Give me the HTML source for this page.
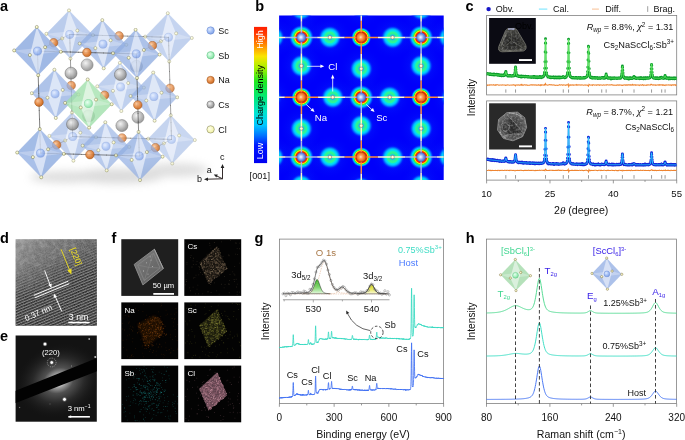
<!DOCTYPE html>
<html><head><meta charset="utf-8"><title>Figure</title>
<style>
html,body{margin:0;padding:0;background:#fff;}
body{width:685px;height:440px;overflow:hidden;}
svg{display:block;font-family:'Liberation Sans', Arial, Helvetica, sans-serif;}
</style></head><body>
<svg width="685" height="440" viewBox="0 0 685 440">
<defs>
<radialGradient id="gSc" cx="0.38" cy="0.35" r="0.7"><stop offset="0" stop-color="#dde9ff"/><stop offset="0.6" stop-color="#9dbaf3"/><stop offset="1" stop-color="#7c9de2"/></radialGradient>
<radialGradient id="gSb" cx="0.38" cy="0.35" r="0.7"><stop offset="0" stop-color="#e6fff0"/><stop offset="0.6" stop-color="#a4f0bc"/><stop offset="1" stop-color="#78d898"/></radialGradient>
<radialGradient id="gNa" cx="0.38" cy="0.35" r="0.7"><stop offset="0" stop-color="#fbc79a"/><stop offset="0.55" stop-color="#e58a45"/><stop offset="1" stop-color="#c4651f"/></radialGradient>
<radialGradient id="gCs" cx="0.38" cy="0.35" r="0.7"><stop offset="0" stop-color="#f2f2f2"/><stop offset="0.55" stop-color="#b4b4b4"/><stop offset="1" stop-color="#808080"/></radialGradient>
<radialGradient id="gCl" cx="0.4" cy="0.38" r="0.7"><stop offset="0" stop-color="#ffffe8"/><stop offset="0.7" stop-color="#f6f6b4"/><stop offset="1" stop-color="#dcdc90"/></radialGradient>
<filter id="blurA" x="-30%" y="-100%" width="160%" height="300%"><feGaussianBlur stdDeviation="4"/></filter>
<clipPath id="clipB"><rect x="279.1" y="15.5" width="164.6" height="164.5"/></clipPath>
<linearGradient id="cbar" x1="0" y1="0" x2="0" y2="1">
<stop offset="0" stop-color="#ff1e00"/><stop offset="0.06" stop-color="#ff4000"/><stop offset="0.14" stop-color="#ff9000"/><stop offset="0.215" stop-color="#fbe400"/>
<stop offset="0.30" stop-color="#a8f000"/><stop offset="0.40" stop-color="#20e820"/><stop offset="0.52" stop-color="#00e878"/><stop offset="0.63" stop-color="#00e4d0"/><stop offset="0.72" stop-color="#00c8ff"/>
<stop offset="0.80" stop-color="#0070ff"/><stop offset="0.87" stop-color="#0018ff"/><stop offset="1" stop-color="#0000f0"/></linearGradient>
<radialGradient id="haloCl"><stop offset="0" stop-color="#2a8cf0"/>
<stop offset="0.18" stop-color="#18b8f0"/><stop offset="0.27" stop-color="#28e8a8"/><stop offset="0.33" stop-color="#2cf490"/><stop offset="0.44" stop-color="#2cf49c"/>
<stop offset="0.52" stop-color="#04e8e0"/><stop offset="0.62" stop-color="#00ccff"/><stop offset="0.70" stop-color="#00a0ff"/><stop offset="0.80" stop-color="#0058ff" stop-opacity="0.9"/><stop offset="0.9" stop-color="#0020ff" stop-opacity="0.5"/><stop offset="1" stop-color="#0010ff" stop-opacity="0"/></radialGradient>
<radialGradient id="haloSc"><stop offset="0" stop-color="#ff2000"/><stop offset="0.44" stop-color="#ff2000"/><stop offset="0.48" stop-color="#ff7800"/><stop offset="0.525" stop-color="#f8f000"/>
<stop offset="0.59" stop-color="#48f020"/><stop offset="0.66" stop-color="#00ecb0"/><stop offset="0.74" stop-color="#00c8ff"/><stop offset="0.85" stop-color="#0070ff" stop-opacity="0.85"/><stop offset="1" stop-color="#0010ff" stop-opacity="0"/></radialGradient>
<radialGradient id="haloNa"><stop offset="0" stop-color="#ff2000"/><stop offset="0.55" stop-color="#ff2000"/><stop offset="0.6" stop-color="#ff7800"/><stop offset="0.645" stop-color="#f8f000"/>
<stop offset="0.70" stop-color="#48f020"/><stop offset="0.76" stop-color="#00ecb0"/><stop offset="0.82" stop-color="#00c0ff"/><stop offset="0.9" stop-color="#0060ff" stop-opacity="0.8"/><stop offset="1" stop-color="#0010ff" stop-opacity="0"/></radialGradient>
<radialGradient id="broadB"><stop offset="0" stop-color="#1060ff" stop-opacity="0.34"/><stop offset="0.5" stop-color="#0840ff" stop-opacity="0.18"/><stop offset="1" stop-color="#0018ff" stop-opacity="0"/></radialGradient>
<radialGradient id="sphSc" cx="0.45" cy="0.48" r="0.6"><stop offset="0" stop-color="#ffffff"/><stop offset="0.2" stop-color="#c8dcff"/><stop offset="0.6" stop-color="#6f8fe0"/><stop offset="1" stop-color="#4560b8"/></radialGradient>
<radialGradient id="sphNa" cx="0.45" cy="0.48" r="0.6"><stop offset="0" stop-color="#ffe8c8"/><stop offset="0.25" stop-color="#ffa860"/><stop offset="0.7" stop-color="#e86818"/><stop offset="1" stop-color="#b04008"/></radialGradient>
<radialGradient id="sphCl" cx="0.45" cy="0.45" r="0.6"><stop offset="0" stop-color="#ffffff"/><stop offset="0.6" stop-color="#fff8c8"/><stop offset="1" stop-color="#d8c070"/></radialGradient>
<clipPath id="clipC1"><rect x="486.6" y="15.4" width="190.1" height="79.5"/></clipPath><clipPath id="clipC2"><rect x="486.6" y="100.9" width="190.1" height="79.2"/></clipPath>
<radialGradient id="cryT" cx="0.5" cy="0.6" r="0.6"><stop offset="0" stop-color="#1f1f1e"/><stop offset="0.55" stop-color="#2e2e2b"/><stop offset="1" stop-color="#4c4c46"/></radialGradient>
<radialGradient id="cryB" cx="0.5" cy="0.52" r="0.55"><stop offset="0" stop-color="#3c3c3c"/><stop offset="0.6" stop-color="#4e4e4e"/><stop offset="0.9" stop-color="#6c6c6c"/><stop offset="1" stop-color="#7a7a7a"/></radialGradient>
<filter id="blur06"><feGaussianBlur stdDeviation="0.6"/></filter><filter id="blur1"><feGaussianBlur stdDeviation="1"/></filter>
<clipPath id="clipCB"><path d="M507 112.6L517.5 112.2L524.6 117.6L526.6 127.4L522.6 136.6L513 140.8L503.4 138.4L497.6 130L498.6 119.4Z"/></clipPath><clipPath id="clipCT"><path d="M508 28.6L514.4 28.4Q516.4 28.8 517.6 31L525.6 44.6Q527.4 49.6 523.4 51L502 51.8Q497.4 51.2 498.8 46.6L505.4 31Q506.4 29 508 28.6Z"/></clipPath><filter id="noiseC" x="0" y="0" width="100%" height="100%"><feTurbulence type="fractalNoise" baseFrequency="0.45" numOctaves="2" seed="5" result="n"/><feColorMatrix in="n" type="matrix" values="0 0 0 0 0.75  0 0 0 0 0.75  0 0 0 0 0.75  2.2 0 0 0 -0.85"/></filter><filter id="noiseCd" x="0" y="0" width="100%" height="100%"><feTurbulence type="fractalNoise" baseFrequency="0.4" numOctaves="2" seed="9" result="n"/><feColorMatrix in="n" type="matrix" values="0 0 0 0 0.05  0 0 0 0 0.05  0 0 0 0 0.05  0 2.2 0 0 -0.85"/></filter>
<clipPath id="clipD"><rect x="15.6" y="239.2" width="81.2" height="86.5"/></clipPath>
<linearGradient id="dBase" x1="0" y1="0" x2="1" y2="1"><stop offset="0" stop-color="#a2a2a2"/><stop offset="0.2" stop-color="#7c7c7c"/><stop offset="0.45" stop-color="#666666"/><stop offset="1" stop-color="#4c4c4c"/></linearGradient>
<pattern id="fringe" width="2.6" height="2.6" patternUnits="userSpaceOnUse" patternTransform="rotate(-22.4)"><rect width="2.6" height="2.6" fill="#868686"/><rect y="0" width="2.6" height="1.45" fill="#1a1a1a"/></pattern>
<linearGradient id="fadeD" gradientUnits="userSpaceOnUse" x1="38" y1="256" x2="52" y2="290"><stop offset="0" stop-color="#000"/><stop offset="0.25" stop-color="#2a2a2a"/><stop offset="0.55" stop-color="#777"/><stop offset="1" stop-color="#fff"/></linearGradient>
<mask id="maskD"><rect x="0" y="200" width="140" height="160" fill="url(#fadeD)"/></mask>
<filter id="noiseD" x="0" y="0" width="100%" height="100%"><feTurbulence type="fractalNoise" baseFrequency="0.9" numOctaves="2" seed="3" result="n"/><feColorMatrix in="n" type="matrix" values="0 0 0 0 0.42  0 0 0 0 0.42  0 0 0 0 0.42  1.6 0 0 0 -0.45"/></filter>
<filter id="noiseD3" x="0" y="0" width="100%" height="100%"><feTurbulence type="fractalNoise" baseFrequency="0.12" numOctaves="2" seed="21" result="n"/><feColorMatrix in="n" type="matrix" values="0 0 0 0 0.1  0 0 0 0 0.1  0 0 0 0 0.1  0 1.8 0 0 -0.65"/></filter>
<filter id="noiseD2" x="0" y="0" width="100%" height="100%"><feTurbulence type="fractalNoise" baseFrequency="0.25" numOctaves="2" seed="8" result="n"/><feColorMatrix in="n" type="matrix" values="0 0 0 0 1  0 0 0 0 1  0 0 0 0 1  1.5 0 0 0 -0.6"/></filter>
<clipPath id="clipE"><rect x="15.6" y="335.5" width="81.2" height="86.2"/></clipPath>
<radialGradient id="eGlow"><stop offset="0" stop-color="#fff"/><stop offset="0.1" stop-color="#f4f4f4"/><stop offset="0.2" stop-color="#9a9a9a"/><stop offset="0.35" stop-color="#505050"/><stop offset="0.6" stop-color="#2a2a2a"/><stop offset="1" stop-color="#161616" stop-opacity="0"/></radialGradient>
<radialGradient id="eSpot"><stop offset="0" stop-color="#fff"/><stop offset="0.35" stop-color="#fff"/><stop offset="0.6" stop-color="#aaa" stop-opacity="0.7"/><stop offset="1" stop-color="#444" stop-opacity="0"/></radialGradient>
<linearGradient id="semG" x1="0" y1="0" x2="1" y2="1"><stop offset="0" stop-color="#7c7c7c"/><stop offset="1" stop-color="#5e5e5e"/></linearGradient>
<linearGradient id="gGreen" x1="0" y1="0" x2="0" y2="1"><stop offset="0" stop-color="#35b82a"/><stop offset="0.55" stop-color="#7fd870"/><stop offset="1" stop-color="#e8f8e0"/></linearGradient><linearGradient id="gYel" x1="0" y1="0" x2="0" y2="1"><stop offset="0" stop-color="#d6d618"/><stop offset="0.55" stop-color="#e8e868"/><stop offset="1" stop-color="#fafae0"/></linearGradient>
</defs>
<rect width="685" height="440" fill="#fff"/>
<text x="0" y="10.8" font-size="14.5" fill="#000" text-anchor="start" font-weight="bold" >a</text>
<text x="255.2" y="10.8" font-size="14.5" fill="#000" text-anchor="start" font-weight="bold" >b</text>
<text x="465.6" y="10.8" font-size="14.5" fill="#000" text-anchor="start" font-weight="bold" >c</text>
<text x="0" y="243" font-size="14.5" fill="#000" text-anchor="start" font-weight="bold" >d</text>
<text x="0" y="341.2" font-size="14.5" fill="#000" text-anchor="start" font-weight="bold" >e</text>
<text x="111.6" y="243" font-size="14.5" fill="#000" text-anchor="start" font-weight="bold" >f</text>
<text x="254.6" y="242.6" font-size="14.5" fill="#000" text-anchor="start" font-weight="bold" >g</text>
<text x="465.8" y="242.6" font-size="14.5" fill="#000" text-anchor="start" font-weight="bold" >h</text>
<g id="panelA">
<g filter="url(#blurA)" opacity="0.36"><ellipse cx="64" cy="177" rx="34" ry="6" fill="#a4a4a4"/><ellipse cx="118" cy="176" rx="46" ry="7.5" fill="#9c9c9c"/><ellipse cx="176" cy="170" rx="32" ry="7" fill="#a8a8a8"/></g>
<path d="M171.5 139.4L171.25 130.89" stroke="#3c3c3c" stroke-width="0.65" stroke-linecap="round" opacity="0.65"/>
<path d="M163.27 139.17L171.5 139.4" stroke="#3c3c3c" stroke-width="0.65" stroke-linecap="round" opacity="0.65"/>
<path d="M171.25 130.89L171 122.38" stroke="#3c3c3c" stroke-width="0.65" stroke-linecap="round" opacity="0.65"/>
<path d="M171 122.38L170.75 113.88" stroke="#3c3c3c" stroke-width="0.65" stroke-linecap="round" opacity="0.66"/>
<path d="M155.03 138.93L163.27 139.17" stroke="#3c3c3c" stroke-width="0.65" stroke-linecap="round" opacity="0.66"/>
<path d="M168.82 140.78L171.5 139.4" stroke="#3c3c3c" stroke-width="0.65" stroke-linecap="round" opacity="0.2"/>
<path d="M170.75 113.88L170.5 105.37" stroke="#3c3c3c" stroke-width="0.65" stroke-linecap="round" opacity="0.66"/>
<path d="M170.5 105.37L170.25 96.86" stroke="#3c3c3c" stroke-width="0.65" stroke-linecap="round" opacity="0.66"/>
<path d="M146.8 138.7L155.03 138.93" stroke="#3c3c3c" stroke-width="0.65" stroke-linecap="round" opacity="0.66"/>
<path d="M170.25 96.86L170 88.35" stroke="#3c3c3c" stroke-width="0.65" stroke-linecap="round" opacity="0.66"/>
<path d="M170 88.35L169.75 79.84" stroke="#3c3c3c" stroke-width="0.65" stroke-linecap="round" opacity="0.67"/>
<path d="M138.57 138.47L146.8 138.7" stroke="#3c3c3c" stroke-width="0.65" stroke-linecap="round" opacity="0.67"/>
<path d="M169.75 79.84L169.5 71.33" stroke="#3c3c3c" stroke-width="0.65" stroke-linecap="round" opacity="0.67"/>
<path d="M169.5 71.33L169.25 62.83" stroke="#3c3c3c" stroke-width="0.65" stroke-linecap="round" opacity="0.67"/>
<path d="M130.33 138.23L138.57 138.47" stroke="#3c3c3c" stroke-width="0.65" stroke-linecap="round" opacity="0.67"/>
<path d="M169.25 62.83L169 54.32" stroke="#3c3c3c" stroke-width="0.65" stroke-linecap="round" opacity="0.68"/>
<path d="M166.13 142.17L168.82 140.78" stroke="#3c3c3c" stroke-width="0.65" stroke-linecap="round" opacity="0.2"/>
<g opacity="0.61">
<polygon points="170.79,115.3 194.82,140.06 172.21,163.5 148.18,138.74" fill="#95b0e4" fill-opacity="0.84" stroke="#7f9cd8" stroke-width="0.3" stroke-opacity="0.6"/>
<polygon points="170.79,115.3 163.9,143.32 172.21,163.5 179.1,135.48" fill="#fff" fill-opacity="0.54"/>
<polygon points="148.18,138.74 163.9,143.32 194.82,140.06 179.1,135.48" fill="#fff" fill-opacity="0.3"/>
<polygon points="170.79,115.3 148.18,138.74 163.9,143.32" fill="#7f9cd8" fill-opacity="0.12"/>
<polygon points="172.21,163.5 194.82,140.06 179.1,135.48" fill="#7f9cd8" fill-opacity="0.12"/>
<circle cx="171.5" cy="139.4" r="4.1" fill="url(#gSc)" stroke="#6d8fd6" stroke-width="0.5" opacity="0.9"/>
<circle cx="179.1" cy="135.48" r="1.55" fill="url(#gCl)" stroke="#6e6e50" stroke-width="0.45"/>
<circle cx="170.79" cy="115.3" r="1.55" fill="url(#gCl)" stroke="#6e6e50" stroke-width="0.45"/>
<circle cx="172.21" cy="163.5" r="1.55" fill="url(#gCl)" stroke="#6e6e50" stroke-width="0.45"/>
<circle cx="148.18" cy="138.74" r="1.55" fill="url(#gCl)" stroke="#6e6e50" stroke-width="0.45"/>
<circle cx="194.82" cy="140.06" r="1.55" fill="url(#gCl)" stroke="#6e6e50" stroke-width="0.45"/>
<circle cx="163.9" cy="143.32" r="1.55" fill="url(#gCl)" stroke="#6e6e50" stroke-width="0.45"/>
</g>
<path d="M169 54.32L168.75 45.81" stroke="#3c3c3c" stroke-width="0.65" stroke-linecap="round" opacity="0.68"/>
<path d="M122.1 138L130.33 138.23" stroke="#3c3c3c" stroke-width="0.65" stroke-linecap="round" opacity="0.68"/>
<path d="M168.75 45.81L168.5 37.3" stroke="#3c3c3c" stroke-width="0.65" stroke-linecap="round" opacity="0.68"/>
<path d="M113.87 137.77L122.1 138" stroke="#3c3c3c" stroke-width="0.65" stroke-linecap="round" opacity="0.68"/>
<path d="M160.27 37.07L168.5 37.3" stroke="#3c3c3c" stroke-width="0.65" stroke-linecap="round" opacity="0.68"/>
<path d="M105.63 137.53L113.87 137.77" stroke="#3c3c3c" stroke-width="0.65" stroke-linecap="round" opacity="0.69"/>
<path d="M152.03 36.83L160.27 37.07" stroke="#3c3c3c" stroke-width="0.65" stroke-linecap="round" opacity="0.69"/>
<path d="M165.82 38.68L168.5 37.3" stroke="#3c3c3c" stroke-width="0.65" stroke-linecap="round" opacity="0.21"/>
<circle cx="170" cy="88.35" r="4.3" fill="url(#gNa)" stroke="#9a5018" stroke-width="0.5" opacity="0.78"/>
<path d="M163.45 143.55L166.13 142.17" stroke="#3c3c3c" stroke-width="0.65" stroke-linecap="round" opacity="0.21"/>
<path d="M143.8 36.6L152.03 36.83" stroke="#3c3c3c" stroke-width="0.65" stroke-linecap="round" opacity="0.7"/>
<path d="M97.4 137.3L105.63 137.53" stroke="#3c3c3c" stroke-width="0.65" stroke-linecap="round" opacity="0.7"/>
<path d="M89.17 137.07L97.4 137.3" stroke="#3c3c3c" stroke-width="0.65" stroke-linecap="round" opacity="0.7"/>
<path d="M135.57 36.37L143.8 36.6" stroke="#3c3c3c" stroke-width="0.65" stroke-linecap="round" opacity="0.7"/>
<path d="M80.93 136.83L89.17 137.07" stroke="#3c3c3c" stroke-width="0.65" stroke-linecap="round" opacity="0.71"/>
<path d="M127.33 36.13L135.57 36.37" stroke="#3c3c3c" stroke-width="0.65" stroke-linecap="round" opacity="0.71"/>
<path d="M163.13 40.07L165.82 38.68" stroke="#3c3c3c" stroke-width="0.65" stroke-linecap="round" opacity="0.21"/>
<g opacity="0.65">
<polygon points="167.79,13.2 191.82,37.96 169.21,61.4 145.18,36.64" fill="#95b0e4" fill-opacity="0.84" stroke="#7f9cd8" stroke-width="0.3" stroke-opacity="0.6"/>
<polygon points="167.79,13.2 160.9,41.22 169.21,61.4 176.1,33.38" fill="#fff" fill-opacity="0.54"/>
<polygon points="145.18,36.64 160.9,41.22 191.82,37.96 176.1,33.38" fill="#fff" fill-opacity="0.3"/>
<polygon points="167.79,13.2 145.18,36.64 160.9,41.22" fill="#7f9cd8" fill-opacity="0.12"/>
<polygon points="169.21,61.4 191.82,37.96 176.1,33.38" fill="#7f9cd8" fill-opacity="0.12"/>
<circle cx="168.5" cy="37.3" r="4.1" fill="url(#gSc)" stroke="#6d8fd6" stroke-width="0.5" opacity="0.9"/>
<circle cx="176.1" cy="33.38" r="1.55" fill="url(#gCl)" stroke="#6e6e50" stroke-width="0.45"/>
<circle cx="167.79" cy="13.2" r="1.55" fill="url(#gCl)" stroke="#6e6e50" stroke-width="0.45"/>
<circle cx="169.21" cy="61.4" r="1.55" fill="url(#gCl)" stroke="#6e6e50" stroke-width="0.45"/>
<circle cx="145.18" cy="36.64" r="1.55" fill="url(#gCl)" stroke="#6e6e50" stroke-width="0.45"/>
<circle cx="191.82" cy="37.96" r="1.55" fill="url(#gCl)" stroke="#6e6e50" stroke-width="0.45"/>
<circle cx="160.9" cy="41.22" r="1.55" fill="url(#gCl)" stroke="#6e6e50" stroke-width="0.45"/>
</g>
<circle cx="122.1" cy="138" r="4.3" fill="url(#gNa)" stroke="#9a5018" stroke-width="0.5" opacity="0.79"/>
<path d="M72.7 136.6L80.93 136.83" stroke="#3c3c3c" stroke-width="0.65" stroke-linecap="round" opacity="0.71"/>
<path d="M119.1 35.9L127.33 36.13" stroke="#3c3c3c" stroke-width="0.65" stroke-linecap="round" opacity="0.71"/>
<path d="M160.77 144.93L163.45 143.55" stroke="#3c3c3c" stroke-width="0.65" stroke-linecap="round" opacity="0.21"/>
<path d="M72.7 136.6L72.45 128.09" stroke="#3c3c3c" stroke-width="0.65" stroke-linecap="round" opacity="0.72"/>
<path d="M110.87 35.67L119.1 35.9" stroke="#3c3c3c" stroke-width="0.65" stroke-linecap="round" opacity="0.72"/>
<path d="M72.45 128.09L72.2 119.58" stroke="#3c3c3c" stroke-width="0.65" stroke-linecap="round" opacity="0.72"/>
<path d="M72.2 119.58L71.95 111.07" stroke="#3c3c3c" stroke-width="0.65" stroke-linecap="round" opacity="0.72"/>
<path d="M102.63 35.43L110.87 35.67" stroke="#3c3c3c" stroke-width="0.65" stroke-linecap="round" opacity="0.72"/>
<path d="M70.02 137.98L72.7 136.6" stroke="#3c3c3c" stroke-width="0.65" stroke-linecap="round" opacity="0.22"/>
<path d="M71.95 111.07L71.7 102.57" stroke="#3c3c3c" stroke-width="0.65" stroke-linecap="round" opacity="0.73"/>
<g opacity="0.67">
<polygon points="119.89,62.85 143.92,87.61 121.31,111.05 97.28,86.29" fill="#95b0e4" fill-opacity="0.84" stroke="#7f9cd8" stroke-width="0.3" stroke-opacity="0.6"/>
<polygon points="119.89,62.85 113,90.87 121.31,111.05 128.2,83.03" fill="#fff" fill-opacity="0.54"/>
<polygon points="97.28,86.29 113,90.87 143.92,87.61 128.2,83.03" fill="#fff" fill-opacity="0.3"/>
<polygon points="119.89,62.85 97.28,86.29 113,90.87" fill="#7f9cd8" fill-opacity="0.12"/>
<polygon points="121.31,111.05 143.92,87.61 128.2,83.03" fill="#7f9cd8" fill-opacity="0.12"/>
<circle cx="120.6" cy="86.95" r="4.1" fill="url(#gSc)" stroke="#6d8fd6" stroke-width="0.5" opacity="0.9"/>
<circle cx="128.2" cy="83.03" r="1.55" fill="url(#gCl)" stroke="#6e6e50" stroke-width="0.45"/>
<circle cx="119.89" cy="62.85" r="1.55" fill="url(#gCl)" stroke="#6e6e50" stroke-width="0.45"/>
<circle cx="121.31" cy="111.05" r="1.55" fill="url(#gCl)" stroke="#6e6e50" stroke-width="0.45"/>
<circle cx="97.28" cy="86.29" r="1.55" fill="url(#gCl)" stroke="#6e6e50" stroke-width="0.45"/>
<circle cx="143.92" cy="87.61" r="1.55" fill="url(#gCl)" stroke="#6e6e50" stroke-width="0.45"/>
<circle cx="113" cy="90.87" r="1.55" fill="url(#gCl)" stroke="#6e6e50" stroke-width="0.45"/>
</g>
<path d="M71.7 102.57L71.45 94.06" stroke="#3c3c3c" stroke-width="0.65" stroke-linecap="round" opacity="0.73"/>
<path d="M160.45 41.45L163.13 40.07" stroke="#3c3c3c" stroke-width="0.65" stroke-linecap="round" opacity="0.22"/>
<path d="M94.4 35.2L102.63 35.43" stroke="#3c3c3c" stroke-width="0.65" stroke-linecap="round" opacity="0.73"/>
<path d="M71.45 94.06L71.2 85.55" stroke="#3c3c3c" stroke-width="0.65" stroke-linecap="round" opacity="0.73"/>
<path d="M158.08 146.32L160.77 144.93" stroke="#3c3c3c" stroke-width="0.65" stroke-linecap="round" opacity="0.22"/>
<path d="M71.2 85.55L70.95 77.04" stroke="#3c3c3c" stroke-width="0.65" stroke-linecap="round" opacity="0.73"/>
<path d="M86.17 34.97L94.4 35.2" stroke="#3c3c3c" stroke-width="0.65" stroke-linecap="round" opacity="0.73"/>
<path d="M70.95 77.04L70.7 68.53" stroke="#3c3c3c" stroke-width="0.65" stroke-linecap="round" opacity="0.74"/>
<path d="M70.7 68.53L70.45 60.03" stroke="#3c3c3c" stroke-width="0.65" stroke-linecap="round" opacity="0.74"/>
<path d="M77.93 34.73L86.17 34.97" stroke="#3c3c3c" stroke-width="0.65" stroke-linecap="round" opacity="0.74"/>
<path d="M70.45 60.03L70.2 51.52" stroke="#3c3c3c" stroke-width="0.65" stroke-linecap="round" opacity="0.74"/>
<path d="M67.33 139.37L70.02 137.98" stroke="#3c3c3c" stroke-width="0.65" stroke-linecap="round" opacity="0.22"/>
<g opacity="0.69">
<polygon points="71.99,112.5 96.02,137.26 73.41,160.7 49.38,135.94" fill="#95b0e4" fill-opacity="0.84" stroke="#7f9cd8" stroke-width="0.3" stroke-opacity="0.6"/>
<polygon points="71.99,112.5 65.1,140.52 73.41,160.7 80.3,132.68" fill="#fff" fill-opacity="0.54"/>
<polygon points="49.38,135.94 65.1,140.52 96.02,137.26 80.3,132.68" fill="#fff" fill-opacity="0.3"/>
<polygon points="71.99,112.5 49.38,135.94 65.1,140.52" fill="#7f9cd8" fill-opacity="0.12"/>
<polygon points="73.41,160.7 96.02,137.26 80.3,132.68" fill="#7f9cd8" fill-opacity="0.12"/>
<circle cx="72.7" cy="136.6" r="4.1" fill="url(#gSc)" stroke="#6d8fd6" stroke-width="0.5" opacity="0.9"/>
<circle cx="80.3" cy="132.68" r="1.55" fill="url(#gCl)" stroke="#6e6e50" stroke-width="0.45"/>
<circle cx="71.99" cy="112.5" r="1.55" fill="url(#gCl)" stroke="#6e6e50" stroke-width="0.45"/>
<circle cx="73.41" cy="160.7" r="1.55" fill="url(#gCl)" stroke="#6e6e50" stroke-width="0.45"/>
<circle cx="49.38" cy="135.94" r="1.55" fill="url(#gCl)" stroke="#6e6e50" stroke-width="0.45"/>
<circle cx="96.02" cy="137.26" r="1.55" fill="url(#gCl)" stroke="#6e6e50" stroke-width="0.45"/>
<circle cx="65.1" cy="140.52" r="1.55" fill="url(#gCl)" stroke="#6e6e50" stroke-width="0.45"/>
</g>
<circle cx="119.1" cy="35.9" r="4.3" fill="url(#gNa)" stroke="#9a5018" stroke-width="0.5" opacity="0.82"/>
<path d="M70.2 51.52L69.95 43.01" stroke="#3c3c3c" stroke-width="0.65" stroke-linecap="round" opacity="0.74"/>
<path d="M69.7 34.5L77.93 34.73" stroke="#3c3c3c" stroke-width="0.65" stroke-linecap="round" opacity="0.75"/>
<path d="M157.77 42.83L160.45 41.45" stroke="#3c3c3c" stroke-width="0.65" stroke-linecap="round" opacity="0.22"/>
<path d="M69.95 43.01L69.7 34.5" stroke="#3c3c3c" stroke-width="0.65" stroke-linecap="round" opacity="0.75"/>
<path d="M155.4 147.7L158.08 146.32" stroke="#3c3c3c" stroke-width="0.65" stroke-linecap="round" opacity="0.23"/>
<path d="M67.02 35.88L69.7 34.5" stroke="#3c3c3c" stroke-width="0.65" stroke-linecap="round" opacity="0.23"/>
<circle cx="138" cy="117.32" r="6" fill="url(#gCs)" stroke="#5e5e5e" stroke-width="0.5" opacity="0.83"/>
<circle cx="71.2" cy="85.55" r="4.3" fill="url(#gNa)" stroke="#9a5018" stroke-width="0.5" opacity="0.83"/>
<path d="M64.65 140.75L67.33 139.37" stroke="#3c3c3c" stroke-width="0.65" stroke-linecap="round" opacity="0.23"/>
<path d="M155.08 44.22L157.77 42.83" stroke="#3c3c3c" stroke-width="0.65" stroke-linecap="round" opacity="0.23"/>
<path d="M152.72 149.08L155.4 147.7" stroke="#3c3c3c" stroke-width="0.65" stroke-linecap="round" opacity="0.23"/>
<circle cx="136.5" cy="66.28" r="6" fill="url(#gCs)" stroke="#5e5e5e" stroke-width="0.5" opacity="0.84"/>
<path d="M64.33 37.27L67.02 35.88" stroke="#3c3c3c" stroke-width="0.65" stroke-linecap="round" opacity="0.23"/>
<g opacity="0.73">
<polygon points="68.99,10.4 93.02,35.16 70.41,58.6 46.38,33.84" fill="#95b0e4" fill-opacity="0.84" stroke="#7f9cd8" stroke-width="0.3" stroke-opacity="0.6"/>
<polygon points="68.99,10.4 62.1,38.42 70.41,58.6 77.3,30.58" fill="#fff" fill-opacity="0.54"/>
<polygon points="46.38,33.84 62.1,38.42 93.02,35.16 77.3,30.58" fill="#fff" fill-opacity="0.3"/>
<polygon points="68.99,10.4 46.38,33.84 62.1,38.42" fill="#7f9cd8" fill-opacity="0.12"/>
<polygon points="70.41,58.6 93.02,35.16 77.3,30.58" fill="#7f9cd8" fill-opacity="0.12"/>
<circle cx="69.7" cy="34.5" r="4.1" fill="url(#gSc)" stroke="#6d8fd6" stroke-width="0.5" opacity="0.9"/>
<circle cx="77.3" cy="30.58" r="1.55" fill="url(#gCl)" stroke="#6e6e50" stroke-width="0.45"/>
<circle cx="68.99" cy="10.4" r="1.55" fill="url(#gCl)" stroke="#6e6e50" stroke-width="0.45"/>
<circle cx="70.41" cy="58.6" r="1.55" fill="url(#gCl)" stroke="#6e6e50" stroke-width="0.45"/>
<circle cx="46.38" cy="33.84" r="1.55" fill="url(#gCl)" stroke="#6e6e50" stroke-width="0.45"/>
<circle cx="93.02" cy="35.16" r="1.55" fill="url(#gCl)" stroke="#6e6e50" stroke-width="0.45"/>
<circle cx="62.1" cy="38.42" r="1.55" fill="url(#gCl)" stroke="#6e6e50" stroke-width="0.45"/>
</g>
<path d="M61.97 142.13L64.65 140.75" stroke="#3c3c3c" stroke-width="0.65" stroke-linecap="round" opacity="0.23"/>
<path d="M152.4 45.6L155.08 44.22" stroke="#3c3c3c" stroke-width="0.65" stroke-linecap="round" opacity="0.24"/>
<path d="M150.03 150.47L152.72 149.08" stroke="#3c3c3c" stroke-width="0.65" stroke-linecap="round" opacity="0.24"/>
<circle cx="155.4" cy="147.7" r="4.3" fill="url(#gNa)" stroke="#9a5018" stroke-width="0.5" opacity="0.85"/>
<circle cx="88.6" cy="115.92" r="6" fill="url(#gCs)" stroke="#5e5e5e" stroke-width="0.5" opacity="0.85"/>
<path d="M61.65 38.65L64.33 37.27" stroke="#3c3c3c" stroke-width="0.65" stroke-linecap="round" opacity="0.24"/>
<path d="M59.28 143.52L61.97 142.13" stroke="#3c3c3c" stroke-width="0.65" stroke-linecap="round" opacity="0.24"/>
<path d="M149.72 46.98L152.4 45.6" stroke="#3c3c3c" stroke-width="0.65" stroke-linecap="round" opacity="0.24"/>
<g opacity="0.77">
<polygon points="153.19,72.55 177.22,97.31 154.61,120.75 130.58,95.99" fill="#95b0e4" fill-opacity="0.84" stroke="#7f9cd8" stroke-width="0.3" stroke-opacity="0.6"/>
<polygon points="153.19,72.55 146.3,100.57 154.61,120.75 161.5,92.73" fill="#fff" fill-opacity="0.54"/>
<polygon points="130.58,95.99 146.3,100.57 177.22,97.31 161.5,92.73" fill="#fff" fill-opacity="0.3"/>
<polygon points="153.19,72.55 130.58,95.99 146.3,100.57" fill="#7f9cd8" fill-opacity="0.12"/>
<polygon points="154.61,120.75 177.22,97.31 161.5,92.73" fill="#7f9cd8" fill-opacity="0.12"/>
<circle cx="153.9" cy="96.65" r="4.1" fill="url(#gSc)" stroke="#6d8fd6" stroke-width="0.5" opacity="0.9"/>
<circle cx="161.5" cy="92.73" r="1.55" fill="url(#gCl)" stroke="#6e6e50" stroke-width="0.45"/>
<circle cx="153.19" cy="72.55" r="1.55" fill="url(#gCl)" stroke="#6e6e50" stroke-width="0.45"/>
<circle cx="154.61" cy="120.75" r="1.55" fill="url(#gCl)" stroke="#6e6e50" stroke-width="0.45"/>
<circle cx="130.58" cy="95.99" r="1.55" fill="url(#gCl)" stroke="#6e6e50" stroke-width="0.45"/>
<circle cx="177.22" cy="97.31" r="1.55" fill="url(#gCl)" stroke="#6e6e50" stroke-width="0.45"/>
<circle cx="146.3" cy="100.57" r="1.55" fill="url(#gCl)" stroke="#6e6e50" stroke-width="0.45"/>
</g>
<path d="M147.35 151.85L150.03 150.47" stroke="#3c3c3c" stroke-width="0.65" stroke-linecap="round" opacity="0.24"/>
<circle cx="87.1" cy="64.88" r="6" fill="url(#gCs)" stroke="#5e5e5e" stroke-width="0.5" opacity="0.86"/>
<path d="M58.97 40.03L61.65 38.65" stroke="#3c3c3c" stroke-width="0.65" stroke-linecap="round" opacity="0.24"/>
<path d="M56.6 144.9L59.28 143.52" stroke="#3c3c3c" stroke-width="0.65" stroke-linecap="round" opacity="0.25"/>
<path d="M147.03 48.37L149.72 46.98" stroke="#3c3c3c" stroke-width="0.65" stroke-linecap="round" opacity="0.25"/>
<g opacity="0.79">
<polygon points="105.29,122.2 129.32,146.96 106.71,170.4 82.68,145.64" fill="#95b0e4" fill-opacity="0.84" stroke="#7f9cd8" stroke-width="0.3" stroke-opacity="0.6"/>
<polygon points="105.29,122.2 98.4,150.22 106.71,170.4 113.6,142.38" fill="#fff" fill-opacity="0.54"/>
<polygon points="82.68,145.64 98.4,150.22 129.32,146.96 113.6,142.38" fill="#fff" fill-opacity="0.3"/>
<polygon points="105.29,122.2 82.68,145.64 98.4,150.22" fill="#7f9cd8" fill-opacity="0.12"/>
<polygon points="106.71,170.4 129.32,146.96 113.6,142.38" fill="#7f9cd8" fill-opacity="0.12"/>
<circle cx="106" cy="146.3" r="4.1" fill="url(#gSc)" stroke="#6d8fd6" stroke-width="0.5" opacity="0.9"/>
<circle cx="113.6" cy="142.38" r="1.55" fill="url(#gCl)" stroke="#6e6e50" stroke-width="0.45"/>
<circle cx="105.29" cy="122.2" r="1.55" fill="url(#gCl)" stroke="#6e6e50" stroke-width="0.45"/>
<circle cx="106.71" cy="170.4" r="1.55" fill="url(#gCl)" stroke="#6e6e50" stroke-width="0.45"/>
<circle cx="82.68" cy="145.64" r="1.55" fill="url(#gCl)" stroke="#6e6e50" stroke-width="0.45"/>
<circle cx="129.32" cy="146.96" r="1.55" fill="url(#gCl)" stroke="#6e6e50" stroke-width="0.45"/>
<circle cx="98.4" cy="150.22" r="1.55" fill="url(#gCl)" stroke="#6e6e50" stroke-width="0.45"/>
</g>
<circle cx="152.4" cy="45.6" r="4.3" fill="url(#gNa)" stroke="#9a5018" stroke-width="0.5" opacity="0.87"/>
<path d="M144.67 153.23L147.35 151.85" stroke="#3c3c3c" stroke-width="0.65" stroke-linecap="round" opacity="0.25"/>
<path d="M56.28 41.42L58.97 40.03" stroke="#3c3c3c" stroke-width="0.65" stroke-linecap="round" opacity="0.25"/>
<path d="M53.92 146.28L56.6 144.9" stroke="#3c3c3c" stroke-width="0.65" stroke-linecap="round" opacity="0.25"/>
<circle cx="104.5" cy="95.25" r="4.3" fill="url(#gNa)" stroke="#9a5018" stroke-width="0.5" opacity="0.88"/>
<path d="M144.35 49.75L147.03 48.37" stroke="#3c3c3c" stroke-width="0.65" stroke-linecap="round" opacity="0.25"/>
<path d="M141.98 154.62L144.67 153.23" stroke="#3c3c3c" stroke-width="0.65" stroke-linecap="round" opacity="0.25"/>
<path d="M53.6 42.8L56.28 41.42" stroke="#3c3c3c" stroke-width="0.65" stroke-linecap="round" opacity="0.26"/>
<path d="M51.23 147.67L53.92 146.28" stroke="#3c3c3c" stroke-width="0.65" stroke-linecap="round" opacity="0.26"/>
<g opacity="0.83">
<polygon points="102.29,20.1 126.32,44.86 103.71,68.3 79.68,43.54" fill="#95b0e4" fill-opacity="0.84" stroke="#7f9cd8" stroke-width="0.3" stroke-opacity="0.6"/>
<polygon points="102.29,20.1 95.4,48.12 103.71,68.3 110.6,40.28" fill="#fff" fill-opacity="0.54"/>
<polygon points="79.68,43.54 95.4,48.12 126.32,44.86 110.6,40.28" fill="#fff" fill-opacity="0.3"/>
<polygon points="102.29,20.1 79.68,43.54 95.4,48.12" fill="#7f9cd8" fill-opacity="0.12"/>
<polygon points="103.71,68.3 126.32,44.86 110.6,40.28" fill="#7f9cd8" fill-opacity="0.12"/>
<circle cx="103" cy="44.2" r="4.1" fill="url(#gSc)" stroke="#6d8fd6" stroke-width="0.5" opacity="0.9"/>
<circle cx="110.6" cy="40.28" r="1.55" fill="url(#gCl)" stroke="#6e6e50" stroke-width="0.45"/>
<circle cx="102.29" cy="20.1" r="1.55" fill="url(#gCl)" stroke="#6e6e50" stroke-width="0.45"/>
<circle cx="103.71" cy="68.3" r="1.55" fill="url(#gCl)" stroke="#6e6e50" stroke-width="0.45"/>
<circle cx="79.68" cy="43.54" r="1.55" fill="url(#gCl)" stroke="#6e6e50" stroke-width="0.45"/>
<circle cx="126.32" cy="44.86" r="1.55" fill="url(#gCl)" stroke="#6e6e50" stroke-width="0.45"/>
<circle cx="95.4" cy="48.12" r="1.55" fill="url(#gCl)" stroke="#6e6e50" stroke-width="0.45"/>
</g>
<circle cx="56.6" cy="144.9" r="4.3" fill="url(#gNa)" stroke="#9a5018" stroke-width="0.5" opacity="0.9"/>
<path d="M141.67 51.13L144.35 49.75" stroke="#3c3c3c" stroke-width="0.65" stroke-linecap="round" opacity="0.26"/>
<path d="M139.3 156L141.98 154.62" stroke="#3c3c3c" stroke-width="0.65" stroke-linecap="round" opacity="0.26"/>
<path d="M50.92 44.18L53.6 42.8" stroke="#3c3c3c" stroke-width="0.65" stroke-linecap="round" opacity="0.26"/>
<circle cx="121.9" cy="125.62" r="6" fill="url(#gCs)" stroke="#5e5e5e" stroke-width="0.5" opacity="0.91"/>
<g opacity="0.85">
<polygon points="54.39,69.75 78.42,94.51 55.81,117.95 31.78,93.19" fill="#95b0e4" fill-opacity="0.84" stroke="#7f9cd8" stroke-width="0.3" stroke-opacity="0.6"/>
<polygon points="54.39,69.75 47.5,97.77 55.81,117.95 62.7,89.93" fill="#fff" fill-opacity="0.54"/>
<polygon points="31.78,93.19 47.5,97.77 78.42,94.51 62.7,89.93" fill="#fff" fill-opacity="0.3"/>
<polygon points="54.39,69.75 31.78,93.19 47.5,97.77" fill="#7f9cd8" fill-opacity="0.12"/>
<polygon points="55.81,117.95 78.42,94.51 62.7,89.93" fill="#7f9cd8" fill-opacity="0.12"/>
<circle cx="55.1" cy="93.85" r="4.1" fill="url(#gSc)" stroke="#6d8fd6" stroke-width="0.5" opacity="0.9"/>
<circle cx="62.7" cy="89.93" r="1.55" fill="url(#gCl)" stroke="#6e6e50" stroke-width="0.45"/>
<circle cx="54.39" cy="69.75" r="1.55" fill="url(#gCl)" stroke="#6e6e50" stroke-width="0.45"/>
<circle cx="55.81" cy="117.95" r="1.55" fill="url(#gCl)" stroke="#6e6e50" stroke-width="0.45"/>
<circle cx="31.78" cy="93.19" r="1.55" fill="url(#gCl)" stroke="#6e6e50" stroke-width="0.45"/>
<circle cx="78.42" cy="94.51" r="1.55" fill="url(#gCl)" stroke="#6e6e50" stroke-width="0.45"/>
<circle cx="47.5" cy="97.77" r="1.55" fill="url(#gCl)" stroke="#6e6e50" stroke-width="0.45"/>
</g>
<path d="M139.3 156L139.05 147.49" stroke="#3c3c3c" stroke-width="0.65" stroke-linecap="round" opacity="0.87"/>
<path d="M48.55 149.05L51.23 147.67" stroke="#3c3c3c" stroke-width="0.65" stroke-linecap="round" opacity="0.26"/>
<path d="M131.07 155.77L139.3 156" stroke="#3c3c3c" stroke-width="0.65" stroke-linecap="round" opacity="0.87"/>
<path d="M139.05 147.49L138.8 138.98" stroke="#3c3c3c" stroke-width="0.65" stroke-linecap="round" opacity="0.88"/>
<path d="M138.98 52.52L141.67 51.13" stroke="#3c3c3c" stroke-width="0.65" stroke-linecap="round" opacity="0.26"/>
<path d="M138.8 138.98L138.55 130.47" stroke="#3c3c3c" stroke-width="0.65" stroke-linecap="round" opacity="0.88"/>
<path d="M122.83 155.53L131.07 155.77" stroke="#3c3c3c" stroke-width="0.65" stroke-linecap="round" opacity="0.88"/>
<path d="M138.55 130.47L138.3 121.97" stroke="#3c3c3c" stroke-width="0.65" stroke-linecap="round" opacity="0.88"/>
<path d="M138.3 121.97L138.05 113.46" stroke="#3c3c3c" stroke-width="0.65" stroke-linecap="round" opacity="0.88"/>
<path d="M114.6 155.3L122.83 155.53" stroke="#3c3c3c" stroke-width="0.65" stroke-linecap="round" opacity="0.88"/>
<circle cx="120.4" cy="74.57" r="6" fill="url(#gCs)" stroke="#5e5e5e" stroke-width="0.5" opacity="0.92"/>
<path d="M138.05 113.46L137.8 104.95" stroke="#3c3c3c" stroke-width="0.65" stroke-linecap="round" opacity="0.89"/>
<path d="M48.23 45.57L50.92 44.18" stroke="#3c3c3c" stroke-width="0.65" stroke-linecap="round" opacity="0.27"/>
<circle cx="53.6" cy="42.8" r="4.3" fill="url(#gNa)" stroke="#9a5018" stroke-width="0.5" opacity="0.92"/>
<path d="M137.8 104.95L137.55 96.44" stroke="#3c3c3c" stroke-width="0.65" stroke-linecap="round" opacity="0.89"/>
<path d="M106.37 155.07L114.6 155.3" stroke="#3c3c3c" stroke-width="0.65" stroke-linecap="round" opacity="0.89"/>
<path d="M45.87 150.43L48.55 149.05" stroke="#3c3c3c" stroke-width="0.65" stroke-linecap="round" opacity="0.27"/>
<path d="M137.55 96.44L137.3 87.93" stroke="#3c3c3c" stroke-width="0.65" stroke-linecap="round" opacity="0.89"/>
<path d="M137.3 87.93L137.05 79.43" stroke="#3c3c3c" stroke-width="0.65" stroke-linecap="round" opacity="0.89"/>
<path d="M136.3 53.9L138.98 52.52" stroke="#3c3c3c" stroke-width="0.65" stroke-linecap="round" opacity="0.27"/>
<path d="M98.13 154.83L106.37 155.07" stroke="#3c3c3c" stroke-width="0.65" stroke-linecap="round" opacity="0.9"/>
<path d="M137.05 79.43L136.8 70.92" stroke="#3c3c3c" stroke-width="0.65" stroke-linecap="round" opacity="0.9"/>
<g opacity="0.88">
<polygon points="138.59,131.9 162.62,156.66 140.01,180.1 115.98,155.34" fill="#95b0e4" fill-opacity="0.84" stroke="#7f9cd8" stroke-width="0.3" stroke-opacity="0.6"/>
<polygon points="138.59,131.9 131.7,159.92 140.01,180.1 146.9,152.08" fill="#fff" fill-opacity="0.54"/>
<polygon points="115.98,155.34 131.7,159.92 162.62,156.66 146.9,152.08" fill="#fff" fill-opacity="0.3"/>
<polygon points="138.59,131.9 115.98,155.34 131.7,159.92" fill="#7f9cd8" fill-opacity="0.12"/>
<polygon points="140.01,180.1 162.62,156.66 146.9,152.08" fill="#7f9cd8" fill-opacity="0.12"/>
<circle cx="139.3" cy="156" r="4.1" fill="url(#gSc)" stroke="#6d8fd6" stroke-width="0.5" opacity="0.9"/>
<circle cx="146.9" cy="152.08" r="1.55" fill="url(#gCl)" stroke="#6e6e50" stroke-width="0.45"/>
<circle cx="138.59" cy="131.9" r="1.55" fill="url(#gCl)" stroke="#6e6e50" stroke-width="0.45"/>
<circle cx="140.01" cy="180.1" r="1.55" fill="url(#gCl)" stroke="#6e6e50" stroke-width="0.45"/>
<circle cx="115.98" cy="155.34" r="1.55" fill="url(#gCl)" stroke="#6e6e50" stroke-width="0.45"/>
<circle cx="162.62" cy="156.66" r="1.55" fill="url(#gCl)" stroke="#6e6e50" stroke-width="0.45"/>
<circle cx="131.7" cy="159.92" r="1.55" fill="url(#gCl)" stroke="#6e6e50" stroke-width="0.45"/>
</g>
<path d="M136.8 70.92L136.55 62.41" stroke="#3c3c3c" stroke-width="0.65" stroke-linecap="round" opacity="0.9"/>
<path d="M89.9 154.6L98.13 154.83" stroke="#3c3c3c" stroke-width="0.65" stroke-linecap="round" opacity="0.9"/>
<circle cx="72.5" cy="124.22" r="6" fill="url(#gCs)" stroke="#5e5e5e" stroke-width="0.5" opacity="0.93"/>
<path d="M136.55 62.41L136.3 53.9" stroke="#3c3c3c" stroke-width="0.65" stroke-linecap="round" opacity="0.9"/>
<path d="M45.55 46.95L48.23 45.57" stroke="#3c3c3c" stroke-width="0.65" stroke-linecap="round" opacity="0.27"/>
<path d="M81.67 154.37L89.9 154.6" stroke="#3c3c3c" stroke-width="0.65" stroke-linecap="round" opacity="0.91"/>
<path d="M128.07 53.67L136.3 53.9" stroke="#3c3c3c" stroke-width="0.65" stroke-linecap="round" opacity="0.91"/>
<path d="M43.18 151.82L45.87 150.43" stroke="#3c3c3c" stroke-width="0.65" stroke-linecap="round" opacity="0.27"/>
<path d="M119.83 53.43L128.07 53.67" stroke="#3c3c3c" stroke-width="0.65" stroke-linecap="round" opacity="0.91"/>
<path d="M73.43 154.13L81.67 154.37" stroke="#3c3c3c" stroke-width="0.65" stroke-linecap="round" opacity="0.91"/>
<circle cx="137.8" cy="104.95" r="4.3" fill="url(#gNa)" stroke="#9a5018" stroke-width="0.5" opacity="0.94"/>
<path d="M111.6 53.2L119.83 53.43" stroke="#3c3c3c" stroke-width="0.65" stroke-linecap="round" opacity="0.92"/>
<path d="M65.2 153.9L73.43 154.13" stroke="#3c3c3c" stroke-width="0.65" stroke-linecap="round" opacity="0.92"/>
<circle cx="71" cy="73.17" r="6" fill="url(#gCs)" stroke="#5e5e5e" stroke-width="0.5" opacity="0.94"/>
<path d="M56.97 153.67L65.2 153.9" stroke="#3c3c3c" stroke-width="0.65" stroke-linecap="round" opacity="0.92"/>
<path d="M103.37 52.97L111.6 53.2" stroke="#3c3c3c" stroke-width="0.65" stroke-linecap="round" opacity="0.92"/>
<path d="M42.87 48.33L45.55 46.95" stroke="#3c3c3c" stroke-width="0.65" stroke-linecap="round" opacity="0.28"/>
<path d="M40.5 153.2L43.18 151.82" stroke="#3c3c3c" stroke-width="0.65" stroke-linecap="round" opacity="0.28"/>
<path d="M48.73 153.43L56.97 153.67" stroke="#3c3c3c" stroke-width="0.65" stroke-linecap="round" opacity="0.93"/>
<path d="M95.13 52.73L103.37 52.97" stroke="#3c3c3c" stroke-width="0.65" stroke-linecap="round" opacity="0.93"/>
<g opacity="0.92">
<polygon points="135.59,29.8 159.62,54.56 137.01,78 112.98,53.24" fill="#95b0e4" fill-opacity="0.84" stroke="#7f9cd8" stroke-width="0.3" stroke-opacity="0.6"/>
<polygon points="135.59,29.8 128.7,57.82 137.01,78 143.9,49.98" fill="#fff" fill-opacity="0.54"/>
<polygon points="112.98,53.24 128.7,57.82 159.62,54.56 143.9,49.98" fill="#fff" fill-opacity="0.3"/>
<polygon points="135.59,29.8 112.98,53.24 128.7,57.82" fill="#7f9cd8" fill-opacity="0.12"/>
<polygon points="137.01,78 159.62,54.56 143.9,49.98" fill="#7f9cd8" fill-opacity="0.12"/>
<circle cx="136.3" cy="53.9" r="4.1" fill="url(#gSc)" stroke="#6d8fd6" stroke-width="0.5" opacity="0.9"/>
<circle cx="143.9" cy="49.98" r="1.55" fill="url(#gCl)" stroke="#6e6e50" stroke-width="0.45"/>
<circle cx="135.59" cy="29.8" r="1.55" fill="url(#gCl)" stroke="#6e6e50" stroke-width="0.45"/>
<circle cx="137.01" cy="78" r="1.55" fill="url(#gCl)" stroke="#6e6e50" stroke-width="0.45"/>
<circle cx="112.98" cy="53.24" r="1.55" fill="url(#gCl)" stroke="#6e6e50" stroke-width="0.45"/>
<circle cx="159.62" cy="54.56" r="1.55" fill="url(#gCl)" stroke="#6e6e50" stroke-width="0.45"/>
<circle cx="128.7" cy="57.82" r="1.55" fill="url(#gCl)" stroke="#6e6e50" stroke-width="0.45"/>
</g>
<circle cx="89.9" cy="154.6" r="4.3" fill="url(#gNa)" stroke="#9a5018" stroke-width="0.5" opacity="0.95"/>
<path d="M40.5 153.2L48.73 153.43" stroke="#3c3c3c" stroke-width="0.65" stroke-linecap="round" opacity="0.93"/>
<path d="M86.9 52.5L95.13 52.73" stroke="#3c3c3c" stroke-width="0.65" stroke-linecap="round" opacity="0.93"/>
<path d="M40.5 153.2L40.25 144.69" stroke="#3c3c3c" stroke-width="0.65" stroke-linecap="round" opacity="0.94"/>
<path d="M78.67 52.27L86.9 52.5" stroke="#3c3c3c" stroke-width="0.65" stroke-linecap="round" opacity="0.94"/>
<path d="M40.25 144.69L40 136.18" stroke="#3c3c3c" stroke-width="0.65" stroke-linecap="round" opacity="0.94"/>
<path d="M40.18 49.72L42.87 48.33" stroke="#3c3c3c" stroke-width="0.65" stroke-linecap="round" opacity="0.28"/>
<path d="M40 136.18L39.75 127.67" stroke="#3c3c3c" stroke-width="0.65" stroke-linecap="round" opacity="0.94"/>
<path d="M70.43 52.03L78.67 52.27" stroke="#3c3c3c" stroke-width="0.65" stroke-linecap="round" opacity="0.95"/>
<path d="M39.75 127.67L39.5 119.17" stroke="#3c3c3c" stroke-width="0.65" stroke-linecap="round" opacity="0.95"/>
<g opacity="0.94">
<polygon points="87.69,79.45 111.72,104.21 89.11,127.65 65.08,102.89" fill="#a5e2ae" fill-opacity="0.84" stroke="#8fd49a" stroke-width="0.3" stroke-opacity="0.6"/>
<polygon points="87.69,79.45 80.8,107.47 89.11,127.65 96,99.63" fill="#fff" fill-opacity="0.54"/>
<polygon points="65.08,102.89 80.8,107.47 111.72,104.21 96,99.63" fill="#fff" fill-opacity="0.3"/>
<polygon points="87.69,79.45 65.08,102.89 80.8,107.47" fill="#8fd49a" fill-opacity="0.12"/>
<polygon points="89.11,127.65 111.72,104.21 96,99.63" fill="#8fd49a" fill-opacity="0.12"/>
<circle cx="88.4" cy="103.55" r="4.1" fill="url(#gSb)" stroke="#62c684" stroke-width="0.5" opacity="0.9"/>
<circle cx="96" cy="99.63" r="1.55" fill="url(#gCl)" stroke="#6e6e50" stroke-width="0.45"/>
<circle cx="87.69" cy="79.45" r="1.55" fill="url(#gCl)" stroke="#6e6e50" stroke-width="0.45"/>
<circle cx="89.11" cy="127.65" r="1.55" fill="url(#gCl)" stroke="#6e6e50" stroke-width="0.45"/>
<circle cx="65.08" cy="102.89" r="1.55" fill="url(#gCl)" stroke="#6e6e50" stroke-width="0.45"/>
<circle cx="111.72" cy="104.21" r="1.55" fill="url(#gCl)" stroke="#6e6e50" stroke-width="0.45"/>
<circle cx="80.8" cy="107.47" r="1.55" fill="url(#gCl)" stroke="#6e6e50" stroke-width="0.45"/>
</g>
<path d="M39.5 119.17L39.25 110.66" stroke="#3c3c3c" stroke-width="0.65" stroke-linecap="round" opacity="0.95"/>
<path d="M62.2 51.8L70.43 52.03" stroke="#3c3c3c" stroke-width="0.65" stroke-linecap="round" opacity="0.95"/>
<path d="M39.25 110.66L39 102.15" stroke="#3c3c3c" stroke-width="0.65" stroke-linecap="round" opacity="0.95"/>
<path d="M39 102.15L38.75 93.64" stroke="#3c3c3c" stroke-width="0.65" stroke-linecap="round" opacity="0.96"/>
<path d="M53.97 51.57L62.2 51.8" stroke="#3c3c3c" stroke-width="0.65" stroke-linecap="round" opacity="0.96"/>
<path d="M38.75 93.64L38.5 85.13" stroke="#3c3c3c" stroke-width="0.65" stroke-linecap="round" opacity="0.96"/>
<path d="M38.5 85.13L38.25 76.62" stroke="#3c3c3c" stroke-width="0.65" stroke-linecap="round" opacity="0.96"/>
<path d="M37.5 51.1L40.18 49.72" stroke="#3c3c3c" stroke-width="0.65" stroke-linecap="round" opacity="0.29"/>
<path d="M45.73 51.33L53.97 51.57" stroke="#3c3c3c" stroke-width="0.65" stroke-linecap="round" opacity="0.96"/>
<path d="M38.25 76.62L38 68.12" stroke="#3c3c3c" stroke-width="0.65" stroke-linecap="round" opacity="0.96"/>
<g opacity="0.96">
<polygon points="39.79,129.1 63.82,153.86 41.21,177.3 17.18,152.54" fill="#95b0e4" fill-opacity="0.84" stroke="#7f9cd8" stroke-width="0.3" stroke-opacity="0.6"/>
<polygon points="39.79,129.1 32.9,157.12 41.21,177.3 48.1,149.28" fill="#fff" fill-opacity="0.54"/>
<polygon points="17.18,152.54 32.9,157.12 63.82,153.86 48.1,149.28" fill="#fff" fill-opacity="0.3"/>
<polygon points="39.79,129.1 17.18,152.54 32.9,157.12" fill="#7f9cd8" fill-opacity="0.12"/>
<polygon points="41.21,177.3 63.82,153.86 48.1,149.28" fill="#7f9cd8" fill-opacity="0.12"/>
<circle cx="40.5" cy="153.2" r="4.1" fill="url(#gSc)" stroke="#6d8fd6" stroke-width="0.5" opacity="0.9"/>
<circle cx="48.1" cy="149.28" r="1.55" fill="url(#gCl)" stroke="#6e6e50" stroke-width="0.45"/>
<circle cx="39.79" cy="129.1" r="1.55" fill="url(#gCl)" stroke="#6e6e50" stroke-width="0.45"/>
<circle cx="41.21" cy="177.3" r="1.55" fill="url(#gCl)" stroke="#6e6e50" stroke-width="0.45"/>
<circle cx="17.18" cy="152.54" r="1.55" fill="url(#gCl)" stroke="#6e6e50" stroke-width="0.45"/>
<circle cx="63.82" cy="153.86" r="1.55" fill="url(#gCl)" stroke="#6e6e50" stroke-width="0.45"/>
<circle cx="32.9" cy="157.12" r="1.55" fill="url(#gCl)" stroke="#6e6e50" stroke-width="0.45"/>
</g>
<circle cx="86.9" cy="52.5" r="4.3" fill="url(#gNa)" stroke="#9a5018" stroke-width="0.5" opacity="0.98"/>
<path d="M38 68.12L37.75 59.61" stroke="#3c3c3c" stroke-width="0.65" stroke-linecap="round" opacity="0.97"/>
<path d="M37.5 51.1L45.73 51.33" stroke="#3c3c3c" stroke-width="0.65" stroke-linecap="round" opacity="0.97"/>
<path d="M37.75 59.61L37.5 51.1" stroke="#3c3c3c" stroke-width="0.65" stroke-linecap="round" opacity="0.97"/>
<circle cx="39" cy="102.15" r="4.3" fill="url(#gNa)" stroke="#9a5018" stroke-width="0.5" opacity="0.99"/>
<g opacity="1">
<polygon points="36.79,27 60.82,51.76 38.21,75.2 14.18,50.44" fill="#95b0e4" fill-opacity="0.84" stroke="#7f9cd8" stroke-width="0.3" stroke-opacity="0.6"/>
<polygon points="36.79,27 29.9,55.02 38.21,75.2 45.1,47.18" fill="#fff" fill-opacity="0.54"/>
<polygon points="14.18,50.44 29.9,55.02 60.82,51.76 45.1,47.18" fill="#fff" fill-opacity="0.3"/>
<polygon points="36.79,27 14.18,50.44 29.9,55.02" fill="#7f9cd8" fill-opacity="0.12"/>
<polygon points="38.21,75.2 60.82,51.76 45.1,47.18" fill="#7f9cd8" fill-opacity="0.12"/>
<circle cx="37.5" cy="51.1" r="4.1" fill="url(#gSc)" stroke="#6d8fd6" stroke-width="0.5" opacity="0.9"/>
<circle cx="45.1" cy="47.18" r="1.55" fill="url(#gCl)" stroke="#6e6e50" stroke-width="0.45"/>
<circle cx="36.79" cy="27" r="1.55" fill="url(#gCl)" stroke="#6e6e50" stroke-width="0.45"/>
<circle cx="38.21" cy="75.2" r="1.55" fill="url(#gCl)" stroke="#6e6e50" stroke-width="0.45"/>
<circle cx="14.18" cy="50.44" r="1.55" fill="url(#gCl)" stroke="#6e6e50" stroke-width="0.45"/>
<circle cx="60.82" cy="51.76" r="1.55" fill="url(#gCl)" stroke="#6e6e50" stroke-width="0.45"/>
<circle cx="29.9" cy="55.02" r="1.55" fill="url(#gCl)" stroke="#6e6e50" stroke-width="0.45"/>
</g>
<path d="M40.5 153.2L139.3 156M40.5 153.2L72.7 136.6M40.5 153.2L37.5 51.1M37.5 51.1L136.3 53.9M37.5 51.1L69.7 34.5M72.7 136.6L69.7 34.5M72.7 136.6L171.5 139.4M139.3 156L171.5 139.4M139.3 156L136.3 53.9M69.7 34.5L168.5 37.3M136.3 53.9L168.5 37.3M171.5 139.4L168.5 37.3" stroke="#4a4a4a" stroke-width="0.5" fill="none" opacity="0.1"/>
<circle cx="210.6" cy="30.5" r="3.7" fill="url(#gSc)" stroke="#5f82cf" stroke-width="0.5"/>
<text x="218.3" y="33.7" font-size="9" fill="#111" text-anchor="start" font-weight="normal" >Sc</text>
<circle cx="210.6" cy="55.3" r="3.7" fill="url(#gSb)" stroke="#55b878" stroke-width="0.5"/>
<text x="218.3" y="58.5" font-size="9" fill="#111" text-anchor="start" font-weight="normal" >Sb</text>
<circle cx="210.6" cy="80" r="3.7" fill="url(#gNa)" stroke="#9a5018" stroke-width="0.5"/>
<text x="218.3" y="83.2" font-size="9" fill="#111" text-anchor="start" font-weight="normal" >Na</text>
<circle cx="210.6" cy="104.6" r="3.7" fill="url(#gCs)" stroke="#5e5e5e" stroke-width="0.5"/>
<text x="218.3" y="107.8" font-size="9" fill="#111" text-anchor="start" font-weight="normal" >Cs</text>
<circle cx="210.6" cy="129.4" r="3.7" fill="url(#gCl)" stroke="#77774f" stroke-width="0.5"/>
<text x="218.3" y="132.6" font-size="9" fill="#111" text-anchor="start" font-weight="normal" >Cl</text>
<g stroke="#2a2222" stroke-width="0.95" fill="none"><path d="M222.5 178.8V166.5"/><path d="M222.5 178.8L206.5 179.2"/><path d="M222.5 178.8L216 175.6"/></g>
<g fill="#222"><path d="M222.5 163.9l-1.8 4h3.6z"/><path d="M204 179.25l4 -1.8v3.6z"/><path d="M213.8 174.4l4 0.2l-1.5 3z"/></g>
<text x="222.3" y="160.2" font-size="9" fill="#111" text-anchor="middle" font-weight="normal" >c</text>
<text x="209.2" y="173" font-size="9" fill="#111" text-anchor="middle" font-weight="normal" >a</text>
<text x="199.6" y="182" font-size="9" fill="#111" text-anchor="middle" font-weight="normal" >b</text>
</g>
<g id="panelB">
<rect x="279.1" y="15.5" width="164.6" height="164.5" fill="#0000fa"/>
<g clip-path="url(#clipB)">
<circle cx="270.05" cy="-22.45" r="21" fill="url(#broadB)"/>
<circle cx="213.05" cy="-22.45" r="21" fill="url(#broadB)"/>
<circle cx="241.55" cy="6.05" r="21" fill="url(#broadB)"/>
<circle cx="241.55" cy="-50.95" r="21" fill="url(#broadB)"/>
<circle cx="270.05" cy="97.25" r="21" fill="url(#broadB)"/>
<circle cx="213.05" cy="97.25" r="21" fill="url(#broadB)"/>
<circle cx="241.55" cy="125.75" r="21" fill="url(#broadB)"/>
<circle cx="241.55" cy="68.75" r="21" fill="url(#broadB)"/>
<circle cx="270.05" cy="216.95" r="21" fill="url(#broadB)"/>
<circle cx="213.05" cy="216.95" r="21" fill="url(#broadB)"/>
<circle cx="241.55" cy="245.45" r="21" fill="url(#broadB)"/>
<circle cx="241.55" cy="188.45" r="21" fill="url(#broadB)"/>
<circle cx="329.9" cy="37.4" r="21" fill="url(#broadB)"/>
<circle cx="272.9" cy="37.4" r="21" fill="url(#broadB)"/>
<circle cx="301.4" cy="65.9" r="21" fill="url(#broadB)"/>
<circle cx="301.4" cy="8.9" r="21" fill="url(#broadB)"/>
<circle cx="329.9" cy="157.1" r="21" fill="url(#broadB)"/>
<circle cx="272.9" cy="157.1" r="21" fill="url(#broadB)"/>
<circle cx="301.4" cy="185.6" r="21" fill="url(#broadB)"/>
<circle cx="301.4" cy="128.6" r="21" fill="url(#broadB)"/>
<circle cx="389.75" cy="-22.45" r="21" fill="url(#broadB)"/>
<circle cx="332.75" cy="-22.45" r="21" fill="url(#broadB)"/>
<circle cx="361.25" cy="6.05" r="21" fill="url(#broadB)"/>
<circle cx="361.25" cy="-50.95" r="21" fill="url(#broadB)"/>
<circle cx="389.75" cy="97.25" r="21" fill="url(#broadB)"/>
<circle cx="332.75" cy="97.25" r="21" fill="url(#broadB)"/>
<circle cx="361.25" cy="125.75" r="21" fill="url(#broadB)"/>
<circle cx="361.25" cy="68.75" r="21" fill="url(#broadB)"/>
<circle cx="389.75" cy="216.95" r="21" fill="url(#broadB)"/>
<circle cx="332.75" cy="216.95" r="21" fill="url(#broadB)"/>
<circle cx="361.25" cy="245.45" r="21" fill="url(#broadB)"/>
<circle cx="361.25" cy="188.45" r="21" fill="url(#broadB)"/>
<circle cx="449.6" cy="37.4" r="21" fill="url(#broadB)"/>
<circle cx="392.6" cy="37.4" r="21" fill="url(#broadB)"/>
<circle cx="421.1" cy="65.9" r="21" fill="url(#broadB)"/>
<circle cx="421.1" cy="8.9" r="21" fill="url(#broadB)"/>
<circle cx="449.6" cy="157.1" r="21" fill="url(#broadB)"/>
<circle cx="392.6" cy="157.1" r="21" fill="url(#broadB)"/>
<circle cx="421.1" cy="185.6" r="21" fill="url(#broadB)"/>
<circle cx="421.1" cy="128.6" r="21" fill="url(#broadB)"/>
<circle cx="509.45" cy="-22.45" r="21" fill="url(#broadB)"/>
<circle cx="452.45" cy="-22.45" r="21" fill="url(#broadB)"/>
<circle cx="480.95" cy="6.05" r="21" fill="url(#broadB)"/>
<circle cx="480.95" cy="-50.95" r="21" fill="url(#broadB)"/>
<circle cx="509.45" cy="97.25" r="21" fill="url(#broadB)"/>
<circle cx="452.45" cy="97.25" r="21" fill="url(#broadB)"/>
<circle cx="480.95" cy="125.75" r="21" fill="url(#broadB)"/>
<circle cx="480.95" cy="68.75" r="21" fill="url(#broadB)"/>
<circle cx="509.45" cy="216.95" r="21" fill="url(#broadB)"/>
<circle cx="452.45" cy="216.95" r="21" fill="url(#broadB)"/>
<circle cx="480.95" cy="245.45" r="21" fill="url(#broadB)"/>
<circle cx="480.95" cy="188.45" r="21" fill="url(#broadB)"/>
<circle cx="241.55" cy="-22.45" r="24" fill="url(#broadB)" opacity="0.6"/>
<circle cx="241.55" cy="97.25" r="24" fill="url(#broadB)" opacity="0.6"/>
<circle cx="241.55" cy="216.95" r="24" fill="url(#broadB)" opacity="0.6"/>
<circle cx="301.4" cy="37.4" r="24" fill="url(#broadB)" opacity="0.6"/>
<circle cx="301.4" cy="157.1" r="24" fill="url(#broadB)" opacity="0.6"/>
<circle cx="361.25" cy="-22.45" r="24" fill="url(#broadB)" opacity="0.6"/>
<circle cx="361.25" cy="97.25" r="24" fill="url(#broadB)" opacity="0.6"/>
<circle cx="361.25" cy="216.95" r="24" fill="url(#broadB)" opacity="0.6"/>
<circle cx="421.1" cy="37.4" r="24" fill="url(#broadB)" opacity="0.6"/>
<circle cx="421.1" cy="157.1" r="24" fill="url(#broadB)" opacity="0.6"/>
<circle cx="480.95" cy="-22.45" r="24" fill="url(#broadB)" opacity="0.6"/>
<circle cx="480.95" cy="97.25" r="24" fill="url(#broadB)" opacity="0.6"/>
<circle cx="480.95" cy="216.95" r="24" fill="url(#broadB)" opacity="0.6"/>
<circle cx="270.05" cy="-22.45" r="12.2" fill="url(#haloCl)"/>
<circle cx="213.05" cy="-22.45" r="12.2" fill="url(#haloCl)"/>
<circle cx="241.55" cy="6.05" r="12.2" fill="url(#haloCl)"/>
<circle cx="241.55" cy="-50.95" r="12.2" fill="url(#haloCl)"/>
<circle cx="270.05" cy="97.25" r="12.2" fill="url(#haloCl)"/>
<circle cx="213.05" cy="97.25" r="12.2" fill="url(#haloCl)"/>
<circle cx="241.55" cy="125.75" r="12.2" fill="url(#haloCl)"/>
<circle cx="241.55" cy="68.75" r="12.2" fill="url(#haloCl)"/>
<circle cx="270.05" cy="216.95" r="12.2" fill="url(#haloCl)"/>
<circle cx="213.05" cy="216.95" r="12.2" fill="url(#haloCl)"/>
<circle cx="241.55" cy="245.45" r="12.2" fill="url(#haloCl)"/>
<circle cx="241.55" cy="188.45" r="12.2" fill="url(#haloCl)"/>
<circle cx="329.9" cy="37.4" r="12.2" fill="url(#haloCl)"/>
<circle cx="272.9" cy="37.4" r="12.2" fill="url(#haloCl)"/>
<circle cx="301.4" cy="65.9" r="12.2" fill="url(#haloCl)"/>
<circle cx="301.4" cy="8.9" r="12.2" fill="url(#haloCl)"/>
<circle cx="329.9" cy="157.1" r="12.2" fill="url(#haloCl)"/>
<circle cx="272.9" cy="157.1" r="12.2" fill="url(#haloCl)"/>
<circle cx="301.4" cy="185.6" r="12.2" fill="url(#haloCl)"/>
<circle cx="301.4" cy="128.6" r="12.2" fill="url(#haloCl)"/>
<circle cx="389.75" cy="-22.45" r="12.2" fill="url(#haloCl)"/>
<circle cx="332.75" cy="-22.45" r="12.2" fill="url(#haloCl)"/>
<circle cx="361.25" cy="6.05" r="12.2" fill="url(#haloCl)"/>
<circle cx="361.25" cy="-50.95" r="12.2" fill="url(#haloCl)"/>
<circle cx="389.75" cy="97.25" r="12.2" fill="url(#haloCl)"/>
<circle cx="332.75" cy="97.25" r="12.2" fill="url(#haloCl)"/>
<circle cx="361.25" cy="125.75" r="12.2" fill="url(#haloCl)"/>
<circle cx="361.25" cy="68.75" r="12.2" fill="url(#haloCl)"/>
<circle cx="389.75" cy="216.95" r="12.2" fill="url(#haloCl)"/>
<circle cx="332.75" cy="216.95" r="12.2" fill="url(#haloCl)"/>
<circle cx="361.25" cy="245.45" r="12.2" fill="url(#haloCl)"/>
<circle cx="361.25" cy="188.45" r="12.2" fill="url(#haloCl)"/>
<circle cx="449.6" cy="37.4" r="12.2" fill="url(#haloCl)"/>
<circle cx="392.6" cy="37.4" r="12.2" fill="url(#haloCl)"/>
<circle cx="421.1" cy="65.9" r="12.2" fill="url(#haloCl)"/>
<circle cx="421.1" cy="8.9" r="12.2" fill="url(#haloCl)"/>
<circle cx="449.6" cy="157.1" r="12.2" fill="url(#haloCl)"/>
<circle cx="392.6" cy="157.1" r="12.2" fill="url(#haloCl)"/>
<circle cx="421.1" cy="185.6" r="12.2" fill="url(#haloCl)"/>
<circle cx="421.1" cy="128.6" r="12.2" fill="url(#haloCl)"/>
<circle cx="509.45" cy="-22.45" r="12.2" fill="url(#haloCl)"/>
<circle cx="452.45" cy="-22.45" r="12.2" fill="url(#haloCl)"/>
<circle cx="480.95" cy="6.05" r="12.2" fill="url(#haloCl)"/>
<circle cx="480.95" cy="-50.95" r="12.2" fill="url(#haloCl)"/>
<circle cx="509.45" cy="97.25" r="12.2" fill="url(#haloCl)"/>
<circle cx="452.45" cy="97.25" r="12.2" fill="url(#haloCl)"/>
<circle cx="480.95" cy="125.75" r="12.2" fill="url(#haloCl)"/>
<circle cx="480.95" cy="68.75" r="12.2" fill="url(#haloCl)"/>
<circle cx="509.45" cy="216.95" r="12.2" fill="url(#haloCl)"/>
<circle cx="452.45" cy="216.95" r="12.2" fill="url(#haloCl)"/>
<circle cx="480.95" cy="245.45" r="12.2" fill="url(#haloCl)"/>
<circle cx="480.95" cy="188.45" r="12.2" fill="url(#haloCl)"/>
<circle cx="241.55" cy="-22.45" r="12.6" fill="url(#haloSc)"/>
<circle cx="241.55" cy="37.4" r="10.2" fill="url(#haloNa)"/>
<circle cx="241.55" cy="97.25" r="12.6" fill="url(#haloSc)"/>
<circle cx="241.55" cy="157.1" r="10.2" fill="url(#haloNa)"/>
<circle cx="241.55" cy="216.95" r="12.6" fill="url(#haloSc)"/>
<circle cx="301.4" cy="-22.45" r="10.2" fill="url(#haloNa)"/>
<circle cx="301.4" cy="37.4" r="12.6" fill="url(#haloSc)"/>
<circle cx="301.4" cy="97.25" r="10.2" fill="url(#haloNa)"/>
<circle cx="301.4" cy="157.1" r="12.6" fill="url(#haloSc)"/>
<circle cx="301.4" cy="216.95" r="10.2" fill="url(#haloNa)"/>
<circle cx="361.25" cy="-22.45" r="12.6" fill="url(#haloSc)"/>
<circle cx="361.25" cy="37.4" r="10.2" fill="url(#haloNa)"/>
<circle cx="361.25" cy="97.25" r="12.6" fill="url(#haloSc)"/>
<circle cx="361.25" cy="157.1" r="10.2" fill="url(#haloNa)"/>
<circle cx="361.25" cy="216.95" r="12.6" fill="url(#haloSc)"/>
<circle cx="421.1" cy="-22.45" r="10.2" fill="url(#haloNa)"/>
<circle cx="421.1" cy="37.4" r="12.6" fill="url(#haloSc)"/>
<circle cx="421.1" cy="97.25" r="10.2" fill="url(#haloNa)"/>
<circle cx="421.1" cy="157.1" r="12.6" fill="url(#haloSc)"/>
<circle cx="421.1" cy="216.95" r="10.2" fill="url(#haloNa)"/>
<circle cx="480.95" cy="-22.45" r="12.6" fill="url(#haloSc)"/>
<circle cx="480.95" cy="37.4" r="10.2" fill="url(#haloNa)"/>
<circle cx="480.95" cy="97.25" r="12.6" fill="url(#haloSc)"/>
<circle cx="480.95" cy="157.1" r="10.2" fill="url(#haloNa)"/>
<circle cx="480.95" cy="216.95" r="12.6" fill="url(#haloSc)"/>
<path d="M241.55 -22.45L257.3 -22.45" stroke="#a9b6e6" stroke-width="1.5"/>
<path d="M257.3 -22.45L270.05 -22.45" stroke="#fff6cc" stroke-width="1.5"/>
<path d="M241.55 -22.45L225.8 -22.45" stroke="#a9b6e6" stroke-width="1.5"/>
<path d="M225.8 -22.45L213.05 -22.45" stroke="#fff6cc" stroke-width="1.5"/>
<path d="M241.55 -22.45L241.55 -6.7" stroke="#a9b6e6" stroke-width="1.5"/>
<path d="M241.55 -6.7L241.55 6.05" stroke="#fff6cc" stroke-width="1.5"/>
<path d="M241.55 -22.45L241.55 -38.2" stroke="#a9b6e6" stroke-width="1.5"/>
<path d="M241.55 -38.2L241.55 -50.95" stroke="#fff6cc" stroke-width="1.5"/>
<path d="M241.55 37.4L258.22 37.4" stroke="#ff8a3c" stroke-width="1.5"/>
<path d="M258.22 37.4L272.9 37.4" stroke="#fff6cc" stroke-width="1.5"/>
<path d="M241.55 37.4L224.87 37.4" stroke="#ff8a3c" stroke-width="1.5"/>
<path d="M224.87 37.4L210.2 37.4" stroke="#fff6cc" stroke-width="1.5"/>
<path d="M241.55 37.4L241.55 54.08" stroke="#ff8a3c" stroke-width="1.5"/>
<path d="M241.55 54.08L241.55 68.75" stroke="#fff6cc" stroke-width="1.5"/>
<path d="M241.55 37.4L241.55 20.72" stroke="#ff8a3c" stroke-width="1.5"/>
<path d="M241.55 20.72L241.55 6.05" stroke="#fff6cc" stroke-width="1.5"/>
<path d="M241.55 97.25L257.3 97.25" stroke="#a9b6e6" stroke-width="1.5"/>
<path d="M257.3 97.25L270.05 97.25" stroke="#fff6cc" stroke-width="1.5"/>
<path d="M241.55 97.25L225.8 97.25" stroke="#a9b6e6" stroke-width="1.5"/>
<path d="M225.8 97.25L213.05 97.25" stroke="#fff6cc" stroke-width="1.5"/>
<path d="M241.55 97.25L241.55 113" stroke="#a9b6e6" stroke-width="1.5"/>
<path d="M241.55 113L241.55 125.75" stroke="#fff6cc" stroke-width="1.5"/>
<path d="M241.55 97.25L241.55 81.5" stroke="#a9b6e6" stroke-width="1.5"/>
<path d="M241.55 81.5L241.55 68.75" stroke="#fff6cc" stroke-width="1.5"/>
<path d="M241.55 157.1L258.22 157.1" stroke="#ff8a3c" stroke-width="1.5"/>
<path d="M258.22 157.1L272.9 157.1" stroke="#fff6cc" stroke-width="1.5"/>
<path d="M241.55 157.1L224.87 157.1" stroke="#ff8a3c" stroke-width="1.5"/>
<path d="M224.87 157.1L210.2 157.1" stroke="#fff6cc" stroke-width="1.5"/>
<path d="M241.55 157.1L241.55 173.78" stroke="#ff8a3c" stroke-width="1.5"/>
<path d="M241.55 173.78L241.55 188.45" stroke="#fff6cc" stroke-width="1.5"/>
<path d="M241.55 157.1L241.55 140.42" stroke="#ff8a3c" stroke-width="1.5"/>
<path d="M241.55 140.42L241.55 125.75" stroke="#fff6cc" stroke-width="1.5"/>
<path d="M241.55 216.95L257.3 216.95" stroke="#a9b6e6" stroke-width="1.5"/>
<path d="M257.3 216.95L270.05 216.95" stroke="#fff6cc" stroke-width="1.5"/>
<path d="M241.55 216.95L225.8 216.95" stroke="#a9b6e6" stroke-width="1.5"/>
<path d="M225.8 216.95L213.05 216.95" stroke="#fff6cc" stroke-width="1.5"/>
<path d="M241.55 216.95L241.55 232.7" stroke="#a9b6e6" stroke-width="1.5"/>
<path d="M241.55 232.7L241.55 245.45" stroke="#fff6cc" stroke-width="1.5"/>
<path d="M241.55 216.95L241.55 201.2" stroke="#a9b6e6" stroke-width="1.5"/>
<path d="M241.55 201.2L241.55 188.45" stroke="#fff6cc" stroke-width="1.5"/>
<path d="M301.4 -22.45L318.07 -22.45" stroke="#ff8a3c" stroke-width="1.5"/>
<path d="M318.07 -22.45L332.75 -22.45" stroke="#fff6cc" stroke-width="1.5"/>
<path d="M301.4 -22.45L284.72 -22.45" stroke="#ff8a3c" stroke-width="1.5"/>
<path d="M284.72 -22.45L270.05 -22.45" stroke="#fff6cc" stroke-width="1.5"/>
<path d="M301.4 -22.45L301.4 -5.78" stroke="#ff8a3c" stroke-width="1.5"/>
<path d="M301.4 -5.78L301.4 8.9" stroke="#fff6cc" stroke-width="1.5"/>
<path d="M301.4 -22.45L301.4 -39.12" stroke="#ff8a3c" stroke-width="1.5"/>
<path d="M301.4 -39.12L301.4 -53.8" stroke="#fff6cc" stroke-width="1.5"/>
<path d="M301.4 37.4L317.15 37.4" stroke="#a9b6e6" stroke-width="1.5"/>
<path d="M317.15 37.4L329.9 37.4" stroke="#fff6cc" stroke-width="1.5"/>
<path d="M301.4 37.4L285.65 37.4" stroke="#a9b6e6" stroke-width="1.5"/>
<path d="M285.65 37.4L272.9 37.4" stroke="#fff6cc" stroke-width="1.5"/>
<path d="M301.4 37.4L301.4 53.15" stroke="#a9b6e6" stroke-width="1.5"/>
<path d="M301.4 53.15L301.4 65.9" stroke="#fff6cc" stroke-width="1.5"/>
<path d="M301.4 37.4L301.4 21.65" stroke="#a9b6e6" stroke-width="1.5"/>
<path d="M301.4 21.65L301.4 8.9" stroke="#fff6cc" stroke-width="1.5"/>
<path d="M301.4 97.25L318.07 97.25" stroke="#ff8a3c" stroke-width="1.5"/>
<path d="M318.07 97.25L332.75 97.25" stroke="#fff6cc" stroke-width="1.5"/>
<path d="M301.4 97.25L284.72 97.25" stroke="#ff8a3c" stroke-width="1.5"/>
<path d="M284.72 97.25L270.05 97.25" stroke="#fff6cc" stroke-width="1.5"/>
<path d="M301.4 97.25L301.4 113.92" stroke="#ff8a3c" stroke-width="1.5"/>
<path d="M301.4 113.92L301.4 128.6" stroke="#fff6cc" stroke-width="1.5"/>
<path d="M301.4 97.25L301.4 80.58" stroke="#ff8a3c" stroke-width="1.5"/>
<path d="M301.4 80.58L301.4 65.9" stroke="#fff6cc" stroke-width="1.5"/>
<path d="M301.4 157.1L317.15 157.1" stroke="#a9b6e6" stroke-width="1.5"/>
<path d="M317.15 157.1L329.9 157.1" stroke="#fff6cc" stroke-width="1.5"/>
<path d="M301.4 157.1L285.65 157.1" stroke="#a9b6e6" stroke-width="1.5"/>
<path d="M285.65 157.1L272.9 157.1" stroke="#fff6cc" stroke-width="1.5"/>
<path d="M301.4 157.1L301.4 172.85" stroke="#a9b6e6" stroke-width="1.5"/>
<path d="M301.4 172.85L301.4 185.6" stroke="#fff6cc" stroke-width="1.5"/>
<path d="M301.4 157.1L301.4 141.35" stroke="#a9b6e6" stroke-width="1.5"/>
<path d="M301.4 141.35L301.4 128.6" stroke="#fff6cc" stroke-width="1.5"/>
<path d="M301.4 216.95L318.07 216.95" stroke="#ff8a3c" stroke-width="1.5"/>
<path d="M318.07 216.95L332.75 216.95" stroke="#fff6cc" stroke-width="1.5"/>
<path d="M301.4 216.95L284.72 216.95" stroke="#ff8a3c" stroke-width="1.5"/>
<path d="M284.72 216.95L270.05 216.95" stroke="#fff6cc" stroke-width="1.5"/>
<path d="M301.4 216.95L301.4 233.63" stroke="#ff8a3c" stroke-width="1.5"/>
<path d="M301.4 233.63L301.4 248.3" stroke="#fff6cc" stroke-width="1.5"/>
<path d="M301.4 216.95L301.4 200.28" stroke="#ff8a3c" stroke-width="1.5"/>
<path d="M301.4 200.28L301.4 185.6" stroke="#fff6cc" stroke-width="1.5"/>
<path d="M361.25 -22.45L377 -22.45" stroke="#a9b6e6" stroke-width="1.5"/>
<path d="M377 -22.45L389.75 -22.45" stroke="#fff6cc" stroke-width="1.5"/>
<path d="M361.25 -22.45L345.5 -22.45" stroke="#a9b6e6" stroke-width="1.5"/>
<path d="M345.5 -22.45L332.75 -22.45" stroke="#fff6cc" stroke-width="1.5"/>
<path d="M361.25 -22.45L361.25 -6.7" stroke="#a9b6e6" stroke-width="1.5"/>
<path d="M361.25 -6.7L361.25 6.05" stroke="#fff6cc" stroke-width="1.5"/>
<path d="M361.25 -22.45L361.25 -38.2" stroke="#a9b6e6" stroke-width="1.5"/>
<path d="M361.25 -38.2L361.25 -50.95" stroke="#fff6cc" stroke-width="1.5"/>
<path d="M361.25 37.4L377.93 37.4" stroke="#ff8a3c" stroke-width="1.5"/>
<path d="M377.93 37.4L392.6 37.4" stroke="#fff6cc" stroke-width="1.5"/>
<path d="M361.25 37.4L344.57 37.4" stroke="#ff8a3c" stroke-width="1.5"/>
<path d="M344.57 37.4L329.9 37.4" stroke="#fff6cc" stroke-width="1.5"/>
<path d="M361.25 37.4L361.25 54.08" stroke="#ff8a3c" stroke-width="1.5"/>
<path d="M361.25 54.08L361.25 68.75" stroke="#fff6cc" stroke-width="1.5"/>
<path d="M361.25 37.4L361.25 20.72" stroke="#ff8a3c" stroke-width="1.5"/>
<path d="M361.25 20.72L361.25 6.05" stroke="#fff6cc" stroke-width="1.5"/>
<path d="M361.25 97.25L377 97.25" stroke="#a9b6e6" stroke-width="1.5"/>
<path d="M377 97.25L389.75 97.25" stroke="#fff6cc" stroke-width="1.5"/>
<path d="M361.25 97.25L345.5 97.25" stroke="#a9b6e6" stroke-width="1.5"/>
<path d="M345.5 97.25L332.75 97.25" stroke="#fff6cc" stroke-width="1.5"/>
<path d="M361.25 97.25L361.25 113" stroke="#a9b6e6" stroke-width="1.5"/>
<path d="M361.25 113L361.25 125.75" stroke="#fff6cc" stroke-width="1.5"/>
<path d="M361.25 97.25L361.25 81.5" stroke="#a9b6e6" stroke-width="1.5"/>
<path d="M361.25 81.5L361.25 68.75" stroke="#fff6cc" stroke-width="1.5"/>
<path d="M361.25 157.1L377.93 157.1" stroke="#ff8a3c" stroke-width="1.5"/>
<path d="M377.93 157.1L392.6 157.1" stroke="#fff6cc" stroke-width="1.5"/>
<path d="M361.25 157.1L344.57 157.1" stroke="#ff8a3c" stroke-width="1.5"/>
<path d="M344.57 157.1L329.9 157.1" stroke="#fff6cc" stroke-width="1.5"/>
<path d="M361.25 157.1L361.25 173.78" stroke="#ff8a3c" stroke-width="1.5"/>
<path d="M361.25 173.78L361.25 188.45" stroke="#fff6cc" stroke-width="1.5"/>
<path d="M361.25 157.1L361.25 140.42" stroke="#ff8a3c" stroke-width="1.5"/>
<path d="M361.25 140.42L361.25 125.75" stroke="#fff6cc" stroke-width="1.5"/>
<path d="M361.25 216.95L377 216.95" stroke="#a9b6e6" stroke-width="1.5"/>
<path d="M377 216.95L389.75 216.95" stroke="#fff6cc" stroke-width="1.5"/>
<path d="M361.25 216.95L345.5 216.95" stroke="#a9b6e6" stroke-width="1.5"/>
<path d="M345.5 216.95L332.75 216.95" stroke="#fff6cc" stroke-width="1.5"/>
<path d="M361.25 216.95L361.25 232.7" stroke="#a9b6e6" stroke-width="1.5"/>
<path d="M361.25 232.7L361.25 245.45" stroke="#fff6cc" stroke-width="1.5"/>
<path d="M361.25 216.95L361.25 201.2" stroke="#a9b6e6" stroke-width="1.5"/>
<path d="M361.25 201.2L361.25 188.45" stroke="#fff6cc" stroke-width="1.5"/>
<path d="M421.1 -22.45L437.77 -22.45" stroke="#ff8a3c" stroke-width="1.5"/>
<path d="M437.77 -22.45L452.45 -22.45" stroke="#fff6cc" stroke-width="1.5"/>
<path d="M421.1 -22.45L404.42 -22.45" stroke="#ff8a3c" stroke-width="1.5"/>
<path d="M404.42 -22.45L389.75 -22.45" stroke="#fff6cc" stroke-width="1.5"/>
<path d="M421.1 -22.45L421.1 -5.78" stroke="#ff8a3c" stroke-width="1.5"/>
<path d="M421.1 -5.78L421.1 8.9" stroke="#fff6cc" stroke-width="1.5"/>
<path d="M421.1 -22.45L421.1 -39.12" stroke="#ff8a3c" stroke-width="1.5"/>
<path d="M421.1 -39.12L421.1 -53.8" stroke="#fff6cc" stroke-width="1.5"/>
<path d="M421.1 37.4L436.85 37.4" stroke="#a9b6e6" stroke-width="1.5"/>
<path d="M436.85 37.4L449.6 37.4" stroke="#fff6cc" stroke-width="1.5"/>
<path d="M421.1 37.4L405.35 37.4" stroke="#a9b6e6" stroke-width="1.5"/>
<path d="M405.35 37.4L392.6 37.4" stroke="#fff6cc" stroke-width="1.5"/>
<path d="M421.1 37.4L421.1 53.15" stroke="#a9b6e6" stroke-width="1.5"/>
<path d="M421.1 53.15L421.1 65.9" stroke="#fff6cc" stroke-width="1.5"/>
<path d="M421.1 37.4L421.1 21.65" stroke="#a9b6e6" stroke-width="1.5"/>
<path d="M421.1 21.65L421.1 8.9" stroke="#fff6cc" stroke-width="1.5"/>
<path d="M421.1 97.25L437.77 97.25" stroke="#ff8a3c" stroke-width="1.5"/>
<path d="M437.77 97.25L452.45 97.25" stroke="#fff6cc" stroke-width="1.5"/>
<path d="M421.1 97.25L404.42 97.25" stroke="#ff8a3c" stroke-width="1.5"/>
<path d="M404.42 97.25L389.75 97.25" stroke="#fff6cc" stroke-width="1.5"/>
<path d="M421.1 97.25L421.1 113.92" stroke="#ff8a3c" stroke-width="1.5"/>
<path d="M421.1 113.92L421.1 128.6" stroke="#fff6cc" stroke-width="1.5"/>
<path d="M421.1 97.25L421.1 80.58" stroke="#ff8a3c" stroke-width="1.5"/>
<path d="M421.1 80.58L421.1 65.9" stroke="#fff6cc" stroke-width="1.5"/>
<path d="M421.1 157.1L436.85 157.1" stroke="#a9b6e6" stroke-width="1.5"/>
<path d="M436.85 157.1L449.6 157.1" stroke="#fff6cc" stroke-width="1.5"/>
<path d="M421.1 157.1L405.35 157.1" stroke="#a9b6e6" stroke-width="1.5"/>
<path d="M405.35 157.1L392.6 157.1" stroke="#fff6cc" stroke-width="1.5"/>
<path d="M421.1 157.1L421.1 172.85" stroke="#a9b6e6" stroke-width="1.5"/>
<path d="M421.1 172.85L421.1 185.6" stroke="#fff6cc" stroke-width="1.5"/>
<path d="M421.1 157.1L421.1 141.35" stroke="#a9b6e6" stroke-width="1.5"/>
<path d="M421.1 141.35L421.1 128.6" stroke="#fff6cc" stroke-width="1.5"/>
<path d="M421.1 216.95L437.77 216.95" stroke="#ff8a3c" stroke-width="1.5"/>
<path d="M437.77 216.95L452.45 216.95" stroke="#fff6cc" stroke-width="1.5"/>
<path d="M421.1 216.95L404.42 216.95" stroke="#ff8a3c" stroke-width="1.5"/>
<path d="M404.42 216.95L389.75 216.95" stroke="#fff6cc" stroke-width="1.5"/>
<path d="M421.1 216.95L421.1 233.63" stroke="#ff8a3c" stroke-width="1.5"/>
<path d="M421.1 233.63L421.1 248.3" stroke="#fff6cc" stroke-width="1.5"/>
<path d="M421.1 216.95L421.1 200.28" stroke="#ff8a3c" stroke-width="1.5"/>
<path d="M421.1 200.28L421.1 185.6" stroke="#fff6cc" stroke-width="1.5"/>
<path d="M480.95 -22.45L496.7 -22.45" stroke="#a9b6e6" stroke-width="1.5"/>
<path d="M496.7 -22.45L509.45 -22.45" stroke="#fff6cc" stroke-width="1.5"/>
<path d="M480.95 -22.45L465.2 -22.45" stroke="#a9b6e6" stroke-width="1.5"/>
<path d="M465.2 -22.45L452.45 -22.45" stroke="#fff6cc" stroke-width="1.5"/>
<path d="M480.95 -22.45L480.95 -6.7" stroke="#a9b6e6" stroke-width="1.5"/>
<path d="M480.95 -6.7L480.95 6.05" stroke="#fff6cc" stroke-width="1.5"/>
<path d="M480.95 -22.45L480.95 -38.2" stroke="#a9b6e6" stroke-width="1.5"/>
<path d="M480.95 -38.2L480.95 -50.95" stroke="#fff6cc" stroke-width="1.5"/>
<path d="M480.95 37.4L497.62 37.4" stroke="#ff8a3c" stroke-width="1.5"/>
<path d="M497.62 37.4L512.3 37.4" stroke="#fff6cc" stroke-width="1.5"/>
<path d="M480.95 37.4L464.27 37.4" stroke="#ff8a3c" stroke-width="1.5"/>
<path d="M464.27 37.4L449.6 37.4" stroke="#fff6cc" stroke-width="1.5"/>
<path d="M480.95 37.4L480.95 54.08" stroke="#ff8a3c" stroke-width="1.5"/>
<path d="M480.95 54.08L480.95 68.75" stroke="#fff6cc" stroke-width="1.5"/>
<path d="M480.95 37.4L480.95 20.72" stroke="#ff8a3c" stroke-width="1.5"/>
<path d="M480.95 20.72L480.95 6.05" stroke="#fff6cc" stroke-width="1.5"/>
<path d="M480.95 97.25L496.7 97.25" stroke="#a9b6e6" stroke-width="1.5"/>
<path d="M496.7 97.25L509.45 97.25" stroke="#fff6cc" stroke-width="1.5"/>
<path d="M480.95 97.25L465.2 97.25" stroke="#a9b6e6" stroke-width="1.5"/>
<path d="M465.2 97.25L452.45 97.25" stroke="#fff6cc" stroke-width="1.5"/>
<path d="M480.95 97.25L480.95 113" stroke="#a9b6e6" stroke-width="1.5"/>
<path d="M480.95 113L480.95 125.75" stroke="#fff6cc" stroke-width="1.5"/>
<path d="M480.95 97.25L480.95 81.5" stroke="#a9b6e6" stroke-width="1.5"/>
<path d="M480.95 81.5L480.95 68.75" stroke="#fff6cc" stroke-width="1.5"/>
<path d="M480.95 157.1L497.62 157.1" stroke="#ff8a3c" stroke-width="1.5"/>
<path d="M497.62 157.1L512.3 157.1" stroke="#fff6cc" stroke-width="1.5"/>
<path d="M480.95 157.1L464.27 157.1" stroke="#ff8a3c" stroke-width="1.5"/>
<path d="M464.27 157.1L449.6 157.1" stroke="#fff6cc" stroke-width="1.5"/>
<path d="M480.95 157.1L480.95 173.78" stroke="#ff8a3c" stroke-width="1.5"/>
<path d="M480.95 173.78L480.95 188.45" stroke="#fff6cc" stroke-width="1.5"/>
<path d="M480.95 157.1L480.95 140.42" stroke="#ff8a3c" stroke-width="1.5"/>
<path d="M480.95 140.42L480.95 125.75" stroke="#fff6cc" stroke-width="1.5"/>
<path d="M480.95 216.95L496.7 216.95" stroke="#a9b6e6" stroke-width="1.5"/>
<path d="M496.7 216.95L509.45 216.95" stroke="#fff6cc" stroke-width="1.5"/>
<path d="M480.95 216.95L465.2 216.95" stroke="#a9b6e6" stroke-width="1.5"/>
<path d="M465.2 216.95L452.45 216.95" stroke="#fff6cc" stroke-width="1.5"/>
<path d="M480.95 216.95L480.95 232.7" stroke="#a9b6e6" stroke-width="1.5"/>
<path d="M480.95 232.7L480.95 245.45" stroke="#fff6cc" stroke-width="1.5"/>
<path d="M480.95 216.95L480.95 201.2" stroke="#a9b6e6" stroke-width="1.5"/>
<path d="M480.95 201.2L480.95 188.45" stroke="#fff6cc" stroke-width="1.5"/>
<circle cx="270.05" cy="-22.45" r="1.7" fill="url(#sphCl)" stroke="#a08850" stroke-width="0.5"/>
<circle cx="213.05" cy="-22.45" r="1.7" fill="url(#sphCl)" stroke="#a08850" stroke-width="0.5"/>
<circle cx="241.55" cy="6.05" r="1.7" fill="url(#sphCl)" stroke="#a08850" stroke-width="0.5"/>
<circle cx="241.55" cy="-50.95" r="1.7" fill="url(#sphCl)" stroke="#a08850" stroke-width="0.5"/>
<circle cx="270.05" cy="97.25" r="1.7" fill="url(#sphCl)" stroke="#a08850" stroke-width="0.5"/>
<circle cx="213.05" cy="97.25" r="1.7" fill="url(#sphCl)" stroke="#a08850" stroke-width="0.5"/>
<circle cx="241.55" cy="125.75" r="1.7" fill="url(#sphCl)" stroke="#a08850" stroke-width="0.5"/>
<circle cx="241.55" cy="68.75" r="1.7" fill="url(#sphCl)" stroke="#a08850" stroke-width="0.5"/>
<circle cx="270.05" cy="216.95" r="1.7" fill="url(#sphCl)" stroke="#a08850" stroke-width="0.5"/>
<circle cx="213.05" cy="216.95" r="1.7" fill="url(#sphCl)" stroke="#a08850" stroke-width="0.5"/>
<circle cx="241.55" cy="245.45" r="1.7" fill="url(#sphCl)" stroke="#a08850" stroke-width="0.5"/>
<circle cx="241.55" cy="188.45" r="1.7" fill="url(#sphCl)" stroke="#a08850" stroke-width="0.5"/>
<circle cx="329.9" cy="37.4" r="1.7" fill="url(#sphCl)" stroke="#a08850" stroke-width="0.5"/>
<circle cx="272.9" cy="37.4" r="1.7" fill="url(#sphCl)" stroke="#a08850" stroke-width="0.5"/>
<circle cx="301.4" cy="65.9" r="1.7" fill="url(#sphCl)" stroke="#a08850" stroke-width="0.5"/>
<circle cx="301.4" cy="8.9" r="1.7" fill="url(#sphCl)" stroke="#a08850" stroke-width="0.5"/>
<circle cx="329.9" cy="157.1" r="1.7" fill="url(#sphCl)" stroke="#a08850" stroke-width="0.5"/>
<circle cx="272.9" cy="157.1" r="1.7" fill="url(#sphCl)" stroke="#a08850" stroke-width="0.5"/>
<circle cx="301.4" cy="185.6" r="1.7" fill="url(#sphCl)" stroke="#a08850" stroke-width="0.5"/>
<circle cx="301.4" cy="128.6" r="1.7" fill="url(#sphCl)" stroke="#a08850" stroke-width="0.5"/>
<circle cx="389.75" cy="-22.45" r="1.7" fill="url(#sphCl)" stroke="#a08850" stroke-width="0.5"/>
<circle cx="332.75" cy="-22.45" r="1.7" fill="url(#sphCl)" stroke="#a08850" stroke-width="0.5"/>
<circle cx="361.25" cy="6.05" r="1.7" fill="url(#sphCl)" stroke="#a08850" stroke-width="0.5"/>
<circle cx="361.25" cy="-50.95" r="1.7" fill="url(#sphCl)" stroke="#a08850" stroke-width="0.5"/>
<circle cx="389.75" cy="97.25" r="1.7" fill="url(#sphCl)" stroke="#a08850" stroke-width="0.5"/>
<circle cx="332.75" cy="97.25" r="1.7" fill="url(#sphCl)" stroke="#a08850" stroke-width="0.5"/>
<circle cx="361.25" cy="125.75" r="1.7" fill="url(#sphCl)" stroke="#a08850" stroke-width="0.5"/>
<circle cx="361.25" cy="68.75" r="1.7" fill="url(#sphCl)" stroke="#a08850" stroke-width="0.5"/>
<circle cx="389.75" cy="216.95" r="1.7" fill="url(#sphCl)" stroke="#a08850" stroke-width="0.5"/>
<circle cx="332.75" cy="216.95" r="1.7" fill="url(#sphCl)" stroke="#a08850" stroke-width="0.5"/>
<circle cx="361.25" cy="245.45" r="1.7" fill="url(#sphCl)" stroke="#a08850" stroke-width="0.5"/>
<circle cx="361.25" cy="188.45" r="1.7" fill="url(#sphCl)" stroke="#a08850" stroke-width="0.5"/>
<circle cx="449.6" cy="37.4" r="1.7" fill="url(#sphCl)" stroke="#a08850" stroke-width="0.5"/>
<circle cx="392.6" cy="37.4" r="1.7" fill="url(#sphCl)" stroke="#a08850" stroke-width="0.5"/>
<circle cx="421.1" cy="65.9" r="1.7" fill="url(#sphCl)" stroke="#a08850" stroke-width="0.5"/>
<circle cx="421.1" cy="8.9" r="1.7" fill="url(#sphCl)" stroke="#a08850" stroke-width="0.5"/>
<circle cx="449.6" cy="157.1" r="1.7" fill="url(#sphCl)" stroke="#a08850" stroke-width="0.5"/>
<circle cx="392.6" cy="157.1" r="1.7" fill="url(#sphCl)" stroke="#a08850" stroke-width="0.5"/>
<circle cx="421.1" cy="185.6" r="1.7" fill="url(#sphCl)" stroke="#a08850" stroke-width="0.5"/>
<circle cx="421.1" cy="128.6" r="1.7" fill="url(#sphCl)" stroke="#a08850" stroke-width="0.5"/>
<circle cx="509.45" cy="-22.45" r="1.7" fill="url(#sphCl)" stroke="#a08850" stroke-width="0.5"/>
<circle cx="452.45" cy="-22.45" r="1.7" fill="url(#sphCl)" stroke="#a08850" stroke-width="0.5"/>
<circle cx="480.95" cy="6.05" r="1.7" fill="url(#sphCl)" stroke="#a08850" stroke-width="0.5"/>
<circle cx="480.95" cy="-50.95" r="1.7" fill="url(#sphCl)" stroke="#a08850" stroke-width="0.5"/>
<circle cx="509.45" cy="97.25" r="1.7" fill="url(#sphCl)" stroke="#a08850" stroke-width="0.5"/>
<circle cx="452.45" cy="97.25" r="1.7" fill="url(#sphCl)" stroke="#a08850" stroke-width="0.5"/>
<circle cx="480.95" cy="125.75" r="1.7" fill="url(#sphCl)" stroke="#a08850" stroke-width="0.5"/>
<circle cx="480.95" cy="68.75" r="1.7" fill="url(#sphCl)" stroke="#a08850" stroke-width="0.5"/>
<circle cx="509.45" cy="216.95" r="1.7" fill="url(#sphCl)" stroke="#a08850" stroke-width="0.5"/>
<circle cx="452.45" cy="216.95" r="1.7" fill="url(#sphCl)" stroke="#a08850" stroke-width="0.5"/>
<circle cx="480.95" cy="245.45" r="1.7" fill="url(#sphCl)" stroke="#a08850" stroke-width="0.5"/>
<circle cx="480.95" cy="188.45" r="1.7" fill="url(#sphCl)" stroke="#a08850" stroke-width="0.5"/>
<circle cx="241.55" cy="-22.45" r="4.6" fill="url(#sphSc)" stroke="#3c50a0" stroke-width="0.4"/>
<circle cx="241.55" cy="37.4" r="5.0" fill="url(#sphNa)" stroke="#8a2a08" stroke-width="0.4"/>
<circle cx="241.55" cy="97.25" r="4.6" fill="url(#sphSc)" stroke="#3c50a0" stroke-width="0.4"/>
<circle cx="241.55" cy="157.1" r="5.0" fill="url(#sphNa)" stroke="#8a2a08" stroke-width="0.4"/>
<circle cx="241.55" cy="216.95" r="4.6" fill="url(#sphSc)" stroke="#3c50a0" stroke-width="0.4"/>
<circle cx="301.4" cy="-22.45" r="5.0" fill="url(#sphNa)" stroke="#8a2a08" stroke-width="0.4"/>
<circle cx="301.4" cy="37.4" r="4.6" fill="url(#sphSc)" stroke="#3c50a0" stroke-width="0.4"/>
<circle cx="301.4" cy="97.25" r="5.0" fill="url(#sphNa)" stroke="#8a2a08" stroke-width="0.4"/>
<circle cx="301.4" cy="157.1" r="4.6" fill="url(#sphSc)" stroke="#3c50a0" stroke-width="0.4"/>
<circle cx="301.4" cy="216.95" r="5.0" fill="url(#sphNa)" stroke="#8a2a08" stroke-width="0.4"/>
<circle cx="361.25" cy="-22.45" r="4.6" fill="url(#sphSc)" stroke="#3c50a0" stroke-width="0.4"/>
<circle cx="361.25" cy="37.4" r="5.0" fill="url(#sphNa)" stroke="#8a2a08" stroke-width="0.4"/>
<circle cx="361.25" cy="97.25" r="4.6" fill="url(#sphSc)" stroke="#3c50a0" stroke-width="0.4"/>
<circle cx="361.25" cy="157.1" r="5.0" fill="url(#sphNa)" stroke="#8a2a08" stroke-width="0.4"/>
<circle cx="361.25" cy="216.95" r="4.6" fill="url(#sphSc)" stroke="#3c50a0" stroke-width="0.4"/>
<circle cx="421.1" cy="-22.45" r="5.0" fill="url(#sphNa)" stroke="#8a2a08" stroke-width="0.4"/>
<circle cx="421.1" cy="37.4" r="4.6" fill="url(#sphSc)" stroke="#3c50a0" stroke-width="0.4"/>
<circle cx="421.1" cy="97.25" r="5.0" fill="url(#sphNa)" stroke="#8a2a08" stroke-width="0.4"/>
<circle cx="421.1" cy="157.1" r="4.6" fill="url(#sphSc)" stroke="#3c50a0" stroke-width="0.4"/>
<circle cx="421.1" cy="216.95" r="5.0" fill="url(#sphNa)" stroke="#8a2a08" stroke-width="0.4"/>
<circle cx="480.95" cy="-22.45" r="4.6" fill="url(#sphSc)" stroke="#3c50a0" stroke-width="0.4"/>
<circle cx="480.95" cy="37.4" r="5.0" fill="url(#sphNa)" stroke="#8a2a08" stroke-width="0.4"/>
<circle cx="480.95" cy="97.25" r="4.6" fill="url(#sphSc)" stroke="#3c50a0" stroke-width="0.4"/>
<circle cx="480.95" cy="157.1" r="5.0" fill="url(#sphNa)" stroke="#8a2a08" stroke-width="0.4"/>
<circle cx="480.95" cy="216.95" r="4.6" fill="url(#sphSc)" stroke="#3c50a0" stroke-width="0.4"/>
</g>
<g stroke="#fff" stroke-width="0.8" fill="none"><path d="M306.9 66.3H321.5"/><path d="M332.7 91.5V77.5"/><path d="M306.2 104.4L312.6 110.3"/><path d="M366.2 104.4L372.6 110.3"/></g>
<g fill="#fff"><path d="M324.2 66.3l-3.8 -1.7v3.4z"/><path d="M332.7 74.6l-1.7 3.8h3.4z"/><path d="M314.5 112.1l-4 -1.5l2.5 -2.6z"/><path d="M374.5 112.1l-4 -1.5l2.5 -2.6z"/></g>
<text x="332.9" y="69.6" font-size="9.6" fill="#fff" text-anchor="middle" font-weight="normal" >Cl</text>
<text x="321" y="120.5" font-size="9.6" fill="#fff" text-anchor="middle" font-weight="normal" >Na</text>
<text x="381.8" y="120.5" font-size="9.6" fill="#fff" text-anchor="middle" font-weight="normal" >Sc</text>
<rect x="254" y="26.9" width="13.1" height="136.2" fill="url(#cbar)"/>
<text x="0" y="0" font-size="9" fill="#fff" text-anchor="middle" font-weight="normal" transform="translate(263.3 39.6) rotate(-90)">High</text>
<text x="0" y="0" font-size="9" fill="#000" text-anchor="middle" font-weight="normal" transform="translate(263.3 95.3) rotate(-90)">Charge density</text>
<text x="0" y="0" font-size="9" fill="#fff" text-anchor="middle" font-weight="normal" transform="translate(263.3 151.1) rotate(-90)">Low</text>
<text x="259.8" y="178.9" font-size="9.2" fill="#111" text-anchor="middle" font-weight="normal" >[001]</text>
</g>
<g id="panelC">
<rect x="486.6" y="15.4" width="190.1" height="79.5" fill="#fff" stroke="#808080" stroke-width="0.8"/>
<rect x="486.6" y="100.9" width="190.1" height="79.2" fill="#fff" stroke="#808080" stroke-width="0.8"/>
<path d="M486.6 180.1v3.3M549.97 180.1v3.3M613.33 180.1v3.3M676.7 180.1v3.3M518.28 180.1v1.8M581.65 180.1v1.8M645.02 180.1v1.8" stroke="#808080" stroke-width="0.8" fill="none"/>
<text x="486.6" y="196.7" font-size="9.6" fill="#111" text-anchor="middle" font-weight="normal" >10</text>
<text x="549.97" y="196.7" font-size="9.6" fill="#111" text-anchor="middle" font-weight="normal" >25</text>
<text x="613.33" y="196.7" font-size="9.6" fill="#111" text-anchor="middle" font-weight="normal" >40</text>
<text x="676.7" y="196.7" font-size="9.6" fill="#111" text-anchor="middle" font-weight="normal" >55</text>
<text x="581.2" y="214" font-size="10.6" fill="#111" text-anchor="middle" font-weight="normal" >2<tspan font-style="italic" font-family="Liberation Serif, serif" font-size="11.2">θ</tspan> (degree)</text>
<text x="0" y="0" font-size="10" fill="#111" text-anchor="middle" font-weight="normal" transform="translate(474.9 97.5) rotate(-90)">Intensity</text>
<g clip-path="url(#clipC1)">
<path d="M486.6 74.24h0M486.81 73.93h0M487.02 73.87h0M487.23 73.4h0M487.44 73.83h0M487.66 73.83h0M487.87 73.92h0M488.08 73.81h0M488.29 73.98h0M488.5 73.9h0M488.71 73.71h0M488.92 74.29h0M489.13 74.31h0M489.35 74.54h0M489.56 74.15h0M489.77 74.06h0M489.98 74.05h0M490.19 73.82h0M490.4 74.48h0M490.61 73.98h0M490.82 73.98h0M491.04 74.25h0M491.25 74.69h0M491.46 74.4h0M491.67 74.11h0M491.88 74.21h0M492.09 74.57h0M492.3 74.39h0M492.51 74.26h0M492.73 74.42h0M492.94 74.68h0M493.15 75.01h0M493.36 74.23h0M493.57 74.41h0M493.78 74.38h0M493.99 74h0M494.2 74.39h0M494.42 74.39h0M494.63 74.95h0M494.84 74.65h0M495.05 74.3h0M495.26 74.89h0M495.47 74.66h0M495.68 74.33h0M495.89 74.64h0M496.11 74.66h0M496.32 74.61h0M496.53 74.85h0M496.74 74.3h0M496.95 74.82h0M497.16 75.16h0M497.37 75.13h0M497.58 75.22h0M497.79 75.24h0M498.01 75.35h0M498.22 74.72h0M498.43 75.22h0M498.64 74.57h0M498.85 74.9h0M499.06 74.59h0M499.27 75.35h0M499.48 75.44h0M499.7 75.07h0M499.91 75.58h0M500.12 74.98h0M500.33 75.21h0M500.54 75.22h0M500.75 74.94h0M500.96 75.33h0M501.17 75.72h0M501.39 74.99h0M501.6 75.49h0M501.81 75.24h0M502.02 75.73h0M502.23 75.42h0M502.44 75.48h0M502.65 75.49h0M502.86 75.4h0M503.08 75h0M503.29 75.7h0M503.5 75.01h0M503.71 75.41h0M503.92 75.5h0M504.13 75.12h0M504.34 75.33h0M504.55 75.5h0M504.77 75h0M504.98 74.39h0M505.19 73.19h0M505.4 72.74h0M505.61 71.89h0M505.82 71.48h0M506.03 71.82h0M506.24 73.13h0M506.45 73.87h0M506.67 74.7h0M506.88 75.33h0M507.09 75.17h0M507.3 75.42h0M507.51 76.11h0M507.72 75.83h0M507.93 75.33h0M508.14 75.66h0M508.36 75.85h0M508.57 76.04h0M508.78 75.79h0M508.99 75.64h0M509.2 75.6h0M509.41 75.96h0M509.62 75.9h0M509.83 75.7h0M510.05 75.8h0M510.26 75.76h0M510.47 76.05h0M510.68 75.71h0M510.89 76.02h0M511.1 76.12h0M511.31 76.03h0M511.52 75.71h0M511.74 76.26h0M511.95 75.76h0M512.16 76.04h0M512.37 75.75h0M512.58 75.5h0M512.79 75.98h0M513 75.99h0M513.21 75.88h0M513.43 75.94h0M513.64 75.67h0M513.85 75.58h0M514.06 75.61h0M514.27 75.9h0M514.48 75.13h0M514.69 73.83h0M514.9 72.45h0M515.12 69.92h0M515.33 67.66h0M515.54 66.95h0M515.75 67.66h0M515.96 69.67h0M516.17 72.15h0M516.38 74.07h0M516.59 75.08h0M516.8 75.88h0M517.02 75.64h0M517.23 76.14h0M517.44 76.16h0M517.65 76.08h0M517.86 76.37h0M518.07 76.33h0M518.28 76.03h0M518.49 76.54h0M518.71 75.99h0M518.92 76.34h0M519.13 76.35h0M519.34 76.47h0M519.55 76.2h0M519.76 76.39h0M519.97 76.38h0M520.18 76.68h0M520.4 76.25h0M520.61 76.48h0M520.82 76.41h0M521.03 76.16h0M521.24 77.17h0M521.45 76.5h0M521.66 76.16h0M521.87 76.89h0M522.09 76.28h0M522.3 76.66h0M522.51 76.79h0M522.72 76.42h0M522.93 76.49h0M523.14 76.47h0M523.35 76.58h0M523.56 76.22h0M523.78 76.33h0M523.99 76.61h0M524.2 76.92h0M524.41 76.83h0M524.62 77.11h0M524.83 76.86h0M525.04 76.57h0M525.25 76.68h0M525.46 76.21h0M525.68 76.49h0M525.89 76.48h0M526.1 76.81h0M526.31 76.92h0M526.52 76.62h0M526.73 76.62h0M526.94 76.39h0M527.15 76.76h0M527.37 76.86h0M527.58 76.92h0M527.79 76.62h0M528 77.32h0M528.21 77.13h0M528.42 76.82h0M528.63 76.72h0M528.84 76.78h0M529.06 76.9h0M529.27 76.87h0M529.48 77h0M529.69 77.08h0M529.9 77.24h0M530.11 77.19h0M530.32 76.88h0M530.53 77.02h0M530.75 76.83h0M530.96 76.79h0M531.17 77.42h0M531.38 76.83h0M531.59 77.45h0M531.8 76.88h0M532.01 77.03h0M532.22 77.25h0M532.44 76.99h0M532.65 77.09h0M532.86 76.94h0M533.07 76.89h0M533.28 76.97h0M533.49 76.86h0M533.7 77.43h0M533.91 76.99h0M534.13 77.47h0M534.34 76.37h0M534.55 77.05h0M534.76 77.19h0M534.97 76.99h0M535.18 77.34h0M535.39 77.23h0M535.6 77.01h0M535.81 77.19h0M536.03 77.79h0M536.24 77.15h0M536.45 77.17h0M536.66 76.99h0M536.87 77.14h0M537.08 76.78h0M537.29 77.06h0M537.5 77.73h0M537.72 77.38h0M537.93 77.28h0M538.14 77.4h0M538.35 77.59h0M538.56 77.27h0M538.77 77.64h0M538.98 77.39h0M539.19 77.16h0M539.41 77.55h0M539.62 76.53h0M539.83 76.97h0M540.04 77.18h0M540.25 76.87h0M540.46 77.06h0M540.67 76.93h0M540.88 76.91h0M541.1 77.74h0M541.31 77.2h0M541.52 77.01h0M541.73 77.32h0M541.94 76.9h0M542.15 77.15h0M542.36 76.97h0M542.57 77.23h0M542.79 76.39h0M543 76.85h0M543.21 76.57h0M543.42 76.09h0M543.63 76.44h0M543.84 75.65h0M544.05 75.76h0M544.26 74.5h0M544.47 72.5h0M544.69 68.36h0M544.9 61.84h0M545.11 51.93h0M545.32 43.16h0M545.53 38.75h0M545.74 43.22h0M545.95 52.41h0M546.16 61.79h0M546.38 68.17h0M546.59 72.84h0M546.8 75.01h0M547.01 75.38h0M547.22 75.94h0M547.43 76.34h0M547.64 76.8h0M547.85 77.13h0M548.07 76.48h0M548.28 76.73h0M548.49 76.7h0M548.7 76.76h0M548.91 76.68h0M549.12 77.23h0M549.33 76.89h0M549.54 77.6h0M549.76 77.48h0M549.97 77.02h0M550.18 77.05h0M550.39 77.17h0M550.6 77.7h0M550.81 77.15h0M551.02 77.01h0M551.23 77.38h0M551.45 77.5h0M551.66 77.26h0M551.87 77.84h0M552.08 77.51h0M552.29 77.57h0M552.5 77.25h0M552.71 77.47h0M552.92 77.45h0M553.14 76.93h0M553.35 77.58h0M553.56 77.06h0M553.77 77.51h0M553.98 77.16h0M554.19 78.04h0M554.4 77.62h0M554.61 77.76h0M554.82 77.78h0M555.04 77.23h0M555.25 76.99h0M555.46 77.48h0M555.67 77.8h0M555.88 77.6h0M556.09 77.78h0M556.3 77.82h0M556.51 77.22h0M556.73 77.67h0M556.94 78.09h0M557.15 77.46h0M557.36 77.1h0M557.57 77.55h0M557.78 77.5h0M557.99 77.72h0M558.2 77.4h0M558.42 77.64h0M558.63 77.07h0M558.84 77.84h0M559.05 78.02h0M559.26 77.95h0M559.47 77.25h0M559.68 77.71h0M559.89 76.88h0M560.11 77.7h0M560.32 77.61h0M560.53 77.38h0M560.74 77.71h0M560.95 77.66h0M561.16 77.85h0M561.37 77.65h0M561.58 77.66h0M561.8 77.1h0M562.01 77.27h0M562.22 77.39h0M562.43 77.49h0M562.64 77.25h0M562.85 77.41h0M563.06 76.59h0M563.27 76.64h0M563.48 76.85h0M563.7 76.94h0M563.91 77.32h0M564.12 77.19h0M564.33 77.76h0M564.54 77.35h0M564.75 77.71h0M564.96 77.4h0M565.17 77.75h0M565.39 76.98h0M565.6 77.4h0M565.81 77.09h0M566.02 77.16h0M566.23 77.28h0M566.44 76.55h0M566.65 76.29h0M566.86 76.06h0M567.08 75.86h0M567.29 74.34h0M567.5 72.79h0M567.71 68.46h0M567.92 61.76h0M568.13 52.74h0M568.34 43.67h0M568.55 39.19h0M568.77 43.46h0M568.98 52.84h0M569.19 62h0M569.4 68.13h0M569.61 72.69h0M569.82 74.87h0M570.03 76.12h0M570.24 76.87h0M570.46 76.84h0M570.67 76.92h0M570.88 76.82h0M571.09 77.21h0M571.3 77.48h0M571.51 77.69h0M571.72 77.22h0M571.93 77.55h0M572.15 77.74h0M572.36 78.04h0M572.57 77.68h0M572.78 77.51h0M572.99 77.5h0M573.2 77.6h0M573.41 77.55h0M573.62 77.94h0M573.83 78.01h0M574.05 77.94h0M574.26 78.07h0M574.47 77.67h0M574.68 77.89h0M574.89 77.71h0M575.1 77.82h0M575.31 78.13h0M575.52 77.82h0M575.74 77.37h0M575.95 77.78h0M576.16 77.67h0M576.37 77.48h0M576.58 77.66h0M576.79 78.11h0M577 78.29h0M577.21 77.75h0M577.43 78.13h0M577.64 78.18h0M577.85 77.6h0M578.06 77.88h0M578.27 77.88h0M578.48 77.94h0M578.69 77.5h0M578.9 77.81h0M579.12 78.17h0M579.33 78.22h0M579.54 78.36h0M579.75 77.82h0M579.96 78.38h0M580.17 78.08h0M580.38 77.57h0M580.59 78.1h0M580.81 77.82h0M581.02 78.04h0M581.23 77.88h0M581.44 78.21h0M581.65 77.97h0M581.86 77.83h0M582.07 78.14h0M582.28 77.96h0M582.49 77.79h0M582.71 78.21h0M582.92 77.78h0M583.13 77.71h0M583.34 77.73h0M583.55 77.49h0M583.76 77.71h0M583.97 78.3h0M584.18 77.59h0M584.4 77.8h0M584.61 77.49h0M584.82 77.59h0M585.03 78.09h0M585.24 77.9h0M585.45 77.47h0M585.66 77.57h0M585.87 77.29h0M586.09 77.2h0M586.3 77.05h0M586.51 76.9h0M586.72 76.98h0M586.93 76.7h0M587.14 76.04h0M587.35 74.59h0M587.56 71.67h0M587.78 67.29h0M587.99 60.01h0M588.2 52.26h0M588.41 46.32h0M588.62 47.12h0M588.83 53.56h0M589.04 61.37h0M589.25 68.69h0M589.47 73.01h0M589.68 74.62h0M589.89 76.14h0M590.1 76.96h0M590.31 76.71h0M590.52 77.64h0M590.73 77.26h0M590.94 77.2h0M591.16 77.9h0M591.37 77.71h0M591.58 77.53h0M591.79 77.96h0M592 77.3h0M592.21 78.27h0M592.42 77.65h0M592.63 77.95h0M592.84 77.8h0M593.06 78.03h0M593.27 78.16h0M593.48 77.75h0M593.69 78.16h0M593.9 77.9h0M594.11 77.82h0M594.32 77.94h0M594.53 77.76h0M594.75 77.82h0M594.96 78.26h0M595.17 77.99h0M595.38 78.32h0M595.59 78.15h0M595.8 77.79h0M596.01 77.58h0M596.22 77.89h0M596.44 78.13h0M596.65 78.07h0M596.86 77.87h0M597.07 78.33h0M597.28 77.64h0M597.49 77.77h0M597.7 78.12h0M597.91 78.64h0M598.13 78.19h0M598.34 77.84h0M598.55 78.24h0M598.76 78.27h0M598.97 78.33h0M599.18 78h0M599.39 77.9h0M599.6 78.13h0M599.82 78.2h0M600.03 78.5h0M600.24 78.62h0M600.45 77.9h0M600.66 77.94h0M600.87 78.01h0M601.08 77.89h0M601.29 77.98h0M601.5 77.89h0M601.72 77.78h0M601.93 78.1h0M602.14 77.82h0M602.35 77.69h0M602.56 77.63h0M602.77 77.8h0M602.98 77.82h0M603.19 77.61h0M603.41 78.25h0M603.62 78.12h0M603.83 77.96h0M604.04 77.83h0M604.25 77.64h0M604.46 77.77h0M604.67 78.41h0M604.88 77.3h0M605.1 77.68h0M605.31 77.41h0M605.52 76.56h0M605.73 75.5h0M605.94 74.81h0M606.15 73.9h0M606.36 74.76h0M606.57 75.94h0M606.79 76.28h0M607 77.04h0M607.21 77.69h0M607.42 78.12h0M607.63 78.31h0M607.84 78.2h0M608.05 77.9h0M608.26 77.81h0M608.48 78.17h0M608.69 78.22h0M608.9 77.86h0M609.11 78.15h0M609.32 78.23h0M609.53 78.41h0M609.74 77.91h0M609.95 78.3h0M610.17 77.88h0M610.38 78.07h0M610.59 78.16h0M610.8 78.56h0M611.01 79.01h0M611.22 78.25h0M611.43 78.31h0M611.64 78.44h0M611.85 77.85h0M612.07 78.38h0M612.28 77.88h0M612.49 78.6h0M612.7 78.56h0M612.91 78.32h0M613.12 77.99h0M613.33 78.61h0M613.54 78.26h0M613.76 78.23h0M613.97 78.34h0M614.18 77.77h0M614.39 78.31h0M614.6 78.45h0M614.81 78.28h0M615.02 78.24h0M615.23 77.96h0M615.45 78.36h0M615.66 78.25h0M615.87 78.2h0M616.08 78.06h0M616.29 78.41h0M616.5 78.5h0M616.71 78.29h0M616.92 78.41h0M617.14 78.52h0M617.35 78.58h0M617.56 78.24h0M617.77 78.12h0M617.98 78.06h0M618.19 78.17h0M618.4 78.29h0M618.61 78.38h0M618.83 78.03h0M619.04 78.16h0M619.25 77.86h0M619.46 78.4h0M619.67 77.97h0M619.88 78.12h0M620.09 77.82h0M620.3 77.87h0M620.51 77.71h0M620.73 78.21h0M620.94 77.71h0M621.15 77.27h0M621.36 76.44h0M621.57 75.28h0M621.78 73.48h0M621.99 70.88h0M622.2 67.22h0M622.42 66.03h0M622.63 67.54h0M622.84 70.31h0M623.05 72.93h0M623.26 75.45h0M623.47 76.87h0M623.68 76.93h0M623.89 77.69h0M624.11 78.04h0M624.32 78.14h0M624.53 77.86h0M624.74 78.59h0M624.95 78.19h0M625.16 77.88h0M625.37 78.35h0M625.58 77.85h0M625.8 78.37h0M626.01 77.84h0M626.22 78.37h0M626.43 78.04h0M626.64 78.47h0M626.85 78.38h0M627.06 78.32h0M627.27 78.23h0M627.49 78.49h0M627.7 77.77h0M627.91 78.33h0M628.12 78.33h0M628.33 78.37h0M628.54 78.44h0M628.75 79.16h0M628.96 78.27h0M629.18 78.44h0M629.39 78.28h0M629.6 78.64h0M629.81 77.74h0M630.02 78.67h0M630.23 78.08h0M630.44 77.68h0M630.65 77.98h0M630.86 78.2h0M631.08 78.3h0M631.29 78.23h0M631.5 78.45h0M631.71 78.23h0M631.92 78.22h0M632.13 77.69h0M632.34 78.34h0M632.55 78.45h0M632.77 78.05h0M632.98 77.6h0M633.19 77.57h0M633.4 78.04h0M633.61 77.09h0M633.82 76.69h0M634.03 76.48h0M634.24 77.03h0M634.46 77.1h0M634.67 77.41h0M634.88 77.53h0M635.09 78.05h0M635.3 78.41h0M635.51 78.17h0M635.72 78.45h0M635.93 78.28h0M636.15 78.29h0M636.36 78.3h0M636.57 78.27h0M636.78 78.52h0M636.99 78.39h0M637.2 78.13h0M637.41 78.31h0M637.62 78.26h0M637.84 78.4h0M638.05 78.33h0M638.26 78.39h0M638.47 77.92h0M638.68 78.38h0M638.89 78.62h0M639.1 77.95h0M639.31 78.69h0M639.52 78.36h0M639.74 78.24h0M639.95 77.84h0M640.16 78.56h0M640.37 78.05h0M640.58 78.16h0M640.79 78.43h0M641 78.04h0M641.21 78.05h0M641.43 78.01h0M641.64 78.27h0M641.85 78.44h0M642.06 78.39h0M642.27 78.39h0M642.48 78.21h0M642.69 78.33h0M642.9 78.12h0M643.12 78.79h0M643.33 78.34h0M643.54 77.8h0M643.75 78.02h0M643.96 78.69h0M644.17 77.94h0M644.38 78.18h0M644.59 78.38h0M644.81 78.01h0M645.02 78.55h0M645.23 78.7h0M645.44 78.07h0M645.65 78.55h0M645.86 78.05h0M646.07 78.02h0M646.28 78.32h0M646.5 78.32h0M646.71 78.1h0M646.92 78.46h0M647.13 77.87h0M647.34 78.02h0M647.55 77.95h0M647.76 78.4h0M647.97 78.4h0M648.19 78.34h0M648.4 77.83h0M648.61 78.17h0M648.82 78.22h0M649.03 77.66h0M649.24 77.82h0M649.45 78.12h0M649.66 78.06h0M649.87 77.83h0M650.09 77.71h0M650.3 77.28h0M650.51 76.46h0M650.72 74.89h0M650.93 72.17h0M651.14 68.85h0M651.35 65.33h0M651.56 64.41h0M651.78 65.49h0M651.99 68.91h0M652.2 72.33h0M652.41 74.9h0M652.62 76.36h0M652.83 77.34h0M653.04 77.57h0M653.25 77.97h0M653.47 77.71h0M653.68 78.06h0M653.89 78.25h0M654.1 77.79h0M654.31 78.15h0M654.52 78.2h0M654.73 78.08h0M654.94 78.07h0M655.16 77.74h0M655.37 78.51h0M655.58 78h0M655.79 77.93h0M656 78.41h0M656.21 77.8h0M656.42 78.5h0M656.63 78.38h0M656.85 78.42h0M657.06 78.24h0M657.27 77.98h0M657.48 77.81h0M657.69 78.65h0M657.9 78.17h0M658.11 78.16h0M658.32 78.69h0M658.53 78.14h0M658.75 78.24h0M658.96 78.24h0M659.17 78.26h0M659.38 78.04h0M659.59 78.15h0M659.8 78.61h0M660.01 78.48h0M660.22 77.53h0M660.44 77.77h0M660.65 78.3h0M660.86 78.12h0M661.07 77.93h0M661.28 78.12h0M661.49 77.24h0M661.7 77.91h0M661.91 77.71h0M662.13 77.98h0M662.34 78.07h0M662.55 78.34h0M662.76 78.13h0M662.97 78.08h0M663.18 78.42h0M663.39 78.26h0M663.6 77.87h0M663.82 78.46h0M664.03 78.29h0M664.24 78.08h0M664.45 77.29h0M664.66 76.73h0M664.87 75.93h0M665.08 75.5h0M665.29 76.04h0M665.51 76.7h0M665.72 77.11h0M665.93 78.19h0M666.14 77.6h0M666.35 77.94h0M666.56 78.04h0M666.77 78.57h0M666.98 78.2h0M667.2 78.2h0M667.41 78.07h0M667.62 78.11h0M667.83 77.98h0M668.04 78.57h0M668.25 78.47h0M668.46 78.57h0M668.67 78.16h0M668.88 78.96h0M669.1 78.09h0M669.31 77.82h0M669.52 78.26h0M669.73 78.37h0M669.94 78.53h0M670.15 78.09h0M670.36 78.49h0M670.57 78.77h0M670.79 78.13h0M671 78.16h0M671.21 77.92h0M671.42 78.41h0M671.63 78.56h0M671.84 78.54h0M672.05 78.56h0M672.26 78.71h0M672.48 78.38h0M672.69 78.59h0M672.9 78.12h0M673.11 78.16h0M673.32 78.42h0M673.53 78.15h0M673.74 78.5h0M673.95 78.7h0M674.17 78.46h0M674.38 78.17h0M674.59 78.17h0M674.8 78.7h0M675.01 78.16h0M675.22 78.38h0M675.43 78.29h0M675.64 78.37h0M675.86 78.63h0M676.07 78.23h0M676.28 78.01h0M676.49 78.72h0M676.7 78.42h0" stroke="#0c9c2c" stroke-width="2.9" fill="none" stroke-linecap="round"/>
<path d="M486.6 73.79L486.81 73.82L487.02 73.85L487.23 73.87L487.44 73.9L487.66 73.92L487.87 73.95L488.08 73.97L488.29 73.99L488.5 74.02L488.71 74.04L488.92 74.07L489.13 74.09L489.35 74.11L489.56 74.14L489.77 74.16L489.98 74.18L490.19 74.21L490.4 74.23L490.61 74.25L490.82 74.28L491.04 74.3L491.25 74.32L491.46 74.34L491.67 74.37L491.88 74.39L492.09 74.41L492.3 74.43L492.51 74.45L492.73 74.48L492.94 74.5L493.15 74.52L493.36 74.54L493.57 74.56L493.78 74.58L493.99 74.6L494.2 74.62L494.42 74.65L494.63 74.67L494.84 74.69L495.05 74.71L495.26 74.73L495.47 74.75L495.68 74.77L495.89 74.79L496.11 74.81L496.32 74.83L496.53 74.84L496.74 74.86L496.95 74.88L497.16 74.9L497.37 74.92L497.58 74.94L497.79 74.96L498.01 74.98L498.22 75L498.43 75.01L498.64 75.03L498.85 75.05L499.06 75.07L499.27 75.08L499.48 75.1L499.7 75.12L499.91 75.14L500.12 75.15L500.33 75.17L500.54 75.19L500.75 75.2L500.96 75.22L501.17 75.23L501.39 75.25L501.6 75.26L501.81 75.28L502.02 75.29L502.23 75.3L502.44 75.32L502.65 75.33L502.86 75.34L503.08 75.34L503.29 75.35L503.5 75.35L503.71 75.35L503.92 75.35L504.13 75.33L504.34 75.29L504.55 75.2L504.77 75.01L504.98 74.61L505.19 73.92L505.4 72.98L505.61 72.03L505.82 71.61L506.03 72.06L506.24 73.04L506.45 74.01L506.67 74.73L506.88 75.16L507.09 75.38L507.3 75.5L507.51 75.57L507.72 75.61L507.93 75.65L508.14 75.68L508.36 75.7L508.57 75.73L508.78 75.75L508.99 75.77L509.2 75.79L509.41 75.8L509.62 75.82L509.83 75.83L510.05 75.85L510.26 75.86L510.47 75.87L510.68 75.88L510.89 75.89L511.1 75.9L511.31 75.91L511.52 75.92L511.74 75.93L511.95 75.93L512.16 75.94L512.37 75.94L512.58 75.93L512.79 75.93L513 75.92L513.21 75.9L513.43 75.87L513.64 75.83L513.85 75.77L514.06 75.65L514.27 75.42L514.48 74.93L514.69 73.96L514.9 72.31L515.12 70.04L515.33 67.77L515.54 66.74L515.75 67.8L515.96 70.09L516.17 72.38L516.38 74.05L516.59 75.05L516.8 75.57L517.02 75.82L517.23 75.96L517.44 76.05L517.65 76.11L517.86 76.17L518.07 76.21L518.28 76.24L518.49 76.27L518.71 76.3L518.92 76.32L519.13 76.35L519.34 76.37L519.55 76.38L519.76 76.4L519.97 76.42L520.18 76.43L520.4 76.45L520.61 76.46L520.82 76.48L521.03 76.49L521.24 76.5L521.45 76.51L521.66 76.53L521.87 76.54L522.09 76.55L522.3 76.56L522.51 76.57L522.72 76.58L522.93 76.6L523.14 76.61L523.35 76.62L523.56 76.63L523.78 76.64L523.99 76.65L524.2 76.66L524.41 76.67L524.62 76.68L524.83 76.69L525.04 76.7L525.25 76.71L525.46 76.72L525.68 76.73L525.89 76.74L526.1 76.74L526.31 76.75L526.52 76.76L526.73 76.77L526.94 76.78L527.15 76.79L527.37 76.8L527.58 76.81L527.79 76.82L528 76.82L528.21 76.83L528.42 76.84L528.63 76.85L528.84 76.86L529.06 76.87L529.27 76.87L529.48 76.88L529.69 76.89L529.9 76.9L530.11 76.9L530.32 76.91L530.53 76.92L530.75 76.93L530.96 76.94L531.17 76.94L531.38 76.95L531.59 76.96L531.8 76.96L532.01 76.97L532.22 76.98L532.44 76.99L532.65 76.99L532.86 77L533.07 77.01L533.28 77.01L533.49 77.02L533.7 77.02L533.91 77.03L534.13 77.04L534.34 77.04L534.55 77.05L534.76 77.05L534.97 77.06L535.18 77.07L535.39 77.07L535.6 77.08L535.81 77.08L536.03 77.09L536.24 77.09L536.45 77.09L536.66 77.1L536.87 77.1L537.08 77.11L537.29 77.11L537.5 77.11L537.72 77.12L537.93 77.12L538.14 77.12L538.35 77.12L538.56 77.12L538.77 77.12L538.98 77.12L539.19 77.12L539.41 77.12L539.62 77.12L539.83 77.11L540.04 77.11L540.25 77.1L540.46 77.1L540.67 77.09L540.88 77.07L541.1 77.06L541.31 77.04L541.52 77.02L541.73 77L541.94 76.96L542.15 76.93L542.36 76.88L542.57 76.82L542.79 76.75L543 76.65L543.21 76.54L543.42 76.38L543.63 76.17L543.84 75.86L544.05 75.35L544.26 74.37L544.47 72.33L544.69 68.34L544.9 61.61L545.11 52.4L545.32 43.14L545.53 38.91L545.74 43.15L545.95 52.42L546.16 61.64L546.38 68.38L546.59 72.38L546.8 74.43L547.01 75.43L547.22 75.95L547.43 76.26L547.64 76.49L547.85 76.65L548.07 76.78L548.28 76.88L548.49 76.97L548.7 77.04L548.91 77.09L549.12 77.14L549.33 77.18L549.54 77.22L549.76 77.25L549.97 77.28L550.18 77.3L550.39 77.33L550.6 77.35L550.81 77.37L551.02 77.38L551.23 77.4L551.45 77.41L551.66 77.42L551.87 77.44L552.08 77.45L552.29 77.46L552.5 77.47L552.71 77.48L552.92 77.49L553.14 77.5L553.35 77.5L553.56 77.51L553.77 77.52L553.98 77.53L554.19 77.53L554.4 77.54L554.61 77.54L554.82 77.55L555.04 77.56L555.25 77.56L555.46 77.57L555.67 77.57L555.88 77.58L556.09 77.58L556.3 77.59L556.51 77.59L556.73 77.59L556.94 77.6L557.15 77.6L557.36 77.61L557.57 77.61L557.78 77.61L557.99 77.62L558.2 77.62L558.42 77.62L558.63 77.62L558.84 77.63L559.05 77.63L559.26 77.63L559.47 77.63L559.68 77.63L559.89 77.63L560.11 77.63L560.32 77.63L560.53 77.63L560.74 77.63L560.95 77.62L561.16 77.62L561.37 77.61L561.58 77.6L561.8 77.59L562.01 77.56L562.22 77.51L562.43 77.42L562.64 77.25L562.85 77.03L563.06 76.81L563.27 76.7L563.48 76.79L563.7 76.99L563.91 77.19L564.12 77.34L564.33 77.41L564.54 77.43L564.75 77.43L564.96 77.41L565.17 77.37L565.39 77.33L565.6 77.27L565.81 77.2L566.02 77.11L566.23 76.99L566.44 76.83L566.65 76.62L566.86 76.31L567.08 75.8L567.29 74.81L567.5 72.77L567.71 68.78L567.92 62.05L568.13 52.83L568.34 43.58L568.55 39.34L568.77 43.58L568.98 52.85L569.19 62.07L569.4 68.8L569.61 72.8L569.82 74.85L570.03 75.85L570.24 76.36L570.46 76.68L570.67 76.9L570.88 77.06L571.09 77.19L571.3 77.29L571.51 77.37L571.72 77.44L571.93 77.49L572.15 77.54L572.36 77.58L572.57 77.61L572.78 77.64L572.99 77.67L573.2 77.69L573.41 77.71L573.62 77.73L573.83 77.74L574.05 77.76L574.26 77.77L574.47 77.78L574.68 77.79L574.89 77.8L575.1 77.81L575.31 77.82L575.52 77.83L575.74 77.84L575.95 77.84L576.16 77.85L576.37 77.86L576.58 77.86L576.79 77.87L577 77.87L577.21 77.88L577.43 77.88L577.64 77.88L577.85 77.89L578.06 77.89L578.27 77.89L578.48 77.9L578.69 77.9L578.9 77.9L579.12 77.9L579.33 77.91L579.54 77.91L579.75 77.91L579.96 77.91L580.17 77.91L580.38 77.91L580.59 77.91L580.81 77.91L581.02 77.91L581.23 77.91L581.44 77.91L581.65 77.91L581.86 77.9L582.07 77.9L582.28 77.9L582.49 77.89L582.71 77.89L582.92 77.88L583.13 77.87L583.34 77.87L583.55 77.86L583.76 77.84L583.97 77.83L584.18 77.81L584.4 77.79L584.61 77.77L584.82 77.74L585.03 77.71L585.24 77.67L585.45 77.63L585.66 77.57L585.87 77.49L586.09 77.4L586.3 77.28L586.51 77.12L586.72 76.9L586.93 76.55L587.14 75.92L587.35 74.63L587.56 72.01L587.78 67.3L587.99 60.24L588.2 52.04L588.41 46.18L588.62 46.93L588.83 53.64L589.04 61.82L589.25 68.45L589.47 72.7L589.68 74.99L589.89 76.11L590.1 76.67L590.31 76.98L590.52 77.19L590.73 77.35L590.94 77.47L591.16 77.56L591.37 77.63L591.58 77.69L591.79 77.74L592 77.78L592.21 77.82L592.42 77.85L592.63 77.88L592.84 77.9L593.06 77.92L593.27 77.94L593.48 77.95L593.69 77.97L593.9 77.98L594.11 77.99L594.32 78L594.53 78.01L594.75 78.02L594.96 78.02L595.17 78.03L595.38 78.04L595.59 78.04L595.8 78.05L596.01 78.05L596.22 78.06L596.44 78.06L596.65 78.07L596.86 78.07L597.07 78.08L597.28 78.08L597.49 78.08L597.7 78.09L597.91 78.09L598.13 78.09L598.34 78.09L598.55 78.1L598.76 78.1L598.97 78.1L599.18 78.1L599.39 78.1L599.6 78.1L599.82 78.1L600.03 78.1L600.24 78.1L600.45 78.09L600.66 78.07L600.87 78.03L601.08 77.96L601.29 77.86L601.5 77.76L601.72 77.72L601.93 77.76L602.14 77.86L602.35 77.95L602.56 78.02L602.77 78.06L602.98 78.08L603.19 78.08L603.41 78.08L603.62 78.08L603.83 78.07L604.04 78.05L604.25 78.03L604.46 78L604.67 77.95L604.88 77.85L605.1 77.64L605.31 77.23L605.52 76.53L605.73 75.57L605.94 74.61L606.15 74.18L606.36 74.62L606.57 75.58L606.79 76.54L607 77.24L607.21 77.66L607.42 77.87L607.63 77.98L607.84 78.03L608.05 78.06L608.26 78.09L608.48 78.1L608.69 78.12L608.9 78.13L609.11 78.14L609.32 78.15L609.53 78.15L609.74 78.16L609.95 78.16L610.17 78.17L610.38 78.17L610.59 78.18L610.8 78.18L611.01 78.18L611.22 78.18L611.43 78.19L611.64 78.19L611.85 78.19L612.07 78.19L612.28 78.19L612.49 78.19L612.7 78.19L612.91 78.2L613.12 78.2L613.33 78.2L613.54 78.2L613.76 78.2L613.97 78.2L614.18 78.2L614.39 78.2L614.6 78.2L614.81 78.2L615.02 78.2L615.23 78.2L615.45 78.2L615.66 78.2L615.87 78.2L616.08 78.2L616.29 78.19L616.5 78.19L616.71 78.19L616.92 78.19L617.14 78.19L617.35 78.18L617.56 78.18L617.77 78.17L617.98 78.17L618.19 78.16L618.4 78.15L618.61 78.15L618.83 78.14L619.04 78.12L619.25 78.11L619.46 78.09L619.67 78.06L619.88 78.03L620.09 78L620.3 77.95L620.51 77.88L620.73 77.78L620.94 77.62L621.15 77.32L621.36 76.68L621.57 75.43L621.78 73.34L621.99 70.46L622.2 67.58L622.42 66.26L622.63 67.58L622.84 70.47L623.05 73.34L623.26 75.44L623.47 76.69L623.68 77.33L623.89 77.63L624.11 77.8L624.32 77.89L624.53 77.96L624.74 78.01L624.95 78.05L625.16 78.08L625.37 78.11L625.58 78.13L625.8 78.15L626.01 78.16L626.22 78.17L626.43 78.18L626.64 78.19L626.85 78.2L627.06 78.21L627.27 78.21L627.49 78.22L627.7 78.22L627.91 78.23L628.12 78.23L628.33 78.23L628.54 78.24L628.75 78.24L628.96 78.24L629.18 78.24L629.39 78.24L629.6 78.25L629.81 78.25L630.02 78.25L630.23 78.25L630.44 78.25L630.65 78.25L630.86 78.25L631.08 78.25L631.29 78.25L631.5 78.24L631.71 78.24L631.92 78.23L632.13 78.23L632.34 78.21L632.55 78.19L632.77 78.15L632.98 78.07L633.19 77.9L633.4 77.63L633.61 77.24L633.82 76.86L634.03 76.68L634.24 76.86L634.46 77.25L634.67 77.63L634.88 77.91L635.09 78.08L635.3 78.16L635.51 78.2L635.72 78.23L635.93 78.24L636.15 78.25L636.36 78.26L636.57 78.26L636.78 78.27L636.99 78.27L637.2 78.27L637.41 78.28L637.62 78.28L637.84 78.28L638.05 78.28L638.26 78.28L638.47 78.29L638.68 78.29L638.89 78.29L639.1 78.29L639.31 78.29L639.52 78.29L639.74 78.29L639.95 78.29L640.16 78.29L640.37 78.29L640.58 78.29L640.79 78.29L641 78.29L641.21 78.29L641.43 78.29L641.64 78.29L641.85 78.29L642.06 78.29L642.27 78.29L642.48 78.29L642.69 78.29L642.9 78.29L643.12 78.29L643.33 78.29L643.54 78.29L643.75 78.29L643.96 78.29L644.17 78.29L644.38 78.28L644.59 78.28L644.81 78.28L645.02 78.28L645.23 78.28L645.44 78.27L645.65 78.27L645.86 78.27L646.07 78.27L646.28 78.26L646.5 78.26L646.71 78.25L646.92 78.24L647.13 78.24L647.34 78.23L647.55 78.22L647.76 78.21L647.97 78.19L648.19 78.18L648.4 78.16L648.61 78.13L648.82 78.11L649.03 78.07L649.24 78.02L649.45 77.96L649.66 77.88L649.87 77.76L650.09 77.57L650.3 77.2L650.51 76.43L650.72 74.92L650.93 72.39L651.14 68.92L651.35 65.43L651.56 63.83L651.78 65.43L651.99 68.92L652.2 72.39L652.41 74.92L652.62 76.43L652.83 77.2L653.04 77.57L653.25 77.77L653.47 77.89L653.68 77.97L653.89 78.03L654.1 78.08L654.31 78.11L654.52 78.14L654.73 78.17L654.94 78.19L655.16 78.2L655.37 78.22L655.58 78.23L655.79 78.24L656 78.25L656.21 78.26L656.42 78.26L656.63 78.27L656.85 78.27L657.06 78.28L657.27 78.28L657.48 78.29L657.69 78.29L657.9 78.29L658.11 78.29L658.32 78.29L658.53 78.3L658.75 78.3L658.96 78.3L659.17 78.3L659.38 78.29L659.59 78.29L659.8 78.29L660.01 78.28L660.22 78.28L660.44 78.26L660.65 78.22L660.86 78.15L661.07 78.02L661.28 77.86L661.49 77.69L661.7 77.61L661.91 77.68L662.13 77.85L662.34 78.01L662.55 78.13L662.76 78.19L662.97 78.22L663.18 78.22L663.39 78.21L663.6 78.18L663.82 78.12L664.03 77.99L664.24 77.72L664.45 77.27L664.66 76.65L664.87 76.02L665.08 75.74L665.29 76.03L665.51 76.65L665.72 77.28L665.93 77.73L666.14 78L666.35 78.14L666.56 78.21L666.77 78.24L666.98 78.27L667.2 78.28L667.41 78.29L667.62 78.3L667.83 78.31L668.04 78.32L668.25 78.32L668.46 78.32L668.67 78.33L668.88 78.33L669.1 78.33L669.31 78.34L669.52 78.34L669.73 78.34L669.94 78.34L670.15 78.34L670.36 78.34L670.57 78.35L670.79 78.35L671 78.35L671.21 78.35L671.42 78.35L671.63 78.35L671.84 78.35L672.05 78.35L672.26 78.35L672.48 78.35L672.69 78.35L672.9 78.35L673.11 78.35L673.32 78.36L673.53 78.36L673.74 78.36L673.95 78.36L674.17 78.36L674.38 78.36L674.59 78.36L674.8 78.36L675.01 78.36L675.22 78.36L675.43 78.36L675.64 78.36L675.86 78.36L676.07 78.36L676.28 78.36L676.49 78.36L676.7 78.36" stroke="#0c9c2c" stroke-width="1.2" fill="none" stroke-linejoin="round" opacity="0.55"/>
<path d="M486.6 73.79L486.81 73.82L487.02 73.85L487.23 73.87L487.44 73.9L487.66 73.92L487.87 73.95L488.08 73.97L488.29 73.99L488.5 74.02L488.71 74.04L488.92 74.07L489.13 74.09L489.35 74.11L489.56 74.14L489.77 74.16L489.98 74.18L490.19 74.21L490.4 74.23L490.61 74.25L490.82 74.28L491.04 74.3L491.25 74.32L491.46 74.34L491.67 74.37L491.88 74.39L492.09 74.41L492.3 74.43L492.51 74.45L492.73 74.48L492.94 74.5L493.15 74.52L493.36 74.54L493.57 74.56L493.78 74.58L493.99 74.6L494.2 74.62L494.42 74.65L494.63 74.67L494.84 74.69L495.05 74.71L495.26 74.73L495.47 74.75L495.68 74.77L495.89 74.79L496.11 74.81L496.32 74.83L496.53 74.84L496.74 74.86L496.95 74.88L497.16 74.9L497.37 74.92L497.58 74.94L497.79 74.96L498.01 74.98L498.22 75L498.43 75.01L498.64 75.03L498.85 75.05L499.06 75.07L499.27 75.08L499.48 75.1L499.7 75.12L499.91 75.14L500.12 75.15L500.33 75.17L500.54 75.19L500.75 75.2L500.96 75.22L501.17 75.23L501.39 75.25L501.6 75.26L501.81 75.28L502.02 75.29L502.23 75.3L502.44 75.32L502.65 75.33L502.86 75.34L503.08 75.34L503.29 75.35L503.5 75.35L503.71 75.35L503.92 75.35L504.13 75.33L504.34 75.29L504.55 75.2L504.77 75.01L504.98 74.61L505.19 73.92L505.4 72.98L505.61 72.03L505.82 71.61L506.03 72.06L506.24 73.04L506.45 74.01L506.67 74.73L506.88 75.16L507.09 75.38L507.3 75.5L507.51 75.57L507.72 75.61L507.93 75.65L508.14 75.68L508.36 75.7L508.57 75.73L508.78 75.75L508.99 75.77L509.2 75.79L509.41 75.8L509.62 75.82L509.83 75.83L510.05 75.85L510.26 75.86L510.47 75.87L510.68 75.88L510.89 75.89L511.1 75.9L511.31 75.91L511.52 75.92L511.74 75.93L511.95 75.93L512.16 75.94L512.37 75.94L512.58 75.93L512.79 75.93L513 75.92L513.21 75.9L513.43 75.87L513.64 75.83L513.85 75.77L514.06 75.65L514.27 75.42L514.48 74.93L514.69 73.96L514.9 72.31L515.12 70.04L515.33 67.77L515.54 66.74L515.75 67.8L515.96 70.09L516.17 72.38L516.38 74.05L516.59 75.05L516.8 75.57L517.02 75.82L517.23 75.96L517.44 76.05L517.65 76.11L517.86 76.17L518.07 76.21L518.28 76.24L518.49 76.27L518.71 76.3L518.92 76.32L519.13 76.35L519.34 76.37L519.55 76.38L519.76 76.4L519.97 76.42L520.18 76.43L520.4 76.45L520.61 76.46L520.82 76.48L521.03 76.49L521.24 76.5L521.45 76.51L521.66 76.53L521.87 76.54L522.09 76.55L522.3 76.56L522.51 76.57L522.72 76.58L522.93 76.6L523.14 76.61L523.35 76.62L523.56 76.63L523.78 76.64L523.99 76.65L524.2 76.66L524.41 76.67L524.62 76.68L524.83 76.69L525.04 76.7L525.25 76.71L525.46 76.72L525.68 76.73L525.89 76.74L526.1 76.74L526.31 76.75L526.52 76.76L526.73 76.77L526.94 76.78L527.15 76.79L527.37 76.8L527.58 76.81L527.79 76.82L528 76.82L528.21 76.83L528.42 76.84L528.63 76.85L528.84 76.86L529.06 76.87L529.27 76.87L529.48 76.88L529.69 76.89L529.9 76.9L530.11 76.9L530.32 76.91L530.53 76.92L530.75 76.93L530.96 76.94L531.17 76.94L531.38 76.95L531.59 76.96L531.8 76.96L532.01 76.97L532.22 76.98L532.44 76.99L532.65 76.99L532.86 77L533.07 77.01L533.28 77.01L533.49 77.02L533.7 77.02L533.91 77.03L534.13 77.04L534.34 77.04L534.55 77.05L534.76 77.05L534.97 77.06L535.18 77.07L535.39 77.07L535.6 77.08L535.81 77.08L536.03 77.09L536.24 77.09L536.45 77.09L536.66 77.1L536.87 77.1L537.08 77.11L537.29 77.11L537.5 77.11L537.72 77.12L537.93 77.12L538.14 77.12L538.35 77.12L538.56 77.12L538.77 77.12L538.98 77.12L539.19 77.12L539.41 77.12L539.62 77.12L539.83 77.11L540.04 77.11L540.25 77.1L540.46 77.1L540.67 77.09L540.88 77.07L541.1 77.06L541.31 77.04L541.52 77.02L541.73 77L541.94 76.96L542.15 76.93L542.36 76.88L542.57 76.82L542.79 76.75L543 76.65L543.21 76.54L543.42 76.38L543.63 76.17L543.84 75.86L544.05 75.35L544.26 74.37L544.47 72.33L544.69 68.34L544.9 61.61L545.11 52.4L545.32 43.14L545.53 38.91L545.74 43.15L545.95 52.42L546.16 61.64L546.38 68.38L546.59 72.38L546.8 74.43L547.01 75.43L547.22 75.95L547.43 76.26L547.64 76.49L547.85 76.65L548.07 76.78L548.28 76.88L548.49 76.97L548.7 77.04L548.91 77.09L549.12 77.14L549.33 77.18L549.54 77.22L549.76 77.25L549.97 77.28L550.18 77.3L550.39 77.33L550.6 77.35L550.81 77.37L551.02 77.38L551.23 77.4L551.45 77.41L551.66 77.42L551.87 77.44L552.08 77.45L552.29 77.46L552.5 77.47L552.71 77.48L552.92 77.49L553.14 77.5L553.35 77.5L553.56 77.51L553.77 77.52L553.98 77.53L554.19 77.53L554.4 77.54L554.61 77.54L554.82 77.55L555.04 77.56L555.25 77.56L555.46 77.57L555.67 77.57L555.88 77.58L556.09 77.58L556.3 77.59L556.51 77.59L556.73 77.59L556.94 77.6L557.15 77.6L557.36 77.61L557.57 77.61L557.78 77.61L557.99 77.62L558.2 77.62L558.42 77.62L558.63 77.62L558.84 77.63L559.05 77.63L559.26 77.63L559.47 77.63L559.68 77.63L559.89 77.63L560.11 77.63L560.32 77.63L560.53 77.63L560.74 77.63L560.95 77.62L561.16 77.62L561.37 77.61L561.58 77.6L561.8 77.59L562.01 77.56L562.22 77.51L562.43 77.42L562.64 77.25L562.85 77.03L563.06 76.81L563.27 76.7L563.48 76.79L563.7 76.99L563.91 77.19L564.12 77.34L564.33 77.41L564.54 77.43L564.75 77.43L564.96 77.41L565.17 77.37L565.39 77.33L565.6 77.27L565.81 77.2L566.02 77.11L566.23 76.99L566.44 76.83L566.65 76.62L566.86 76.31L567.08 75.8L567.29 74.81L567.5 72.77L567.71 68.78L567.92 62.05L568.13 52.83L568.34 43.58L568.55 39.34L568.77 43.58L568.98 52.85L569.19 62.07L569.4 68.8L569.61 72.8L569.82 74.85L570.03 75.85L570.24 76.36L570.46 76.68L570.67 76.9L570.88 77.06L571.09 77.19L571.3 77.29L571.51 77.37L571.72 77.44L571.93 77.49L572.15 77.54L572.36 77.58L572.57 77.61L572.78 77.64L572.99 77.67L573.2 77.69L573.41 77.71L573.62 77.73L573.83 77.74L574.05 77.76L574.26 77.77L574.47 77.78L574.68 77.79L574.89 77.8L575.1 77.81L575.31 77.82L575.52 77.83L575.74 77.84L575.95 77.84L576.16 77.85L576.37 77.86L576.58 77.86L576.79 77.87L577 77.87L577.21 77.88L577.43 77.88L577.64 77.88L577.85 77.89L578.06 77.89L578.27 77.89L578.48 77.9L578.69 77.9L578.9 77.9L579.12 77.9L579.33 77.91L579.54 77.91L579.75 77.91L579.96 77.91L580.17 77.91L580.38 77.91L580.59 77.91L580.81 77.91L581.02 77.91L581.23 77.91L581.44 77.91L581.65 77.91L581.86 77.9L582.07 77.9L582.28 77.9L582.49 77.89L582.71 77.89L582.92 77.88L583.13 77.87L583.34 77.87L583.55 77.86L583.76 77.84L583.97 77.83L584.18 77.81L584.4 77.79L584.61 77.77L584.82 77.74L585.03 77.71L585.24 77.67L585.45 77.63L585.66 77.57L585.87 77.49L586.09 77.4L586.3 77.28L586.51 77.12L586.72 76.9L586.93 76.55L587.14 75.92L587.35 74.63L587.56 72.01L587.78 67.3L587.99 60.24L588.2 52.04L588.41 46.18L588.62 46.93L588.83 53.64L589.04 61.82L589.25 68.45L589.47 72.7L589.68 74.99L589.89 76.11L590.1 76.67L590.31 76.98L590.52 77.19L590.73 77.35L590.94 77.47L591.16 77.56L591.37 77.63L591.58 77.69L591.79 77.74L592 77.78L592.21 77.82L592.42 77.85L592.63 77.88L592.84 77.9L593.06 77.92L593.27 77.94L593.48 77.95L593.69 77.97L593.9 77.98L594.11 77.99L594.32 78L594.53 78.01L594.75 78.02L594.96 78.02L595.17 78.03L595.38 78.04L595.59 78.04L595.8 78.05L596.01 78.05L596.22 78.06L596.44 78.06L596.65 78.07L596.86 78.07L597.07 78.08L597.28 78.08L597.49 78.08L597.7 78.09L597.91 78.09L598.13 78.09L598.34 78.09L598.55 78.1L598.76 78.1L598.97 78.1L599.18 78.1L599.39 78.1L599.6 78.1L599.82 78.1L600.03 78.1L600.24 78.1L600.45 78.09L600.66 78.07L600.87 78.03L601.08 77.96L601.29 77.86L601.5 77.76L601.72 77.72L601.93 77.76L602.14 77.86L602.35 77.95L602.56 78.02L602.77 78.06L602.98 78.08L603.19 78.08L603.41 78.08L603.62 78.08L603.83 78.07L604.04 78.05L604.25 78.03L604.46 78L604.67 77.95L604.88 77.85L605.1 77.64L605.31 77.23L605.52 76.53L605.73 75.57L605.94 74.61L606.15 74.18L606.36 74.62L606.57 75.58L606.79 76.54L607 77.24L607.21 77.66L607.42 77.87L607.63 77.98L607.84 78.03L608.05 78.06L608.26 78.09L608.48 78.1L608.69 78.12L608.9 78.13L609.11 78.14L609.32 78.15L609.53 78.15L609.74 78.16L609.95 78.16L610.17 78.17L610.38 78.17L610.59 78.18L610.8 78.18L611.01 78.18L611.22 78.18L611.43 78.19L611.64 78.19L611.85 78.19L612.07 78.19L612.28 78.19L612.49 78.19L612.7 78.19L612.91 78.2L613.12 78.2L613.33 78.2L613.54 78.2L613.76 78.2L613.97 78.2L614.18 78.2L614.39 78.2L614.6 78.2L614.81 78.2L615.02 78.2L615.23 78.2L615.45 78.2L615.66 78.2L615.87 78.2L616.08 78.2L616.29 78.19L616.5 78.19L616.71 78.19L616.92 78.19L617.14 78.19L617.35 78.18L617.56 78.18L617.77 78.17L617.98 78.17L618.19 78.16L618.4 78.15L618.61 78.15L618.83 78.14L619.04 78.12L619.25 78.11L619.46 78.09L619.67 78.06L619.88 78.03L620.09 78L620.3 77.95L620.51 77.88L620.73 77.78L620.94 77.62L621.15 77.32L621.36 76.68L621.57 75.43L621.78 73.34L621.99 70.46L622.2 67.58L622.42 66.26L622.63 67.58L622.84 70.47L623.05 73.34L623.26 75.44L623.47 76.69L623.68 77.33L623.89 77.63L624.11 77.8L624.32 77.89L624.53 77.96L624.74 78.01L624.95 78.05L625.16 78.08L625.37 78.11L625.58 78.13L625.8 78.15L626.01 78.16L626.22 78.17L626.43 78.18L626.64 78.19L626.85 78.2L627.06 78.21L627.27 78.21L627.49 78.22L627.7 78.22L627.91 78.23L628.12 78.23L628.33 78.23L628.54 78.24L628.75 78.24L628.96 78.24L629.18 78.24L629.39 78.24L629.6 78.25L629.81 78.25L630.02 78.25L630.23 78.25L630.44 78.25L630.65 78.25L630.86 78.25L631.08 78.25L631.29 78.25L631.5 78.24L631.71 78.24L631.92 78.23L632.13 78.23L632.34 78.21L632.55 78.19L632.77 78.15L632.98 78.07L633.19 77.9L633.4 77.63L633.61 77.24L633.82 76.86L634.03 76.68L634.24 76.86L634.46 77.25L634.67 77.63L634.88 77.91L635.09 78.08L635.3 78.16L635.51 78.2L635.72 78.23L635.93 78.24L636.15 78.25L636.36 78.26L636.57 78.26L636.78 78.27L636.99 78.27L637.2 78.27L637.41 78.28L637.62 78.28L637.84 78.28L638.05 78.28L638.26 78.28L638.47 78.29L638.68 78.29L638.89 78.29L639.1 78.29L639.31 78.29L639.52 78.29L639.74 78.29L639.95 78.29L640.16 78.29L640.37 78.29L640.58 78.29L640.79 78.29L641 78.29L641.21 78.29L641.43 78.29L641.64 78.29L641.85 78.29L642.06 78.29L642.27 78.29L642.48 78.29L642.69 78.29L642.9 78.29L643.12 78.29L643.33 78.29L643.54 78.29L643.75 78.29L643.96 78.29L644.17 78.29L644.38 78.28L644.59 78.28L644.81 78.28L645.02 78.28L645.23 78.28L645.44 78.27L645.65 78.27L645.86 78.27L646.07 78.27L646.28 78.26L646.5 78.26L646.71 78.25L646.92 78.24L647.13 78.24L647.34 78.23L647.55 78.22L647.76 78.21L647.97 78.19L648.19 78.18L648.4 78.16L648.61 78.13L648.82 78.11L649.03 78.07L649.24 78.02L649.45 77.96L649.66 77.88L649.87 77.76L650.09 77.57L650.3 77.2L650.51 76.43L650.72 74.92L650.93 72.39L651.14 68.92L651.35 65.43L651.56 63.83L651.78 65.43L651.99 68.92L652.2 72.39L652.41 74.92L652.62 76.43L652.83 77.2L653.04 77.57L653.25 77.77L653.47 77.89L653.68 77.97L653.89 78.03L654.1 78.08L654.31 78.11L654.52 78.14L654.73 78.17L654.94 78.19L655.16 78.2L655.37 78.22L655.58 78.23L655.79 78.24L656 78.25L656.21 78.26L656.42 78.26L656.63 78.27L656.85 78.27L657.06 78.28L657.27 78.28L657.48 78.29L657.69 78.29L657.9 78.29L658.11 78.29L658.32 78.29L658.53 78.3L658.75 78.3L658.96 78.3L659.17 78.3L659.38 78.29L659.59 78.29L659.8 78.29L660.01 78.28L660.22 78.28L660.44 78.26L660.65 78.22L660.86 78.15L661.07 78.02L661.28 77.86L661.49 77.69L661.7 77.61L661.91 77.68L662.13 77.85L662.34 78.01L662.55 78.13L662.76 78.19L662.97 78.22L663.18 78.22L663.39 78.21L663.6 78.18L663.82 78.12L664.03 77.99L664.24 77.72L664.45 77.27L664.66 76.65L664.87 76.02L665.08 75.74L665.29 76.03L665.51 76.65L665.72 77.28L665.93 77.73L666.14 78L666.35 78.14L666.56 78.21L666.77 78.24L666.98 78.27L667.2 78.28L667.41 78.29L667.62 78.3L667.83 78.31L668.04 78.32L668.25 78.32L668.46 78.32L668.67 78.33L668.88 78.33L669.1 78.33L669.31 78.34L669.52 78.34L669.73 78.34L669.94 78.34L670.15 78.34L670.36 78.34L670.57 78.35L670.79 78.35L671 78.35L671.21 78.35L671.42 78.35L671.63 78.35L671.84 78.35L672.05 78.35L672.26 78.35L672.48 78.35L672.69 78.35L672.9 78.35L673.11 78.35L673.32 78.36L673.53 78.36L673.74 78.36L673.95 78.36L674.17 78.36L674.38 78.36L674.59 78.36L674.8 78.36L675.01 78.36L675.22 78.36L675.43 78.36L675.64 78.36L675.86 78.36L676.07 78.36L676.28 78.36L676.49 78.36L676.7 78.36" stroke="#5ee860" stroke-width="1.0" fill="none" stroke-linejoin="round"/>
<path d="M486.6 85.09L487.11 84.93L487.61 85.49L488.12 84.95L488.63 85.02L489.13 85.32L489.64 84.82L490.15 84.88L490.66 85.04L491.16 84.93L491.67 84.76L492.18 84.96L492.68 84.93L493.19 85.12L493.7 84.67L494.2 84.86L494.71 85.23L495.22 85.37L495.72 84.7L496.23 85.13L496.74 84.8L497.25 84.83L497.75 84.83L498.26 84.92L498.77 85.2L499.27 85.14L499.78 85.01L500.29 84.93L500.79 85L501.3 84.98L501.81 85.16L502.31 84.87L502.82 85L503.33 84.98L503.84 84.99L504.34 85.05L504.85 85.04L505.36 85.34L505.86 85.15L506.37 85.26L506.88 84.94L507.38 84.9L507.89 85.02L508.4 85.07L508.91 85.05L509.41 85.26L509.92 85.23L510.43 85.1L510.93 84.93L511.44 84.98L511.95 85.28L512.45 85.04L512.96 84.74L513.47 84.86L513.97 84.88L514.48 85.24L514.99 85.1L515.5 85.85L516 84.96L516.51 85.01L517.02 84.91L517.52 85.19L518.03 84.95L518.54 84.84L519.04 85.11L519.55 85L520.06 85.24L520.56 84.99L521.07 84.43L521.58 85.16L522.09 84.62L522.59 85.31L523.1 85.36L523.61 84.91L524.11 84.77L524.62 84.72L525.13 85.17L525.63 84.96L526.14 84.88L526.65 84.95L527.15 85.42L527.66 85.07L528.17 85.15L528.68 85.16L529.18 85.2L529.69 85.21L530.2 84.86L530.7 84.96L531.21 84.85L531.72 84.86L532.22 85.23L532.73 84.9L533.24 84.98L533.74 84.86L534.25 84.88L534.76 85.16L535.27 84.91L535.77 84.9L536.28 85.1L536.79 85.1L537.29 85.16L537.8 85.03L538.31 84.65L538.81 85.13L539.32 85.1L539.83 85.2L540.33 84.83L540.84 85.5L541.35 84.75L541.86 85.15L542.36 85.01L542.87 84.9L543.38 85.16L543.88 84.94L544.39 84.54L544.9 85.11L545.4 83.57L545.91 84.52L546.42 84.78L546.93 85L547.43 85.29L547.94 85.12L548.45 84.92L548.95 84.72L549.46 84.64L549.97 84.85L550.47 84.93L550.98 84.55L551.49 84.66L551.99 85.06L552.5 84.92L553.01 84.85L553.52 84.92L554.02 84.84L554.53 85.19L555.04 85.33L555.54 85.41L556.05 85.14L556.56 85.15L557.06 85.29L557.57 85.35L558.08 85.29L558.58 85.24L559.09 84.87L559.6 84.68L560.11 85.18L560.61 84.98L561.12 84.99L561.63 84.82L562.13 84.74L562.64 85.29L563.15 85.06L563.65 84.77L564.16 85.08L564.67 85.06L565.17 85.1L565.68 85.45L566.19 84.99L566.7 84.74L567.2 85.01L567.71 84.77L568.22 84.07L568.72 86.49L569.23 85.34L569.74 84.88L570.24 85.08L570.75 84.9L571.26 85.1L571.76 84.94L572.27 84.78L572.78 85.1L573.29 84.86L573.79 85.29L574.3 85.09L574.81 85.09L575.31 85.02L575.82 84.99L576.33 84.52L576.83 85.24L577.34 84.84L577.85 85.19L578.35 84.87L578.86 84.97L579.37 84.96L579.88 84.79L580.38 84.97L580.89 85.1L581.4 84.92L581.9 84.75L582.41 84.89L582.92 85.05L583.42 85.23L583.93 85.17L584.44 85.06L584.95 84.8L585.45 85.18L585.96 85L586.47 84.95L586.97 85.18L587.48 85.1L587.99 85.6L588.49 86.14L589 84.37L589.51 84.63L590.01 85.04L590.52 85.01L591.03 85.19L591.54 85.04L592.04 84.93L592.55 85.42L593.06 84.79L593.56 84.73L594.07 84.88L594.58 85.1L595.08 84.93L595.59 84.91L596.1 84.78L596.6 85.29L597.11 84.88L597.62 84.78L598.13 84.98L598.63 84.84L599.14 84.95L599.65 85.27L600.15 84.91L600.66 84.99L601.17 84.93L601.67 84.98L602.18 85.16L602.69 85.11L603.19 84.93L603.7 84.81L604.21 84.97L604.72 85.17L605.22 84.99L605.73 85.06L606.24 84.8L606.74 85.16L607.25 84.7L607.76 84.74L608.26 84.92L608.77 85.01L609.28 85.01L609.78 84.85L610.29 84.94L610.8 84.88L611.31 84.64L611.81 84.95L612.32 84.86L612.83 85.08L613.33 84.97L613.84 85.19L614.35 85.14L614.85 85.18L615.36 85.24L615.87 85.14L616.37 84.97L616.88 85.27L617.39 84.81L617.9 84.99L618.4 85.17L618.91 84.94L619.42 85.14L619.92 84.84L620.43 84.89L620.94 85.11L621.44 85.13L621.95 85.46L622.46 85.49L622.97 84.9L623.47 85.12L623.98 85.09L624.49 84.74L624.99 84.89L625.5 85.29L626.01 84.75L626.51 85.13L627.02 84.91L627.53 85.2L628.03 84.84L628.54 85.01L629.05 84.59L629.56 84.99L630.06 85.21L630.57 84.7L631.08 85.24L631.58 84.86L632.09 84.99L632.6 84.45L633.1 85.21L633.61 84.86L634.12 84.96L634.62 84.73L635.13 84.8L635.64 85.23L636.15 84.9L636.65 85.18L637.16 84.96L637.67 85.07L638.17 84.9L638.68 85.09L639.19 85.52L639.69 85.13L640.2 85.1L640.71 84.9L641.21 85.2L641.72 85.27L642.23 84.66L642.74 84.72L643.24 85.42L643.75 85.09L644.26 85.03L644.76 85.11L645.27 85.22L645.78 85.16L646.28 84.96L646.79 85.41L647.3 85L647.8 84.83L648.31 84.89L648.82 84.97L649.33 84.92L649.83 84.96L650.34 85.06L650.85 84.26L651.35 84.33L651.86 84.76L652.37 85.16L652.87 84.86L653.38 84.88L653.89 85.23L654.39 84.95L654.9 84.89L655.41 85.37L655.92 84.93L656.42 85.14L656.93 84.99L657.44 85.01L657.94 84.81L658.45 84.83L658.96 85.25L659.46 84.77L659.97 85.06L660.48 84.76L660.99 84.95L661.49 84.97L662 84.65L662.51 85.23L663.01 84.96L663.52 85.24L664.03 84.81L664.53 85.22L665.04 85.58L665.55 85L666.05 84.87L666.56 85.1L667.07 85.03L667.58 84.96L668.08 84.98L668.59 84.88L669.1 85.08L669.6 84.92L670.11 84.83L670.62 85.16L671.12 84.97L671.63 85.53L672.14 84.95L672.64 84.86L673.15 84.89L673.66 85.07L674.17 84.86L674.67 84.75L675.18 85.33L675.69 84.75L676.19 85.3L676.7 85.03" stroke="#ee8532" stroke-width="1.05" fill="none"/>
</g>
<path d="M505.82 89.4v3.3M515.54 89.4v3.3M545.53 89.4v3.3M563.27 89.4v3.3M568.55 89.4v3.3M588.49 89.4v3.3M601.72 89.4v3.3M606.15 89.4v3.3M622.42 89.4v3.3M634.03 89.4v3.3M651.56 89.4v3.3M661.7 89.4v3.3M665.08 89.4v3.3" stroke="#555" stroke-width="0.6" fill="none"/>
<g clip-path="url(#clipC2)">
<path d="M486.6 159.31h0M486.81 159.45h0M487.02 159.11h0M487.23 159.56h0M487.44 159.31h0M487.66 159.05h0M487.87 159.32h0M488.08 159.66h0M488.29 159.62h0M488.5 159.28h0M488.71 159.75h0M488.92 159.6h0M489.13 159.76h0M489.35 159.77h0M489.56 159.42h0M489.77 159.83h0M489.98 159.62h0M490.19 160.19h0M490.4 160.01h0M490.61 159.87h0M490.82 159.64h0M491.04 159.92h0M491.25 159.98h0M491.46 159.66h0M491.67 160.55h0M491.88 160.12h0M492.09 160.47h0M492.3 159.79h0M492.51 160.51h0M492.73 159.79h0M492.94 159.99h0M493.15 160.31h0M493.36 160.22h0M493.57 159.64h0M493.78 159.98h0M493.99 160.49h0M494.2 160.83h0M494.42 160.56h0M494.63 160.29h0M494.84 160.58h0M495.05 160.12h0M495.26 160.56h0M495.47 160.12h0M495.68 160.48h0M495.89 160.47h0M496.11 160.73h0M496.32 160.48h0M496.53 160.88h0M496.74 160.55h0M496.95 160.83h0M497.16 160.84h0M497.37 160.21h0M497.58 160.7h0M497.79 160.72h0M498.01 160.54h0M498.22 160.81h0M498.43 160.42h0M498.64 160.94h0M498.85 160.95h0M499.06 160.92h0M499.27 161.49h0M499.48 160.98h0M499.7 160.93h0M499.91 160.75h0M500.12 161.03h0M500.33 160.73h0M500.54 161.31h0M500.75 160.85h0M500.96 161.07h0M501.17 161.55h0M501.39 161.36h0M501.6 161.15h0M501.81 161.46h0M502.02 161.11h0M502.23 161.34h0M502.44 161.17h0M502.65 160.95h0M502.86 161.3h0M503.08 161.44h0M503.29 161.13h0M503.5 160.95h0M503.71 161.09h0M503.92 160.63h0M504.13 161.06h0M504.34 160.92h0M504.55 161.62h0M504.77 160.8h0M504.98 160.2h0M505.19 160.19h0M505.4 159.09h0M505.61 158.3h0M505.82 157.95h0M506.03 158.37h0M506.24 159.11h0M506.45 160.32h0M506.67 160.86h0M506.88 161h0M507.09 161.29h0M507.3 161.21h0M507.51 161.58h0M507.72 161.74h0M507.93 161.75h0M508.14 161.78h0M508.36 161.62h0M508.57 162.07h0M508.78 161.65h0M508.99 161.73h0M509.2 161.66h0M509.41 161.78h0M509.62 161.72h0M509.83 162.31h0M510.05 161.92h0M510.26 161.41h0M510.47 161.74h0M510.68 161.51h0M510.89 162.1h0M511.1 162.24h0M511.31 161.79h0M511.52 162.07h0M511.74 161.87h0M511.95 162.04h0M512.16 162.38h0M512.37 161.86h0M512.58 161.64h0M512.79 162.13h0M513 162.08h0M513.21 162.11h0M513.43 162.18h0M513.64 161.72h0M513.85 161.36h0M514.06 162.02h0M514.27 161.47h0M514.48 160.87h0M514.69 160.09h0M514.9 159.31h0M515.12 157.22h0M515.33 155.39h0M515.54 154.68h0M515.75 155.18h0M515.96 156.95h0M516.17 158.9h0M516.38 160.22h0M516.59 161.25h0M516.8 161.53h0M517.02 161.97h0M517.23 161.96h0M517.44 162.14h0M517.65 162.38h0M517.86 162.61h0M518.07 162.69h0M518.28 162.36h0M518.49 162.42h0M518.71 162.26h0M518.92 162.67h0M519.13 162.82h0M519.34 162.31h0M519.55 162.67h0M519.76 162.41h0M519.97 162.47h0M520.18 162.58h0M520.4 162.45h0M520.61 162.79h0M520.82 162.2h0M521.03 162.42h0M521.24 162.58h0M521.45 162.36h0M521.66 162.73h0M521.87 162.27h0M522.09 162.68h0M522.3 162.32h0M522.51 162.65h0M522.72 162.83h0M522.93 163.27h0M523.14 163h0M523.35 163.15h0M523.56 162.77h0M523.78 163.29h0M523.99 162.72h0M524.2 162.73h0M524.41 162.48h0M524.62 162.87h0M524.83 163.09h0M525.04 162.68h0M525.25 162.76h0M525.46 162.74h0M525.68 162.79h0M525.89 162.73h0M526.1 162.56h0M526.31 163.25h0M526.52 162.42h0M526.73 162.69h0M526.94 163.02h0M527.15 163.2h0M527.37 162.91h0M527.58 162.9h0M527.79 162.99h0M528 162.92h0M528.21 163.22h0M528.42 162.89h0M528.63 162.77h0M528.84 162.91h0M529.06 163.06h0M529.27 163.36h0M529.48 163.46h0M529.69 162.97h0M529.9 162.71h0M530.11 162.74h0M530.32 163.63h0M530.53 163.01h0M530.75 163.23h0M530.96 163.61h0M531.17 162.97h0M531.38 163.1h0M531.59 163.01h0M531.8 162.89h0M532.01 163.37h0M532.22 163.45h0M532.44 162.72h0M532.65 163.44h0M532.86 163.15h0M533.07 163.26h0M533.28 163.27h0M533.49 162.9h0M533.7 163.16h0M533.91 163h0M534.13 163.73h0M534.34 163.81h0M534.55 163.29h0M534.76 162.98h0M534.97 163.57h0M535.18 163.24h0M535.39 163.73h0M535.6 163.8h0M535.81 163.73h0M536.03 163.22h0M536.24 163.07h0M536.45 163.16h0M536.66 163.31h0M536.87 163.11h0M537.08 163.64h0M537.29 163.52h0M537.5 163.35h0M537.72 163.26h0M537.93 163.53h0M538.14 163.71h0M538.35 162.89h0M538.56 163.43h0M538.77 163.3h0M538.98 163.19h0M539.19 163.29h0M539.41 163.41h0M539.62 163.85h0M539.83 163.39h0M540.04 163.27h0M540.25 163.07h0M540.46 163.56h0M540.67 163.17h0M540.88 163.32h0M541.1 163.52h0M541.31 163.34h0M541.52 163.21h0M541.73 163.24h0M541.94 163.48h0M542.15 163.22h0M542.36 163.24h0M542.57 163.24h0M542.79 162.98h0M543 163.06h0M543.21 162.8h0M543.42 163.02h0M543.63 162.66h0M543.84 161.83h0M544.05 161.74h0M544.26 161.16h0M544.47 158.95h0M544.69 155.22h0M544.9 149.37h0M545.11 140.36h0M545.32 132.11h0M545.53 128.35h0M545.74 132.32h0M545.95 140.4h0M546.16 148.85h0M546.38 155.75h0M546.59 158.87h0M546.8 160.94h0M547.01 162.49h0M547.22 162.24h0M547.43 162.1h0M547.64 163.56h0M547.85 163.27h0M548.07 163.22h0M548.28 163.93h0M548.49 163.29h0M548.7 163.74h0M548.91 163.43h0M549.12 163.41h0M549.33 163.67h0M549.54 163.77h0M549.76 163.9h0M549.97 163.91h0M550.18 163.51h0M550.39 163.63h0M550.6 164.16h0M550.81 163.85h0M551.02 163.73h0M551.23 164.06h0M551.45 164.09h0M551.66 164.08h0M551.87 163.63h0M552.08 163.68h0M552.29 163.98h0M552.5 164.1h0M552.71 163.51h0M552.92 163.7h0M553.14 163.77h0M553.35 164.09h0M553.56 163.57h0M553.77 164.53h0M553.98 163.88h0M554.19 164.02h0M554.4 164.43h0M554.61 164.04h0M554.82 164.08h0M555.04 163.85h0M555.25 164.02h0M555.46 163.64h0M555.67 163.89h0M555.88 163.93h0M556.09 163.68h0M556.3 164.18h0M556.51 164.05h0M556.73 163.47h0M556.94 164.14h0M557.15 163.72h0M557.36 164.1h0M557.57 163.76h0M557.78 163.87h0M557.99 164.07h0M558.2 164.45h0M558.42 163.59h0M558.63 163.89h0M558.84 163.89h0M559.05 164.25h0M559.26 163.92h0M559.47 164.09h0M559.68 164.32h0M559.89 164.18h0M560.11 163.88h0M560.32 163.88h0M560.53 163.92h0M560.74 164.02h0M560.95 163.77h0M561.16 163.96h0M561.37 164.12h0M561.58 163.85h0M561.8 163.83h0M562.01 163.99h0M562.22 164.07h0M562.43 163.44h0M562.64 163.37h0M562.85 163.71h0M563.06 163.16h0M563.27 162.78h0M563.48 163.18h0M563.7 163.75h0M563.91 163.4h0M564.12 163.45h0M564.33 163.7h0M564.54 164.18h0M564.75 163.61h0M564.96 163.89h0M565.17 163.97h0M565.39 163.82h0M565.6 163.52h0M565.81 163.69h0M566.02 163.47h0M566.23 163.5h0M566.44 163.23h0M566.65 162.94h0M566.86 162.14h0M567.08 162.19h0M567.29 160.93h0M567.5 158.24h0M567.71 154.44h0M567.92 147.28h0M568.13 137.24h0M568.34 126.68h0M568.55 122.55h0M568.77 127.06h0M568.98 137.21h0M569.19 146.65h0M569.4 154.56h0M569.61 158.93h0M569.82 161.15h0M570.03 162.07h0M570.24 162.61h0M570.46 163.23h0M570.67 163.33h0M570.88 163.29h0M571.09 163.6h0M571.3 163.81h0M571.51 164.03h0M571.72 163.92h0M571.93 163.66h0M572.15 163.79h0M572.36 164.01h0M572.57 164.07h0M572.78 164.28h0M572.99 163.58h0M573.2 163.9h0M573.41 163.81h0M573.62 164.39h0M573.83 164.33h0M574.05 164.24h0M574.26 164.37h0M574.47 164.04h0M574.68 164.32h0M574.89 164.22h0M575.1 164.24h0M575.31 164.19h0M575.52 164.47h0M575.74 164.51h0M575.95 163.89h0M576.16 164.13h0M576.37 164.28h0M576.58 164.41h0M576.79 163.88h0M577 164.05h0M577.21 164.21h0M577.43 164.73h0M577.64 164.08h0M577.85 164.2h0M578.06 164.3h0M578.27 164.28h0M578.48 164.35h0M578.69 164.31h0M578.9 164.27h0M579.12 164.39h0M579.33 164.39h0M579.54 164.42h0M579.75 164.43h0M579.96 164.04h0M580.17 164.38h0M580.38 164.37h0M580.59 164.53h0M580.81 164.51h0M581.02 164.72h0M581.23 164.14h0M581.44 164.3h0M581.65 164.39h0M581.86 164.18h0M582.07 164.27h0M582.28 164.24h0M582.49 164.21h0M582.71 164.89h0M582.92 164.3h0M583.13 164.68h0M583.34 164.1h0M583.55 164.37h0M583.76 164.14h0M583.97 164.37h0M584.18 164.68h0M584.4 164.74h0M584.61 164.44h0M584.82 164.33h0M585.03 164.19h0M585.24 164.25h0M585.45 164.45h0M585.66 163.66h0M585.87 163.93h0M586.09 163.68h0M586.3 164.07h0M586.51 163.38h0M586.72 163.7h0M586.93 162.91h0M587.14 162.38h0M587.35 161.91h0M587.56 159.54h0M587.78 155.01h0M587.99 148.72h0M588.2 141.85h0M588.41 137.18h0M588.62 137.67h0M588.83 143.23h0M589.04 150.64h0M589.25 156.56h0M589.47 159.61h0M589.68 161.84h0M589.89 162.62h0M590.1 163.57h0M590.31 163.61h0M590.52 163.6h0M590.73 163.48h0M590.94 164.17h0M591.16 164h0M591.37 164.17h0M591.58 164.15h0M591.79 164.34h0M592 163.84h0M592.21 164.1h0M592.42 164.41h0M592.63 164.8h0M592.84 164.45h0M593.06 164.37h0M593.27 164.25h0M593.48 164.25h0M593.69 164.38h0M593.9 164.25h0M594.11 164.48h0M594.32 164.46h0M594.53 164.96h0M594.75 164.46h0M594.96 164.76h0M595.17 164.39h0M595.38 164.74h0M595.59 165.11h0M595.8 164.37h0M596.01 164.23h0M596.22 164.79h0M596.44 164.54h0M596.65 164.47h0M596.86 164.65h0M597.07 164.61h0M597.28 164.85h0M597.49 164.65h0M597.7 164.41h0M597.91 164.28h0M598.13 164.13h0M598.34 164.29h0M598.55 164.83h0M598.76 164.21h0M598.97 164.58h0M599.18 164.87h0M599.39 164.71h0M599.6 164.94h0M599.82 164.75h0M600.03 164.95h0M600.24 164.42h0M600.45 164.35h0M600.66 165.02h0M600.87 164.58h0M601.08 164.44h0M601.29 164.19h0M601.5 164.63h0M601.72 164.31h0M601.93 164.36h0M602.14 164.17h0M602.35 164.44h0M602.56 164.38h0M602.77 164.5h0M602.98 164.63h0M603.19 164.43h0M603.41 164.35h0M603.62 164.74h0M603.83 164.29h0M604.04 164.88h0M604.25 164.89h0M604.46 164.14h0M604.67 164.84h0M604.88 164.15h0M605.1 164.49h0M605.31 163.65h0M605.52 163.35h0M605.73 162.04h0M605.94 161.6h0M606.15 161.06h0M606.36 161.83h0M606.57 162.5h0M606.79 162.95h0M607 163.88h0M607.21 164.01h0M607.42 164.42h0M607.63 164.85h0M607.84 164.91h0M608.05 164.59h0M608.26 164.37h0M608.48 164.6h0M608.69 165.11h0M608.9 164.58h0M609.11 164.26h0M609.32 164.28h0M609.53 164.34h0M609.74 164.9h0M609.95 164.56h0M610.17 164.46h0M610.38 164.74h0M610.59 164.89h0M610.8 164.62h0M611.01 164.46h0M611.22 164.71h0M611.43 164.86h0M611.64 164.25h0M611.85 164.32h0M612.07 165.16h0M612.28 164.78h0M612.49 164.76h0M612.7 164.32h0M612.91 164.43h0M613.12 164.61h0M613.33 164.98h0M613.54 164.7h0M613.76 164.27h0M613.97 165.06h0M614.18 165.07h0M614.39 164.89h0M614.6 164.4h0M614.81 164.52h0M615.02 164.61h0M615.23 164.71h0M615.45 165.12h0M615.66 164.34h0M615.87 164.5h0M616.08 164.67h0M616.29 164.53h0M616.5 164.54h0M616.71 164.3h0M616.92 164.68h0M617.14 164.58h0M617.35 164.7h0M617.56 164.88h0M617.77 164.59h0M617.98 164.62h0M618.19 164.71h0M618.4 164.52h0M618.61 164.68h0M618.83 164.18h0M619.04 164.39h0M619.25 164.72h0M619.46 164.62h0M619.67 164.76h0M619.88 164.19h0M620.09 164.36h0M620.3 164.42h0M620.51 164.36h0M620.73 164.24h0M620.94 164.5h0M621.15 163.75h0M621.36 163.2h0M621.57 162.27h0M621.78 160.34h0M621.99 157.62h0M622.2 155.35h0M622.42 153.87h0M622.63 154.89h0M622.84 157.35h0M623.05 160.53h0M623.26 161.99h0M623.47 163.39h0M623.68 163.75h0M623.89 164.68h0M624.11 164.49h0M624.32 163.96h0M624.53 164.53h0M624.74 164.17h0M624.95 164.4h0M625.16 164.77h0M625.37 164.28h0M625.58 164.7h0M625.8 164.61h0M626.01 164.83h0M626.22 164.41h0M626.43 164.82h0M626.64 164.58h0M626.85 164.93h0M627.06 164.7h0M627.27 164.85h0M627.49 165.03h0M627.7 164.97h0M627.91 164.7h0M628.12 164.88h0M628.33 164.71h0M628.54 164.82h0M628.75 165.12h0M628.96 164.5h0M629.18 164.43h0M629.39 164.84h0M629.6 164.58h0M629.81 165.03h0M630.02 164.93h0M630.23 164.88h0M630.44 164.72h0M630.65 164.61h0M630.86 164.51h0M631.08 164.59h0M631.29 164.71h0M631.5 164.48h0M631.71 164.97h0M631.92 164.87h0M632.13 164.38h0M632.34 164.02h0M632.55 164.94h0M632.77 164.33h0M632.98 163.84h0M633.19 163.99h0M633.4 164.19h0M633.61 164.12h0M633.82 163.65h0M634.03 163.63h0M634.24 163.87h0M634.46 164.25h0M634.67 163.91h0M634.88 164.37h0M635.09 164.42h0M635.3 164.67h0M635.51 164.61h0M635.72 164.78h0M635.93 165.18h0M636.15 164.56h0M636.36 164.93h0M636.57 164.51h0M636.78 164.43h0M636.99 165.01h0M637.2 164.72h0M637.41 164.78h0M637.62 165.12h0M637.84 164.44h0M638.05 164.79h0M638.26 165.13h0M638.47 164.51h0M638.68 164.84h0M638.89 165h0M639.1 165h0M639.31 164.94h0M639.52 165.02h0M639.74 164.9h0M639.95 164.97h0M640.16 164.87h0M640.37 164.56h0M640.58 164.81h0M640.79 164.75h0M641 165.06h0M641.21 164.91h0M641.43 164.91h0M641.64 164.83h0M641.85 164.95h0M642.06 164.65h0M642.27 164.85h0M642.48 164.61h0M642.69 164.7h0M642.9 164.51h0M643.12 165.33h0M643.33 164.93h0M643.54 164.55h0M643.75 164.69h0M643.96 164.87h0M644.17 164.67h0M644.38 164.96h0M644.59 164.89h0M644.81 165.06h0M645.02 164.07h0M645.23 164.96h0M645.44 164.83h0M645.65 165.02h0M645.86 164.63h0M646.07 164.58h0M646.28 164.48h0M646.5 164.87h0M646.71 164.79h0M646.92 164.33h0M647.13 164.6h0M647.34 164.73h0M647.55 164.43h0M647.76 164.63h0M647.97 164.68h0M648.19 164.55h0M648.4 164.27h0M648.61 164.94h0M648.82 164.69h0M649.03 164.69h0M649.24 164.42h0M649.45 164.56h0M649.66 164.28h0M649.87 164.32h0M650.09 164.22h0M650.3 164.03h0M650.51 163.1h0M650.72 161.81h0M650.93 160.21h0M651.14 156.69h0M651.35 154.19h0M651.56 152.8h0M651.78 154.31h0M651.99 156.92h0M652.2 159.65h0M652.41 162.03h0M652.62 162.91h0M652.83 163.62h0M653.04 164.19h0M653.25 164.38h0M653.47 164.09h0M653.68 164.83h0M653.89 164.56h0M654.1 164.92h0M654.31 164.91h0M654.52 164.68h0M654.73 164.59h0M654.94 164.35h0M655.16 164.96h0M655.37 165.11h0M655.58 164.78h0M655.79 164.76h0M656 164.53h0M656.21 164.51h0M656.42 164.74h0M656.63 165.07h0M656.85 164.71h0M657.06 165h0M657.27 164.88h0M657.48 164.76h0M657.69 164.58h0M657.9 164.7h0M658.11 164.5h0M658.32 165h0M658.53 164.92h0M658.75 164.56h0M658.96 164.63h0M659.17 164.47h0M659.38 164.83h0M659.59 164.94h0M659.8 164.57h0M660.01 164.68h0M660.22 164.87h0M660.44 164.35h0M660.65 164.78h0M660.86 165.03h0M661.07 164.93h0M661.28 164.32h0M661.49 164.17h0M661.7 164.29h0M661.91 164.35h0M662.13 164.71h0M662.34 164.58h0M662.55 164.71h0M662.76 164.78h0M662.97 165.14h0M663.18 164.5h0M663.39 165.04h0M663.6 164.76h0M663.82 164.71h0M664.03 164.3h0M664.24 164.23h0M664.45 163.57h0M664.66 162.53h0M664.87 162.6h0M665.08 161.93h0M665.29 162.56h0M665.51 162.85h0M665.72 163.71h0M665.93 164.16h0M666.14 164.1h0M666.35 164.67h0M666.56 164.58h0M666.77 164.18h0M666.98 165.23h0M667.2 164.92h0M667.41 164.9h0M667.62 164.83h0M667.83 165.04h0M668.04 164.72h0M668.25 165.02h0M668.46 165.08h0M668.67 164.73h0M668.88 164.87h0M669.1 164.89h0M669.31 164.5h0M669.52 164.95h0M669.73 164.85h0M669.94 165.16h0M670.15 164.91h0M670.36 164.65h0M670.57 164.9h0M670.79 164.74h0M671 164.29h0M671.21 164.81h0M671.42 164.55h0M671.63 165.17h0M671.84 164.94h0M672.05 165.08h0M672.26 164.95h0M672.48 164.81h0M672.69 165.03h0M672.9 164.49h0M673.11 165.06h0M673.32 164.83h0M673.53 164.38h0M673.74 164.83h0M673.95 165.01h0M674.17 164.75h0M674.38 165.2h0M674.59 165.18h0M674.8 164.72h0M675.01 164.68h0M675.22 164.81h0M675.43 164.75h0M675.64 165.05h0M675.86 165.14h0M676.07 165.03h0M676.28 165.04h0M676.49 164.86h0M676.7 164.84h0" stroke="#1428d8" stroke-width="2.9" fill="none" stroke-linecap="round"/>
<path d="M486.6 159.3L486.81 159.33L487.02 159.36L487.23 159.39L487.44 159.42L487.66 159.45L487.87 159.48L488.08 159.51L488.29 159.54L488.5 159.57L488.71 159.6L488.92 159.63L489.13 159.66L489.35 159.68L489.56 159.71L489.77 159.74L489.98 159.77L490.19 159.8L490.4 159.83L490.61 159.85L490.82 159.88L491.04 159.91L491.25 159.94L491.46 159.97L491.67 159.99L491.88 160.02L492.09 160.05L492.3 160.07L492.51 160.1L492.73 160.13L492.94 160.15L493.15 160.18L493.36 160.2L493.57 160.23L493.78 160.26L493.99 160.28L494.2 160.31L494.42 160.33L494.63 160.36L494.84 160.38L495.05 160.41L495.26 160.43L495.47 160.46L495.68 160.48L495.89 160.5L496.11 160.53L496.32 160.55L496.53 160.58L496.74 160.6L496.95 160.62L497.16 160.65L497.37 160.67L497.58 160.69L497.79 160.72L498.01 160.74L498.22 160.76L498.43 160.78L498.64 160.8L498.85 160.83L499.06 160.85L499.27 160.87L499.48 160.89L499.7 160.91L499.91 160.93L500.12 160.95L500.33 160.98L500.54 161L500.75 161.02L500.96 161.04L501.17 161.05L501.39 161.07L501.6 161.09L501.81 161.11L502.02 161.13L502.23 161.15L502.44 161.16L502.65 161.18L502.86 161.19L503.08 161.2L503.29 161.21L503.5 161.22L503.71 161.23L503.92 161.23L504.13 161.22L504.34 161.19L504.55 161.11L504.77 160.94L504.98 160.59L505.19 159.98L505.4 159.13L505.61 158.29L505.82 157.91L506.03 158.32L506.24 159.21L506.45 160.09L506.67 160.73L506.88 161.12L507.09 161.33L507.3 161.44L507.51 161.51L507.72 161.56L507.93 161.59L508.14 161.62L508.36 161.65L508.57 161.68L508.78 161.7L508.99 161.72L509.2 161.74L509.41 161.76L509.62 161.78L509.83 161.8L510.05 161.82L510.26 161.83L510.47 161.85L510.68 161.86L510.89 161.88L511.1 161.89L511.31 161.9L511.52 161.92L511.74 161.93L511.95 161.94L512.16 161.94L512.37 161.95L512.58 161.95L512.79 161.95L513 161.95L513.21 161.94L513.43 161.92L513.64 161.89L513.85 161.85L514.06 161.76L514.27 161.57L514.48 161.17L514.69 160.38L514.9 159.03L515.12 157.18L515.33 155.32L515.54 154.47L515.75 155.34L515.96 157.24L516.17 159.12L516.38 160.5L516.59 161.32L516.8 161.75L517.02 161.96L517.23 162.08L517.44 162.16L517.65 162.22L517.86 162.26L518.07 162.3L518.28 162.33L518.49 162.36L518.71 162.39L518.92 162.41L519.13 162.44L519.34 162.46L519.55 162.48L519.76 162.5L519.97 162.51L520.18 162.53L520.4 162.55L520.61 162.56L520.82 162.58L521.03 162.59L521.24 162.61L521.45 162.62L521.66 162.64L521.87 162.65L522.09 162.66L522.3 162.68L522.51 162.69L522.72 162.7L522.93 162.72L523.14 162.73L523.35 162.74L523.56 162.75L523.78 162.77L523.99 162.78L524.2 162.79L524.41 162.8L524.62 162.81L524.83 162.83L525.04 162.84L525.25 162.85L525.46 162.86L525.68 162.87L525.89 162.88L526.1 162.89L526.31 162.9L526.52 162.92L526.73 162.93L526.94 162.94L527.15 162.95L527.37 162.96L527.58 162.97L527.79 162.98L528 162.99L528.21 163L528.42 163.01L528.63 163.02L528.84 163.03L529.06 163.04L529.27 163.05L529.48 163.06L529.69 163.07L529.9 163.08L530.11 163.09L530.32 163.1L530.53 163.11L530.75 163.12L530.96 163.13L531.17 163.14L531.38 163.14L531.59 163.15L531.8 163.16L532.01 163.17L532.22 163.18L532.44 163.19L532.65 163.2L532.86 163.21L533.07 163.21L533.28 163.22L533.49 163.23L533.7 163.24L533.91 163.25L534.13 163.25L534.34 163.26L534.55 163.27L534.76 163.28L534.97 163.28L535.18 163.29L535.39 163.3L535.6 163.3L535.81 163.31L536.03 163.32L536.24 163.32L536.45 163.33L536.66 163.34L536.87 163.34L537.08 163.35L537.29 163.35L537.5 163.36L537.72 163.36L537.93 163.37L538.14 163.37L538.35 163.37L538.56 163.37L538.77 163.38L538.98 163.38L539.19 163.38L539.41 163.38L539.62 163.38L539.83 163.38L540.04 163.38L540.25 163.37L540.46 163.37L540.67 163.36L540.88 163.35L541.1 163.34L541.31 163.33L541.52 163.31L541.73 163.29L541.94 163.26L542.15 163.22L542.36 163.18L542.57 163.13L542.79 163.06L543 162.98L543.21 162.87L543.42 162.73L543.63 162.54L543.84 162.26L544.05 161.79L544.26 160.88L544.47 159L544.69 155.32L544.9 149.12L545.11 140.63L545.32 132.1L545.53 128.2L545.74 132.11L545.95 140.66L546.16 149.16L546.38 155.38L546.59 159.07L546.8 160.96L547.01 161.88L547.22 162.36L547.43 162.65L547.64 162.86L547.85 163.01L548.07 163.14L548.28 163.23L548.49 163.31L548.7 163.38L548.91 163.43L549.12 163.48L549.33 163.52L549.54 163.55L549.76 163.58L549.97 163.61L550.18 163.63L550.39 163.66L550.6 163.67L550.81 163.69L551.02 163.71L551.23 163.73L551.45 163.74L551.66 163.75L551.87 163.77L552.08 163.78L552.29 163.79L552.5 163.8L552.71 163.81L552.92 163.82L553.14 163.83L553.35 163.84L553.56 163.84L553.77 163.85L553.98 163.86L554.19 163.87L554.4 163.87L554.61 163.88L554.82 163.89L555.04 163.89L555.25 163.9L555.46 163.91L555.67 163.91L555.88 163.92L556.09 163.92L556.3 163.93L556.51 163.93L556.73 163.94L556.94 163.94L557.15 163.95L557.36 163.95L557.57 163.95L557.78 163.96L557.99 163.96L558.2 163.97L558.42 163.97L558.63 163.97L558.84 163.97L559.05 163.98L559.26 163.98L559.47 163.98L559.68 163.98L559.89 163.98L560.11 163.98L560.32 163.98L560.53 163.98L560.74 163.98L560.95 163.98L561.16 163.97L561.37 163.97L561.58 163.96L561.8 163.95L562.01 163.92L562.22 163.87L562.43 163.77L562.64 163.61L562.85 163.39L563.06 163.16L563.27 163.06L563.48 163.15L563.7 163.35L563.91 163.55L564.12 163.69L564.33 163.76L564.54 163.78L564.75 163.78L564.96 163.75L565.17 163.72L565.39 163.67L565.6 163.61L565.81 163.53L566.02 163.43L566.23 163.3L566.44 163.13L566.65 162.91L566.86 162.57L567.08 162.02L567.29 160.96L567.5 158.76L567.71 154.46L567.92 147.2L568.13 137.27L568.34 127.29L568.55 122.73L568.77 127.3L568.98 137.29L569.19 147.23L569.4 154.49L569.61 158.8L569.82 161.01L570.03 162.08L570.24 162.64L570.46 162.98L570.67 163.21L570.88 163.39L571.09 163.53L571.3 163.64L571.51 163.73L571.72 163.8L571.93 163.86L572.15 163.91L572.36 163.95L572.57 163.99L572.78 164.02L572.99 164.05L573.2 164.07L573.41 164.1L573.62 164.12L573.83 164.13L574.05 164.15L574.26 164.16L574.47 164.18L574.68 164.19L574.89 164.2L575.1 164.21L575.31 164.22L575.52 164.23L575.74 164.24L575.95 164.25L576.16 164.25L576.37 164.26L576.58 164.27L576.79 164.27L577 164.28L577.21 164.28L577.43 164.29L577.64 164.29L577.85 164.3L578.06 164.3L578.27 164.31L578.48 164.31L578.69 164.31L578.9 164.32L579.12 164.32L579.33 164.32L579.54 164.32L579.75 164.33L579.96 164.33L580.17 164.33L580.38 164.33L580.59 164.33L580.81 164.33L581.02 164.33L581.23 164.33L581.44 164.33L581.65 164.33L581.86 164.33L582.07 164.33L582.28 164.33L582.49 164.33L582.71 164.32L582.92 164.32L583.13 164.31L583.34 164.31L583.55 164.3L583.76 164.29L583.97 164.28L584.18 164.26L584.4 164.25L584.61 164.23L584.82 164.21L585.03 164.18L585.24 164.15L585.45 164.11L585.66 164.06L585.87 163.99L586.09 163.92L586.3 163.81L586.51 163.68L586.72 163.49L586.93 163.19L587.14 162.64L587.35 161.53L587.56 159.28L587.78 155.22L587.99 149.14L588.2 142.07L588.41 137.03L588.62 137.67L588.83 143.46L589.04 150.5L589.25 156.22L589.47 159.88L589.68 161.85L589.89 162.81L590.1 163.3L590.31 163.57L590.52 163.75L590.73 163.89L590.94 163.99L591.16 164.07L591.37 164.13L591.58 164.19L591.79 164.23L592 164.27L592.21 164.3L592.42 164.32L592.63 164.35L592.84 164.37L593.06 164.38L593.27 164.4L593.48 164.41L593.69 164.43L593.9 164.44L594.11 164.45L594.32 164.46L594.53 164.46L594.75 164.47L594.96 164.48L595.17 164.49L595.38 164.49L595.59 164.5L595.8 164.5L596.01 164.51L596.22 164.51L596.44 164.52L596.65 164.52L596.86 164.53L597.07 164.53L597.28 164.53L597.49 164.54L597.7 164.54L597.91 164.54L598.13 164.54L598.34 164.55L598.55 164.55L598.76 164.55L598.97 164.55L599.18 164.55L599.39 164.56L599.6 164.56L599.82 164.56L600.03 164.55L600.24 164.55L600.45 164.54L600.66 164.52L600.87 164.48L601.08 164.41L601.29 164.32L601.5 164.22L601.72 164.18L601.93 164.22L602.14 164.32L602.35 164.41L602.56 164.48L602.77 164.52L602.98 164.54L603.19 164.54L603.41 164.54L603.62 164.54L603.83 164.53L604.04 164.52L604.25 164.5L604.46 164.48L604.67 164.43L604.88 164.34L605.1 164.15L605.31 163.78L605.52 163.15L605.73 162.29L605.94 161.43L606.15 161.03L606.36 161.43L606.57 162.3L606.79 163.16L607 163.79L607.21 164.17L607.42 164.36L607.63 164.46L607.84 164.51L608.05 164.54L608.26 164.56L608.48 164.57L608.69 164.59L608.9 164.6L609.11 164.61L609.32 164.61L609.53 164.62L609.74 164.63L609.95 164.63L610.17 164.63L610.38 164.64L610.59 164.64L610.8 164.64L611.01 164.65L611.22 164.65L611.43 164.65L611.64 164.65L611.85 164.66L612.07 164.66L612.28 164.66L612.49 164.66L612.7 164.66L612.91 164.66L613.12 164.66L613.33 164.66L613.54 164.67L613.76 164.67L613.97 164.67L614.18 164.67L614.39 164.67L614.6 164.67L614.81 164.67L615.02 164.67L615.23 164.67L615.45 164.67L615.66 164.67L615.87 164.67L616.08 164.67L616.29 164.67L616.5 164.66L616.71 164.66L616.92 164.66L617.14 164.66L617.35 164.66L617.56 164.65L617.77 164.65L617.98 164.64L618.19 164.64L618.4 164.63L618.61 164.62L618.83 164.61L619.04 164.6L619.25 164.59L619.46 164.57L619.67 164.55L619.88 164.52L620.09 164.49L620.3 164.44L620.51 164.38L620.73 164.29L620.94 164.15L621.15 163.87L621.36 163.28L621.57 162.14L621.78 160.22L621.99 157.59L622.2 154.94L622.42 153.73L622.63 154.94L622.84 157.59L623.05 160.22L623.26 162.15L623.47 163.29L623.68 163.88L623.89 164.16L624.11 164.31L624.32 164.4L624.53 164.46L624.74 164.51L624.95 164.54L625.16 164.57L625.37 164.6L625.58 164.62L625.8 164.63L626.01 164.65L626.22 164.66L626.43 164.67L626.64 164.67L626.85 164.68L627.06 164.69L627.27 164.69L627.49 164.7L627.7 164.7L627.91 164.71L628.12 164.71L628.33 164.71L628.54 164.72L628.75 164.72L628.96 164.72L629.18 164.72L629.39 164.73L629.6 164.73L629.81 164.73L630.02 164.73L630.23 164.73L630.44 164.73L630.65 164.73L630.86 164.73L631.08 164.73L631.29 164.73L631.5 164.72L631.71 164.72L631.92 164.72L632.13 164.71L632.34 164.7L632.55 164.68L632.77 164.64L632.98 164.56L633.19 164.41L633.4 164.15L633.61 163.79L633.82 163.43L634.03 163.27L634.24 163.43L634.46 163.79L634.67 164.15L634.88 164.42L635.09 164.57L635.3 164.65L635.51 164.69L635.72 164.71L635.93 164.73L636.15 164.73L636.36 164.74L636.57 164.75L636.78 164.75L636.99 164.76L637.2 164.76L637.41 164.76L637.62 164.76L637.84 164.77L638.05 164.77L638.26 164.77L638.47 164.77L638.68 164.77L638.89 164.77L639.1 164.77L639.31 164.77L639.52 164.78L639.74 164.78L639.95 164.78L640.16 164.78L640.37 164.78L640.58 164.78L640.79 164.78L641 164.78L641.21 164.78L641.43 164.78L641.64 164.78L641.85 164.78L642.06 164.78L642.27 164.78L642.48 164.78L642.69 164.78L642.9 164.78L643.12 164.78L643.33 164.78L643.54 164.78L643.75 164.78L643.96 164.78L644.17 164.78L644.38 164.78L644.59 164.77L644.81 164.77L645.02 164.77L645.23 164.77L645.44 164.77L645.65 164.77L645.86 164.76L646.07 164.76L646.28 164.76L646.5 164.75L646.71 164.75L646.92 164.74L647.13 164.74L647.34 164.73L647.55 164.72L647.76 164.71L647.97 164.7L648.19 164.69L648.4 164.67L648.61 164.65L648.82 164.63L649.03 164.6L649.24 164.56L649.45 164.51L649.66 164.44L649.87 164.35L650.09 164.19L650.3 163.88L650.51 163.24L650.72 162L650.93 159.9L651.14 157.03L651.35 154.14L651.56 152.82L651.78 154.14L651.99 157.03L652.2 159.9L652.41 162L652.62 163.25L652.83 163.88L653.04 164.19L653.25 164.35L653.47 164.45L653.68 164.52L653.89 164.57L654.1 164.61L654.31 164.64L654.52 164.66L654.73 164.68L654.94 164.7L655.16 164.71L655.37 164.73L655.58 164.74L655.79 164.75L656 164.75L656.21 164.76L656.42 164.76L656.63 164.77L656.85 164.77L657.06 164.78L657.27 164.78L657.48 164.78L657.69 164.79L657.9 164.79L658.11 164.79L658.32 164.79L658.53 164.79L658.75 164.79L658.96 164.79L659.17 164.79L659.38 164.79L659.59 164.79L659.8 164.78L660.01 164.78L660.22 164.77L660.44 164.75L660.65 164.71L660.86 164.64L661.07 164.52L661.28 164.35L661.49 164.18L661.7 164.1L661.91 164.17L662.13 164.34L662.34 164.5L662.55 164.62L662.76 164.68L662.97 164.71L663.18 164.72L663.39 164.7L663.6 164.68L663.82 164.61L664.03 164.48L664.24 164.21L664.45 163.76L664.66 163.14L664.87 162.52L665.08 162.23L665.29 162.52L665.51 163.15L665.72 163.77L665.93 164.22L666.14 164.5L666.35 164.63L666.56 164.7L666.77 164.74L666.98 164.76L667.2 164.77L667.41 164.79L667.62 164.8L667.83 164.8L668.04 164.81L668.25 164.81L668.46 164.82L668.67 164.82L668.88 164.82L669.1 164.83L669.31 164.83L669.52 164.83L669.73 164.83L669.94 164.83L670.15 164.84L670.36 164.84L670.57 164.84L670.79 164.84L671 164.84L671.21 164.84L671.42 164.84L671.63 164.84L671.84 164.84L672.05 164.84L672.26 164.85L672.48 164.85L672.69 164.85L672.9 164.85L673.11 164.85L673.32 164.85L673.53 164.85L673.74 164.85L673.95 164.85L674.17 164.85L674.38 164.85L674.59 164.85L674.8 164.85L675.01 164.85L675.22 164.85L675.43 164.85L675.64 164.85L675.86 164.85L676.07 164.85L676.28 164.85L676.49 164.86L676.7 164.86" stroke="#1428d8" stroke-width="1.2" fill="none" stroke-linejoin="round" opacity="0.55"/>
<path d="M486.6 159.3L486.81 159.33L487.02 159.36L487.23 159.39L487.44 159.42L487.66 159.45L487.87 159.48L488.08 159.51L488.29 159.54L488.5 159.57L488.71 159.6L488.92 159.63L489.13 159.66L489.35 159.68L489.56 159.71L489.77 159.74L489.98 159.77L490.19 159.8L490.4 159.83L490.61 159.85L490.82 159.88L491.04 159.91L491.25 159.94L491.46 159.97L491.67 159.99L491.88 160.02L492.09 160.05L492.3 160.07L492.51 160.1L492.73 160.13L492.94 160.15L493.15 160.18L493.36 160.2L493.57 160.23L493.78 160.26L493.99 160.28L494.2 160.31L494.42 160.33L494.63 160.36L494.84 160.38L495.05 160.41L495.26 160.43L495.47 160.46L495.68 160.48L495.89 160.5L496.11 160.53L496.32 160.55L496.53 160.58L496.74 160.6L496.95 160.62L497.16 160.65L497.37 160.67L497.58 160.69L497.79 160.72L498.01 160.74L498.22 160.76L498.43 160.78L498.64 160.8L498.85 160.83L499.06 160.85L499.27 160.87L499.48 160.89L499.7 160.91L499.91 160.93L500.12 160.95L500.33 160.98L500.54 161L500.75 161.02L500.96 161.04L501.17 161.05L501.39 161.07L501.6 161.09L501.81 161.11L502.02 161.13L502.23 161.15L502.44 161.16L502.65 161.18L502.86 161.19L503.08 161.2L503.29 161.21L503.5 161.22L503.71 161.23L503.92 161.23L504.13 161.22L504.34 161.19L504.55 161.11L504.77 160.94L504.98 160.59L505.19 159.98L505.4 159.13L505.61 158.29L505.82 157.91L506.03 158.32L506.24 159.21L506.45 160.09L506.67 160.73L506.88 161.12L507.09 161.33L507.3 161.44L507.51 161.51L507.72 161.56L507.93 161.59L508.14 161.62L508.36 161.65L508.57 161.68L508.78 161.7L508.99 161.72L509.2 161.74L509.41 161.76L509.62 161.78L509.83 161.8L510.05 161.82L510.26 161.83L510.47 161.85L510.68 161.86L510.89 161.88L511.1 161.89L511.31 161.9L511.52 161.92L511.74 161.93L511.95 161.94L512.16 161.94L512.37 161.95L512.58 161.95L512.79 161.95L513 161.95L513.21 161.94L513.43 161.92L513.64 161.89L513.85 161.85L514.06 161.76L514.27 161.57L514.48 161.17L514.69 160.38L514.9 159.03L515.12 157.18L515.33 155.32L515.54 154.47L515.75 155.34L515.96 157.24L516.17 159.12L516.38 160.5L516.59 161.32L516.8 161.75L517.02 161.96L517.23 162.08L517.44 162.16L517.65 162.22L517.86 162.26L518.07 162.3L518.28 162.33L518.49 162.36L518.71 162.39L518.92 162.41L519.13 162.44L519.34 162.46L519.55 162.48L519.76 162.5L519.97 162.51L520.18 162.53L520.4 162.55L520.61 162.56L520.82 162.58L521.03 162.59L521.24 162.61L521.45 162.62L521.66 162.64L521.87 162.65L522.09 162.66L522.3 162.68L522.51 162.69L522.72 162.7L522.93 162.72L523.14 162.73L523.35 162.74L523.56 162.75L523.78 162.77L523.99 162.78L524.2 162.79L524.41 162.8L524.62 162.81L524.83 162.83L525.04 162.84L525.25 162.85L525.46 162.86L525.68 162.87L525.89 162.88L526.1 162.89L526.31 162.9L526.52 162.92L526.73 162.93L526.94 162.94L527.15 162.95L527.37 162.96L527.58 162.97L527.79 162.98L528 162.99L528.21 163L528.42 163.01L528.63 163.02L528.84 163.03L529.06 163.04L529.27 163.05L529.48 163.06L529.69 163.07L529.9 163.08L530.11 163.09L530.32 163.1L530.53 163.11L530.75 163.12L530.96 163.13L531.17 163.14L531.38 163.14L531.59 163.15L531.8 163.16L532.01 163.17L532.22 163.18L532.44 163.19L532.65 163.2L532.86 163.21L533.07 163.21L533.28 163.22L533.49 163.23L533.7 163.24L533.91 163.25L534.13 163.25L534.34 163.26L534.55 163.27L534.76 163.28L534.97 163.28L535.18 163.29L535.39 163.3L535.6 163.3L535.81 163.31L536.03 163.32L536.24 163.32L536.45 163.33L536.66 163.34L536.87 163.34L537.08 163.35L537.29 163.35L537.5 163.36L537.72 163.36L537.93 163.37L538.14 163.37L538.35 163.37L538.56 163.37L538.77 163.38L538.98 163.38L539.19 163.38L539.41 163.38L539.62 163.38L539.83 163.38L540.04 163.38L540.25 163.37L540.46 163.37L540.67 163.36L540.88 163.35L541.1 163.34L541.31 163.33L541.52 163.31L541.73 163.29L541.94 163.26L542.15 163.22L542.36 163.18L542.57 163.13L542.79 163.06L543 162.98L543.21 162.87L543.42 162.73L543.63 162.54L543.84 162.26L544.05 161.79L544.26 160.88L544.47 159L544.69 155.32L544.9 149.12L545.11 140.63L545.32 132.1L545.53 128.2L545.74 132.11L545.95 140.66L546.16 149.16L546.38 155.38L546.59 159.07L546.8 160.96L547.01 161.88L547.22 162.36L547.43 162.65L547.64 162.86L547.85 163.01L548.07 163.14L548.28 163.23L548.49 163.31L548.7 163.38L548.91 163.43L549.12 163.48L549.33 163.52L549.54 163.55L549.76 163.58L549.97 163.61L550.18 163.63L550.39 163.66L550.6 163.67L550.81 163.69L551.02 163.71L551.23 163.73L551.45 163.74L551.66 163.75L551.87 163.77L552.08 163.78L552.29 163.79L552.5 163.8L552.71 163.81L552.92 163.82L553.14 163.83L553.35 163.84L553.56 163.84L553.77 163.85L553.98 163.86L554.19 163.87L554.4 163.87L554.61 163.88L554.82 163.89L555.04 163.89L555.25 163.9L555.46 163.91L555.67 163.91L555.88 163.92L556.09 163.92L556.3 163.93L556.51 163.93L556.73 163.94L556.94 163.94L557.15 163.95L557.36 163.95L557.57 163.95L557.78 163.96L557.99 163.96L558.2 163.97L558.42 163.97L558.63 163.97L558.84 163.97L559.05 163.98L559.26 163.98L559.47 163.98L559.68 163.98L559.89 163.98L560.11 163.98L560.32 163.98L560.53 163.98L560.74 163.98L560.95 163.98L561.16 163.97L561.37 163.97L561.58 163.96L561.8 163.95L562.01 163.92L562.22 163.87L562.43 163.77L562.64 163.61L562.85 163.39L563.06 163.16L563.27 163.06L563.48 163.15L563.7 163.35L563.91 163.55L564.12 163.69L564.33 163.76L564.54 163.78L564.75 163.78L564.96 163.75L565.17 163.72L565.39 163.67L565.6 163.61L565.81 163.53L566.02 163.43L566.23 163.3L566.44 163.13L566.65 162.91L566.86 162.57L567.08 162.02L567.29 160.96L567.5 158.76L567.71 154.46L567.92 147.2L568.13 137.27L568.34 127.29L568.55 122.73L568.77 127.3L568.98 137.29L569.19 147.23L569.4 154.49L569.61 158.8L569.82 161.01L570.03 162.08L570.24 162.64L570.46 162.98L570.67 163.21L570.88 163.39L571.09 163.53L571.3 163.64L571.51 163.73L571.72 163.8L571.93 163.86L572.15 163.91L572.36 163.95L572.57 163.99L572.78 164.02L572.99 164.05L573.2 164.07L573.41 164.1L573.62 164.12L573.83 164.13L574.05 164.15L574.26 164.16L574.47 164.18L574.68 164.19L574.89 164.2L575.1 164.21L575.31 164.22L575.52 164.23L575.74 164.24L575.95 164.25L576.16 164.25L576.37 164.26L576.58 164.27L576.79 164.27L577 164.28L577.21 164.28L577.43 164.29L577.64 164.29L577.85 164.3L578.06 164.3L578.27 164.31L578.48 164.31L578.69 164.31L578.9 164.32L579.12 164.32L579.33 164.32L579.54 164.32L579.75 164.33L579.96 164.33L580.17 164.33L580.38 164.33L580.59 164.33L580.81 164.33L581.02 164.33L581.23 164.33L581.44 164.33L581.65 164.33L581.86 164.33L582.07 164.33L582.28 164.33L582.49 164.33L582.71 164.32L582.92 164.32L583.13 164.31L583.34 164.31L583.55 164.3L583.76 164.29L583.97 164.28L584.18 164.26L584.4 164.25L584.61 164.23L584.82 164.21L585.03 164.18L585.24 164.15L585.45 164.11L585.66 164.06L585.87 163.99L586.09 163.92L586.3 163.81L586.51 163.68L586.72 163.49L586.93 163.19L587.14 162.64L587.35 161.53L587.56 159.28L587.78 155.22L587.99 149.14L588.2 142.07L588.41 137.03L588.62 137.67L588.83 143.46L589.04 150.5L589.25 156.22L589.47 159.88L589.68 161.85L589.89 162.81L590.1 163.3L590.31 163.57L590.52 163.75L590.73 163.89L590.94 163.99L591.16 164.07L591.37 164.13L591.58 164.19L591.79 164.23L592 164.27L592.21 164.3L592.42 164.32L592.63 164.35L592.84 164.37L593.06 164.38L593.27 164.4L593.48 164.41L593.69 164.43L593.9 164.44L594.11 164.45L594.32 164.46L594.53 164.46L594.75 164.47L594.96 164.48L595.17 164.49L595.38 164.49L595.59 164.5L595.8 164.5L596.01 164.51L596.22 164.51L596.44 164.52L596.65 164.52L596.86 164.53L597.07 164.53L597.28 164.53L597.49 164.54L597.7 164.54L597.91 164.54L598.13 164.54L598.34 164.55L598.55 164.55L598.76 164.55L598.97 164.55L599.18 164.55L599.39 164.56L599.6 164.56L599.82 164.56L600.03 164.55L600.24 164.55L600.45 164.54L600.66 164.52L600.87 164.48L601.08 164.41L601.29 164.32L601.5 164.22L601.72 164.18L601.93 164.22L602.14 164.32L602.35 164.41L602.56 164.48L602.77 164.52L602.98 164.54L603.19 164.54L603.41 164.54L603.62 164.54L603.83 164.53L604.04 164.52L604.25 164.5L604.46 164.48L604.67 164.43L604.88 164.34L605.1 164.15L605.31 163.78L605.52 163.15L605.73 162.29L605.94 161.43L606.15 161.03L606.36 161.43L606.57 162.3L606.79 163.16L607 163.79L607.21 164.17L607.42 164.36L607.63 164.46L607.84 164.51L608.05 164.54L608.26 164.56L608.48 164.57L608.69 164.59L608.9 164.6L609.11 164.61L609.32 164.61L609.53 164.62L609.74 164.63L609.95 164.63L610.17 164.63L610.38 164.64L610.59 164.64L610.8 164.64L611.01 164.65L611.22 164.65L611.43 164.65L611.64 164.65L611.85 164.66L612.07 164.66L612.28 164.66L612.49 164.66L612.7 164.66L612.91 164.66L613.12 164.66L613.33 164.66L613.54 164.67L613.76 164.67L613.97 164.67L614.18 164.67L614.39 164.67L614.6 164.67L614.81 164.67L615.02 164.67L615.23 164.67L615.45 164.67L615.66 164.67L615.87 164.67L616.08 164.67L616.29 164.67L616.5 164.66L616.71 164.66L616.92 164.66L617.14 164.66L617.35 164.66L617.56 164.65L617.77 164.65L617.98 164.64L618.19 164.64L618.4 164.63L618.61 164.62L618.83 164.61L619.04 164.6L619.25 164.59L619.46 164.57L619.67 164.55L619.88 164.52L620.09 164.49L620.3 164.44L620.51 164.38L620.73 164.29L620.94 164.15L621.15 163.87L621.36 163.28L621.57 162.14L621.78 160.22L621.99 157.59L622.2 154.94L622.42 153.73L622.63 154.94L622.84 157.59L623.05 160.22L623.26 162.15L623.47 163.29L623.68 163.88L623.89 164.16L624.11 164.31L624.32 164.4L624.53 164.46L624.74 164.51L624.95 164.54L625.16 164.57L625.37 164.6L625.58 164.62L625.8 164.63L626.01 164.65L626.22 164.66L626.43 164.67L626.64 164.67L626.85 164.68L627.06 164.69L627.27 164.69L627.49 164.7L627.7 164.7L627.91 164.71L628.12 164.71L628.33 164.71L628.54 164.72L628.75 164.72L628.96 164.72L629.18 164.72L629.39 164.73L629.6 164.73L629.81 164.73L630.02 164.73L630.23 164.73L630.44 164.73L630.65 164.73L630.86 164.73L631.08 164.73L631.29 164.73L631.5 164.72L631.71 164.72L631.92 164.72L632.13 164.71L632.34 164.7L632.55 164.68L632.77 164.64L632.98 164.56L633.19 164.41L633.4 164.15L633.61 163.79L633.82 163.43L634.03 163.27L634.24 163.43L634.46 163.79L634.67 164.15L634.88 164.42L635.09 164.57L635.3 164.65L635.51 164.69L635.72 164.71L635.93 164.73L636.15 164.73L636.36 164.74L636.57 164.75L636.78 164.75L636.99 164.76L637.2 164.76L637.41 164.76L637.62 164.76L637.84 164.77L638.05 164.77L638.26 164.77L638.47 164.77L638.68 164.77L638.89 164.77L639.1 164.77L639.31 164.77L639.52 164.78L639.74 164.78L639.95 164.78L640.16 164.78L640.37 164.78L640.58 164.78L640.79 164.78L641 164.78L641.21 164.78L641.43 164.78L641.64 164.78L641.85 164.78L642.06 164.78L642.27 164.78L642.48 164.78L642.69 164.78L642.9 164.78L643.12 164.78L643.33 164.78L643.54 164.78L643.75 164.78L643.96 164.78L644.17 164.78L644.38 164.78L644.59 164.77L644.81 164.77L645.02 164.77L645.23 164.77L645.44 164.77L645.65 164.77L645.86 164.76L646.07 164.76L646.28 164.76L646.5 164.75L646.71 164.75L646.92 164.74L647.13 164.74L647.34 164.73L647.55 164.72L647.76 164.71L647.97 164.7L648.19 164.69L648.4 164.67L648.61 164.65L648.82 164.63L649.03 164.6L649.24 164.56L649.45 164.51L649.66 164.44L649.87 164.35L650.09 164.19L650.3 163.88L650.51 163.24L650.72 162L650.93 159.9L651.14 157.03L651.35 154.14L651.56 152.82L651.78 154.14L651.99 157.03L652.2 159.9L652.41 162L652.62 163.25L652.83 163.88L653.04 164.19L653.25 164.35L653.47 164.45L653.68 164.52L653.89 164.57L654.1 164.61L654.31 164.64L654.52 164.66L654.73 164.68L654.94 164.7L655.16 164.71L655.37 164.73L655.58 164.74L655.79 164.75L656 164.75L656.21 164.76L656.42 164.76L656.63 164.77L656.85 164.77L657.06 164.78L657.27 164.78L657.48 164.78L657.69 164.79L657.9 164.79L658.11 164.79L658.32 164.79L658.53 164.79L658.75 164.79L658.96 164.79L659.17 164.79L659.38 164.79L659.59 164.79L659.8 164.78L660.01 164.78L660.22 164.77L660.44 164.75L660.65 164.71L660.86 164.64L661.07 164.52L661.28 164.35L661.49 164.18L661.7 164.1L661.91 164.17L662.13 164.34L662.34 164.5L662.55 164.62L662.76 164.68L662.97 164.71L663.18 164.72L663.39 164.7L663.6 164.68L663.82 164.61L664.03 164.48L664.24 164.21L664.45 163.76L664.66 163.14L664.87 162.52L665.08 162.23L665.29 162.52L665.51 163.15L665.72 163.77L665.93 164.22L666.14 164.5L666.35 164.63L666.56 164.7L666.77 164.74L666.98 164.76L667.2 164.77L667.41 164.79L667.62 164.8L667.83 164.8L668.04 164.81L668.25 164.81L668.46 164.82L668.67 164.82L668.88 164.82L669.1 164.83L669.31 164.83L669.52 164.83L669.73 164.83L669.94 164.83L670.15 164.84L670.36 164.84L670.57 164.84L670.79 164.84L671 164.84L671.21 164.84L671.42 164.84L671.63 164.84L671.84 164.84L672.05 164.84L672.26 164.85L672.48 164.85L672.69 164.85L672.9 164.85L673.11 164.85L673.32 164.85L673.53 164.85L673.74 164.85L673.95 164.85L674.17 164.85L674.38 164.85L674.59 164.85L674.8 164.85L675.01 164.85L675.22 164.85L675.43 164.85L675.64 164.85L675.86 164.85L676.07 164.85L676.28 164.85L676.49 164.86L676.7 164.86" stroke="#28c8ff" stroke-width="1.0" fill="none" stroke-linejoin="round"/>
<path d="M486.6 170.36L487.11 170.49L487.61 170.43L488.12 170.29L488.63 170.1L489.13 170.51L489.64 170.54L490.15 170.22L490.66 170.6L491.16 170.35L491.67 170.72L492.18 170.47L492.68 170.36L493.19 170.55L493.7 170.41L494.2 170.42L494.71 170.41L495.22 170.38L495.72 170.48L496.23 170.5L496.74 170.44L497.25 170.62L497.75 170.24L498.26 170.34L498.77 170.5L499.27 170.26L499.78 170.59L500.29 170.49L500.79 170.38L501.3 170.46L501.81 170.33L502.31 170.22L502.82 170.5L503.33 170.51L503.84 170.41L504.34 170.4L504.85 170.14L505.36 170.37L505.86 170.51L506.37 170.38L506.88 170.56L507.38 170.34L507.89 170.31L508.4 170.51L508.91 170.38L509.41 170.24L509.92 170.55L510.43 170.3L510.93 170.33L511.44 170.28L511.95 170.44L512.45 170.53L512.96 170.35L513.47 170.45L513.97 170.34L514.48 170.69L514.99 170.7L515.5 170.73L516 170.29L516.51 170.5L517.02 170.45L517.52 170.31L518.03 170.38L518.54 170.49L519.04 170.45L519.55 170.3L520.06 170.45L520.56 170.28L521.07 170.14L521.58 170.42L522.09 170.51L522.59 170.45L523.1 170.58L523.61 170.61L524.11 170.44L524.62 170.32L525.13 170.39L525.63 170.23L526.14 170.4L526.65 170.39L527.15 170.42L527.66 170.53L528.17 170.14L528.68 170.49L529.18 170.34L529.69 170.5L530.2 170.42L530.7 170.28L531.21 170.5L531.72 170.31L532.22 170.46L532.73 170.33L533.24 170.34L533.74 170.41L534.25 170.63L534.76 170.48L535.27 170.4L535.77 170.6L536.28 170.4L536.79 170.36L537.29 170.28L537.8 170.42L538.31 170.41L538.81 170.32L539.32 170.17L539.83 170.38L540.33 170.41L540.84 170.35L541.35 170.29L541.86 170.27L542.36 170.34L542.87 170.56L543.38 170.42L543.88 170.2L544.39 170.49L544.9 170.69L545.4 169.16L545.91 169.44L546.42 170.47L546.93 170.42L547.43 170.43L547.94 170.41L548.45 170.41L548.95 170.37L549.46 170.33L549.97 170.36L550.47 170.26L550.98 170.34L551.49 170.32L551.99 170.35L552.5 170.35L553.01 170.38L553.52 170.45L554.02 170.36L554.53 170.41L555.04 170.43L555.54 170.36L556.05 170.38L556.56 170.44L557.06 170.2L557.57 170.48L558.08 170.34L558.58 169.96L559.09 170.46L559.6 170.26L560.11 170.51L560.61 170.28L561.12 170.37L561.63 170.48L562.13 170.3L562.64 170.29L563.15 170.35L563.65 170.54L564.16 170.53L564.67 170.57L565.17 170.45L565.68 170.46L566.19 170.53L566.7 170.47L567.2 170.3L567.71 170.39L568.22 169.3L568.72 171.75L569.23 170.69L569.74 170.38L570.24 170.5L570.75 170.43L571.26 170.35L571.76 170.39L572.27 170.33L572.78 170.36L573.29 170.55L573.79 170.45L574.3 170.36L574.81 170.36L575.31 170.33L575.82 170.38L576.33 170.22L576.83 170.47L577.34 170.37L577.85 170.48L578.35 170.52L578.86 170.44L579.37 170.28L579.88 170.25L580.38 170.5L580.89 170.5L581.4 170.23L581.9 170.29L582.41 170.53L582.92 170.41L583.42 170.64L583.93 170.46L584.44 170.51L584.95 170.39L585.45 170.35L585.96 170.23L586.47 170.08L586.97 170.53L587.48 170.47L587.99 170.84L588.49 171.89L589 169.72L589.51 170.56L590.01 170.46L590.52 170.6L591.03 170.2L591.54 170.57L592.04 170.51L592.55 170.44L593.06 170.3L593.56 170.44L594.07 170.43L594.58 170.33L595.08 170.24L595.59 170.27L596.1 170.34L596.6 170.54L597.11 170.54L597.62 170.6L598.13 170.46L598.63 170.23L599.14 170.31L599.65 170.26L600.15 170.37L600.66 170.57L601.17 170.38L601.67 170.37L602.18 170.46L602.69 170.49L603.19 170.52L603.7 170.29L604.21 170.29L604.72 170.35L605.22 170.48L605.73 170.51L606.24 170.45L606.74 170.58L607.25 170.33L607.76 170.39L608.26 170.39L608.77 170.3L609.28 170.4L609.78 170.41L610.29 170.43L610.8 170.44L611.31 170.34L611.81 170.29L612.32 170.53L612.83 170.37L613.33 170.53L613.84 170.45L614.35 170.72L614.85 170.39L615.36 170.2L615.87 170.36L616.37 170.55L616.88 170.63L617.39 170.61L617.9 170.48L618.4 170.59L618.91 170.28L619.42 170.33L619.92 170.29L620.43 170.47L620.94 170.56L621.44 170.4L621.95 170.67L622.46 170.85L622.97 170.2L623.47 170.41L623.98 170.59L624.49 170.46L624.99 170.47L625.5 170.53L626.01 170.48L626.51 170.32L627.02 170.61L627.53 170.39L628.03 170.41L628.54 170.4L629.05 170.48L629.56 170.38L630.06 170.45L630.57 170.61L631.08 170.31L631.58 170.18L632.09 170.56L632.6 170.44L633.1 170.48L633.61 170.52L634.12 170.43L634.62 170.41L635.13 170.2L635.64 170.39L636.15 170.41L636.65 170.26L637.16 170.32L637.67 170.39L638.17 170.44L638.68 170.38L639.19 170.57L639.69 170.49L640.2 170.5L640.71 170.19L641.21 170.35L641.72 170.42L642.23 170.35L642.74 170.43L643.24 170.33L643.75 170.3L644.26 170.39L644.76 170.41L645.27 170.36L645.78 170.4L646.28 170.52L646.79 170.46L647.3 170.5L647.8 170.47L648.31 170.41L648.82 170.36L649.33 170.62L649.83 170.42L650.34 170.5L650.85 170.25L651.35 169.72L651.86 169.82L652.37 170.42L652.87 170.26L653.38 170.5L653.89 170.36L654.39 170.35L654.9 170.6L655.41 170.36L655.92 170.35L656.42 170.73L656.93 170.46L657.44 170.42L657.94 170.35L658.45 170.56L658.96 170.55L659.46 170.12L659.97 170.4L660.48 170.44L660.99 170.47L661.49 170.23L662 170.38L662.51 170.62L663.01 170.54L663.52 170.29L664.03 170.45L664.53 170.35L665.04 170.62L665.55 170.01L666.05 170.52L666.56 170.44L667.07 170.54L667.58 170.27L668.08 170.38L668.59 170.28L669.1 170.47L669.6 170.44L670.11 170.65L670.62 170.51L671.12 170.15L671.63 170.45L672.14 170.43L672.64 170.54L673.15 170.5L673.66 170.32L674.17 170.38L674.67 170.55L675.18 170.32L675.69 170.43L676.19 170.29L676.7 170.55" stroke="#ee8532" stroke-width="1.05" fill="none"/>
</g>
<path d="M505.82 175.1v3.6M515.54 175.1v3.6M545.53 175.1v3.6M563.27 175.1v3.6M568.55 175.1v3.6M588.49 175.1v3.6M601.72 175.1v3.6M606.15 175.1v3.6M622.42 175.1v3.6M634.03 175.1v3.6M651.56 175.1v3.6M661.7 175.1v3.6M665.08 175.1v3.6" stroke="#555" stroke-width="0.6" fill="none"/>
<circle cx="488.6" cy="9.1" r="2.2" fill="#1616c8"/>
<text x="495.7" y="11.9" font-size="9" fill="#111" text-anchor="start" font-weight="normal" >Obv.</text>
<path d="M538.9 9.1H547.3" stroke="#5ce0ff" stroke-width="0.9"/>
<text x="553" y="11.9" font-size="9" fill="#111" text-anchor="start" font-weight="normal" >Cal.</text>
<path d="M592 9.1H598.9" stroke="#f7b887" stroke-width="0.9"/>
<text x="605.2" y="11.9" font-size="9" fill="#111" text-anchor="start" font-weight="normal" >Diff.</text>
<path d="M647.7 6.2V11.9" stroke="#777" stroke-width="0.7"/>
<text x="653.4" y="11.9" font-size="9" fill="#111" text-anchor="start" font-weight="normal" >Brag.</text>
<text x="673.3" y="30.2" font-size="9.05" fill="#111" text-anchor="end" font-weight="normal" ><tspan font-style="italic">R</tspan><tspan font-style="italic" font-size="6.3" dy="2">wp</tspan><tspan dy="-2"> = 8.8%, </tspan><tspan font-style="italic" font-family="Liberation Serif, serif" font-size="10.5">χ</tspan><tspan font-size="6.3" dy="-3.6">2</tspan><tspan dy="3.6"> = 1.31</tspan></text>
<text x="673" y="114.6" font-size="9.05" fill="#111" text-anchor="end" font-weight="normal" ><tspan font-style="italic">R</tspan><tspan font-style="italic" font-size="6.3" dy="2">wp</tspan><tspan dy="-2"> = 8.7%, </tspan><tspan font-style="italic" font-family="Liberation Serif, serif" font-size="10.5">χ</tspan><tspan font-size="6.3" dy="-3.6">2</tspan><tspan dy="3.6"> = 1.21</tspan></text>
<text x="674" y="47.7" font-size="9.2" fill="#111" text-anchor="end" font-weight="normal" >Cs<tspan font-size="6.3" dy="2">2</tspan><tspan dy="-2">NaScCl</tspan><tspan font-size="6.3" dy="2">6</tspan><tspan dy="-2">:Sb</tspan><tspan font-size="6.3" dy="-3.6">3+</tspan></text>
<text x="674" y="130.3" font-size="9.05" fill="#111" text-anchor="end" font-weight="normal" >Cs<tspan font-size="6.3" dy="2">2</tspan><tspan dy="-2">NaScCl</tspan><tspan font-size="6.3" dy="2">6</tspan></text>
<rect x="489.1" y="18" width="46.7" height="45.8" fill="#0b0b13"/>
<g filter="url(#blur06)"><path d="M508 28.6L514.4 28.4Q516.4 28.8 517.6 31L525.6 44.6Q527.4 49.6 523.4 51L502 51.8Q497.4 51.2 498.8 46.6L505.4 31Q506.4 29 508 28.6Z" fill="url(#cryT)" stroke="#6e6e66" stroke-width="0.9"/><path d="M511 30L511.6 41M511.6 41L501 49.6M511.6 41L524 48.6" stroke="#5c5c56" stroke-width="0.9" fill="none" opacity="0.8"/><path d="M501 46L506.5 33" stroke="#7c7c74" stroke-width="1.4" fill="none" opacity="0.8"/><path d="M502 50.8L522 50.2" stroke="#77776e" stroke-width="1.3" fill="none" opacity="0.8"/><path d="M508 29.2L514.6 29" stroke="#b8c0e8" stroke-width="1.3" fill="none" opacity="0.95"/></g>
<rect x="519" y="59.1" width="13" height="1.9" fill="#fff"/>
<text x="514.9" y="28.5" font-size="9" fill="#000" text-anchor="start" font-weight="normal" >Obv.</text>
<rect x="489.1" y="103.3" width="46.7" height="46.2" fill="#292929"/>
<g filter="url(#blur06)"><path d="M507 112.6L517.5 112.2L524.6 117.6L526.6 127.4L522.6 136.6L513 140.8L503.4 138.4L497.6 130L498.6 119.4Z" fill="url(#cryB)" stroke="#8c8c8c" stroke-width="1"/><path d="M509.5 118L522.6 133L506.5 134Z" fill="#262626" opacity="0.8"/><ellipse cx="503.6" cy="127.4" rx="3" ry="3.6" fill="#2c2c2c" opacity="0.7"/><path d="M508 116Q514 121 524 134M503.5 135.5Q513 133.5 523.5 134M501.5 124Q506 120.5 509.5 126.5Q508 133 503 130.5Z" stroke="#9a9a9a" stroke-width="0.9" fill="none" opacity="0.7"/><path d="M509 113.2Q516 112.6 521.6 116.6" stroke="#b8b8b8" stroke-width="1" fill="none" opacity="0.8"/><path d="M499.4 131Q501.5 136 506 138.4" stroke="#b0b0b0" stroke-width="1.2" fill="none" opacity="0.8"/></g>
<g clip-path="url(#clipCB)"><rect x="496" y="110" width="33" height="33" filter="url(#noiseC)" opacity="0.38"/><rect x="496" y="110" width="33" height="33" filter="url(#noiseCd)" opacity="0.6"/></g>
<g clip-path="url(#clipCT)"><rect x="496" y="26" width="33" height="28" filter="url(#noiseC)" opacity="0.3"/><rect x="496" y="26" width="33" height="28" filter="url(#noiseCd)" opacity="0.6"/></g>
<rect x="519" y="145.4" width="13" height="1.9" fill="#fff"/>
</g>
<g id="panelD">
<rect x="15.6" y="239.2" width="81.2" height="86.5" fill="url(#dBase)"/>
<g clip-path="url(#clipD)">
<rect x="15.6" y="239.2" width="81.2" height="86.5" filter="url(#noiseD2)" opacity="0.35"/>
<rect x="15.6" y="239.2" width="81.2" height="86.5" filter="url(#noiseD3)" opacity="0.5"/>
<g mask="url(#maskD)"><rect x="15.6" y="239.2" width="81.2" height="86.5" fill="url(#fringe)" opacity="0.9"/></g>
<rect x="15.6" y="239.2" width="81.2" height="86.5" filter="url(#noiseD)" opacity="0.4"/>
</g>
<path d="M61.1 249.3L70.2 271.6" stroke="#f0e020" stroke-width="0.9" fill="none"/>
<path d="M71.4 274.4l-4.1 -4l4.3 -1.8z" fill="#f0e020"/>
<text x="0" y="0" font-size="8.3" fill="#f0e020" text-anchor="middle" font-weight="normal" transform="translate(73.4 257.6) rotate(68)">[220]</text>
<g stroke="#fff" stroke-width="0.95" fill="none"><path d="M33.8 295.4L68.3 281.2"/><path d="M34.8 297.9L69.3 283.7"/><path d="M44.6 270.5L50.4 285.6"/><path d="M61.7 311.3L55 295.9"/></g>
<g fill="#fff"><path d="M51.4 288l-3.1 -3.2l3.4 -1.3z"/><path d="M53.9 293.5l3.1 3.2l-3.4 1.4z"/></g>
<text x="0" y="0" font-size="8.1" fill="#fff" text-anchor="middle" font-weight="normal" transform="translate(39.6 315.2) rotate(-24)">0.37 nm</text>
<text x="78.6" y="320.2" font-size="8.8" fill="#fff" text-anchor="middle" font-weight="normal" >3 nm</text>
<rect x="68.3" y="321.8" width="21.3" height="1.5" fill="#fff"/>
</g>
<g id="panelE">
<rect x="15.6" y="335.5" width="81.2" height="86.2" fill="#131313"/>
<g clip-path="url(#clipE)">
<ellipse cx="58.5" cy="380.6" rx="44" ry="36" fill="url(#eGlow)" transform="rotate(-22 58.5 380.6)"/>
<path d="M10 393.05L100 356.8L100 370.15L10 405.2Z" fill="#020202"/>
<circle cx="45" cy="344.1" r="2.7" fill="url(#eSpot)" opacity="1"/>
<circle cx="51.7" cy="362.5" r="2.6" fill="url(#eSpot)" opacity="1"/>
<circle cx="64.5" cy="399.4" r="2.8" fill="url(#eSpot)" opacity="1"/>
<circle cx="89.2" cy="339" r="1.5" fill="url(#eSpot)" opacity="0.6"/>
<circle cx="95.2" cy="357" r="1.6" fill="url(#eSpot)" opacity="0.7"/>
<circle cx="19.6" cy="407.5" r="1.2" fill="url(#eSpot)" opacity="0.4"/>
<circle cx="71.5" cy="366" r="1.0" fill="url(#eSpot)" opacity="0.35"/>
<circle cx="50" cy="404" r="1.0" fill="url(#eSpot)" opacity="0.35"/>
<circle cx="70.5" cy="416.6" r="1.8" fill="url(#eSpot)" opacity="0.9"/>
<circle cx="51.7" cy="362.5" r="4.4" fill="none" stroke="#ddd" stroke-width="0.6" stroke-dasharray="0.8 1.1"/>
</g>
<text x="50.9" y="355.1" font-size="7.6" fill="#fff" text-anchor="middle" font-weight="normal" >(220)</text>
<text x="79.1" y="411.4" font-size="7.7" fill="#fff" text-anchor="middle" font-weight="normal" >3 nm<tspan font-size="5" dy="-3.1">−1</tspan></text>
<rect x="68.3" y="416" width="21.6" height="1.6" fill="#fff"/>
</g>
<g id="panelF">
<rect x="121.3" y="239.2" width="56.9" height="56.7" fill="#1f1f1f"/>
<rect x="184.3" y="239.2" width="56.9" height="56.7" fill="#030303"/>
<polygon points="217.2,245.8 226.9,268.2 208.5,284.2 199.1,262.4" fill="#2e261e" opacity="0.5" filter="url(#blur06)"/>
<path d="M211.69 276.5h0.8v0.8h-0.8zM205.7 267.29h0.8v0.8h-0.8zM205.68 273h0.8v0.8h-0.8zM224.34 262.97h0.8v0.8h-0.8zM209.41 256.07h0.8v0.8h-0.8zM201.26 263.06h0.8v0.8h-0.8zM221.95 270.75h0.8v0.8h-0.8zM209.4 262.82h0.8v0.8h-0.8zM204.13 272.05h0.8v0.8h-0.8zM208.8 277.68h0.8v0.8h-0.8zM218.78 263.96h0.8v0.8h-0.8zM215.83 262.15h0.8v0.8h-0.8zM226.21 266.64h0.8v0.8h-0.8zM203.19 265.73h0.8v0.8h-0.8zM208.54 271.38h0.8v0.8h-0.8zM206.99 255.67h0.8v0.8h-0.8zM212.68 250.79h0.8v0.8h-0.8zM215.08 262.25h0.8v0.8h-0.8zM218.76 261.04h0.8v0.8h-0.8zM214.29 277h0.8v0.8h-0.8zM208.44 259.2h0.8v0.8h-0.8zM206.91 271.49h0.8v0.8h-0.8zM205.48 273.77h0.8v0.8h-0.8zM225 263.81h0.8v0.8h-0.8zM207.49 262.27h0.8v0.8h-0.8zM217.02 267.82h0.8v0.8h-0.8zM223.43 268.63h0.8v0.8h-0.8zM214.95 254.53h0.8v0.8h-0.8zM216.07 261.59h0.8v0.8h-0.8zM226.73 268.23h0.8v0.8h-0.8zM209.39 278.08h0.8v0.8h-0.8zM215.43 269.95h0.8v0.8h-0.8zM211.01 271.11h0.8v0.8h-0.8zM226.2 268.52h0.8v0.8h-0.8zM209.12 255.95h0.8v0.8h-0.8zM203.23 260.28h0.8v0.8h-0.8zM217.24 249.46h0.8v0.8h-0.8zM210.64 266.98h0.8v0.8h-0.8zM217.38 251.91h0.8v0.8h-0.8zM224.62 265.15h0.8v0.8h-0.8zM222.69 265.39h0.8v0.8h-0.8zM209.68 277.91h0.8v0.8h-0.8zM207.31 256.9h0.8v0.8h-0.8zM210.66 252.71h0.8v0.8h-0.8zM207.63 262.5h0.8v0.8h-0.8zM209.37 270.41h0.8v0.8h-0.8zM211.84 255.87h0.8v0.8h-0.8zM220.01 268.56h0.8v0.8h-0.8zM213.17 272.43h0.8v0.8h-0.8zM217.1 262.35h0.8v0.8h-0.8zM220.06 252.41h0.8v0.8h-0.8zM205 270.53h0.8v0.8h-0.8zM217.4 269.17h0.8v0.8h-0.8zM216.79 262.64h0.8v0.8h-0.8zM216.53 262.95h0.8v0.8h-0.8zM212.33 267.57h0.8v0.8h-0.8zM215.19 271.87h0.8v0.8h-0.8zM209.92 263.73h0.8v0.8h-0.8zM215.74 259.19h0.8v0.8h-0.8zM215.33 249.41h0.8v0.8h-0.8zM201.12 264.86h0.8v0.8h-0.8zM210.26 252.78h0.8v0.8h-0.8zM218 259.63h0.8v0.8h-0.8zM210.19 276.81h0.8v0.8h-0.8zM216.87 266.75h0.8v0.8h-0.8zM201.48 265.98h0.8v0.8h-0.8zM217.18 272.66h0.8v0.8h-0.8zM216.93 273.38h0.8v0.8h-0.8zM209.75 273.24h0.8v0.8h-0.8zM214.45 261.34h0.8v0.8h-0.8zM200.65 264.03h0.8v0.8h-0.8zM221.08 267.62h0.8v0.8h-0.8zM222.32 263.25h0.8v0.8h-0.8zM213.5 259.71h0.8v0.8h-0.8zM212.08 250.61h0.8v0.8h-0.8zM200.92 262.28h0.8v0.8h-0.8zM217.46 252.48h0.8v0.8h-0.8zM216.39 255.03h0.8v0.8h-0.8zM205.79 270.77h0.8v0.8h-0.8zM210.18 270.89h0.8v0.8h-0.8zM221.29 266.22h0.8v0.8h-0.8zM210.11 271.77h0.8v0.8h-0.8zM212.73 258.09h0.8v0.8h-0.8zM218.24 255.41h0.8v0.8h-0.8zM200.85 264.33h0.8v0.8h-0.8zM218.74 267.86h0.8v0.8h-0.8zM200 264.13h0.8v0.8h-0.8zM215.56 261.09h0.8v0.8h-0.8zM215.85 272.84h0.8v0.8h-0.8zM210.12 255.84h0.8v0.8h-0.8z" fill="#6a5a46"/>
<path d="M211.61 278.9h0.8v0.8h-0.8zM223.13 268.13h0.8v0.8h-0.8zM218.42 261.44h0.8v0.8h-0.8zM202.16 268h0.8v0.8h-0.8zM214.38 257.07h0.8v0.8h-0.8zM209.35 279.85h0.8v0.8h-0.8zM219.29 271.33h0.8v0.8h-0.8zM206.3 273.74h0.8v0.8h-0.8zM211.86 263.77h0.8v0.8h-0.8zM211.37 279.69h0.8v0.8h-0.8zM207.48 276.77h0.8v0.8h-0.8zM214.34 248.58h0.8v0.8h-0.8zM220.62 270.74h0.8v0.8h-0.8zM217.39 267.73h0.8v0.8h-0.8zM215.2 260.66h0.8v0.8h-0.8zM217.53 250.34h0.8v0.8h-0.8zM212.01 264.26h0.8v0.8h-0.8zM219.8 262.44h0.8v0.8h-0.8zM206.77 262.55h0.8v0.8h-0.8zM211.4 252.3h0.8v0.8h-0.8zM210.75 280.16h0.8v0.8h-0.8zM203.66 263.91h0.8v0.8h-0.8zM206.12 276.58h0.8v0.8h-0.8zM214.52 262.57h0.8v0.8h-0.8zM222.03 272.31h0.8v0.8h-0.8zM224.22 264.29h0.8v0.8h-0.8zM223.48 270.4h0.8v0.8h-0.8zM208.5 258.68h0.8v0.8h-0.8zM218.24 254.61h0.8v0.8h-0.8zM217.1 272.43h0.8v0.8h-0.8zM218.24 263.26h0.8v0.8h-0.8zM209.45 278.59h0.8v0.8h-0.8zM214.78 261.58h0.8v0.8h-0.8zM215.9 273.47h0.8v0.8h-0.8zM223.82 263.15h0.8v0.8h-0.8zM203.75 266.43h0.8v0.8h-0.8zM218.89 269.73h0.8v0.8h-0.8zM214.19 256.66h0.8v0.8h-0.8zM220.69 258.21h0.8v0.8h-0.8zM207.23 275.63h0.8v0.8h-0.8zM210.46 273.47h0.8v0.8h-0.8zM207.89 269.77h0.8v0.8h-0.8zM214.46 248.62h0.8v0.8h-0.8zM222.3 265.55h0.8v0.8h-0.8zM214.99 271h0.8v0.8h-0.8zM222.92 261.05h0.8v0.8h-0.8zM213.03 265.93h0.8v0.8h-0.8zM206.32 274.55h0.8v0.8h-0.8zM214.29 268.44h0.8v0.8h-0.8zM220.64 270.45h0.8v0.8h-0.8zM211.79 261.73h0.8v0.8h-0.8zM212.65 273.82h0.8v0.8h-0.8zM210.6 261.23h0.8v0.8h-0.8zM203.97 261.78h0.8v0.8h-0.8zM216.79 255.83h0.8v0.8h-0.8zM208.33 256.24h0.8v0.8h-0.8zM210.03 266.71h0.8v0.8h-0.8zM216.94 251.78h0.8v0.8h-0.8zM216.17 262.91h0.8v0.8h-0.8zM213 253.66h0.8v0.8h-0.8zM216.41 266.06h0.8v0.8h-0.8zM209.85 275.15h0.8v0.8h-0.8zM209.07 271.9h0.8v0.8h-0.8zM211.93 275.33h0.8v0.8h-0.8zM209.88 256.31h0.8v0.8h-0.8zM218.66 269.99h0.8v0.8h-0.8zM222.36 264.95h0.8v0.8h-0.8zM217.59 273.12h0.8v0.8h-0.8zM205.39 269.73h0.8v0.8h-0.8zM208.82 275.29h0.8v0.8h-0.8zM212.68 261.49h0.8v0.8h-0.8zM216.45 247.38h0.8v0.8h-0.8zM209.57 265.04h0.8v0.8h-0.8zM206.92 261h0.8v0.8h-0.8zM208.05 274.13h0.8v0.8h-0.8zM208.55 267.87h0.8v0.8h-0.8zM215.55 264.86h0.8v0.8h-0.8zM208.75 283.11h0.8v0.8h-0.8zM216.38 270.42h0.8v0.8h-0.8zM206.4 263.89h0.8v0.8h-0.8zM221.31 267.26h0.8v0.8h-0.8zM214.9 270.29h0.8v0.8h-0.8zM210.88 255.22h0.8v0.8h-0.8zM205.63 276.69h0.8v0.8h-0.8zM220.88 263.72h0.8v0.8h-0.8zM219.72 265.04h0.8v0.8h-0.8zM211.89 261.18h0.8v0.8h-0.8zM219.45 252.53h0.8v0.8h-0.8zM208.49 280.52h0.8v0.8h-0.8zM209.12 265.05h0.8v0.8h-0.8zM219.76 261.33h0.8v0.8h-0.8zM217.33 276.48h0.8v0.8h-0.8zM225.89 268.44h0.8v0.8h-0.8zM218.97 274.76h0.8v0.8h-0.8zM211.67 261.08h0.8v0.8h-0.8zM212.31 269.96h0.8v0.8h-0.8zM202.39 267.04h0.8v0.8h-0.8zM203.98 273h0.8v0.8h-0.8zM206.64 278.68h0.8v0.8h-0.8zM216.82 256.89h0.8v0.8h-0.8zM210.28 261.37h0.8v0.8h-0.8zM222.96 271.41h0.8v0.8h-0.8zM217.09 266.4h0.8v0.8h-0.8zM217.88 263.63h0.8v0.8h-0.8zM218.56 256.36h0.8v0.8h-0.8zM220.31 262.84h0.8v0.8h-0.8zM211.29 280.39h0.8v0.8h-0.8zM206.76 277.81h0.8v0.8h-0.8zM223.75 265.04h0.8v0.8h-0.8zM221.15 273.16h0.8v0.8h-0.8zM205.15 272.72h0.8v0.8h-0.8zM208.14 279.88h0.8v0.8h-0.8zM220.24 257.84h0.8v0.8h-0.8z" fill="#524434"/>
<path d="M212.88 274.91h0.8v0.8h-0.8zM215.09 253.06h0.8v0.8h-0.8zM221.84 263.23h0.8v0.8h-0.8zM212.49 266.86h0.8v0.8h-0.8zM216.62 267h0.8v0.8h-0.8zM220.12 266.89h0.8v0.8h-0.8zM217.84 273.35h0.8v0.8h-0.8zM218.54 253.88h0.8v0.8h-0.8zM222.96 267.49h0.8v0.8h-0.8zM203.9 272.21h0.8v0.8h-0.8zM215.85 276.65h0.8v0.8h-0.8zM225.32 268.92h0.8v0.8h-0.8zM210.7 269.11h0.8v0.8h-0.8zM218.35 248.51h0.8v0.8h-0.8zM210.71 278.44h0.8v0.8h-0.8zM206.79 257.63h0.8v0.8h-0.8zM211.13 259.09h0.8v0.8h-0.8zM208.59 280.84h0.8v0.8h-0.8zM215.19 260.92h0.8v0.8h-0.8zM218.48 269.34h0.8v0.8h-0.8zM223.46 264.02h0.8v0.8h-0.8zM208.65 255.46h0.8v0.8h-0.8zM217.95 271.97h0.8v0.8h-0.8zM215.3 263.01h0.8v0.8h-0.8zM205.92 258.39h0.8v0.8h-0.8zM218.94 270.47h0.8v0.8h-0.8zM203.82 266.43h0.8v0.8h-0.8zM212.24 259.14h0.8v0.8h-0.8zM201.03 262.93h0.8v0.8h-0.8zM218.55 266.83h0.8v0.8h-0.8zM210.69 256.27h0.8v0.8h-0.8zM218.36 265.51h0.8v0.8h-0.8zM214.45 275.51h0.8v0.8h-0.8zM214.29 259.73h0.8v0.8h-0.8zM203.91 261.26h0.8v0.8h-0.8zM205.94 260.7h0.8v0.8h-0.8zM206.6 271.51h0.8v0.8h-0.8zM212.36 270.94h0.8v0.8h-0.8zM212.67 250.12h0.8v0.8h-0.8zM223.6 269.38h0.8v0.8h-0.8zM210.72 281.58h0.8v0.8h-0.8zM214.93 272.52h0.8v0.8h-0.8zM218.19 266.63h0.8v0.8h-0.8zM217.7 254.75h0.8v0.8h-0.8zM221.08 272.13h0.8v0.8h-0.8zM200.59 264.23h0.8v0.8h-0.8zM214.18 249.04h0.8v0.8h-0.8zM215.71 253.54h0.8v0.8h-0.8zM210.98 265.81h0.8v0.8h-0.8zM221.63 272.26h0.8v0.8h-0.8zM213.01 269.1h0.8v0.8h-0.8zM202.02 267.52h0.8v0.8h-0.8zM226.22 268.3h0.8v0.8h-0.8zM222.3 268.4h0.8v0.8h-0.8zM208.85 254.18h0.8v0.8h-0.8zM205.32 271.7h0.8v0.8h-0.8zM208.27 280.05h0.8v0.8h-0.8zM212.77 257.92h0.8v0.8h-0.8zM210.31 271.67h0.8v0.8h-0.8zM216.94 259.35h0.8v0.8h-0.8zM211.87 271.56h0.8v0.8h-0.8zM213.29 265.45h0.8v0.8h-0.8zM207.91 260.83h0.8v0.8h-0.8zM205.92 257.69h0.8v0.8h-0.8zM211.76 263.78h0.8v0.8h-0.8zM211.09 252.58h0.8v0.8h-0.8zM219.58 270.42h0.8v0.8h-0.8zM203.97 263.23h0.8v0.8h-0.8zM216.41 271.96h0.8v0.8h-0.8zM207.18 269.77h0.8v0.8h-0.8zM204.81 259.19h0.8v0.8h-0.8zM215.62 256.3h0.8v0.8h-0.8zM221.05 265.93h0.8v0.8h-0.8zM202.85 268.63h0.8v0.8h-0.8zM216.46 258.07h0.8v0.8h-0.8zM221.75 263.97h0.8v0.8h-0.8zM215.14 255.74h0.8v0.8h-0.8zM216.2 247.59h0.8v0.8h-0.8zM207.09 276.03h0.8v0.8h-0.8zM219.47 271.33h0.8v0.8h-0.8zM213.4 251.37h0.8v0.8h-0.8zM223.38 264.57h0.8v0.8h-0.8zM203.42 267.13h0.8v0.8h-0.8zM215.75 267.16h0.8v0.8h-0.8zM223.64 266.92h0.8v0.8h-0.8zM213.84 270.49h0.8v0.8h-0.8zM214.07 277.66h0.8v0.8h-0.8zM210.38 273.37h0.8v0.8h-0.8zM206.66 266.26h0.8v0.8h-0.8zM218.3 252.7h0.8v0.8h-0.8zM219.75 256.87h0.8v0.8h-0.8zM205.81 259.61h0.8v0.8h-0.8z" fill="#84725c"/>
<path d="M212.37 262.09h0.8v0.8h-0.8zM218.64 260h0.8v0.8h-0.8zM210.45 257.78h0.8v0.8h-0.8zM211.19 266.07h0.8v0.8h-0.8zM212.8 254.15h0.8v0.8h-0.8zM214.42 271.72h0.8v0.8h-0.8zM213.76 272.95h0.8v0.8h-0.8zM213.05 257.36h0.8v0.8h-0.8zM207.61 270.45h0.8v0.8h-0.8zM217.19 262.05h0.8v0.8h-0.8zM220.43 273.52h0.8v0.8h-0.8zM208.8 259.42h0.8v0.8h-0.8zM224.95 264.63h0.8v0.8h-0.8zM217.08 275.97h0.8v0.8h-0.8zM207.64 261.15h0.8v0.8h-0.8zM207.05 274.25h0.8v0.8h-0.8zM203.08 260.13h0.8v0.8h-0.8zM216.53 266h0.8v0.8h-0.8zM217.95 253.59h0.8v0.8h-0.8zM207.8 278.38h0.8v0.8h-0.8zM210.72 278.17h0.8v0.8h-0.8zM211.99 252.47h0.8v0.8h-0.8zM210.22 270.92h0.8v0.8h-0.8zM211.24 255.45h0.8v0.8h-0.8zM215.02 254.63h0.8v0.8h-0.8zM213.76 276.43h0.8v0.8h-0.8zM222.46 263.03h0.8v0.8h-0.8zM206.88 258.59h0.8v0.8h-0.8zM207.65 279.06h0.8v0.8h-0.8zM209.09 255.42h0.8v0.8h-0.8zM209.57 269.4h0.8v0.8h-0.8zM208.31 266.39h0.8v0.8h-0.8zM208.22 277.13h0.8v0.8h-0.8zM208.53 275.93h0.8v0.8h-0.8zM206.37 263.33h0.8v0.8h-0.8zM208.98 263.85h0.8v0.8h-0.8zM219.2 251.52h0.8v0.8h-0.8zM208.17 263.15h0.8v0.8h-0.8zM211.45 256.25h0.8v0.8h-0.8zM214.77 272.3h0.8v0.8h-0.8zM206.01 263.42h0.8v0.8h-0.8zM207.4 256.74h0.8v0.8h-0.8zM208.84 266.06h0.8v0.8h-0.8zM212.75 258.74h0.8v0.8h-0.8zM223.37 267.19h0.8v0.8h-0.8zM205.41 263.57h0.8v0.8h-0.8zM220.82 270.86h0.8v0.8h-0.8zM215.35 261.33h0.8v0.8h-0.8zM219.03 250.27h0.8v0.8h-0.8zM214.89 248.15h0.8v0.8h-0.8zM223.69 262.96h0.8v0.8h-0.8zM212.66 261.63h0.8v0.8h-0.8zM216.11 272.2h0.8v0.8h-0.8zM215.45 275.23h0.8v0.8h-0.8zM208.23 262.79h0.8v0.8h-0.8zM203.57 258.5h0.8v0.8h-0.8zM224.46 268.73h0.8v0.8h-0.8zM212.22 250.39h0.8v0.8h-0.8zM206.32 266.07h0.8v0.8h-0.8zM212.52 277.24h0.8v0.8h-0.8zM215.63 248.32h0.8v0.8h-0.8zM215.31 251.68h0.8v0.8h-0.8zM210.24 264.3h0.8v0.8h-0.8zM215.14 265.88h0.8v0.8h-0.8zM212.25 280.09h0.8v0.8h-0.8zM220.24 266.62h0.8v0.8h-0.8zM210.66 277.01h0.8v0.8h-0.8zM213.64 261.98h0.8v0.8h-0.8zM203.82 258.93h0.8v0.8h-0.8zM214.94 261.09h0.8v0.8h-0.8zM207.54 261.9h0.8v0.8h-0.8zM202.78 270.05h0.8v0.8h-0.8zM216.17 271.62h0.8v0.8h-0.8zM202.99 267.09h0.8v0.8h-0.8zM212.81 266.63h0.8v0.8h-0.8zM210.02 282.03h0.8v0.8h-0.8zM222.59 266.86h0.8v0.8h-0.8zM200.69 263.5h0.8v0.8h-0.8zM213.69 274.41h0.8v0.8h-0.8zM215.47 267.96h0.8v0.8h-0.8zM203.54 262.09h0.8v0.8h-0.8zM209.75 278.61h0.8v0.8h-0.8zM216.19 251.07h0.8v0.8h-0.8zM204.86 257.88h0.8v0.8h-0.8zM220.59 260.51h0.8v0.8h-0.8zM207.05 262.46h0.8v0.8h-0.8zM202.03 265.6h0.8v0.8h-0.8zM209.02 270.9h0.8v0.8h-0.8zM218.38 273.97h0.8v0.8h-0.8zM218.1 254.77h0.8v0.8h-0.8zM222.55 266.65h0.8v0.8h-0.8zM215.63 251.62h0.8v0.8h-0.8zM216.7 263.21h0.8v0.8h-0.8zM222.5 263.49h0.8v0.8h-0.8zM220.33 255.2h0.8v0.8h-0.8zM213.62 275.07h0.8v0.8h-0.8zM207.26 281.21h0.8v0.8h-0.8zM205.59 258.05h0.8v0.8h-0.8zM217.97 253.71h0.8v0.8h-0.8zM206.35 261.96h0.8v0.8h-0.8zM221.24 258.28h0.8v0.8h-0.8zM213.03 272.12h0.8v0.8h-0.8zM222.37 260.87h0.8v0.8h-0.8zM219.41 269.1h0.8v0.8h-0.8zM213.55 274.45h0.8v0.8h-0.8z" fill="#3c322a"/>
<path d="M192.06 246.8h0.8v0.8h-0.8zM186.05 281.11h0.8v0.8h-0.8zM189.98 290.36h0.8v0.8h-0.8zM239.33 242.77h0.8v0.8h-0.8zM209.55 244.98h0.8v0.8h-0.8zM198.4 274.45h0.8v0.8h-0.8zM234.96 253.66h0.8v0.8h-0.8zM197.67 247.39h0.8v0.8h-0.8zM228.99 280.18h0.8v0.8h-0.8zM206.63 257.33h0.8v0.8h-0.8zM212.19 262.66h0.8v0.8h-0.8zM198.22 293.38h0.8v0.8h-0.8zM194.49 277h0.8v0.8h-0.8zM216.82 250.27h0.8v0.8h-0.8zM221.6 264.26h0.8v0.8h-0.8zM206.98 270.98h0.8v0.8h-0.8zM228.68 284.04h0.8v0.8h-0.8zM207.1 291.57h0.8v0.8h-0.8zM212.44 252.23h0.8v0.8h-0.8zM223.94 262.82h0.8v0.8h-0.8zM229.61 274.25h0.8v0.8h-0.8zM236.76 248.29h0.8v0.8h-0.8zM210.58 247.63h0.8v0.8h-0.8zM195.17 293.55h0.8v0.8h-0.8zM191.22 247.02h0.8v0.8h-0.8zM236.08 242.73h0.8v0.8h-0.8zM192.69 260.54h0.8v0.8h-0.8zM200.62 263.09h0.8v0.8h-0.8zM191.56 266.67h0.8v0.8h-0.8zM239.32 262.77h0.8v0.8h-0.8zM193.05 257.85h0.8v0.8h-0.8zM228.2 283.58h0.8v0.8h-0.8zM228.41 254.4h0.8v0.8h-0.8zM228.78 292.34h0.8v0.8h-0.8zM185.71 279.15h0.8v0.8h-0.8zM212.35 263.41h0.8v0.8h-0.8zM196.6 288.68h0.8v0.8h-0.8zM211.24 255.55h0.8v0.8h-0.8zM216.31 290.44h0.8v0.8h-0.8zM211.44 251.26h0.8v0.8h-0.8zM218.53 275.8h0.8v0.8h-0.8zM192.08 245.75h0.8v0.8h-0.8zM192.68 286.67h0.8v0.8h-0.8zM210.29 284.12h0.8v0.8h-0.8zM208.14 291.44h0.8v0.8h-0.8zM192.91 264.31h0.8v0.8h-0.8zM234.31 266h0.8v0.8h-0.8zM201.25 267.58h0.8v0.8h-0.8zM195.61 274.7h0.8v0.8h-0.8zM193.29 277.58h0.8v0.8h-0.8zM234.91 242.6h0.8v0.8h-0.8zM209.83 282.32h0.8v0.8h-0.8zM236.77 291.58h0.8v0.8h-0.8zM236.82 283.79h0.8v0.8h-0.8zM201.98 274.22h0.8v0.8h-0.8zM221.09 241.54h0.8v0.8h-0.8zM206.59 253.74h0.8v0.8h-0.8zM213.93 242.09h0.8v0.8h-0.8zM199.19 267.23h0.8v0.8h-0.8zM220.92 283.83h0.8v0.8h-0.8zM202.38 293.42h0.8v0.8h-0.8zM187.65 243.32h0.8v0.8h-0.8zM228.64 255.37h0.8v0.8h-0.8zM184.82 241.67h0.8v0.8h-0.8zM190.22 257.07h0.8v0.8h-0.8zM209.91 265.91h0.8v0.8h-0.8zM232.37 271.52h0.8v0.8h-0.8zM229 283.75h0.8v0.8h-0.8zM236.92 253.93h0.8v0.8h-0.8zM208.45 272.1h0.8v0.8h-0.8zM235.96 286.59h0.8v0.8h-0.8zM221.24 270.2h0.8v0.8h-0.8zM223.28 266.33h0.8v0.8h-0.8zM190.63 255.23h0.8v0.8h-0.8zM215.46 257.47h0.8v0.8h-0.8zM224.65 284.07h0.8v0.8h-0.8zM234.44 274.6h0.8v0.8h-0.8zM198.63 266.11h0.8v0.8h-0.8zM233.68 279.09h0.8v0.8h-0.8zM211.88 270.94h0.8v0.8h-0.8zM199.26 268.67h0.8v0.8h-0.8zM239.09 291.81h0.8v0.8h-0.8zM207.23 259.18h0.8v0.8h-0.8zM214.16 282.54h0.8v0.8h-0.8zM187.06 272.73h0.8v0.8h-0.8zM239.15 248.33h0.8v0.8h-0.8zM233.55 273.49h0.8v0.8h-0.8zM236.71 294.23h0.8v0.8h-0.8zM210.67 292.08h0.8v0.8h-0.8zM235.74 278.87h0.8v0.8h-0.8zM185.09 284.47h0.8v0.8h-0.8zM223.71 287.38h0.8v0.8h-0.8zM195.68 264.16h0.8v0.8h-0.8zM218.71 293.81h0.8v0.8h-0.8zM186.58 261.88h0.8v0.8h-0.8zM222.62 256.15h0.8v0.8h-0.8zM209.33 242.87h0.8v0.8h-0.8zM196.64 261.24h0.8v0.8h-0.8zM200.19 272.18h0.8v0.8h-0.8zM186.54 263.79h0.8v0.8h-0.8zM191.61 266.48h0.8v0.8h-0.8zM230.12 240.01h0.8v0.8h-0.8zM224.2 276.31h0.8v0.8h-0.8zM197.48 284.75h0.8v0.8h-0.8zM217.63 263.53h0.8v0.8h-0.8zM189.34 287.39h0.8v0.8h-0.8zM208.86 261.59h0.8v0.8h-0.8zM234.02 280.95h0.8v0.8h-0.8zM218.17 250.11h0.8v0.8h-0.8zM218.41 254.03h0.8v0.8h-0.8z" fill="#6a5a46" opacity="0.4"/>
<text x="187.5" y="249.3" font-size="8" fill="#fff" text-anchor="start" font-weight="normal" >Cs</text>
<rect x="121.3" y="302.4" width="56.9" height="56.7" fill="#030303"/>
<polygon points="137.3,324.2 154.3,314.9 160.8,319.8 163.7,332.9 146,347.4" fill="#3c1c05" opacity="0.45" filter="url(#blur1)"/>
<path d="M155.17 332.85h0.8v0.8h-0.8zM159.08 333.38h0.8v0.8h-0.8zM144.4 338.45h0.8v0.8h-0.8zM151.4 339.29h0.8v0.8h-0.8zM155.97 335.2h0.8v0.8h-0.8zM144.24 327.21h0.8v0.8h-0.8zM148.47 320.82h0.8v0.8h-0.8zM163.09 328.25h0.8v0.8h-0.8zM144.72 344.86h0.8v0.8h-0.8zM144.26 336.66h0.8v0.8h-0.8zM148.51 332.81h0.8v0.8h-0.8zM150.28 331.83h0.8v0.8h-0.8zM155.87 318.01h0.8v0.8h-0.8zM157.53 327.84h0.8v0.8h-0.8zM158.44 320.14h0.8v0.8h-0.8zM152.88 320.3h0.8v0.8h-0.8zM158.11 329.01h0.8v0.8h-0.8zM162.08 331.35h0.8v0.8h-0.8zM157.63 317.17h0.8v0.8h-0.8zM147.73 321.6h0.8v0.8h-0.8zM150.81 323.19h0.8v0.8h-0.8zM159.07 322.62h0.8v0.8h-0.8zM155.1 316.89h0.8v0.8h-0.8zM148.97 341.52h0.8v0.8h-0.8zM142.39 330.57h0.8v0.8h-0.8zM140.09 327.74h0.8v0.8h-0.8zM155.07 317.64h0.8v0.8h-0.8zM160.25 329.3h0.8v0.8h-0.8zM137.01 332.46h0.8v0.8h-0.8zM144.13 342.33h0.8v0.8h-0.8zM152.86 339.39h0.8v0.8h-0.8zM161.62 332.8h0.8v0.8h-0.8zM154.23 338.31h0.8v0.8h-0.8zM150.67 341.17h0.8v0.8h-0.8zM151.61 343.93h0.8v0.8h-0.8zM151.92 338.42h0.8v0.8h-0.8zM152.69 316.58h0.8v0.8h-0.8zM155 325.86h0.8v0.8h-0.8zM159.58 334.8h0.8v0.8h-0.8zM151.75 335.17h0.8v0.8h-0.8zM146.45 342.82h0.8v0.8h-0.8zM149.49 333.17h0.8v0.8h-0.8zM161.49 330.67h0.8v0.8h-0.8zM150.01 332.16h0.8v0.8h-0.8zM150.23 328.43h0.8v0.8h-0.8zM161.19 321.57h0.8v0.8h-0.8zM163.86 333.17h0.8v0.8h-0.8zM151.58 325.25h0.8v0.8h-0.8zM144.96 323.89h0.8v0.8h-0.8zM163.39 327.78h0.8v0.8h-0.8zM147.5 322.67h0.8v0.8h-0.8zM140.18 325.33h0.8v0.8h-0.8zM139.63 327.06h0.8v0.8h-0.8zM156.45 335.73h0.8v0.8h-0.8zM154.55 334.89h0.8v0.8h-0.8zM150.31 319.79h0.8v0.8h-0.8zM151.83 333.44h0.8v0.8h-0.8zM150.32 334.98h0.8v0.8h-0.8zM152.5 321.22h0.8v0.8h-0.8zM145.23 318.97h0.8v0.8h-0.8zM143.25 323.22h0.8v0.8h-0.8zM146.67 333.29h0.8v0.8h-0.8zM138.51 326.36h0.8v0.8h-0.8zM160.55 327.85h0.8v0.8h-0.8zM147.46 321.7h0.8v0.8h-0.8zM152.13 325.87h0.8v0.8h-0.8zM139.22 326.91h0.8v0.8h-0.8zM155.8 331.19h0.8v0.8h-0.8zM154.19 317.86h0.8v0.8h-0.8zM161.62 331.4h0.8v0.8h-0.8zM142.91 327.88h0.8v0.8h-0.8zM166.01 333.83h0.8v0.8h-0.8zM139.16 322.56h0.8v0.8h-0.8zM148.35 329.97h0.8v0.8h-0.8zM151.81 319.68h0.8v0.8h-0.8zM160.89 321.91h0.8v0.8h-0.8z" fill="#5e300a"/>
<path d="M152.01 336.19h0.8v0.8h-0.8zM138.19 326.78h0.8v0.8h-0.8zM159.84 320.99h0.8v0.8h-0.8zM151.79 342.03h0.8v0.8h-0.8zM143.25 342.14h0.8v0.8h-0.8zM146.67 320.85h0.8v0.8h-0.8zM157.75 334.87h0.8v0.8h-0.8zM145.44 336.32h0.8v0.8h-0.8zM155.61 329.1h0.8v0.8h-0.8zM152.4 318.64h0.8v0.8h-0.8zM155.54 327.3h0.8v0.8h-0.8zM154.47 330.69h0.8v0.8h-0.8zM150.63 331.08h0.8v0.8h-0.8zM149.08 342.12h0.8v0.8h-0.8zM158.57 336.01h0.8v0.8h-0.8zM152.88 345.01h0.8v0.8h-0.8zM145.53 342.34h0.8v0.8h-0.8zM145.77 348.16h0.8v0.8h-0.8zM152.77 332.73h0.8v0.8h-0.8zM161.62 328.35h0.8v0.8h-0.8zM147.43 319.5h0.8v0.8h-0.8zM160.05 333.95h0.8v0.8h-0.8zM138.71 323.71h0.8v0.8h-0.8zM144.32 336.71h0.8v0.8h-0.8zM148.05 322.37h0.8v0.8h-0.8zM147.08 340.38h0.8v0.8h-0.8zM150.8 322.82h0.8v0.8h-0.8zM160.93 326h0.8v0.8h-0.8zM150.95 329.4h0.8v0.8h-0.8zM146.7 333.55h0.8v0.8h-0.8zM148.69 345.77h0.8v0.8h-0.8zM158.42 318.86h0.8v0.8h-0.8zM161.02 326.77h0.8v0.8h-0.8zM154.26 317.49h0.8v0.8h-0.8zM144.56 345.17h0.8v0.8h-0.8zM159.74 322.77h0.8v0.8h-0.8zM144.34 342.41h0.8v0.8h-0.8zM153.6 325.12h0.8v0.8h-0.8zM145.26 329.99h0.8v0.8h-0.8zM146.05 327.63h0.8v0.8h-0.8zM157.65 318.81h0.8v0.8h-0.8zM149.81 323.08h0.8v0.8h-0.8zM147.93 347.3h0.8v0.8h-0.8zM158.5 326.28h0.8v0.8h-0.8zM147.92 341.84h0.8v0.8h-0.8zM151.2 328.55h0.8v0.8h-0.8zM143.5 338.49h0.8v0.8h-0.8zM148.41 324.08h0.8v0.8h-0.8zM138.66 325.14h0.8v0.8h-0.8zM150.71 334.63h0.8v0.8h-0.8zM151.91 326.9h0.8v0.8h-0.8zM143.17 323.94h0.8v0.8h-0.8zM147.31 341h0.8v0.8h-0.8zM141.26 330.99h0.8v0.8h-0.8zM153.79 331.66h0.8v0.8h-0.8zM159.81 320.28h0.8v0.8h-0.8zM147.8 330.86h0.8v0.8h-0.8zM148.94 343.16h0.8v0.8h-0.8zM144.43 333.02h0.8v0.8h-0.8zM148.97 339.67h0.8v0.8h-0.8zM151.09 337.54h0.8v0.8h-0.8z" fill="#462206"/>
<path d="M151.81 325.15h0.8v0.8h-0.8zM157.48 333.21h0.8v0.8h-0.8zM144.45 335.83h0.8v0.8h-0.8zM147.81 329.52h0.8v0.8h-0.8zM159.96 327.66h0.8v0.8h-0.8zM155.75 323.47h0.8v0.8h-0.8zM142.76 333.41h0.8v0.8h-0.8zM158.13 336.37h0.8v0.8h-0.8zM156.3 328.84h0.8v0.8h-0.8zM154.99 328.84h0.8v0.8h-0.8zM148.04 345.11h0.8v0.8h-0.8zM155.97 323.39h0.8v0.8h-0.8zM149.54 335.93h0.8v0.8h-0.8zM149.3 327.06h0.8v0.8h-0.8zM154.27 319.44h0.8v0.8h-0.8zM142.87 339.39h0.8v0.8h-0.8zM156.92 327.2h0.8v0.8h-0.8zM162.09 323.66h0.8v0.8h-0.8zM143.13 336.19h0.8v0.8h-0.8zM160.22 329.04h0.8v0.8h-0.8zM157.79 325.5h0.8v0.8h-0.8zM138.97 323h0.8v0.8h-0.8zM155.13 330.73h0.8v0.8h-0.8zM151.93 332.1h0.8v0.8h-0.8zM150.68 320.46h0.8v0.8h-0.8zM146.17 336.88h0.8v0.8h-0.8zM158.52 321.4h0.8v0.8h-0.8zM148.87 329.09h0.8v0.8h-0.8zM161.96 323.4h0.8v0.8h-0.8zM156.96 333.19h0.8v0.8h-0.8zM154.18 320.7h0.8v0.8h-0.8zM142.3 329.91h0.8v0.8h-0.8zM146.06 331.99h0.8v0.8h-0.8zM160.63 335.25h0.8v0.8h-0.8zM148.99 323.65h0.8v0.8h-0.8zM154.42 331.15h0.8v0.8h-0.8zM153.46 330.4h0.8v0.8h-0.8zM147.59 335.54h0.8v0.8h-0.8zM152.02 319.23h0.8v0.8h-0.8zM145.59 338.59h0.8v0.8h-0.8zM154.58 335.38h0.8v0.8h-0.8zM159.34 337.1h0.8v0.8h-0.8zM151.46 320.4h0.8v0.8h-0.8zM158.08 327.68h0.8v0.8h-0.8zM160.34 322.24h0.8v0.8h-0.8zM156.76 317.57h0.8v0.8h-0.8zM156.72 333.72h0.8v0.8h-0.8zM160.61 334.3h0.8v0.8h-0.8zM155.58 332.05h0.8v0.8h-0.8zM159.34 318.41h0.8v0.8h-0.8zM146.42 335.18h0.8v0.8h-0.8zM158.95 329.77h0.8v0.8h-0.8zM145.48 335.98h0.8v0.8h-0.8zM143.28 334.56h0.8v0.8h-0.8zM156.83 319.71h0.8v0.8h-0.8zM145.69 323h0.8v0.8h-0.8zM151.74 345.44h0.8v0.8h-0.8zM145.3 344.99h0.8v0.8h-0.8zM159.25 335.22h0.8v0.8h-0.8zM149.26 322.96h0.8v0.8h-0.8zM165.37 334.81h0.8v0.8h-0.8zM145.36 329.07h0.8v0.8h-0.8zM156.08 324.17h0.8v0.8h-0.8zM144.56 324.64h0.8v0.8h-0.8zM147.96 322.27h0.8v0.8h-0.8zM140.75 324.19h0.8v0.8h-0.8zM159.37 335.1h0.8v0.8h-0.8zM160.55 326.78h0.8v0.8h-0.8zM152.16 333.4h0.8v0.8h-0.8zM149.18 322.9h0.8v0.8h-0.8zM157.83 327.1h0.8v0.8h-0.8zM160.45 326.9h0.8v0.8h-0.8zM155.62 320.53h0.8v0.8h-0.8z" fill="#743e10"/>
<path d="M155.05 322.04h0.8v0.8h-0.8zM152.2 333.43h0.8v0.8h-0.8zM142.49 336.28h0.8v0.8h-0.8zM159.53 333.79h0.8v0.8h-0.8zM153.28 328.93h0.8v0.8h-0.8zM153.91 324.54h0.8v0.8h-0.8zM148.69 327.67h0.8v0.8h-0.8zM158.66 326.92h0.8v0.8h-0.8zM138.28 326.93h0.8v0.8h-0.8zM149.72 328.54h0.8v0.8h-0.8zM148.68 331.1h0.8v0.8h-0.8zM156.68 327.88h0.8v0.8h-0.8zM154.28 328.9h0.8v0.8h-0.8zM144.33 323.41h0.8v0.8h-0.8zM153.19 331.6h0.8v0.8h-0.8zM151.35 321.28h0.8v0.8h-0.8zM150.05 338.2h0.8v0.8h-0.8zM147.14 335.76h0.8v0.8h-0.8zM151.63 335.6h0.8v0.8h-0.8zM160.05 321.71h0.8v0.8h-0.8zM144.88 344.35h0.8v0.8h-0.8zM161.69 331.83h0.8v0.8h-0.8zM157.48 330.84h0.8v0.8h-0.8zM160.31 316.2h0.8v0.8h-0.8zM156.75 318.12h0.8v0.8h-0.8zM146.91 324.99h0.8v0.8h-0.8zM161.99 321.53h0.8v0.8h-0.8zM156.12 317.83h0.8v0.8h-0.8zM155.62 324.2h0.8v0.8h-0.8zM156.01 322.98h0.8v0.8h-0.8zM148.35 319.9h0.8v0.8h-0.8zM149.78 324.98h0.8v0.8h-0.8zM141.68 338.37h0.8v0.8h-0.8zM145.75 328.64h0.8v0.8h-0.8zM152.8 333.05h0.8v0.8h-0.8zM156.19 317.46h0.8v0.8h-0.8zM149.14 316.24h0.8v0.8h-0.8zM159.45 331.77h0.8v0.8h-0.8zM152.79 327.6h0.8v0.8h-0.8zM140.41 339.47h0.8v0.8h-0.8zM157.16 331.46h0.8v0.8h-0.8zM153.11 337.12h0.8v0.8h-0.8zM159.03 329.43h0.8v0.8h-0.8zM138.99 325.39h0.8v0.8h-0.8zM163.87 325.69h0.8v0.8h-0.8zM160.4 324.44h0.8v0.8h-0.8zM147.84 322.84h0.8v0.8h-0.8zM142.85 338.39h0.8v0.8h-0.8zM140.65 332.11h0.8v0.8h-0.8zM153.18 323.72h0.8v0.8h-0.8zM147.3 341.58h0.8v0.8h-0.8zM155.25 321.12h0.8v0.8h-0.8zM158.42 318.4h0.8v0.8h-0.8zM151.93 322.22h0.8v0.8h-0.8zM141.98 326.65h0.8v0.8h-0.8zM144.06 331.81h0.8v0.8h-0.8zM154.71 328.43h0.8v0.8h-0.8zM148.34 322.79h0.8v0.8h-0.8zM145.07 323.64h0.8v0.8h-0.8zM158.33 324.16h0.8v0.8h-0.8z" fill="#321804"/>
<path d="M169.82 336.76h0.8v0.8h-0.8zM175.61 308.1h0.8v0.8h-0.8zM170.61 313.78h0.8v0.8h-0.8zM138.36 331.38h0.8v0.8h-0.8zM128.05 322.66h0.8v0.8h-0.8zM173.31 321.63h0.8v0.8h-0.8zM168.96 348.96h0.8v0.8h-0.8zM129.21 334.44h0.8v0.8h-0.8zM131.99 309.78h0.8v0.8h-0.8zM175.23 336.2h0.8v0.8h-0.8zM159.03 344.09h0.8v0.8h-0.8zM144.38 324.48h0.8v0.8h-0.8zM132.63 327.54h0.8v0.8h-0.8zM122.63 339.83h0.8v0.8h-0.8zM144.1 331.2h0.8v0.8h-0.8zM155.93 343.58h0.8v0.8h-0.8zM122.3 328.6h0.8v0.8h-0.8zM150.17 318.09h0.8v0.8h-0.8zM165.15 325.67h0.8v0.8h-0.8zM162.65 323.9h0.8v0.8h-0.8zM137.73 326.3h0.8v0.8h-0.8zM126.9 335.55h0.8v0.8h-0.8zM144.94 334.77h0.8v0.8h-0.8zM170.79 347.63h0.8v0.8h-0.8zM147.53 318.72h0.8v0.8h-0.8zM168.53 349.42h0.8v0.8h-0.8zM129.86 325.81h0.8v0.8h-0.8zM161.08 346.44h0.8v0.8h-0.8zM155.8 350.72h0.8v0.8h-0.8zM128.82 321.6h0.8v0.8h-0.8zM138.1 309.96h0.8v0.8h-0.8zM173.39 350.3h0.8v0.8h-0.8zM162.82 354.3h0.8v0.8h-0.8zM161.05 353.81h0.8v0.8h-0.8zM165.12 342.56h0.8v0.8h-0.8zM172.09 338.91h0.8v0.8h-0.8zM132.31 326.47h0.8v0.8h-0.8zM176.79 340.05h0.8v0.8h-0.8zM161.08 304.96h0.8v0.8h-0.8zM175.78 311.66h0.8v0.8h-0.8zM153.14 350.33h0.8v0.8h-0.8zM158.13 311.47h0.8v0.8h-0.8zM132.79 355.97h0.8v0.8h-0.8zM130.67 356.6h0.8v0.8h-0.8zM137.78 328.63h0.8v0.8h-0.8zM153.52 335.64h0.8v0.8h-0.8zM171.68 318.08h0.8v0.8h-0.8zM166.24 349.95h0.8v0.8h-0.8zM170.1 334.42h0.8v0.8h-0.8zM131.13 329.24h0.8v0.8h-0.8zM146.45 326.29h0.8v0.8h-0.8zM142.39 352.65h0.8v0.8h-0.8zM135.24 308.1h0.8v0.8h-0.8zM173.96 313.72h0.8v0.8h-0.8zM127.83 315.62h0.8v0.8h-0.8zM128.63 313.24h0.8v0.8h-0.8zM164.42 354.82h0.8v0.8h-0.8zM176.96 323.98h0.8v0.8h-0.8zM165.6 314.63h0.8v0.8h-0.8zM155.8 329.67h0.8v0.8h-0.8zM126.38 339.47h0.8v0.8h-0.8zM152.34 352.12h0.8v0.8h-0.8zM126.46 349.62h0.8v0.8h-0.8zM161.61 324.2h0.8v0.8h-0.8zM163.42 356.69h0.8v0.8h-0.8zM142.35 344.79h0.8v0.8h-0.8zM158.07 346.45h0.8v0.8h-0.8zM129.47 328.5h0.8v0.8h-0.8zM165.67 309.76h0.8v0.8h-0.8zM129.27 357.48h0.8v0.8h-0.8zM170.46 352.28h0.8v0.8h-0.8zM126.94 355.76h0.8v0.8h-0.8zM142.49 311.06h0.8v0.8h-0.8zM174.74 329.08h0.8v0.8h-0.8zM146.38 330.06h0.8v0.8h-0.8zM159.53 344.06h0.8v0.8h-0.8zM174.29 318.85h0.8v0.8h-0.8zM143.03 356.52h0.8v0.8h-0.8zM151 321.6h0.8v0.8h-0.8zM159.39 343.56h0.8v0.8h-0.8zM122.66 317.68h0.8v0.8h-0.8zM131.87 341.54h0.8v0.8h-0.8zM131.6 353.88h0.8v0.8h-0.8zM124.68 315.21h0.8v0.8h-0.8zM132.48 330.65h0.8v0.8h-0.8zM122.22 323.27h0.8v0.8h-0.8zM163.4 324.11h0.8v0.8h-0.8zM176.96 349.13h0.8v0.8h-0.8zM135.09 348.3h0.8v0.8h-0.8zM142.88 340.06h0.8v0.8h-0.8zM167.04 313.63h0.8v0.8h-0.8zM143.28 325.08h0.8v0.8h-0.8zM149.32 351.26h0.8v0.8h-0.8zM123.1 347.24h0.8v0.8h-0.8zM132.4 338.3h0.8v0.8h-0.8zM132.02 330.37h0.8v0.8h-0.8zM143.82 342.5h0.8v0.8h-0.8zM175.73 356.91h0.8v0.8h-0.8zM128.62 316.46h0.8v0.8h-0.8zM162.72 336.25h0.8v0.8h-0.8zM144.24 348.07h0.8v0.8h-0.8zM174.56 318.02h0.8v0.8h-0.8zM160.78 303.44h0.8v0.8h-0.8zM164.03 333.75h0.8v0.8h-0.8zM155.7 354.77h0.8v0.8h-0.8zM150.13 348.93h0.8v0.8h-0.8zM143.01 303.95h0.8v0.8h-0.8zM160.5 306.49h0.8v0.8h-0.8zM165.57 347.55h0.8v0.8h-0.8zM155.46 325.02h0.8v0.8h-0.8zM131.04 355.09h0.8v0.8h-0.8zM142.95 330.47h0.8v0.8h-0.8zM157.76 346.9h0.8v0.8h-0.8zM128.17 310.52h0.8v0.8h-0.8zM123.96 329.58h0.8v0.8h-0.8zM169.68 352.72h0.8v0.8h-0.8zM146.05 314.66h0.8v0.8h-0.8zM172.99 325.68h0.8v0.8h-0.8zM141.72 346.49h0.8v0.8h-0.8zM176.93 347.63h0.8v0.8h-0.8z" fill="#5e300a" opacity="0.4"/>
<text x="124.5" y="312.5" font-size="8" fill="#fff" text-anchor="start" font-weight="normal" >Na</text>
<rect x="184.3" y="302.4" width="56.9" height="56.7" fill="#030303"/>
<polygon points="217.2,309 226.9,331.4 208.5,347.4 199.1,325.6" fill="#2e2e12" opacity="0.55" filter="url(#blur06)"/>
<path d="M212.32 342.32h0.8v0.8h-0.8zM207.04 324.35h0.8v0.8h-0.8zM207.37 340.98h0.8v0.8h-0.8zM224.23 326h0.8v0.8h-0.8zM207.42 331.86h0.8v0.8h-0.8zM224.59 332.25h0.8v0.8h-0.8zM210.7 334.05h0.8v0.8h-0.8zM223.07 328.34h0.8v0.8h-0.8zM219.66 334h0.8v0.8h-0.8zM218.21 318.6h0.8v0.8h-0.8zM211.29 317.31h0.8v0.8h-0.8zM223.13 325.54h0.8v0.8h-0.8zM205.73 320.84h0.8v0.8h-0.8zM208.09 332.2h0.8v0.8h-0.8zM212.14 319.24h0.8v0.8h-0.8zM216.6 319.81h0.8v0.8h-0.8zM216.53 318.99h0.8v0.8h-0.8zM218.13 333.35h0.8v0.8h-0.8zM208.34 317.51h0.8v0.8h-0.8zM212.38 317.21h0.8v0.8h-0.8zM215.74 324.64h0.8v0.8h-0.8zM210.39 315.67h0.8v0.8h-0.8zM219.53 323.63h0.8v0.8h-0.8zM217.42 327.46h0.8v0.8h-0.8zM217.28 325.98h0.8v0.8h-0.8zM212.85 329.63h0.8v0.8h-0.8zM216.98 338.27h0.8v0.8h-0.8zM206.42 323.26h0.8v0.8h-0.8zM208.98 319.97h0.8v0.8h-0.8zM216.98 335.73h0.8v0.8h-0.8zM222.99 323.2h0.8v0.8h-0.8zM204.64 337.56h0.8v0.8h-0.8zM208.63 326.47h0.8v0.8h-0.8zM210.42 324.26h0.8v0.8h-0.8zM207.81 345.16h0.8v0.8h-0.8zM214.54 313.33h0.8v0.8h-0.8zM206.61 334.27h0.8v0.8h-0.8zM212.59 338.45h0.8v0.8h-0.8zM217.74 331.09h0.8v0.8h-0.8zM212.78 328.12h0.8v0.8h-0.8zM215.83 322.52h0.8v0.8h-0.8zM217.42 309.87h0.8v0.8h-0.8zM204.91 336.76h0.8v0.8h-0.8zM214.64 319.7h0.8v0.8h-0.8zM209.4 346.11h0.8v0.8h-0.8zM217.09 336.72h0.8v0.8h-0.8zM211.84 314.24h0.8v0.8h-0.8zM205.96 330.61h0.8v0.8h-0.8zM212.14 319.71h0.8v0.8h-0.8zM209.43 327.64h0.8v0.8h-0.8zM206.19 325.69h0.8v0.8h-0.8zM218.95 320.78h0.8v0.8h-0.8zM205.79 325.7h0.8v0.8h-0.8zM210.94 318.83h0.8v0.8h-0.8zM212.1 322.22h0.8v0.8h-0.8zM221.19 329.74h0.8v0.8h-0.8zM209.48 331.17h0.8v0.8h-0.8zM202.82 322.56h0.8v0.8h-0.8zM219.61 327.06h0.8v0.8h-0.8zM214.73 316.3h0.8v0.8h-0.8zM212.18 320.65h0.8v0.8h-0.8zM202.59 328.98h0.8v0.8h-0.8zM216.24 310.78h0.8v0.8h-0.8zM207.26 332.52h0.8v0.8h-0.8zM216.83 323.37h0.8v0.8h-0.8zM212.35 313.49h0.8v0.8h-0.8zM213.86 334.71h0.8v0.8h-0.8zM217.19 323.09h0.8v0.8h-0.8zM213.07 317.35h0.8v0.8h-0.8zM211.31 331.1h0.8v0.8h-0.8zM211.17 343.24h0.8v0.8h-0.8zM211.59 342.25h0.8v0.8h-0.8zM216.73 327.7h0.8v0.8h-0.8zM214.82 322.04h0.8v0.8h-0.8zM217.12 326.69h0.8v0.8h-0.8zM214.7 337.23h0.8v0.8h-0.8zM209.29 327.51h0.8v0.8h-0.8zM215.35 326.9h0.8v0.8h-0.8zM206.37 334.03h0.8v0.8h-0.8zM214.07 327.16h0.8v0.8h-0.8zM213.81 315.34h0.8v0.8h-0.8zM207.91 334.06h0.8v0.8h-0.8zM206.21 340.74h0.8v0.8h-0.8zM208.91 332.17h0.8v0.8h-0.8zM219.09 322.27h0.8v0.8h-0.8zM215.75 321.22h0.8v0.8h-0.8zM203.54 330.88h0.8v0.8h-0.8zM217.14 335.43h0.8v0.8h-0.8zM215.06 320.67h0.8v0.8h-0.8zM215.59 335.44h0.8v0.8h-0.8zM217.94 312.61h0.8v0.8h-0.8zM204.48 324.62h0.8v0.8h-0.8zM221.2 319.16h0.8v0.8h-0.8zM210.57 324.93h0.8v0.8h-0.8zM214.21 323.59h0.8v0.8h-0.8zM217.05 323.95h0.8v0.8h-0.8zM223.04 324.84h0.8v0.8h-0.8zM211.84 316.59h0.8v0.8h-0.8z" fill="#686826"/>
<path d="M205.36 339.08h0.8v0.8h-0.8zM204.42 329.94h0.8v0.8h-0.8zM212.73 334.81h0.8v0.8h-0.8zM215.84 333.56h0.8v0.8h-0.8zM212 319.92h0.8v0.8h-0.8zM211.43 327.8h0.8v0.8h-0.8zM205.86 328.37h0.8v0.8h-0.8zM217.08 327.48h0.8v0.8h-0.8zM213.97 340.79h0.8v0.8h-0.8zM216.63 317h0.8v0.8h-0.8zM205.8 338.2h0.8v0.8h-0.8zM201.42 328.88h0.8v0.8h-0.8zM205.32 323.38h0.8v0.8h-0.8zM203.93 330.24h0.8v0.8h-0.8zM224.14 327.48h0.8v0.8h-0.8zM218.5 329.75h0.8v0.8h-0.8zM214.01 327.58h0.8v0.8h-0.8zM203.3 329.07h0.8v0.8h-0.8zM220.41 320.81h0.8v0.8h-0.8zM209.99 330.18h0.8v0.8h-0.8zM211.06 320.8h0.8v0.8h-0.8zM224.02 328.16h0.8v0.8h-0.8zM221.62 327h0.8v0.8h-0.8zM215.84 329.78h0.8v0.8h-0.8zM210.82 339.2h0.8v0.8h-0.8zM216.12 310.06h0.8v0.8h-0.8zM212 314.55h0.8v0.8h-0.8zM211.95 325.07h0.8v0.8h-0.8zM221.66 322.43h0.8v0.8h-0.8zM209.47 332.34h0.8v0.8h-0.8zM206.7 337.33h0.8v0.8h-0.8zM213.58 322.07h0.8v0.8h-0.8zM206.69 319.01h0.8v0.8h-0.8zM212.44 327.36h0.8v0.8h-0.8zM213.56 329.48h0.8v0.8h-0.8zM210.58 326.09h0.8v0.8h-0.8zM209.09 330.03h0.8v0.8h-0.8zM222.62 330.7h0.8v0.8h-0.8zM218.81 323.37h0.8v0.8h-0.8zM211.53 320.06h0.8v0.8h-0.8zM206.3 334.41h0.8v0.8h-0.8zM217.55 329.64h0.8v0.8h-0.8zM212.55 322.47h0.8v0.8h-0.8zM207.54 338.96h0.8v0.8h-0.8zM218.14 323.13h0.8v0.8h-0.8zM204.82 322.14h0.8v0.8h-0.8zM221.53 323.37h0.8v0.8h-0.8zM199.83 325.01h0.8v0.8h-0.8zM216.17 311.65h0.8v0.8h-0.8zM206.59 336.44h0.8v0.8h-0.8zM201.91 327.51h0.8v0.8h-0.8zM215.23 334.08h0.8v0.8h-0.8zM210.98 330.5h0.8v0.8h-0.8zM205.74 328.01h0.8v0.8h-0.8zM219.78 328.8h0.8v0.8h-0.8zM218.26 323.18h0.8v0.8h-0.8zM213.22 331.11h0.8v0.8h-0.8zM206.31 324h0.8v0.8h-0.8zM218.06 339.05h0.8v0.8h-0.8zM211.54 336.86h0.8v0.8h-0.8zM211.41 339.95h0.8v0.8h-0.8zM207.95 334.14h0.8v0.8h-0.8zM212.51 323.31h0.8v0.8h-0.8zM215.9 331.73h0.8v0.8h-0.8zM216.72 329.12h0.8v0.8h-0.8zM214.31 326.49h0.8v0.8h-0.8zM209.09 328.81h0.8v0.8h-0.8zM215.57 313.51h0.8v0.8h-0.8zM205.76 325.75h0.8v0.8h-0.8zM217.87 315.72h0.8v0.8h-0.8zM215.25 335.97h0.8v0.8h-0.8zM213.6 329.36h0.8v0.8h-0.8zM210.47 328.82h0.8v0.8h-0.8zM222.69 333.42h0.8v0.8h-0.8zM213.52 318.92h0.8v0.8h-0.8zM213.96 317.47h0.8v0.8h-0.8zM217.3 332.24h0.8v0.8h-0.8zM201.66 330.91h0.8v0.8h-0.8zM208.13 344.49h0.8v0.8h-0.8zM219.1 320.15h0.8v0.8h-0.8zM203.8 325.21h0.8v0.8h-0.8zM217.91 319.31h0.8v0.8h-0.8zM202.33 327.01h0.8v0.8h-0.8zM212.21 323.04h0.8v0.8h-0.8zM218.98 323.71h0.8v0.8h-0.8zM210.72 319.92h0.8v0.8h-0.8zM204.69 332.66h0.8v0.8h-0.8zM222.22 330.27h0.8v0.8h-0.8zM204.2 324.16h0.8v0.8h-0.8zM203.82 322.89h0.8v0.8h-0.8zM208.12 343.18h0.8v0.8h-0.8zM219.49 337.78h0.8v0.8h-0.8zM216.88 328.74h0.8v0.8h-0.8zM206.56 327.57h0.8v0.8h-0.8zM213.05 331.39h0.8v0.8h-0.8zM217.97 337.43h0.8v0.8h-0.8z" fill="#50501e"/>
<path d="M212.1 330.45h0.8v0.8h-0.8zM214.38 321.07h0.8v0.8h-0.8zM218.77 322.18h0.8v0.8h-0.8zM208.25 319.45h0.8v0.8h-0.8zM207.84 319.31h0.8v0.8h-0.8zM210.78 338.49h0.8v0.8h-0.8zM206.27 328.32h0.8v0.8h-0.8zM211.46 330.03h0.8v0.8h-0.8zM207.52 327.82h0.8v0.8h-0.8zM202.3 332.62h0.8v0.8h-0.8zM208.26 332.61h0.8v0.8h-0.8zM201.5 323.74h0.8v0.8h-0.8zM212.66 321.53h0.8v0.8h-0.8zM214.94 327.12h0.8v0.8h-0.8zM214.05 313.45h0.8v0.8h-0.8zM211.92 330.56h0.8v0.8h-0.8zM200.82 328.14h0.8v0.8h-0.8zM210.49 319.7h0.8v0.8h-0.8zM212.48 339.99h0.8v0.8h-0.8zM212.59 337.76h0.8v0.8h-0.8zM211.93 314.06h0.8v0.8h-0.8zM212.6 319.32h0.8v0.8h-0.8zM216.41 337.83h0.8v0.8h-0.8zM209.13 318.53h0.8v0.8h-0.8zM215.28 319.13h0.8v0.8h-0.8zM214.26 340.91h0.8v0.8h-0.8zM202.13 330.41h0.8v0.8h-0.8zM216.59 333.8h0.8v0.8h-0.8zM222.93 328.62h0.8v0.8h-0.8zM216.61 330.08h0.8v0.8h-0.8zM217.03 314.37h0.8v0.8h-0.8zM221.22 332.28h0.8v0.8h-0.8zM206.89 342.55h0.8v0.8h-0.8zM209.18 344.25h0.8v0.8h-0.8zM223.6 332.56h0.8v0.8h-0.8zM212.65 319.97h0.8v0.8h-0.8zM222.4 329.8h0.8v0.8h-0.8zM210.64 333.56h0.8v0.8h-0.8zM211.38 321.56h0.8v0.8h-0.8zM204.4 331.33h0.8v0.8h-0.8zM223.64 330.58h0.8v0.8h-0.8zM199.64 325.37h0.8v0.8h-0.8zM200.25 324.66h0.8v0.8h-0.8zM211.58 322.04h0.8v0.8h-0.8zM210.79 326.84h0.8v0.8h-0.8zM219.33 320.75h0.8v0.8h-0.8zM209.76 329.09h0.8v0.8h-0.8zM221.77 335.36h0.8v0.8h-0.8zM210.75 322.05h0.8v0.8h-0.8zM216.53 331.72h0.8v0.8h-0.8zM214.95 324.69h0.8v0.8h-0.8zM216.18 323.09h0.8v0.8h-0.8zM200.53 328.22h0.8v0.8h-0.8zM206.65 339.85h0.8v0.8h-0.8zM214.45 341.43h0.8v0.8h-0.8zM211.63 314.68h0.8v0.8h-0.8zM217.57 314.56h0.8v0.8h-0.8zM217.77 315.66h0.8v0.8h-0.8zM200.74 325.08h0.8v0.8h-0.8zM205.62 337.37h0.8v0.8h-0.8zM223.45 332.81h0.8v0.8h-0.8zM221.46 330.59h0.8v0.8h-0.8zM216.59 320.17h0.8v0.8h-0.8zM218.96 321.69h0.8v0.8h-0.8zM220.42 320.29h0.8v0.8h-0.8zM223.61 324.99h0.8v0.8h-0.8zM218.16 334.41h0.8v0.8h-0.8zM207.36 336.63h0.8v0.8h-0.8zM217.22 317.15h0.8v0.8h-0.8zM210.46 338.22h0.8v0.8h-0.8zM219.64 334.36h0.8v0.8h-0.8zM204.45 327.68h0.8v0.8h-0.8zM223.89 331.64h0.8v0.8h-0.8zM206.5 342.19h0.8v0.8h-0.8zM210.44 326.77h0.8v0.8h-0.8zM205.22 323.58h0.8v0.8h-0.8zM215.33 322.9h0.8v0.8h-0.8zM221.51 334.92h0.8v0.8h-0.8zM215.49 319.39h0.8v0.8h-0.8zM217.58 335.42h0.8v0.8h-0.8zM203.84 331.86h0.8v0.8h-0.8zM217.86 338.39h0.8v0.8h-0.8zM221.78 330.3h0.8v0.8h-0.8zM219.33 323.38h0.8v0.8h-0.8zM211.54 315.01h0.8v0.8h-0.8zM216.3 317.8h0.8v0.8h-0.8zM204.55 333.87h0.8v0.8h-0.8zM205.1 328.06h0.8v0.8h-0.8zM217.49 319.91h0.8v0.8h-0.8zM222.22 325.56h0.8v0.8h-0.8zM205.5 326.45h0.8v0.8h-0.8zM205.06 323.49h0.8v0.8h-0.8zM206.64 333h0.8v0.8h-0.8zM216.64 326.7h0.8v0.8h-0.8zM217.69 331.4h0.8v0.8h-0.8zM207.47 340.17h0.8v0.8h-0.8zM209.99 323.7h0.8v0.8h-0.8zM202.1 324.97h0.8v0.8h-0.8zM208.55 341.72h0.8v0.8h-0.8zM213.39 335.03h0.8v0.8h-0.8zM225.84 331.12h0.8v0.8h-0.8zM215.78 335.85h0.8v0.8h-0.8zM214.39 324.49h0.8v0.8h-0.8zM209.42 324.05h0.8v0.8h-0.8z" fill="#7e7e34"/>
<path d="M212.43 324.37h0.8v0.8h-0.8zM211.49 326.57h0.8v0.8h-0.8zM213.64 332.52h0.8v0.8h-0.8zM202.52 331.66h0.8v0.8h-0.8zM219.34 316.9h0.8v0.8h-0.8zM201.58 324.18h0.8v0.8h-0.8zM217.95 315.41h0.8v0.8h-0.8zM218.51 314.29h0.8v0.8h-0.8zM218.47 321.81h0.8v0.8h-0.8zM212.45 314.32h0.8v0.8h-0.8zM211.11 323.08h0.8v0.8h-0.8zM205.56 333.03h0.8v0.8h-0.8zM206.01 322.29h0.8v0.8h-0.8zM223.71 325.34h0.8v0.8h-0.8zM211.43 329.93h0.8v0.8h-0.8zM210.64 330.12h0.8v0.8h-0.8zM203.43 324.29h0.8v0.8h-0.8zM213.44 323.06h0.8v0.8h-0.8zM219.23 313.91h0.8v0.8h-0.8zM214.97 339.16h0.8v0.8h-0.8zM208.9 332.83h0.8v0.8h-0.8zM221.74 329.14h0.8v0.8h-0.8zM207.69 333.63h0.8v0.8h-0.8zM208.46 332.13h0.8v0.8h-0.8zM209.75 316.14h0.8v0.8h-0.8zM222.57 323.4h0.8v0.8h-0.8zM217.35 317.97h0.8v0.8h-0.8zM218.91 316.8h0.8v0.8h-0.8zM211.29 343.59h0.8v0.8h-0.8zM215.62 328.97h0.8v0.8h-0.8zM216.01 324.47h0.8v0.8h-0.8zM225.45 329.92h0.8v0.8h-0.8zM207.34 327.35h0.8v0.8h-0.8zM211.23 315.7h0.8v0.8h-0.8zM219.36 328.7h0.8v0.8h-0.8zM221.47 333.16h0.8v0.8h-0.8zM213.48 312.78h0.8v0.8h-0.8zM215.47 331.32h0.8v0.8h-0.8zM219.27 336.68h0.8v0.8h-0.8zM215.1 316.86h0.8v0.8h-0.8zM213.91 328.19h0.8v0.8h-0.8zM208.73 333.49h0.8v0.8h-0.8zM209.58 337.24h0.8v0.8h-0.8zM216.98 320.42h0.8v0.8h-0.8zM214.64 315.19h0.8v0.8h-0.8zM205.25 324.29h0.8v0.8h-0.8zM218.22 335.42h0.8v0.8h-0.8zM208.78 322.03h0.8v0.8h-0.8zM220.66 331.51h0.8v0.8h-0.8zM225.42 327.99h0.8v0.8h-0.8zM205.03 339.07h0.8v0.8h-0.8zM204.74 330.2h0.8v0.8h-0.8zM217.59 315.99h0.8v0.8h-0.8zM210.77 315.27h0.8v0.8h-0.8zM209.26 316.85h0.8v0.8h-0.8zM199.85 325.65h0.8v0.8h-0.8zM226.16 330.03h0.8v0.8h-0.8zM204.18 322.2h0.8v0.8h-0.8zM210.26 331.76h0.8v0.8h-0.8zM207.36 327.9h0.8v0.8h-0.8zM219.29 328.63h0.8v0.8h-0.8zM216.69 319.75h0.8v0.8h-0.8zM216.27 317.62h0.8v0.8h-0.8zM204.54 334.19h0.8v0.8h-0.8zM220.27 321.51h0.8v0.8h-0.8zM205.94 334.96h0.8v0.8h-0.8zM217.83 336.22h0.8v0.8h-0.8zM213.51 340.25h0.8v0.8h-0.8zM213.51 316.65h0.8v0.8h-0.8zM216.6 336.87h0.8v0.8h-0.8zM216.26 330.8h0.8v0.8h-0.8zM217.43 322.18h0.8v0.8h-0.8zM215.09 339.88h0.8v0.8h-0.8zM216.61 316.36h0.8v0.8h-0.8zM214.52 318.26h0.8v0.8h-0.8zM218.24 327.58h0.8v0.8h-0.8zM218.01 329.66h0.8v0.8h-0.8zM220.6 321.99h0.8v0.8h-0.8zM218.66 333.08h0.8v0.8h-0.8zM213.2 329.42h0.8v0.8h-0.8zM201.97 331.85h0.8v0.8h-0.8zM209.24 333.15h0.8v0.8h-0.8zM202.88 328.29h0.8v0.8h-0.8zM213.36 326.39h0.8v0.8h-0.8zM216.44 326.25h0.8v0.8h-0.8zM217.56 324.91h0.8v0.8h-0.8zM204.85 324.41h0.8v0.8h-0.8zM220.79 328.64h0.8v0.8h-0.8zM216.49 325.22h0.8v0.8h-0.8zM204.86 334.45h0.8v0.8h-0.8zM209.95 334.55h0.8v0.8h-0.8zM209.49 344.36h0.8v0.8h-0.8zM208.65 332.39h0.8v0.8h-0.8zM220.26 324.04h0.8v0.8h-0.8zM222.85 332.11h0.8v0.8h-0.8zM222.5 332.19h0.8v0.8h-0.8zM213.31 332.92h0.8v0.8h-0.8zM216.61 325.41h0.8v0.8h-0.8zM217.68 320.17h0.8v0.8h-0.8zM212.53 334.38h0.8v0.8h-0.8zM210.35 323.62h0.8v0.8h-0.8zM214.42 328.4h0.8v0.8h-0.8z" fill="#3c3c16"/>
<path d="M219.16 333.49h0.8v0.8h-0.8zM204.02 330.54h0.8v0.8h-0.8zM215.12 345.82h0.8v0.8h-0.8zM202.85 327.15h0.8v0.8h-0.8zM202.12 351.23h0.8v0.8h-0.8zM204.4 323.79h0.8v0.8h-0.8zM209.59 336.84h0.8v0.8h-0.8zM185.01 320.73h0.8v0.8h-0.8zM199.5 356.64h0.8v0.8h-0.8zM225.09 334.94h0.8v0.8h-0.8zM211.99 332.6h0.8v0.8h-0.8zM226.92 352.41h0.8v0.8h-0.8zM208.63 356.23h0.8v0.8h-0.8zM236.09 318.69h0.8v0.8h-0.8zM234.27 335.73h0.8v0.8h-0.8zM221.99 335.51h0.8v0.8h-0.8zM233.54 311.25h0.8v0.8h-0.8zM208.45 318.78h0.8v0.8h-0.8zM191.7 331.22h0.8v0.8h-0.8zM235.75 302.94h0.8v0.8h-0.8zM186 307.83h0.8v0.8h-0.8zM221.44 340.06h0.8v0.8h-0.8zM205.6 312.9h0.8v0.8h-0.8zM223.35 342.6h0.8v0.8h-0.8zM195.24 304.65h0.8v0.8h-0.8zM186.73 340.76h0.8v0.8h-0.8zM217.19 354.43h0.8v0.8h-0.8zM199.9 323.59h0.8v0.8h-0.8zM228.71 318.99h0.8v0.8h-0.8zM195.08 354.86h0.8v0.8h-0.8zM210.98 319.27h0.8v0.8h-0.8zM190.37 307.59h0.8v0.8h-0.8zM210.91 328.07h0.8v0.8h-0.8zM239.97 345.35h0.8v0.8h-0.8zM204.84 327.58h0.8v0.8h-0.8zM238.8 303.94h0.8v0.8h-0.8zM191.32 329.21h0.8v0.8h-0.8zM236.71 333.74h0.8v0.8h-0.8zM212.64 335.37h0.8v0.8h-0.8zM232.27 337.82h0.8v0.8h-0.8zM218.1 320.02h0.8v0.8h-0.8zM194.29 336.72h0.8v0.8h-0.8zM238 309.27h0.8v0.8h-0.8zM223.27 321.72h0.8v0.8h-0.8zM229.62 334.33h0.8v0.8h-0.8zM188.76 329.67h0.8v0.8h-0.8zM219.22 344.47h0.8v0.8h-0.8zM229.3 318.73h0.8v0.8h-0.8zM188.1 334.64h0.8v0.8h-0.8zM194.41 335.39h0.8v0.8h-0.8zM208.84 310.21h0.8v0.8h-0.8zM216.95 314.11h0.8v0.8h-0.8zM214 318.54h0.8v0.8h-0.8zM225.49 315.48h0.8v0.8h-0.8zM238.76 341.52h0.8v0.8h-0.8zM189.29 343.39h0.8v0.8h-0.8zM232.32 337.31h0.8v0.8h-0.8zM186.66 322.7h0.8v0.8h-0.8zM204.57 313.95h0.8v0.8h-0.8zM227.13 348.45h0.8v0.8h-0.8zM193.3 355.15h0.8v0.8h-0.8zM227.9 318.29h0.8v0.8h-0.8zM186.74 324.52h0.8v0.8h-0.8zM205.26 354.44h0.8v0.8h-0.8zM207.73 355.05h0.8v0.8h-0.8zM232.98 349.47h0.8v0.8h-0.8zM209.4 351.89h0.8v0.8h-0.8zM233.17 315.89h0.8v0.8h-0.8zM189.85 341.54h0.8v0.8h-0.8zM232.16 347.71h0.8v0.8h-0.8zM230.28 331.39h0.8v0.8h-0.8zM237.19 304.11h0.8v0.8h-0.8zM191.41 343.01h0.8v0.8h-0.8zM205.19 303.49h0.8v0.8h-0.8zM224.4 326.17h0.8v0.8h-0.8zM194.93 308.84h0.8v0.8h-0.8zM208.61 332.05h0.8v0.8h-0.8zM221.26 322.32h0.8v0.8h-0.8zM227.4 315.97h0.8v0.8h-0.8zM223.07 341.91h0.8v0.8h-0.8zM217.77 304.74h0.8v0.8h-0.8zM185.27 342.6h0.8v0.8h-0.8zM239.07 342.27h0.8v0.8h-0.8zM201.1 346.6h0.8v0.8h-0.8zM215.83 356.48h0.8v0.8h-0.8zM204.29 306.96h0.8v0.8h-0.8zM224.48 310.84h0.8v0.8h-0.8zM221.05 312.98h0.8v0.8h-0.8zM206.62 345.95h0.8v0.8h-0.8zM227.56 338.07h0.8v0.8h-0.8zM210.85 306.32h0.8v0.8h-0.8zM189.42 320.41h0.8v0.8h-0.8zM192.06 313.45h0.8v0.8h-0.8zM222.18 314.96h0.8v0.8h-0.8zM239.07 356.85h0.8v0.8h-0.8zM231.83 303.16h0.8v0.8h-0.8zM208.35 330.02h0.8v0.8h-0.8zM205.78 348.5h0.8v0.8h-0.8zM237.2 335.62h0.8v0.8h-0.8zM220.54 352.35h0.8v0.8h-0.8zM204.3 346.8h0.8v0.8h-0.8zM187.5 352.37h0.8v0.8h-0.8zM191.67 357.35h0.8v0.8h-0.8zM190.6 304.86h0.8v0.8h-0.8zM217.45 327.65h0.8v0.8h-0.8zM203.14 329.73h0.8v0.8h-0.8zM195.21 342.43h0.8v0.8h-0.8zM206.29 334.59h0.8v0.8h-0.8zM212.43 352.22h0.8v0.8h-0.8zM192.96 312.25h0.8v0.8h-0.8z" fill="#686826" opacity="0.4"/>
<text x="187.5" y="312.5" font-size="8" fill="#fff" text-anchor="start" font-weight="normal" >Sc</text>
<rect x="121.3" y="365.6" width="56.9" height="56.7" fill="#030303"/>
<path d="M133.76 386.1h0.8v0.8h-0.8zM145.76 394.98h0.8v0.8h-0.8zM144.56 392.85h0.8v0.8h-0.8zM148.5 405.87h0.8v0.8h-0.8zM144.64 397.3h0.8v0.8h-0.8zM148.9 397.06h0.8v0.8h-0.8zM146.54 408.52h0.8v0.8h-0.8zM142.91 391.66h0.8v0.8h-0.8zM148.74 395.05h0.8v0.8h-0.8zM153.6 403.03h0.8v0.8h-0.8zM154.48 379.55h0.8v0.8h-0.8zM145.18 387.44h0.8v0.8h-0.8zM148.91 383.68h0.8v0.8h-0.8zM153.04 397.25h0.8v0.8h-0.8zM142.5 392.76h0.8v0.8h-0.8zM139.6 411.34h0.8v0.8h-0.8zM143.61 396.65h0.8v0.8h-0.8zM146.72 386.17h0.8v0.8h-0.8zM147.5 389.13h0.8v0.8h-0.8zM159.47 385.57h0.8v0.8h-0.8zM134.83 399.43h0.8v0.8h-0.8zM150.86 392.41h0.8v0.8h-0.8zM147.42 387.67h0.8v0.8h-0.8zM142.19 397.69h0.8v0.8h-0.8zM152.11 398.76h0.8v0.8h-0.8zM136.62 378.21h0.8v0.8h-0.8zM138.65 378.73h0.8v0.8h-0.8zM147.46 381.17h0.8v0.8h-0.8zM165.29 406.07h0.8v0.8h-0.8zM149.88 398.46h0.8v0.8h-0.8zM148.91 396.52h0.8v0.8h-0.8zM156.33 387.62h0.8v0.8h-0.8zM157.13 391.79h0.8v0.8h-0.8zM133.39 390.97h0.8v0.8h-0.8zM156.21 394.19h0.8v0.8h-0.8zM153.77 380.36h0.8v0.8h-0.8zM140.38 400.37h0.8v0.8h-0.8zM152.58 379.01h0.8v0.8h-0.8zM149.03 392.75h0.8v0.8h-0.8zM147.01 409.02h0.8v0.8h-0.8zM145.82 401.01h0.8v0.8h-0.8zM163.74 373.88h0.8v0.8h-0.8zM164.26 391.21h0.8v0.8h-0.8zM151.63 403.61h0.8v0.8h-0.8zM151.99 371.5h0.8v0.8h-0.8zM156.25 382.45h0.8v0.8h-0.8zM158.5 398.56h0.8v0.8h-0.8zM144.59 386.9h0.8v0.8h-0.8z" fill="#156464"/>
<path d="M144.34 396.09h0.8v0.8h-0.8zM147.86 401.31h0.8v0.8h-0.8zM144.16 392.89h0.8v0.8h-0.8zM156.32 404.43h0.8v0.8h-0.8zM160.2 382.98h0.8v0.8h-0.8zM142.93 384.99h0.8v0.8h-0.8zM146.9 381.01h0.8v0.8h-0.8zM156.4 397.03h0.8v0.8h-0.8zM143.46 397.69h0.8v0.8h-0.8zM141.61 393.79h0.8v0.8h-0.8zM159.73 393.13h0.8v0.8h-0.8zM163.63 390.58h0.8v0.8h-0.8zM151.83 395.06h0.8v0.8h-0.8zM139.4 403.17h0.8v0.8h-0.8zM163.04 394.04h0.8v0.8h-0.8zM152.33 376.21h0.8v0.8h-0.8zM162.3 379.97h0.8v0.8h-0.8zM159.6 400.67h0.8v0.8h-0.8zM157.02 389.59h0.8v0.8h-0.8zM152.78 393.88h0.8v0.8h-0.8zM156.56 405.2h0.8v0.8h-0.8zM156.69 382.18h0.8v0.8h-0.8zM152.76 402.7h0.8v0.8h-0.8zM160.41 391h0.8v0.8h-0.8zM152.65 388.84h0.8v0.8h-0.8zM149.67 376.52h0.8v0.8h-0.8zM148.83 405.22h0.8v0.8h-0.8zM143.4 392.14h0.8v0.8h-0.8zM146.78 396.76h0.8v0.8h-0.8zM141.54 387.82h0.8v0.8h-0.8zM151.85 390.39h0.8v0.8h-0.8zM147.8 406.57h0.8v0.8h-0.8zM145.76 402.93h0.8v0.8h-0.8zM142.76 400.74h0.8v0.8h-0.8zM146.63 392.67h0.8v0.8h-0.8zM158.17 383.46h0.8v0.8h-0.8zM152.69 396.1h0.8v0.8h-0.8zM143.27 407.14h0.8v0.8h-0.8zM156.45 392.1h0.8v0.8h-0.8zM140.86 392.33h0.8v0.8h-0.8zM154.96 399.25h0.8v0.8h-0.8zM156.68 383.2h0.8v0.8h-0.8zM138.97 401.04h0.8v0.8h-0.8zM151.23 396.72h0.8v0.8h-0.8zM153.08 388.76h0.8v0.8h-0.8zM138.36 404.54h0.8v0.8h-0.8zM154.82 374.07h0.8v0.8h-0.8zM144.26 399.22h0.8v0.8h-0.8zM147.86 392.92h0.8v0.8h-0.8zM144.03 391.47h0.8v0.8h-0.8zM142.93 386.17h0.8v0.8h-0.8z" fill="#0f4a4a"/>
<path d="M145.17 392.72h0.8v0.8h-0.8zM139.66 391.61h0.8v0.8h-0.8zM135.77 389.4h0.8v0.8h-0.8zM136.69 389.17h0.8v0.8h-0.8zM136.48 393.55h0.8v0.8h-0.8zM154.11 387.25h0.8v0.8h-0.8zM155.85 391.64h0.8v0.8h-0.8zM165.08 379.99h0.8v0.8h-0.8zM135.69 386.97h0.8v0.8h-0.8zM156.47 407.17h0.8v0.8h-0.8zM149.31 393.18h0.8v0.8h-0.8zM140.7 385h0.8v0.8h-0.8zM150.84 395.99h0.8v0.8h-0.8zM153.46 410.04h0.8v0.8h-0.8zM150.41 384.9h0.8v0.8h-0.8zM138.55 378.11h0.8v0.8h-0.8zM149.2 380.3h0.8v0.8h-0.8zM158.19 404.64h0.8v0.8h-0.8zM153.52 391.82h0.8v0.8h-0.8zM141.33 392.42h0.8v0.8h-0.8zM144.75 401.27h0.8v0.8h-0.8zM159.25 397.69h0.8v0.8h-0.8zM143.08 418.78h0.8v0.8h-0.8zM155.18 385h0.8v0.8h-0.8zM147.74 383h0.8v0.8h-0.8zM161.29 392.07h0.8v0.8h-0.8zM155.67 390.78h0.8v0.8h-0.8zM139.68 395.27h0.8v0.8h-0.8zM160.6 392.08h0.8v0.8h-0.8zM150.24 391.51h0.8v0.8h-0.8zM144.59 396.78h0.8v0.8h-0.8zM138.83 383.91h0.8v0.8h-0.8zM132.72 394.64h0.8v0.8h-0.8zM144.56 375.34h0.8v0.8h-0.8zM135.49 387.33h0.8v0.8h-0.8zM158.6 388.19h0.8v0.8h-0.8zM165.85 370.82h0.8v0.8h-0.8zM157.11 388.69h0.8v0.8h-0.8z" fill="#1a7878"/>
<path d="M145.4 386h0.8v0.8h-0.8zM158.9 384.23h0.8v0.8h-0.8zM153.82 388.53h0.8v0.8h-0.8zM149.84 405.05h0.8v0.8h-0.8zM152.69 376.91h0.8v0.8h-0.8zM150.61 389.42h0.8v0.8h-0.8zM141.91 378.84h0.8v0.8h-0.8zM144.65 408.69h0.8v0.8h-0.8zM146.99 397h0.8v0.8h-0.8zM150.03 380.98h0.8v0.8h-0.8zM144.89 407.46h0.8v0.8h-0.8zM164.03 397.49h0.8v0.8h-0.8zM146.75 380.47h0.8v0.8h-0.8zM144.14 404.37h0.8v0.8h-0.8zM153.68 390.94h0.8v0.8h-0.8zM148.34 390.15h0.8v0.8h-0.8zM156.72 390.04h0.8v0.8h-0.8zM145.64 389.19h0.8v0.8h-0.8zM157.2 400.36h0.8v0.8h-0.8zM162.11 389.31h0.8v0.8h-0.8zM143.52 401.12h0.8v0.8h-0.8zM157.45 384.86h0.8v0.8h-0.8zM158.75 403.11h0.8v0.8h-0.8zM172.82 394.54h0.8v0.8h-0.8zM143.65 386.66h0.8v0.8h-0.8zM160.7 396.41h0.8v0.8h-0.8zM154.77 393.18h0.8v0.8h-0.8zM144.56 390.64h0.8v0.8h-0.8zM165.07 390.17h0.8v0.8h-0.8zM150.22 394.27h0.8v0.8h-0.8zM141.3 403.63h0.8v0.8h-0.8zM150.84 408.75h0.8v0.8h-0.8zM134.2 384.67h0.8v0.8h-0.8zM148.59 386.75h0.8v0.8h-0.8zM159.53 394.5h0.8v0.8h-0.8zM141.05 392.92h0.8v0.8h-0.8zM145.55 385.36h0.8v0.8h-0.8zM145.9 411.05h0.8v0.8h-0.8zM143.33 399.38h0.8v0.8h-0.8zM164.58 389.24h0.8v0.8h-0.8zM157.01 383.22h0.8v0.8h-0.8zM157.46 400.22h0.8v0.8h-0.8zM139.84 388.04h0.8v0.8h-0.8z" fill="#0a3636"/>
<path d="M138.37 379.91h0.8v0.8h-0.8zM163.94 366.44h0.8v0.8h-0.8zM135.31 420.42h0.8v0.8h-0.8zM174.71 407.86h0.8v0.8h-0.8zM124.04 407.34h0.8v0.8h-0.8zM123.62 411.75h0.8v0.8h-0.8zM158.45 409.12h0.8v0.8h-0.8zM125.99 399.64h0.8v0.8h-0.8zM131.97 371.06h0.8v0.8h-0.8zM130.11 373.77h0.8v0.8h-0.8zM171.98 404.35h0.8v0.8h-0.8zM160.36 412.37h0.8v0.8h-0.8zM161.99 377.54h0.8v0.8h-0.8zM130.37 401.57h0.8v0.8h-0.8zM139.07 383.4h0.8v0.8h-0.8zM146.05 401.53h0.8v0.8h-0.8zM157.31 405.79h0.8v0.8h-0.8zM175.03 411.29h0.8v0.8h-0.8zM133.72 398.16h0.8v0.8h-0.8zM153.51 367.06h0.8v0.8h-0.8zM158.77 371.67h0.8v0.8h-0.8zM136.71 419.93h0.8v0.8h-0.8zM143.14 414.55h0.8v0.8h-0.8zM144.57 386.93h0.8v0.8h-0.8zM122.09 404.3h0.8v0.8h-0.8zM162.69 402.56h0.8v0.8h-0.8zM154.66 395.24h0.8v0.8h-0.8zM143.08 380.67h0.8v0.8h-0.8zM150.11 379.52h0.8v0.8h-0.8zM151.83 417.83h0.8v0.8h-0.8zM146.29 377.16h0.8v0.8h-0.8zM161.48 412.27h0.8v0.8h-0.8zM136.18 367.89h0.8v0.8h-0.8zM134.98 373.93h0.8v0.8h-0.8zM169.52 418.69h0.8v0.8h-0.8zM149.09 407.67h0.8v0.8h-0.8zM151.36 393.8h0.8v0.8h-0.8zM149.92 399.93h0.8v0.8h-0.8zM157.62 385.19h0.8v0.8h-0.8zM133.96 384.13h0.8v0.8h-0.8zM152.67 369.29h0.8v0.8h-0.8zM126 395.9h0.8v0.8h-0.8zM167.88 415.8h0.8v0.8h-0.8zM169.83 415.6h0.8v0.8h-0.8zM161.29 372.99h0.8v0.8h-0.8zM168.52 375.33h0.8v0.8h-0.8zM138.74 420.77h0.8v0.8h-0.8zM140.94 400.93h0.8v0.8h-0.8zM151.81 408.36h0.8v0.8h-0.8zM139.99 390.33h0.8v0.8h-0.8zM130.39 389.03h0.8v0.8h-0.8zM175.73 413.02h0.8v0.8h-0.8zM153.41 413.9h0.8v0.8h-0.8zM147.34 378.57h0.8v0.8h-0.8zM167.59 403.49h0.8v0.8h-0.8zM156.4 390.43h0.8v0.8h-0.8zM152.65 374.97h0.8v0.8h-0.8zM172.34 401.96h0.8v0.8h-0.8zM126.84 419.71h0.8v0.8h-0.8zM163.15 408.89h0.8v0.8h-0.8zM144.36 385.37h0.8v0.8h-0.8zM148.27 391.92h0.8v0.8h-0.8zM145.26 372.64h0.8v0.8h-0.8zM167.25 410.42h0.8v0.8h-0.8zM135.43 403.17h0.8v0.8h-0.8zM133.03 400.05h0.8v0.8h-0.8zM174.75 400.85h0.8v0.8h-0.8zM143.31 369.3h0.8v0.8h-0.8zM176.93 396.12h0.8v0.8h-0.8zM157.7 411.66h0.8v0.8h-0.8zM168.37 417.7h0.8v0.8h-0.8zM128.14 395.82h0.8v0.8h-0.8zM143.89 369.85h0.8v0.8h-0.8zM133.47 384.19h0.8v0.8h-0.8zM137.44 389.07h0.8v0.8h-0.8zM149.22 412.67h0.8v0.8h-0.8zM124.08 407.9h0.8v0.8h-0.8zM165.11 416.19h0.8v0.8h-0.8zM129.49 412.73h0.8v0.8h-0.8zM152.77 371.93h0.8v0.8h-0.8zM125.42 415.64h0.8v0.8h-0.8zM141.32 369.06h0.8v0.8h-0.8zM127.17 371.67h0.8v0.8h-0.8zM139.32 369.94h0.8v0.8h-0.8zM126.02 379.51h0.8v0.8h-0.8zM146.99 380.87h0.8v0.8h-0.8zM161.25 387.08h0.8v0.8h-0.8zM165.44 382.01h0.8v0.8h-0.8zM134.69 420.18h0.8v0.8h-0.8zM150.88 368.93h0.8v0.8h-0.8zM136.69 395.04h0.8v0.8h-0.8zM152.25 385.51h0.8v0.8h-0.8zM144.9 417.22h0.8v0.8h-0.8zM133.64 376.2h0.8v0.8h-0.8zM130.09 404.92h0.8v0.8h-0.8zM176.88 403.54h0.8v0.8h-0.8zM154.43 378.74h0.8v0.8h-0.8zM145.92 368.13h0.8v0.8h-0.8zM142.24 371.84h0.8v0.8h-0.8zM167.34 396.32h0.8v0.8h-0.8zM159.46 396.14h0.8v0.8h-0.8zM137.05 382.54h0.8v0.8h-0.8zM146.38 394.41h0.8v0.8h-0.8zM140.69 409.12h0.8v0.8h-0.8zM144.49 378.64h0.8v0.8h-0.8zM164.28 399.95h0.8v0.8h-0.8zM173.72 403.1h0.8v0.8h-0.8zM166.83 406.06h0.8v0.8h-0.8zM157.56 412.36h0.8v0.8h-0.8zM151.23 418.99h0.8v0.8h-0.8zM124.95 411h0.8v0.8h-0.8zM134.06 417.44h0.8v0.8h-0.8zM148.23 394.27h0.8v0.8h-0.8zM155.73 415.21h0.8v0.8h-0.8zM168.26 400.91h0.8v0.8h-0.8zM163.25 406.04h0.8v0.8h-0.8zM128.69 405.41h0.8v0.8h-0.8zM132.29 387.23h0.8v0.8h-0.8zM154.75 399.49h0.8v0.8h-0.8zM158.03 396.21h0.8v0.8h-0.8zM134.03 415.59h0.8v0.8h-0.8zM172.77 406h0.8v0.8h-0.8zM130.85 373.2h0.8v0.8h-0.8zM143.91 420.54h0.8v0.8h-0.8zM168.87 378.39h0.8v0.8h-0.8zM132.59 402.52h0.8v0.8h-0.8zM148.67 397.4h0.8v0.8h-0.8zM143.68 366.25h0.8v0.8h-0.8zM166.81 367.24h0.8v0.8h-0.8zM133.44 377.61h0.8v0.8h-0.8zM140.07 373.36h0.8v0.8h-0.8zM144.86 396.81h0.8v0.8h-0.8zM137.9 394.12h0.8v0.8h-0.8zM166.33 379.71h0.8v0.8h-0.8zM155.98 384.51h0.8v0.8h-0.8zM143.8 370.94h0.8v0.8h-0.8zM128.57 378.22h0.8v0.8h-0.8zM146.36 376.62h0.8v0.8h-0.8zM128.5 387.25h0.8v0.8h-0.8zM139.41 368.26h0.8v0.8h-0.8z" fill="#156464" opacity="0.55"/>
<text x="124.5" y="375.7" font-size="8" fill="#fff" text-anchor="start" font-weight="normal" >Sb</text>
<rect x="184.3" y="365.6" width="56.9" height="56.7" fill="#030303"/>
<polygon points="217.2,372.2 226.9,394.6 208.5,410.6 199.1,388.8" fill="#70505c" opacity="0.85" filter="url(#blur06)"/>
<path d="M207.06 386.75h0.8v0.8h-0.8zM208.7 392.72h0.8v0.8h-0.8zM223.93 393.61h0.8v0.8h-0.8zM216.92 399.04h0.8v0.8h-0.8zM206.56 394.68h0.8v0.8h-0.8zM207.46 382.32h0.8v0.8h-0.8zM208.89 391.17h0.8v0.8h-0.8zM206.33 390.56h0.8v0.8h-0.8zM219.36 391.72h0.8v0.8h-0.8zM219.46 383.93h0.8v0.8h-0.8zM212.92 394.59h0.8v0.8h-0.8zM206.96 388.59h0.8v0.8h-0.8zM220.92 395.76h0.8v0.8h-0.8zM217.07 373.74h0.8v0.8h-0.8zM204.96 387.32h0.8v0.8h-0.8zM204.75 391.62h0.8v0.8h-0.8zM222.29 385.17h0.8v0.8h-0.8zM202.51 389.3h0.8v0.8h-0.8zM207.63 398.07h0.8v0.8h-0.8zM214.34 387.59h0.8v0.8h-0.8zM206.92 388.46h0.8v0.8h-0.8zM209.93 406.92h0.8v0.8h-0.8zM217.46 399.34h0.8v0.8h-0.8zM212.52 377.49h0.8v0.8h-0.8zM210.37 394.1h0.8v0.8h-0.8zM205.44 395.28h0.8v0.8h-0.8zM208.25 395.01h0.8v0.8h-0.8zM216.35 393.29h0.8v0.8h-0.8zM216.3 378.89h0.8v0.8h-0.8zM215.93 402.58h0.8v0.8h-0.8zM215.59 378.93h0.8v0.8h-0.8zM226.11 392.91h0.8v0.8h-0.8zM222.61 386.26h0.8v0.8h-0.8zM209.16 392.57h0.8v0.8h-0.8zM214.21 395.64h0.8v0.8h-0.8zM207.7 388.79h0.8v0.8h-0.8zM221.33 389.23h0.8v0.8h-0.8zM205.37 392.85h0.8v0.8h-0.8zM206.48 397.6h0.8v0.8h-0.8zM221.42 398.9h0.8v0.8h-0.8zM210.56 406.8h0.8v0.8h-0.8zM203.83 396.58h0.8v0.8h-0.8zM199.77 390.01h0.8v0.8h-0.8zM207.27 403.46h0.8v0.8h-0.8zM209.45 384.29h0.8v0.8h-0.8zM219.68 394.98h0.8v0.8h-0.8zM204.12 389.8h0.8v0.8h-0.8zM210.7 378.83h0.8v0.8h-0.8zM213.7 396.09h0.8v0.8h-0.8zM215.5 403.96h0.8v0.8h-0.8zM202.61 386.78h0.8v0.8h-0.8zM214.67 384.33h0.8v0.8h-0.8zM217.56 395.26h0.8v0.8h-0.8zM208.18 399.25h0.8v0.8h-0.8zM221.11 385.52h0.8v0.8h-0.8zM224.86 390.74h0.8v0.8h-0.8zM214.44 378.94h0.8v0.8h-0.8zM217.16 397.66h0.8v0.8h-0.8zM220.16 390.18h0.8v0.8h-0.8zM203.52 389.07h0.8v0.8h-0.8zM216.24 396.69h0.8v0.8h-0.8zM218.06 396.65h0.8v0.8h-0.8zM209.23 393.11h0.8v0.8h-0.8zM211.59 382.52h0.8v0.8h-0.8zM217.78 377.92h0.8v0.8h-0.8zM216.65 401.47h0.8v0.8h-0.8zM213.39 394.8h0.8v0.8h-0.8zM208.35 384.48h0.8v0.8h-0.8zM213.65 392.5h0.8v0.8h-0.8zM210.85 383.46h0.8v0.8h-0.8zM207.88 387.72h0.8v0.8h-0.8zM218.78 386.46h0.8v0.8h-0.8zM215.02 386.19h0.8v0.8h-0.8zM217.72 397.27h0.8v0.8h-0.8zM218.12 382.87h0.8v0.8h-0.8zM221.49 393.46h0.8v0.8h-0.8zM219.94 380.51h0.8v0.8h-0.8zM206.5 405.6h0.8v0.8h-0.8zM217.37 386.96h0.8v0.8h-0.8zM200.63 390.92h0.8v0.8h-0.8zM203.83 390.33h0.8v0.8h-0.8zM218.2 397.95h0.8v0.8h-0.8zM210.32 398.63h0.8v0.8h-0.8zM213.35 381.83h0.8v0.8h-0.8zM216.95 373.34h0.8v0.8h-0.8zM217.66 378.5h0.8v0.8h-0.8zM219.57 395h0.8v0.8h-0.8zM217.09 382.66h0.8v0.8h-0.8zM212.04 378.01h0.8v0.8h-0.8zM213.64 405.22h0.8v0.8h-0.8zM210.47 394.01h0.8v0.8h-0.8zM203.28 385.78h0.8v0.8h-0.8zM213.21 401.58h0.8v0.8h-0.8zM222.58 393.08h0.8v0.8h-0.8zM215.98 384.95h0.8v0.8h-0.8zM211.74 386.97h0.8v0.8h-0.8zM203.33 393.6h0.8v0.8h-0.8zM208.76 403.56h0.8v0.8h-0.8zM214.77 383.75h0.8v0.8h-0.8zM206.17 384.95h0.8v0.8h-0.8zM222.75 398.08h0.8v0.8h-0.8zM210.12 380.5h0.8v0.8h-0.8zM208.01 384.2h0.8v0.8h-0.8zM210.26 391.39h0.8v0.8h-0.8zM208.89 382.13h0.8v0.8h-0.8zM202.33 395.98h0.8v0.8h-0.8zM208.97 383.57h0.8v0.8h-0.8zM214.5 393.38h0.8v0.8h-0.8zM209.34 394.74h0.8v0.8h-0.8zM209.58 390.12h0.8v0.8h-0.8zM218.28 386.45h0.8v0.8h-0.8zM215.06 400.65h0.8v0.8h-0.8zM219.29 394.1h0.8v0.8h-0.8zM221.61 398.69h0.8v0.8h-0.8zM216.91 386.02h0.8v0.8h-0.8zM211.2 388.94h0.8v0.8h-0.8zM213.34 405.55h0.8v0.8h-0.8zM207.58 389.97h0.8v0.8h-0.8zM214.78 392.57h0.8v0.8h-0.8zM207.75 387.32h0.8v0.8h-0.8zM213.46 386.57h0.8v0.8h-0.8zM207.33 398.45h0.8v0.8h-0.8zM219.3 377.87h0.8v0.8h-0.8zM203.4 391.76h0.8v0.8h-0.8zM221.53 390.53h0.8v0.8h-0.8zM224.27 393.39h0.8v0.8h-0.8zM212.33 387.47h0.8v0.8h-0.8zM207.41 400.88h0.8v0.8h-0.8zM207.2 399.03h0.8v0.8h-0.8zM214.79 400.8h0.8v0.8h-0.8zM204.6 387.19h0.8v0.8h-0.8zM221.39 393.45h0.8v0.8h-0.8zM207.46 393.05h0.8v0.8h-0.8zM206.88 394.64h0.8v0.8h-0.8zM210.47 407.48h0.8v0.8h-0.8zM212.82 377.69h0.8v0.8h-0.8zM212.09 405.5h0.8v0.8h-0.8zM223.83 389.08h0.8v0.8h-0.8zM217.31 402.55h0.8v0.8h-0.8zM209.18 406.15h0.8v0.8h-0.8zM204.12 389.35h0.8v0.8h-0.8zM209.2 407.83h0.8v0.8h-0.8zM214.37 379.87h0.8v0.8h-0.8zM207.46 395.23h0.8v0.8h-0.8zM210.31 408.57h0.8v0.8h-0.8zM207.72 395.89h0.8v0.8h-0.8zM213.55 396.29h0.8v0.8h-0.8zM216.2 381.11h0.8v0.8h-0.8zM218.74 400.22h0.8v0.8h-0.8zM207.54 399.1h0.8v0.8h-0.8zM223.44 393.49h0.8v0.8h-0.8zM206.33 394.05h0.8v0.8h-0.8zM204.21 390.91h0.8v0.8h-0.8zM211.78 399.3h0.8v0.8h-0.8zM208.38 409.39h0.8v0.8h-0.8zM219.25 389.63h0.8v0.8h-0.8zM202.55 393.11h0.8v0.8h-0.8zM212.49 377.64h0.8v0.8h-0.8zM204.76 393.34h0.8v0.8h-0.8zM213.64 390.4h0.8v0.8h-0.8zM206.11 396.9h0.8v0.8h-0.8zM209.47 406.2h0.8v0.8h-0.8zM221.47 384.12h0.8v0.8h-0.8zM211.35 397.12h0.8v0.8h-0.8zM211.84 389.3h0.8v0.8h-0.8z" fill="#a87684"/>
<path d="M212.93 386.85h0.8v0.8h-0.8zM214.47 381.96h0.8v0.8h-0.8zM204.81 385.11h0.8v0.8h-0.8zM208.48 406.98h0.8v0.8h-0.8zM214.55 403.29h0.8v0.8h-0.8zM212.28 388.27h0.8v0.8h-0.8zM220.14 386.81h0.8v0.8h-0.8zM207.72 385.5h0.8v0.8h-0.8zM210.63 385.1h0.8v0.8h-0.8zM218.43 390.64h0.8v0.8h-0.8zM212.44 387.42h0.8v0.8h-0.8zM215.13 403.01h0.8v0.8h-0.8zM213.52 396.22h0.8v0.8h-0.8zM223.66 397.19h0.8v0.8h-0.8zM204.48 385.82h0.8v0.8h-0.8zM219.56 400.13h0.8v0.8h-0.8zM209.9 396.94h0.8v0.8h-0.8zM217.25 383.01h0.8v0.8h-0.8zM219.53 384.04h0.8v0.8h-0.8zM209.19 396.79h0.8v0.8h-0.8zM211.37 390.51h0.8v0.8h-0.8zM202.92 395.23h0.8v0.8h-0.8zM211.08 393.03h0.8v0.8h-0.8zM213.99 378.34h0.8v0.8h-0.8zM222.7 388.22h0.8v0.8h-0.8zM217.77 401.56h0.8v0.8h-0.8zM213.3 383.66h0.8v0.8h-0.8zM217.47 401.3h0.8v0.8h-0.8zM215.92 382.5h0.8v0.8h-0.8zM203.8 384.6h0.8v0.8h-0.8zM214.29 400.46h0.8v0.8h-0.8zM207.22 402.91h0.8v0.8h-0.8zM222.8 388.01h0.8v0.8h-0.8zM220.21 398.3h0.8v0.8h-0.8zM210.42 394.79h0.8v0.8h-0.8zM205.28 384.22h0.8v0.8h-0.8zM203.29 393.46h0.8v0.8h-0.8zM221.28 384.32h0.8v0.8h-0.8zM216.03 397.65h0.8v0.8h-0.8zM202.94 385.55h0.8v0.8h-0.8zM213.97 394.59h0.8v0.8h-0.8zM216.84 395.65h0.8v0.8h-0.8zM216.1 400.61h0.8v0.8h-0.8zM207.97 387.22h0.8v0.8h-0.8zM217.33 397.55h0.8v0.8h-0.8zM208.55 387.1h0.8v0.8h-0.8zM207.65 388.44h0.8v0.8h-0.8zM206.28 387.1h0.8v0.8h-0.8zM212.28 403.1h0.8v0.8h-0.8zM206.1 386.63h0.8v0.8h-0.8zM222.32 384.52h0.8v0.8h-0.8zM214.31 405.09h0.8v0.8h-0.8zM220.49 387.25h0.8v0.8h-0.8zM207.37 394.07h0.8v0.8h-0.8zM220.78 394.68h0.8v0.8h-0.8zM208.34 403.85h0.8v0.8h-0.8zM204.25 397.94h0.8v0.8h-0.8zM221.53 398.92h0.8v0.8h-0.8zM220.81 395.82h0.8v0.8h-0.8zM208.54 406.56h0.8v0.8h-0.8zM220.05 397.23h0.8v0.8h-0.8zM219.8 397.32h0.8v0.8h-0.8zM212.21 378.24h0.8v0.8h-0.8zM202.48 387.91h0.8v0.8h-0.8zM209.22 387.39h0.8v0.8h-0.8zM222.72 388.8h0.8v0.8h-0.8zM212.41 391.85h0.8v0.8h-0.8zM216.79 373.46h0.8v0.8h-0.8zM209.45 389.35h0.8v0.8h-0.8zM214.65 405.06h0.8v0.8h-0.8zM224.61 390.64h0.8v0.8h-0.8zM217.92 392.5h0.8v0.8h-0.8zM215.59 385.17h0.8v0.8h-0.8zM204.65 392.3h0.8v0.8h-0.8zM213.26 401.11h0.8v0.8h-0.8zM213.72 394.17h0.8v0.8h-0.8zM222.53 396.96h0.8v0.8h-0.8zM219.66 387.44h0.8v0.8h-0.8zM222.32 393.76h0.8v0.8h-0.8zM219.9 396.94h0.8v0.8h-0.8zM208.51 384.54h0.8v0.8h-0.8zM205.69 390.28h0.8v0.8h-0.8zM207.92 408.06h0.8v0.8h-0.8zM222.89 387.75h0.8v0.8h-0.8zM218.74 389.06h0.8v0.8h-0.8zM217.34 384.24h0.8v0.8h-0.8zM220.58 389h0.8v0.8h-0.8zM222.42 384.74h0.8v0.8h-0.8zM201.94 388.29h0.8v0.8h-0.8zM218.2 381.68h0.8v0.8h-0.8zM217.67 374.51h0.8v0.8h-0.8zM203.33 386.17h0.8v0.8h-0.8zM214.43 378.31h0.8v0.8h-0.8zM222.27 386.48h0.8v0.8h-0.8zM221.51 384.24h0.8v0.8h-0.8zM207.33 388h0.8v0.8h-0.8zM204.82 389.86h0.8v0.8h-0.8zM214.62 390.29h0.8v0.8h-0.8zM216.34 391.03h0.8v0.8h-0.8zM210.43 403.77h0.8v0.8h-0.8zM209.29 383.8h0.8v0.8h-0.8zM208.65 381.59h0.8v0.8h-0.8zM205.04 397.4h0.8v0.8h-0.8zM209.35 407.29h0.8v0.8h-0.8zM221.09 398.77h0.8v0.8h-0.8zM222.26 395.21h0.8v0.8h-0.8zM217.38 379.31h0.8v0.8h-0.8zM214 394.76h0.8v0.8h-0.8zM209.94 406.12h0.8v0.8h-0.8zM202.67 388.51h0.8v0.8h-0.8zM214.9 392.75h0.8v0.8h-0.8zM215.73 383.71h0.8v0.8h-0.8zM208.26 408.98h0.8v0.8h-0.8zM221.72 392.15h0.8v0.8h-0.8zM199.46 388.82h0.8v0.8h-0.8zM201.92 386.99h0.8v0.8h-0.8zM216.27 399.21h0.8v0.8h-0.8zM223.32 390.82h0.8v0.8h-0.8zM218.86 380.81h0.8v0.8h-0.8zM205.4 393.34h0.8v0.8h-0.8zM218.57 382.1h0.8v0.8h-0.8zM208.89 398.85h0.8v0.8h-0.8zM210.71 381.79h0.8v0.8h-0.8zM207.24 402.99h0.8v0.8h-0.8zM221.2 394.21h0.8v0.8h-0.8zM218.78 376.89h0.8v0.8h-0.8zM203.91 399.06h0.8v0.8h-0.8zM206.23 390.74h0.8v0.8h-0.8zM211.77 391.41h0.8v0.8h-0.8zM219.29 382.38h0.8v0.8h-0.8zM214.06 404.07h0.8v0.8h-0.8zM208.93 382.67h0.8v0.8h-0.8zM218.56 386.81h0.8v0.8h-0.8zM219.9 392.49h0.8v0.8h-0.8zM222.75 396.03h0.8v0.8h-0.8zM222.72 395.87h0.8v0.8h-0.8zM223.31 388.58h0.8v0.8h-0.8zM213.11 399.3h0.8v0.8h-0.8zM210.72 405.32h0.8v0.8h-0.8zM206.26 399.77h0.8v0.8h-0.8zM224.64 394.52h0.8v0.8h-0.8zM208.12 394.04h0.8v0.8h-0.8zM222.49 396.31h0.8v0.8h-0.8zM207.37 399.38h0.8v0.8h-0.8zM219.56 393.96h0.8v0.8h-0.8zM210.82 390.26h0.8v0.8h-0.8zM214.1 401.36h0.8v0.8h-0.8zM218.08 389.28h0.8v0.8h-0.8zM222.16 394.79h0.8v0.8h-0.8zM202.31 393.78h0.8v0.8h-0.8zM219.03 390.37h0.8v0.8h-0.8zM209.12 400.56h0.8v0.8h-0.8zM207.82 389.56h0.8v0.8h-0.8zM206.12 400.83h0.8v0.8h-0.8zM211.68 382.91h0.8v0.8h-0.8zM219.87 380.84h0.8v0.8h-0.8zM217.35 374.71h0.8v0.8h-0.8zM205.69 383.19h0.8v0.8h-0.8zM215.49 401.09h0.8v0.8h-0.8zM211.27 379.33h0.8v0.8h-0.8zM219.16 390.01h0.8v0.8h-0.8zM219.05 393.52h0.8v0.8h-0.8zM202.06 388.58h0.8v0.8h-0.8zM217.38 388.24h0.8v0.8h-0.8zM207.87 389.75h0.8v0.8h-0.8zM208.81 402.56h0.8v0.8h-0.8zM203.56 398.91h0.8v0.8h-0.8z" fill="#8c5e6c"/>
<path d="M209.43 403.4h0.8v0.8h-0.8zM217.97 380.9h0.8v0.8h-0.8zM216.7 373.6h0.8v0.8h-0.8zM208.99 391.27h0.8v0.8h-0.8zM213.56 397.87h0.8v0.8h-0.8zM224.81 395.99h0.8v0.8h-0.8zM224.47 394.79h0.8v0.8h-0.8zM207.15 403.25h0.8v0.8h-0.8zM219.98 398.5h0.8v0.8h-0.8zM213.82 375.61h0.8v0.8h-0.8zM214.46 404.97h0.8v0.8h-0.8zM206.29 393.62h0.8v0.8h-0.8zM205.96 389.14h0.8v0.8h-0.8zM215.22 397.78h0.8v0.8h-0.8zM204 392.52h0.8v0.8h-0.8zM204.81 398.71h0.8v0.8h-0.8zM216.76 383.29h0.8v0.8h-0.8zM211.34 393.77h0.8v0.8h-0.8zM209.51 388.53h0.8v0.8h-0.8zM217.43 399.12h0.8v0.8h-0.8zM208.36 389.2h0.8v0.8h-0.8zM220.8 383.52h0.8v0.8h-0.8zM209.61 397.77h0.8v0.8h-0.8zM222.42 397.87h0.8v0.8h-0.8zM209.89 400.91h0.8v0.8h-0.8zM216.4 380.87h0.8v0.8h-0.8zM203.81 395.78h0.8v0.8h-0.8zM203.65 386.32h0.8v0.8h-0.8zM200.4 388.03h0.8v0.8h-0.8zM219.35 399.1h0.8v0.8h-0.8zM218 400.33h0.8v0.8h-0.8zM205.34 394.3h0.8v0.8h-0.8zM212.27 378.69h0.8v0.8h-0.8zM205.76 397.69h0.8v0.8h-0.8zM215.56 403.75h0.8v0.8h-0.8zM215.72 404.12h0.8v0.8h-0.8zM217.25 389.66h0.8v0.8h-0.8zM212.8 393.57h0.8v0.8h-0.8zM214.34 403.78h0.8v0.8h-0.8zM215.33 384.43h0.8v0.8h-0.8zM203.19 390.86h0.8v0.8h-0.8zM216.57 387.92h0.8v0.8h-0.8zM206.54 399.95h0.8v0.8h-0.8zM209.77 407.08h0.8v0.8h-0.8zM215.93 391.8h0.8v0.8h-0.8zM217.94 376.82h0.8v0.8h-0.8zM215.82 379.92h0.8v0.8h-0.8zM224.17 396.39h0.8v0.8h-0.8zM211.27 396.79h0.8v0.8h-0.8zM218.3 388.52h0.8v0.8h-0.8zM212.3 380.92h0.8v0.8h-0.8zM211.12 390.66h0.8v0.8h-0.8zM202.87 396.76h0.8v0.8h-0.8zM220.03 394.39h0.8v0.8h-0.8zM214.9 398.07h0.8v0.8h-0.8zM208.43 390.79h0.8v0.8h-0.8zM204.6 388.27h0.8v0.8h-0.8zM210.23 389.78h0.8v0.8h-0.8zM219.09 401.07h0.8v0.8h-0.8zM204.62 397.78h0.8v0.8h-0.8zM208.64 396.25h0.8v0.8h-0.8zM211.69 382.7h0.8v0.8h-0.8zM206.35 387.27h0.8v0.8h-0.8zM212.4 389.05h0.8v0.8h-0.8zM214.55 399.25h0.8v0.8h-0.8zM200.33 390.26h0.8v0.8h-0.8zM218.85 379.91h0.8v0.8h-0.8zM212.83 400.25h0.8v0.8h-0.8zM215.95 376.01h0.8v0.8h-0.8zM203.1 390.13h0.8v0.8h-0.8zM202.58 394.42h0.8v0.8h-0.8zM210.1 379.47h0.8v0.8h-0.8zM201.59 393.25h0.8v0.8h-0.8zM204.87 399.22h0.8v0.8h-0.8zM223.03 391.13h0.8v0.8h-0.8zM206.65 382.12h0.8v0.8h-0.8zM217.54 382.41h0.8v0.8h-0.8zM209.53 383.29h0.8v0.8h-0.8zM211.16 400.27h0.8v0.8h-0.8zM206.15 391.73h0.8v0.8h-0.8zM212.29 403.24h0.8v0.8h-0.8zM211.45 389.71h0.8v0.8h-0.8zM208.79 401.3h0.8v0.8h-0.8zM209.06 407.41h0.8v0.8h-0.8zM210.94 389.12h0.8v0.8h-0.8zM214.43 399.33h0.8v0.8h-0.8zM206.61 386.94h0.8v0.8h-0.8zM212.33 393.67h0.8v0.8h-0.8zM217.77 383.61h0.8v0.8h-0.8zM210.46 390.89h0.8v0.8h-0.8zM218.81 395.94h0.8v0.8h-0.8zM214.88 374.73h0.8v0.8h-0.8zM211.29 382.29h0.8v0.8h-0.8zM205.5 385.37h0.8v0.8h-0.8zM219.84 398.44h0.8v0.8h-0.8zM223.18 389.92h0.8v0.8h-0.8zM205.54 387.21h0.8v0.8h-0.8zM210.09 392.12h0.8v0.8h-0.8zM205.4 401.67h0.8v0.8h-0.8zM216.91 389.32h0.8v0.8h-0.8zM220.74 388.03h0.8v0.8h-0.8zM208.24 381.91h0.8v0.8h-0.8zM210.18 385.81h0.8v0.8h-0.8zM213.1 397.78h0.8v0.8h-0.8zM205.87 398.26h0.8v0.8h-0.8zM220.12 380.81h0.8v0.8h-0.8zM208.44 404.95h0.8v0.8h-0.8zM211.18 408.18h0.8v0.8h-0.8zM210.28 385.86h0.8v0.8h-0.8zM218.89 386.32h0.8v0.8h-0.8zM220.68 383h0.8v0.8h-0.8zM214.37 376.3h0.8v0.8h-0.8zM219 392.14h0.8v0.8h-0.8zM211.15 386.44h0.8v0.8h-0.8zM208.97 399.43h0.8v0.8h-0.8zM210.04 390.55h0.8v0.8h-0.8zM209.4 385.25h0.8v0.8h-0.8zM212.99 397.34h0.8v0.8h-0.8zM225.84 392.76h0.8v0.8h-0.8zM216.29 402.6h0.8v0.8h-0.8zM222.76 385.39h0.8v0.8h-0.8zM213.26 396.14h0.8v0.8h-0.8zM217.21 399.49h0.8v0.8h-0.8zM212.8 376.74h0.8v0.8h-0.8zM209.19 380.79h0.8v0.8h-0.8zM214.72 374.66h0.8v0.8h-0.8zM212.63 398.17h0.8v0.8h-0.8zM212.09 395.21h0.8v0.8h-0.8zM204.83 398.15h0.8v0.8h-0.8zM203.12 392.79h0.8v0.8h-0.8zM210.75 383.77h0.8v0.8h-0.8zM211.59 400.52h0.8v0.8h-0.8zM221.47 396.18h0.8v0.8h-0.8zM223.01 395.32h0.8v0.8h-0.8zM220.05 397.11h0.8v0.8h-0.8zM211.97 389.25h0.8v0.8h-0.8zM216.49 374.75h0.8v0.8h-0.8zM209.48 382.88h0.8v0.8h-0.8zM215.35 402.83h0.8v0.8h-0.8zM219.15 377.2h0.8v0.8h-0.8zM217.35 388.54h0.8v0.8h-0.8zM219.98 397.86h0.8v0.8h-0.8zM212.08 389.72h0.8v0.8h-0.8zM223.17 391.15h0.8v0.8h-0.8zM217.47 387.43h0.8v0.8h-0.8zM219.01 394.63h0.8v0.8h-0.8zM215.57 377.76h0.8v0.8h-0.8zM219.34 391.48h0.8v0.8h-0.8zM218.64 398.86h0.8v0.8h-0.8zM219.36 392.54h0.8v0.8h-0.8zM216.44 387.17h0.8v0.8h-0.8zM219.01 377.9h0.8v0.8h-0.8zM204.52 400.68h0.8v0.8h-0.8zM223.1 397.75h0.8v0.8h-0.8zM214.63 387.22h0.8v0.8h-0.8zM200.71 389.4h0.8v0.8h-0.8zM214.62 395.24h0.8v0.8h-0.8zM208.11 387.7h0.8v0.8h-0.8zM211.89 402.58h0.8v0.8h-0.8zM210.51 399.07h0.8v0.8h-0.8zM216.11 390.5h0.8v0.8h-0.8zM210.05 382.29h0.8v0.8h-0.8zM222.85 392.08h0.8v0.8h-0.8zM204.64 392.76h0.8v0.8h-0.8zM212.73 397.87h0.8v0.8h-0.8zM208.62 402.34h0.8v0.8h-0.8zM207.05 404.81h0.8v0.8h-0.8z" fill="#c08c9a"/>
<path d="M217.28 396.96h0.8v0.8h-0.8zM210.88 391.92h0.8v0.8h-0.8zM211 399.64h0.8v0.8h-0.8zM206.1 385.35h0.8v0.8h-0.8zM208.46 402.12h0.8v0.8h-0.8zM217.1 374.17h0.8v0.8h-0.8zM215.87 390.67h0.8v0.8h-0.8zM205.79 384.04h0.8v0.8h-0.8zM209.99 383.3h0.8v0.8h-0.8zM211.25 403.15h0.8v0.8h-0.8zM208.36 405.48h0.8v0.8h-0.8zM215.25 394.94h0.8v0.8h-0.8zM208.83 391.82h0.8v0.8h-0.8zM207.18 385.26h0.8v0.8h-0.8zM211.49 394.81h0.8v0.8h-0.8zM208.05 386.35h0.8v0.8h-0.8zM217.33 376.88h0.8v0.8h-0.8zM207.58 383.45h0.8v0.8h-0.8zM217.77 379.58h0.8v0.8h-0.8zM207.75 381.01h0.8v0.8h-0.8zM213.51 400.86h0.8v0.8h-0.8zM211.95 392.15h0.8v0.8h-0.8zM204.6 397.69h0.8v0.8h-0.8zM211.19 391.73h0.8v0.8h-0.8zM218.83 382.75h0.8v0.8h-0.8zM205.23 388.76h0.8v0.8h-0.8zM219.03 385.21h0.8v0.8h-0.8zM209.22 398.52h0.8v0.8h-0.8zM214.59 380.86h0.8v0.8h-0.8zM212.28 400.39h0.8v0.8h-0.8zM215.1 402.62h0.8v0.8h-0.8zM200.8 391.22h0.8v0.8h-0.8zM210.49 405.66h0.8v0.8h-0.8zM211.38 403.58h0.8v0.8h-0.8zM203.96 386.65h0.8v0.8h-0.8zM210.58 391.28h0.8v0.8h-0.8zM208.48 386.78h0.8v0.8h-0.8zM200.2 390.23h0.8v0.8h-0.8zM220.49 385.18h0.8v0.8h-0.8zM206.23 389.11h0.8v0.8h-0.8zM211.82 378.46h0.8v0.8h-0.8zM207.37 392.34h0.8v0.8h-0.8zM202.94 395.22h0.8v0.8h-0.8zM211.54 378.74h0.8v0.8h-0.8zM216.57 393.71h0.8v0.8h-0.8zM213.38 399.25h0.8v0.8h-0.8zM215.95 403.93h0.8v0.8h-0.8zM222.61 395.56h0.8v0.8h-0.8zM213.7 375.71h0.8v0.8h-0.8zM226.16 395.08h0.8v0.8h-0.8zM220.44 386.18h0.8v0.8h-0.8zM217.11 402.33h0.8v0.8h-0.8zM209.5 402.87h0.8v0.8h-0.8zM208.3 388.44h0.8v0.8h-0.8zM215.14 383.49h0.8v0.8h-0.8zM203.69 391.16h0.8v0.8h-0.8zM202.05 395.15h0.8v0.8h-0.8zM221.78 391.27h0.8v0.8h-0.8zM209.27 399.52h0.8v0.8h-0.8zM212.29 389.3h0.8v0.8h-0.8zM224.72 395.13h0.8v0.8h-0.8zM221.71 393.97h0.8v0.8h-0.8zM216.73 392.8h0.8v0.8h-0.8zM210.94 399.3h0.8v0.8h-0.8zM212.79 400.44h0.8v0.8h-0.8zM219.82 391.16h0.8v0.8h-0.8zM210.42 379.15h0.8v0.8h-0.8zM215.62 392.61h0.8v0.8h-0.8zM210.48 408.86h0.8v0.8h-0.8zM206.57 384.06h0.8v0.8h-0.8zM205.1 388.95h0.8v0.8h-0.8zM214.17 376.51h0.8v0.8h-0.8zM209.1 404.28h0.8v0.8h-0.8zM210.43 385.6h0.8v0.8h-0.8zM202.98 394.7h0.8v0.8h-0.8zM213.96 390.44h0.8v0.8h-0.8zM205.81 391.31h0.8v0.8h-0.8zM212.86 392.7h0.8v0.8h-0.8zM215.11 384.93h0.8v0.8h-0.8zM222.95 392.9h0.8v0.8h-0.8zM206.9 404.23h0.8v0.8h-0.8zM219 400.05h0.8v0.8h-0.8zM216.73 384.27h0.8v0.8h-0.8zM224.66 394.16h0.8v0.8h-0.8zM223.32 391.36h0.8v0.8h-0.8zM209.12 405.82h0.8v0.8h-0.8zM211.61 398.61h0.8v0.8h-0.8zM202.95 389.91h0.8v0.8h-0.8zM218.01 391.02h0.8v0.8h-0.8zM210.21 406.49h0.8v0.8h-0.8zM218.78 384.68h0.8v0.8h-0.8zM210.1 397.67h0.8v0.8h-0.8zM212.28 382.15h0.8v0.8h-0.8zM224.35 388.79h0.8v0.8h-0.8zM219.05 393.85h0.8v0.8h-0.8zM218.22 377.5h0.8v0.8h-0.8zM210.02 409.25h0.8v0.8h-0.8zM211.3 378.22h0.8v0.8h-0.8zM214.32 392.4h0.8v0.8h-0.8zM207.62 393.79h0.8v0.8h-0.8zM212.33 397.92h0.8v0.8h-0.8zM216.58 388.62h0.8v0.8h-0.8zM214.1 387.79h0.8v0.8h-0.8zM202.19 390.12h0.8v0.8h-0.8zM206.76 388.25h0.8v0.8h-0.8zM222.3 386.6h0.8v0.8h-0.8zM208.38 390.39h0.8v0.8h-0.8zM219.33 400.06h0.8v0.8h-0.8zM206.72 399.86h0.8v0.8h-0.8zM209.59 379.87h0.8v0.8h-0.8zM207.84 393.14h0.8v0.8h-0.8zM218.59 392.68h0.8v0.8h-0.8zM216.7 399.39h0.8v0.8h-0.8zM221.81 384.04h0.8v0.8h-0.8zM224.95 392.28h0.8v0.8h-0.8zM220.09 390.98h0.8v0.8h-0.8zM206.72 395.05h0.8v0.8h-0.8zM211.96 405.92h0.8v0.8h-0.8zM219.41 385.51h0.8v0.8h-0.8zM219.42 384.99h0.8v0.8h-0.8zM204.18 395.71h0.8v0.8h-0.8zM209.46 390.96h0.8v0.8h-0.8zM215.84 395.02h0.8v0.8h-0.8zM212 393.3h0.8v0.8h-0.8zM222.33 392.37h0.8v0.8h-0.8zM209.01 383.3h0.8v0.8h-0.8zM214.17 375.11h0.8v0.8h-0.8zM218.16 395.28h0.8v0.8h-0.8zM215.16 401.16h0.8v0.8h-0.8zM204.65 389.98h0.8v0.8h-0.8zM219.58 388.47h0.8v0.8h-0.8zM213.04 386.18h0.8v0.8h-0.8zM214.1 390.14h0.8v0.8h-0.8zM218.84 380.53h0.8v0.8h-0.8zM215.92 399.93h0.8v0.8h-0.8zM209.73 383.7h0.8v0.8h-0.8zM210.68 384.23h0.8v0.8h-0.8zM206.31 392.17h0.8v0.8h-0.8zM215.47 375.98h0.8v0.8h-0.8zM217.28 400.74h0.8v0.8h-0.8zM207 388.53h0.8v0.8h-0.8zM215.49 373.96h0.8v0.8h-0.8zM214.59 401.76h0.8v0.8h-0.8zM217.92 392.77h0.8v0.8h-0.8zM219.19 398.75h0.8v0.8h-0.8zM205.99 398.17h0.8v0.8h-0.8zM215.17 387.93h0.8v0.8h-0.8zM203.59 391.48h0.8v0.8h-0.8zM207.85 394.03h0.8v0.8h-0.8zM201.93 389.56h0.8v0.8h-0.8zM203.06 393.77h0.8v0.8h-0.8z" fill="#724c58"/>
<path d="M201.72 384.2h0.8v0.8h-0.8zM233.66 376.82h0.8v0.8h-0.8zM198.01 397.85h0.8v0.8h-0.8zM232.89 405.42h0.8v0.8h-0.8zM234.51 417.8h0.8v0.8h-0.8zM195.99 392.71h0.8v0.8h-0.8zM227.87 404.76h0.8v0.8h-0.8zM214.61 375.03h0.8v0.8h-0.8zM216.23 388.86h0.8v0.8h-0.8zM203.29 392.13h0.8v0.8h-0.8zM202 382.01h0.8v0.8h-0.8zM214.63 371.96h0.8v0.8h-0.8zM203.97 407.09h0.8v0.8h-0.8zM232.17 402.89h0.8v0.8h-0.8zM214.09 412.15h0.8v0.8h-0.8zM197.41 386.59h0.8v0.8h-0.8zM196.75 413.67h0.8v0.8h-0.8zM223.28 408.03h0.8v0.8h-0.8zM227.41 379.64h0.8v0.8h-0.8zM205.06 409.64h0.8v0.8h-0.8zM186.98 400.26h0.8v0.8h-0.8zM229.65 412h0.8v0.8h-0.8zM227.8 401.51h0.8v0.8h-0.8zM206.46 416.05h0.8v0.8h-0.8zM188.91 381.34h0.8v0.8h-0.8zM214.38 393.7h0.8v0.8h-0.8zM194.32 380.19h0.8v0.8h-0.8zM238.04 393.29h0.8v0.8h-0.8zM207.28 404.23h0.8v0.8h-0.8zM238.11 381.7h0.8v0.8h-0.8zM213.79 382.66h0.8v0.8h-0.8zM237.31 395.71h0.8v0.8h-0.8zM228.16 397.76h0.8v0.8h-0.8zM187.21 388.79h0.8v0.8h-0.8zM196.74 413.05h0.8v0.8h-0.8zM239.21 402.92h0.8v0.8h-0.8zM191.98 370.77h0.8v0.8h-0.8zM207.77 416.52h0.8v0.8h-0.8zM197.79 404.83h0.8v0.8h-0.8zM189.07 415.78h0.8v0.8h-0.8zM191.97 387.19h0.8v0.8h-0.8zM213.94 393.84h0.8v0.8h-0.8zM227.04 369.66h0.8v0.8h-0.8zM220.1 414.89h0.8v0.8h-0.8zM205.22 394.32h0.8v0.8h-0.8zM188.34 419.85h0.8v0.8h-0.8zM229.33 392.04h0.8v0.8h-0.8zM209.4 369.58h0.8v0.8h-0.8zM214.18 381.83h0.8v0.8h-0.8zM217.17 376.01h0.8v0.8h-0.8zM185.36 395.96h0.8v0.8h-0.8zM239.29 376.75h0.8v0.8h-0.8zM185.49 417.88h0.8v0.8h-0.8zM230.94 384.12h0.8v0.8h-0.8zM203.44 381h0.8v0.8h-0.8zM233.02 408.32h0.8v0.8h-0.8zM186.53 379.86h0.8v0.8h-0.8zM233.79 366.59h0.8v0.8h-0.8zM229.74 398.61h0.8v0.8h-0.8zM220.14 377.14h0.8v0.8h-0.8zM211.19 387.57h0.8v0.8h-0.8zM211.33 394.94h0.8v0.8h-0.8zM229.77 403.86h0.8v0.8h-0.8zM222.76 387.45h0.8v0.8h-0.8zM209.41 396h0.8v0.8h-0.8zM226.45 380.53h0.8v0.8h-0.8zM237.37 399.49h0.8v0.8h-0.8zM205.8 390.28h0.8v0.8h-0.8zM222.62 419.23h0.8v0.8h-0.8zM232.35 367.82h0.8v0.8h-0.8zM218.18 380.42h0.8v0.8h-0.8zM239.63 411.96h0.8v0.8h-0.8zM223.37 416.22h0.8v0.8h-0.8zM210.06 397.17h0.8v0.8h-0.8zM236.94 412.52h0.8v0.8h-0.8zM200.01 394.59h0.8v0.8h-0.8zM232.84 411.86h0.8v0.8h-0.8zM208.22 417.28h0.8v0.8h-0.8zM220.51 420.29h0.8v0.8h-0.8zM213.49 384.35h0.8v0.8h-0.8zM191.24 408.41h0.8v0.8h-0.8zM222.24 391.66h0.8v0.8h-0.8zM198.36 408.94h0.8v0.8h-0.8zM201.44 410.01h0.8v0.8h-0.8zM196.39 377.81h0.8v0.8h-0.8zM233.39 407.19h0.8v0.8h-0.8zM207.49 375.02h0.8v0.8h-0.8zM229.69 382.31h0.8v0.8h-0.8zM209.95 368.87h0.8v0.8h-0.8zM189.18 373.64h0.8v0.8h-0.8z" fill="#a87684" opacity="0.35"/>
<text x="187.5" y="375.7" font-size="8" fill="#fff" text-anchor="start" font-weight="normal" >Cl</text>
<g filter="url(#blur06)"><polygon points="154.4,249.2 163.3,268.6 142.9,284.9 134.2,264.4" fill="url(#semG)" stroke="#8e8e8e" stroke-width="0.9"/><polygon points="153.6,253.2 160,268 144.2,280.6 137.6,265" fill="none" stroke="#8a8a8a" stroke-width="0.7"/><path d="M153.6 253.2L148.6 267.4L144.2 280.6M137.6 265L148.6 267.4L160 268" stroke="#858585" stroke-width="0.6" fill="none"/><path d="M154.4 249.2L163.3 268.6" stroke="#a8a8a8" stroke-width="0.9" fill="none"/></g>
<path d="M146 262.4h.8v.8h-.8zM150.6 259.8h.8v.8h-.8zM143.2 270.6h.8v.8h-.8zM152 266.2h.8v.8h-.8zM147.6 273.8h.8v.8h-.8zM149.8 256.4h.8v.8h-.8z" fill="#cfcfcf"/>
<text x="163.5" y="288.1" font-size="7.6" fill="#fff" text-anchor="middle" font-weight="normal" >50 µm</text>
<rect x="153.3" y="293" width="20.7" height="1.8" fill="#fff"/>
</g>
<g id="panelG">
<rect x="279.5" y="239.1" width="164.1" height="164.5" fill="#fff" stroke="#808080" stroke-width="0.8"/>
<path d="M279.4 403.6v3.2M334.13 403.6v3.2M388.87 403.6v3.2M443.6 403.6v3.2M306.77 403.6v1.8M361.5 403.6v1.8M416.23 403.6v1.8" stroke="#808080" stroke-width="0.8" fill="none"/>
<text x="279.4" y="420.7" font-size="10" fill="#111" text-anchor="middle" font-weight="normal" >0</text>
<text x="334.13" y="420.7" font-size="10" fill="#111" text-anchor="middle" font-weight="normal" >300</text>
<text x="388.87" y="420.7" font-size="10" fill="#111" text-anchor="middle" font-weight="normal" >600</text>
<text x="443.6" y="420.7" font-size="10" fill="#111" text-anchor="middle" font-weight="normal" >900</text>
<text x="363" y="437.8" font-size="10.6" fill="#111" text-anchor="middle" font-weight="normal" >Binding energy (eV)</text>
<text x="0" y="0" font-size="10.2" fill="#111" text-anchor="middle" font-weight="normal" transform="translate(268.6 321.3) rotate(-90)">Intensity</text>
<path d="M279.4 347.41L279.49 347.41L279.58 347.15L279.67 347.65L279.76 347.2L279.86 347.74L279.95 347.4L280.04 347.4L280.13 347.09L280.22 347.34L280.31 347.46L280.4 347.02L280.49 346.96L280.59 347.46L280.68 347.14L280.77 347.39L280.86 347.25L280.95 347.22L281.04 347.55L281.13 347.25L281.22 347.49L281.32 347.46L281.41 347.34L281.5 347.67L281.59 347.55L281.68 347.17L281.77 347.07L281.86 347.02L281.95 347.3L282.05 347.04L282.14 346.84L282.23 346.92L282.32 347.47L282.41 347.54L282.5 347.06L282.59 346.87L282.68 347.14L282.78 346.92L282.87 347.07L282.96 347.07L283.05 347.04L283.14 347.05L283.23 347.19L283.32 346.68L283.41 346.88L283.5 347.2L283.6 347.13L283.69 347.29L283.78 346.95L283.87 347.36L283.96 347.11L284.05 346.87L284.14 346.9L284.23 346.89L284.33 347.27L284.42 346.83L284.51 347.02L284.6 346.7L284.69 347.04L284.78 346.6L284.87 346.87L284.96 346.79L285.06 347.04L285.15 347.03L285.24 347.02L285.33 346.71L285.42 347.02L285.51 346.94L285.6 346.65L285.69 346.79L285.79 346.95L285.88 346.82L285.97 347.19L286.06 347.2L286.15 346.77L286.24 346.25L286.33 346.41L286.42 346.29L286.52 346.71L286.61 346.94L286.7 346.58L286.79 347.07L286.88 347.43L286.97 346.7L287.06 346.56L287.15 346.63L287.25 346.43L287.34 346.6L287.43 346.68L287.52 346.98L287.61 346.77L287.7 347L287.79 346.81L287.88 346.3L287.97 346.67L288.07 346.62L288.16 346.85L288.25 346.12L288.34 347.12L288.43 346.88L288.52 346.46L288.61 346.83L288.7 346.83L288.8 346.53L288.89 346.47L288.98 346.48L289.07 346.81L289.16 346.45L289.25 346.87L289.34 346.8L289.43 346.81L289.53 346.51L289.62 346.65L289.71 346.77L289.8 346.55L289.89 346.77L289.98 346.65L290.07 346.6L290.16 346.64L290.26 346.73L290.35 346.77L290.44 346.25L290.53 346.93L290.62 346.4L290.71 346.64L290.8 346.6L290.89 346.83L290.99 346.43L291.08 346.53L291.17 346.16L291.26 346.51L291.35 346.61L291.44 346.62L291.53 346.12L291.62 346.19L291.71 346.37L291.81 345.9L291.9 346.18L291.99 346.27L292.08 346.05L292.17 346.36L292.26 346.01L292.35 346.17L292.44 345.62L292.54 345.33L292.63 345.02L292.72 343.98L292.81 343.19L292.9 341.29L292.99 339.45L293.08 337.61L293.17 335.55L293.27 334.66L293.36 334.96L293.45 337.22L293.54 339.14L293.63 340.79L293.72 342.97L293.81 343.53L293.9 344.94L294 345.24L294.09 345.23L294.18 345.34L294.27 345.07L294.36 345.51L294.45 345.28L294.54 345.29L294.63 345.14L294.73 345L294.82 344.89L294.91 344.97L295 344.91L295.09 344.93L295.18 345.23L295.27 345.24L295.36 344.7L295.46 345.03L295.55 344.8L295.64 344.49L295.73 344.52L295.82 344.52L295.91 344.45L296 344.14L296.09 343.73L296.18 344.33L296.28 343.91L296.37 343.55L296.46 343.6L296.55 343.7L296.64 343.46L296.73 343.28L296.82 343.04L296.91 343.52L297.01 343.41L297.1 343.21L297.19 343.23L297.28 343.32L297.37 343.33L297.46 343.28L297.55 343.43L297.64 343.01L297.74 343.78L297.83 343.76L297.92 344.05L298.01 343.65L298.1 343.78L298.19 343.92L298.28 344.18L298.37 343.55L298.47 343.91L298.56 343.84L298.65 344.33L298.74 343.98L298.83 343.96L298.92 343.71L299.01 343.98L299.1 343.89L299.2 344.49L299.29 344.21L299.38 344.17L299.47 344.22L299.56 344.29L299.65 344.31L299.74 343.97L299.83 344.37L299.92 344.13L300.02 344.16L300.11 344.41L300.2 344.32L300.29 344.89L300.38 344.52L300.47 344.15L300.56 344.53L300.65 344.84L300.75 344.17L300.84 344.67L300.93 344.09L301.02 344.4L301.11 344.67L301.2 344.54L301.29 344.04L301.38 344.35L301.48 344.41L301.57 344.35L301.66 344.43L301.75 344.53L301.84 344.25L301.93 344.06L302.02 344.37L302.11 344.04L302.21 344.14L302.3 344.72L302.39 344.23L302.48 344.09L302.57 344.83L302.66 344.51L302.75 344.29L302.84 344.58L302.94 344.39L303.03 344.46L303.12 344.6L303.21 344.43L303.3 344.5L303.39 344.42L303.48 344.42L303.57 344.56L303.67 344.59L303.76 344.55L303.85 344.3L303.94 344.64L304.03 344.11L304.12 344.61L304.21 343.99L304.3 344.46L304.39 344.51L304.49 344.53L304.58 344.3L304.67 344.37L304.76 344.6L304.85 344.36L304.94 344.29L305.03 344.35L305.12 344.11L305.22 344.94L305.31 344.44L305.4 344.53L305.49 344.29L305.58 343.96L305.67 344.69L305.76 344.56L305.85 344.43L305.95 344.17L306.04 344.14L306.13 344.52L306.22 344.17L306.31 344.37L306.4 344.13L306.49 344.33L306.58 344.22L306.68 344.33L306.77 344.53L306.86 344.53L306.95 344.2L307.04 344.45L307.13 344.5L307.22 344.31L307.31 344.14L307.41 344.08L307.5 344.33L307.59 344.15L307.68 343.88L307.77 343.96L307.86 343.29L307.95 342.98L308.04 342.56L308.13 341.38L308.23 340.73L308.32 339.63L308.41 339.74L308.5 339.63L308.59 340.14L308.68 341.35L308.77 342.18L308.86 343.04L308.96 343.41L309.05 343.56L309.14 343.47L309.23 343.74L309.32 344.24L309.41 343.8L309.5 344.25L309.59 343.7L309.69 343.82L309.78 343.95L309.87 344.28L309.96 343.79L310.05 343.95L310.14 343.79L310.23 343.42L310.32 343.48L310.42 342.85L310.51 342.58L310.6 342.39L310.69 342.79L310.78 342.97L310.87 342.82L310.96 343.1L311.05 343.98L311.15 343.67L311.24 343.7L311.33 344.15L311.42 343.83L311.51 344.13L311.6 344.18L311.69 344.37L311.78 343.81L311.88 344.32L311.97 344.83L312.06 344.43L312.15 344.28L312.24 344.41L312.33 343.79L312.42 344.33L312.51 344.22L312.6 344.1L312.7 343.96L312.79 344.41L312.88 344.49L312.97 344.3L313.06 343.96L313.15 344.14L313.24 343.93L313.33 344.22L313.43 343.82L313.52 343.96L313.61 344L313.7 343.88L313.79 343.9L313.88 343.9L313.97 344.26L314.06 343.84L314.16 343.86L314.25 343.65L314.34 343.61L314.43 343.66L314.52 343.36L314.61 343L314.7 343.06L314.79 342.95L314.89 342.58L314.98 341.77L315.07 341.09L315.16 339.21L315.25 336.76L315.34 333.74L315.43 329.71L315.52 326.74L315.62 325.8L315.71 326.88L315.8 329.54L315.89 332.72L315.98 336.29L316.07 338.28L316.16 340.03L316.25 341.7L316.34 341.83L316.44 341.94L316.53 342.25L316.62 342.05L316.71 342.25L316.8 342.25L316.89 342.43L316.98 342.78L317.07 342.33L317.17 342.64L317.26 342.23L317.35 342.35L317.44 341.77L317.53 342.31L317.62 342.77L317.71 341.87L317.8 342.24L317.9 342.08L317.99 342.01L318.08 342.5L318.17 342.31L318.26 341.71L318.35 341.91L318.44 341.87L318.53 341.41L318.63 341.09L318.72 340.69L318.81 340.73L318.9 340.57L318.99 340.11L319.08 339.96L319.17 339.61L319.26 339.84L319.36 338.9L319.45 339.53L319.54 338.96L319.63 338.91L319.72 339.21L319.81 338.98L319.9 338.99L319.99 338.66L320.09 338.51L320.18 338.64L320.27 338.51L320.36 338.73L320.45 338.45L320.54 338.48L320.63 338.7L320.72 338.89L320.81 338.47L320.91 338.92L321 338.86L321.09 338.93L321.18 338.73L321.27 338.82L321.36 339.12L321.45 338.97L321.54 339.02L321.64 338.71L321.73 338.41L321.82 338.58L321.91 338.59L322 338.65L322.09 339.12L322.18 339.12L322.27 339.32L322.37 338.84L322.46 339.01L322.55 339.26L322.64 338.95L322.73 339.07L322.82 338.86L322.91 339.12L323 339.2L323.1 339.07L323.19 339.09L323.28 338.89L323.37 339.15L323.46 339.18L323.55 339.06L323.64 339.36L323.73 339.2L323.83 338.93L323.92 339.3L324.01 338.87L324.1 339.23L324.19 339.16L324.28 339L324.37 339.08L324.46 339.39L324.56 339.47L324.65 339.07L324.74 339.33L324.83 339.19L324.92 338.99L325.01 339.17L325.1 339.25L325.19 339.37L325.28 339.1L325.38 338.62L325.47 339.33L325.56 339.45L325.65 339.22L325.74 338.86L325.83 339.19L325.92 339.15L326.01 339.14L326.11 339.09L326.2 339.33L326.29 339.4L326.38 339.13L326.47 338.71L326.56 339.48L326.65 339.17L326.74 339.16L326.84 339.19L326.93 339.06L327.02 339.23L327.11 338.89L327.2 339.23L327.29 339.32L327.38 339L327.47 338.77L327.57 338.2L327.66 338.75L327.75 338.16L327.84 338.56L327.93 337.52L328.02 336.65L328.11 335.94L328.2 334.45L328.3 333.4L328.39 332.38L328.48 331.88L328.57 332.07L328.66 333.64L328.75 334.19L328.84 335.77L328.93 336.84L329.02 337.17L329.12 337.82L329.21 337.56L329.3 338.51L329.39 338.37L329.48 338.46L329.57 338.06L329.66 338.53L329.75 338.67L329.85 338.89L329.94 338.66L330.03 338.3L330.12 338.46L330.21 337.99L330.3 338.57L330.39 338.22L330.48 338.47L330.58 338.14L330.67 338.2L330.76 338.04L330.85 338.17L330.94 337.26L331.03 337.13L331.12 336.36L331.21 335.37L331.31 334.12L331.4 332.45L331.49 331.47L331.58 331.24L331.67 331.89L331.76 332.61L331.85 333.98L331.94 335.57L332.04 336.18L332.13 336.69L332.22 337.32L332.31 337.49L332.4 337.34L332.49 337.38L332.58 338.05L332.67 337.56L332.76 337.65L332.86 337.62L332.95 337.85L333.04 337.7L333.13 338.24L333.22 337.87L333.31 337.65L333.4 338.11L333.49 337.95L333.59 338.02L333.68 337.82L333.77 337.63L333.86 337.99L333.95 337.46L334.04 338.03L334.13 337.73L334.22 337.81L334.32 338.2L334.41 338.16L334.5 337.95L334.59 338.21L334.68 338.3L334.77 338.05L334.86 338.33L334.95 338.04L335.05 338.12L335.14 337.91L335.23 337.8L335.32 338.43L335.41 338.14L335.5 337.9L335.59 337.49L335.68 338.07L335.78 338.04L335.87 338.23L335.96 337.58L336.05 338.2L336.14 338.01L336.23 337.94L336.32 338.43L336.41 338.46L336.51 338.45L336.6 338.17L336.69 338.01L336.78 338.36L336.87 337.79L336.96 338.36L337.05 338.15L337.14 338.27L337.23 338.47L337.33 338.33L337.42 338.28L337.51 338.57L337.6 338.29L337.69 338.5L337.78 338.08L337.87 338.55L337.96 338.56L338.06 338.52L338.15 338.24L338.24 338.04L338.33 338.61L338.42 338.2L338.51 338.19L338.6 338.44L338.69 338.21L338.79 338.25L338.88 338.49L338.97 338.84L339.06 338.37L339.15 338.49L339.24 338.38L339.33 338.3L339.42 337.98L339.52 338.5L339.61 338.21L339.7 338.39L339.79 338.57L339.88 338.67L339.97 338.78L340.06 338.93L340.15 338.39L340.25 338.38L340.34 338.68L340.43 338.34L340.52 338.5L340.61 338.55L340.7 338.73L340.79 338.72L340.88 338.41L340.98 338.47L341.07 338.63L341.16 338.4L341.25 338.5L341.34 338.9L341.43 338.3L341.52 338.64L341.61 338.18L341.7 338.82L341.8 339.12L341.89 338.51L341.98 338.27L342.07 338.73L342.16 338.64L342.25 338.21L342.34 338.47L342.43 338.54L342.53 338.82L342.62 338.87L342.71 339.02L342.8 338.98L342.89 338.78L342.98 338.65L343.07 338.36L343.16 338.44L343.26 338.73L343.35 338.76L343.44 338.71L343.53 338.85L343.62 338.48L343.71 338.98L343.8 338.92L343.89 339.18L343.99 339.17L344.08 338.79L344.17 338.67L344.26 338.7L344.35 338.7L344.44 339.13L344.53 338.52L344.62 338.82L344.72 339.02L344.81 338.96L344.9 339.16L344.99 339.14L345.08 338.93L345.17 339.08L345.26 338.97L345.35 338.98L345.44 339.38L345.54 338.75L345.63 338.6L345.72 339.21L345.81 338.96L345.9 338.86L345.99 339.08L346.08 339.05L346.17 339.25L346.27 339.22L346.36 339.06L346.45 338.85L346.54 339.11L346.63 338.93L346.72 339.09L346.81 339.2L346.9 339L347 339.08L347.09 338.94L347.18 338.88L347.27 339.11L347.36 339.12L347.45 339.01L347.54 339.34L347.63 339.31L347.73 339.07L347.82 339.53L347.91 339.65L348 339.5L348.09 339.17L348.18 339.26L348.27 339.35L348.36 339.34L348.46 339.57L348.55 339.36L348.64 339.51L348.73 339.17L348.82 339.38L348.91 339.22L349 339.26L349.09 339.38L349.19 339.44L349.28 339.47L349.37 339.2L349.46 339.19L349.55 339.53L349.64 339.39L349.73 339.24L349.82 339.28L349.91 339.08L350.01 339.24L350.1 338.98L350.19 339.41L350.28 339.14L350.37 339.31L350.46 339.44L350.55 339.87L350.64 339.29L350.74 339.21L350.83 339.11L350.92 338.94L351.01 339.1L351.1 339.22L351.19 339.34L351.28 339.22L351.37 339.01L351.47 339.39L351.56 339.23L351.65 338.84L351.74 338.3L351.83 338.27L351.92 337.68L352.01 337.35L352.1 336.9L352.2 336.15L352.29 335.43L352.38 335.48L352.47 335.54L352.56 335.95L352.65 336.19L352.74 336.94L352.83 338.19L352.93 338.5L353.02 338.37L353.11 338.74L353.2 338.74L353.29 338.77L353.38 338.72L353.47 339.48L353.56 339.25L353.65 339.54L353.75 338.74L353.84 339.05L353.93 339.17L354.02 339.09L354.11 338.92L354.2 339.07L354.29 339.45L354.38 339.01L354.48 338.88L354.57 339.23L354.66 339.09L354.75 339.37L354.84 338.8L354.93 339.41L355.02 339.27L355.11 339.16L355.21 339.14L355.3 339.09L355.39 339.46L355.48 339.1L355.57 339.35L355.66 339.22L355.75 339.14L355.84 339.39L355.94 339.84L356.03 338.92L356.12 339.28L356.21 339.42L356.3 338.94L356.39 338.94L356.48 339.22L356.57 338.92L356.67 339.17L356.76 339.36L356.85 339.36L356.94 339.05L357.03 339.28L357.12 339.47L357.21 339.24L357.3 339.18L357.39 339.35L357.49 339.21L357.58 339.01L357.67 339.3L357.76 339.04L357.85 339.28L357.94 339.15L358.03 339.34L358.12 339.33L358.22 339.62L358.31 339.28L358.4 340.19L358.49 339.54L358.58 339.53L358.67 339.53L358.76 339.13L358.85 339.63L358.95 339.38L359.04 339.31L359.13 339.22L359.22 339.28L359.31 339.32L359.4 339.3L359.49 339.02L359.58 339.7L359.68 339.75L359.77 339.41L359.86 339.4L359.95 339.24L360.04 339.43L360.13 339.21L360.22 339.88L360.31 339.58L360.41 339.34L360.5 339.53L360.59 339.31L360.68 339.55L360.77 339.57L360.86 339.3L360.95 339.32L361.04 339.52L361.14 339.17L361.23 339.58L361.32 339.42L361.41 340.04L361.5 339.33L361.59 339.19L361.68 339.38L361.77 339.67L361.86 339.3L361.96 339.48L362.05 339.7L362.14 339.73L362.23 339.43L362.32 339.71L362.41 339.69L362.5 339.31L362.59 339.38L362.69 339.3L362.78 339.66L362.87 339.46L362.96 339.11L363.05 339.61L363.14 339.69L363.23 339.41L363.32 339.44L363.42 339.87L363.51 339.47L363.6 339.39L363.69 339.88L363.78 339.97L363.87 339.74L363.96 339.58L364.05 339.59L364.15 339.48L364.24 339.83L364.33 339.28L364.42 339.22L364.51 339.51L364.6 339.71L364.69 339.73L364.78 339.55L364.88 339.61L364.97 339.6L365.06 339.78L365.15 339.64L365.24 339.78L365.33 339.88L365.42 339.9L365.51 339.98L365.61 339.49L365.7 339.99L365.79 339.75L365.88 339.66L365.97 339.57L366.06 339.77L366.15 339.52L366.24 339.77L366.33 339.77L366.43 339.82L366.52 339.94L366.61 339.82L366.7 339.75L366.79 339.69L366.88 339.34L366.97 340.07L367.06 339.83L367.16 339.91L367.25 339.57L367.34 339.52L367.43 339.8L367.52 339.89L367.61 339.53L367.7 339.71L367.79 340.08L367.89 339.87L367.98 339.69L368.07 339.91L368.16 339.13L368.25 339.9L368.34 339.72L368.43 339.63L368.52 339.57L368.62 339.74L368.71 339.54L368.8 339.19L368.89 338.84L368.98 338.44L369.07 338.01L369.16 337.38L369.25 336.49L369.35 335.82L369.44 335.43L369.53 335.14L369.62 334.98L369.71 335.79L369.8 336.5L369.89 337.03L369.98 337.94L370.07 338.5L370.17 338.49L370.26 339.1L370.35 339.47L370.44 339.33L370.53 339.22L370.62 338.9L370.71 339.24L370.8 339.13L370.9 339.57L370.99 339.15L371.08 339.75L371.17 339.12L371.26 339.19L371.35 338.86L371.44 339.29L371.53 339.21L371.63 339.39L371.72 339.51L371.81 339.31L371.9 339.13L371.99 339.63L372.08 339.24L372.17 338.99L372.26 339.66L372.36 339.76L372.45 339.6L372.54 339.81L372.63 339.15L372.72 339.43L372.81 339.58L372.9 339.76L372.99 339.2L373.09 339.48L373.18 339.37L373.27 339.32L373.36 338.99L373.45 339.49L373.54 339.1L373.63 339.1L373.72 339.3L373.81 339L373.91 339.61L374 339.28L374.09 339.04L374.18 338.99L374.27 339.13L374.36 339.1L374.45 339.7L374.54 339.29L374.64 339.27L374.73 339.41L374.82 339.59L374.91 339.42L375 338.93L375.09 339.35L375.18 339.41L375.27 338.85L375.37 339.05L375.46 339.23L375.55 339.06L375.64 339.52L375.73 339.29L375.82 338.68L375.91 338.99L376 338.56L376.1 337.8L376.19 337.38L376.28 336.83L376.37 335.87L376.46 334.65L376.55 333.29L376.64 332.83L376.73 332.16L376.83 332.3L376.92 333.1L377.01 334.18L377.1 335.56L377.19 335.93L377.28 336.41L377.37 336.89L377.46 337.27L377.56 337.34L377.65 337.14L377.74 336.72L377.83 336.59L377.92 336.61L378.01 336.84L378.1 336.88L378.19 337.02L378.28 337.14L378.38 337.14L378.47 337.57L378.56 337.67L378.65 337.41L378.74 337.98L378.83 337.52L378.92 337.63L379.01 337.96L379.11 337.83L379.2 337.91L379.29 337.97L379.38 337.77L379.47 337.93L379.56 337.84L379.65 337.92L379.74 337.99L379.84 338.18L379.93 337.74L380.02 337.87L380.11 337.85L380.2 338.21L380.29 337.82L380.38 337.84L380.47 337.54L380.57 337.93L380.66 338.26L380.75 337.87L380.84 338.34L380.93 337.9L381.02 337.64L381.11 337.94L381.2 338.28L381.3 337.9L381.39 338.21L381.48 338.15L381.57 338.38L381.66 338.1L381.75 337.99L381.84 337.84L381.93 337.88L382.02 338.05L382.12 337.93L382.21 337.83L382.3 338.08L382.39 338.15L382.48 338.08L382.57 338.32L382.66 337.92L382.75 337.66L382.85 338.23L382.94 338.01L383.03 338.04L383.12 338.38L383.21 337.85L383.3 338.12L383.39 337.98L383.48 338.15L383.58 338.14L383.67 338.19L383.76 337.77L383.85 338.07L383.94 338.22L384.03 338.05L384.12 338.03L384.21 337.98L384.31 338.12L384.4 338.13L384.49 338.42L384.58 338.3L384.67 338.49L384.76 338.13L384.85 337.96L384.94 337.77L385.04 338.37L385.13 338.25L385.22 337.78L385.31 338.2L385.4 338.06L385.49 338.11L385.58 338.4L385.67 338.21L385.77 337.79L385.86 337.98L385.95 337.74L386.04 338.07L386.13 338.33L386.22 338.05L386.31 338.2L386.4 338.1L386.49 337.88L386.59 337.65L386.68 338.09L386.77 338.27L386.86 338.03L386.95 338.09L387.04 338.18L387.13 338.26L387.22 338.24L387.32 338.25L387.41 338.43L387.5 338.03L387.59 338.09L387.68 338.14L387.77 338.64L387.86 338.23L387.95 337.93L388.05 338.06L388.14 338.37L388.23 338.24L388.32 338.05L388.41 338.27L388.5 338.05L388.59 338.53L388.68 338.15L388.78 338.04L388.87 338.58L388.96 338.06L389.05 338.37L389.14 338.34L389.23 338.35L389.32 338.27L389.41 338.12L389.51 338.33L389.6 338.41L389.69 338.22L389.78 338.24L389.87 338.25L389.96 338.8L390.05 338.06L390.14 338.17L390.24 338.36L390.33 338.23L390.42 337.9L390.51 338.44L390.6 338.33L390.69 338.14L390.78 338.46L390.87 338.18L390.96 338.55L391.06 338.23L391.15 338.54L391.24 338.75L391.33 338.49L391.42 338.47L391.51 338.58L391.6 338.31L391.69 338.47L391.79 338L391.88 338.45L391.97 338.31L392.06 338.31L392.15 338.6L392.24 338.24L392.33 338.17L392.42 338.38L392.52 338.21L392.61 338.33L392.7 338.78L392.79 338.24L392.88 339.02L392.97 338.41L393.06 338.68L393.15 338.85L393.25 338.61L393.34 338.75L393.43 338.39L393.52 338.53L393.61 338.82L393.7 338.84L393.79 338.67L393.88 338.17L393.98 338.55L394.07 338.33L394.16 338.25L394.25 338.44L394.34 338.55L394.43 338.39L394.52 338.29L394.61 338.31L394.7 338.84L394.8 338.71L394.89 338.63L394.98 338.19L395.07 338.41L395.16 338.76L395.25 338.52L395.34 338.39L395.43 338.47L395.53 338.43L395.62 338.51L395.71 338.49L395.8 338.81L395.89 338.39L395.98 338.53L396.07 338.48L396.16 338.46L396.26 338.4L396.35 338.35L396.44 339.14L396.53 338.18L396.62 339.08L396.71 338.82L396.8 338.31L396.89 338.52L396.99 338.39L397.08 338.33L397.17 338.74L397.26 338.3L397.35 338.74L397.44 338.77L397.53 338.73L397.62 338.86L397.72 338.8L397.81 338.92L397.9 338.73L397.99 338.9L398.08 338.93L398.17 338.53L398.26 338.66L398.35 338.95L398.44 338.19L398.54 338.82L398.63 338.63L398.72 338.39L398.81 338.84L398.9 339.29L398.99 338.43L399.08 338.11L399.17 338.56L399.27 339.08L399.36 338.5L399.45 338.72L399.54 338.65L399.63 338.94L399.72 339.12L399.81 338.95L399.9 338.89L400 338.73L400.09 339.15L400.18 339.13L400.27 338.87L400.36 338.72L400.45 338.74L400.54 338.98L400.63 338.86L400.73 338.79L400.82 338.93L400.91 339.29L401 338.86L401.09 338.87L401.18 338.93L401.27 338.82L401.36 338.85L401.46 338.9L401.55 338.64L401.64 339.11L401.73 338.87L401.82 339.08L401.91 339.2L402 338.72L402.09 338.9L402.19 338.87L402.28 338.74L402.37 338.74L402.46 339.12L402.55 339.5L402.64 339.03L402.73 339.18L402.82 339.16L402.91 338.65L403.01 339.12L403.1 339.12L403.19 338.88L403.28 339.06L403.37 339.23L403.46 338.63L403.55 339.32L403.64 338.96L403.74 339L403.83 338.77L403.92 339.32L404.01 339.08L404.1 339.17L404.19 339.44L404.28 339.15L404.37 339.21L404.47 339.06L404.56 339.24L404.65 339.22L404.74 338.88L404.83 338.74L404.92 338.98L405.01 339.08L405.1 339.47L405.2 339.35L405.29 338.99L405.38 339.02L405.47 339.21L405.56 338.97L405.65 339.43L405.74 339.45L405.83 339.48L405.93 339.1L406.02 339.26L406.11 339.23L406.2 339.13L406.29 339.13L406.38 339.62L406.47 339.23L406.56 339L406.66 339.24L406.75 339.25L406.84 338.77L406.93 339.47L407.02 339.3L407.11 339.37L407.2 339.22L407.29 339.43L407.38 339.3L407.48 339.38L407.57 339.08L407.66 339.15L407.75 338.98L407.84 339.18L407.93 339.44L408.02 339.28L408.11 339.28L408.21 339.4L408.3 339L408.39 339.44L408.48 339.31L408.57 339.29L408.66 339.73L408.75 339.24L408.84 338.84L408.94 339.06L409.03 339.27L409.12 339.53L409.21 339.27L409.3 338.81L409.39 339.22L409.48 339.27L409.57 339.38L409.67 339.06L409.76 339.07L409.85 338.74L409.94 338.95L410.03 338.65L410.12 338.9L410.21 338.29L410.3 338.16L410.4 338.54L410.49 338.16L410.58 337.51L410.67 337.28L410.76 336.4L410.85 335.28L410.94 333.33L411.03 329.47L411.12 323.76L411.22 316.09L411.31 307.35L411.4 298.44L411.49 291.11L411.58 288.26L411.67 290.9L411.76 298.24L411.85 307.01L411.95 316.2L412.04 323.4L412.13 328.74L412.22 332.45L412.31 334.33L412.4 335.35L412.49 335.76L412.58 336.21L412.68 336.11L412.77 336.19L412.86 336.2L412.95 335.46L413.04 335.78L413.13 335.14L413.22 335.05L413.31 334.3L413.41 333.1L413.5 331.06L413.59 327.88L413.68 323.23L413.77 317.65L413.86 310.1L413.95 303.01L414.04 297.34L414.14 294.81L414.23 296.4L414.32 301.14L414.41 307.46L414.5 313.94L414.59 319.35L414.68 322.92L414.77 324.88L414.87 326.52L414.96 327.14L415.05 327.34L415.14 326.59L415.23 327.11L415.32 327.44L415.41 327.16L415.5 327.65L415.59 327.3L415.69 327.55L415.78 327.92L415.87 327.33L415.96 327.61L416.05 326.77L416.14 326.83L416.23 326.78L416.32 326.79L416.42 326.56L416.51 326.39L416.6 326.21L416.69 325.88L416.78 325.75L416.87 325.73L416.96 325.77L417.05 325.82L417.15 325.67L417.24 324.84L417.33 325.01L417.42 324.77L417.51 325.05L417.6 324.73L417.69 324.6L417.78 324.38L417.88 324.59L417.97 324.23L418.06 324.53L418.15 324.08L418.24 323.74L418.33 323.81L418.42 323.64L418.51 323.75L418.61 323.44L418.7 323.67L418.79 324.02L418.88 323.81L418.97 323.65L419.06 323.85L419.15 324.04L419.24 324.21L419.33 323.98L419.43 324.15L419.52 324.08L419.61 324.27L419.7 324.35L419.79 324.5L419.88 324.31L419.97 323.89L420.06 324.41L420.16 324.58L420.25 324.38L420.34 324.32L420.43 324.69L420.52 324.3L420.61 324.29L420.7 324.82L420.79 324.44L420.89 324.82L420.98 324.96L421.07 324.59L421.16 324.42L421.25 324.8L421.34 325.15L421.43 324.77L421.52 324.99L421.62 324.98L421.71 324.99L421.8 325.54L421.89 325.15L421.98 325.27L422.07 325.56L422.16 325.65L422.25 325.85L422.35 325.65L422.44 325.63L422.53 325.6L422.62 325.27L422.71 325.73L422.8 325.56L422.89 325.81L422.98 325.79L423.08 325.88L423.17 325.63L423.26 325.55L423.35 325.71L423.44 325.63L423.53 326.05L423.62 325.77L423.71 325.82L423.8 326.33L423.9 325.98L423.99 325.73L424.08 325.59L424.17 326.13L424.26 326.4L424.35 325.93L424.44 326.12L424.53 326.11L424.63 326.26L424.72 325.87L424.81 326.19L424.9 325.87L424.99 326.55L425.08 326.46L425.17 326.22L425.26 326.27L425.36 326.41L425.45 326.57L425.54 326.07L425.63 326.33L425.72 326.31L425.81 326.59L425.9 326.71L425.99 326.95L426.09 326.45L426.18 326.62L426.27 326.59L426.36 326.43L426.45 326.74L426.54 326.75L426.63 326.74L426.72 326.53L426.82 327.01L426.91 326.89L427 326.86L427.09 326.6L427.18 327.36L427.27 326.95L427.36 326.98L427.45 326.85L427.54 327.06L427.64 326.81L427.73 327.01L427.82 327.14L427.91 326.82L428 326.74L428.09 326.94L428.18 326.97L428.27 327.24L428.37 327.19L428.46 327.1L428.55 327.31L428.64 327.05L428.73 327.23L428.82 327.1L428.91 327.23L429 326.91L429.1 326.92L429.19 326.93L429.28 327.15L429.37 326.96L429.46 327.06L429.55 327.19L429.64 326.86L429.73 326.97L429.83 327.03L429.92 327.14L430.01 327.26L430.1 327.29L430.19 327.16L430.28 327.14L430.37 326.92L430.46 327.12L430.56 326.89L430.65 327.03L430.74 327.05L430.83 327.34L430.92 327.25L431.01 327.4L431.1 327.23L431.19 327.43L431.28 326.82L431.38 327.14L431.47 326.97L431.56 327L431.65 327.5L431.74 326.93L431.83 327.1L431.92 326.92L432.01 327.29L432.11 327.08L432.2 326.96L432.29 327.35L432.38 327.42L432.47 326.84L432.56 327.34L432.65 326.69L432.74 327.43L432.84 327.55L432.93 327.16L433.02 327.3L433.11 327.45L433.2 327.22L433.29 327.73L433.38 326.96L433.47 327.47L433.57 327.65L433.66 327.74L433.75 327.37L433.84 327.01L433.93 327.47L434.02 327.35L434.11 327.12L434.2 327.53L434.3 327.2L434.39 327.68L434.48 327.52L434.57 327.56L434.66 327.78L434.75 326.94L434.84 327.5L434.93 327.46L435.03 327.55L435.12 327.4L435.21 327.26L435.3 327.25L435.39 327.3L435.48 327.34L435.57 327.21L435.66 327.8L435.75 327.47L435.85 327.32L435.94 327.76L436.03 327.66L436.12 328.07L436.21 327.32L436.3 327.64L436.39 327.56L436.48 327.38L436.58 327.79L436.67 327.43L436.76 327.51L436.85 327.5L436.94 327.31L437.03 327.53L437.12 327.15L437.21 327.44L437.31 327.36L437.4 327.43L437.49 328.06L437.58 327.04L437.67 327.66L437.76 327.68L437.85 327.61L437.94 327.55L438.04 327.27L438.13 327.63L438.22 327.33L438.31 327.98L438.4 327.56L438.49 327.52L438.58 327.23L438.67 326.97L438.77 327.62L438.86 327.87L438.95 327.43L439.04 327.68L439.13 327.9L439.22 327.95L439.31 327.86L439.4 327.58L439.5 327.52L439.59 327.52L439.68 327.59L439.77 327.59L439.86 327.77L439.95 327.18L440.04 327.47L440.13 327.47L440.22 327.3L440.32 327.58L440.41 327.85L440.5 327.64L440.59 327.64L440.68 327.68L440.77 327.91L440.86 328.21L440.95 327.76L441.05 327.75L441.14 327.91L441.23 327.58L441.32 328.06L441.41 327.81L441.5 327.35L441.59 327.64L441.68 328.04L441.78 327.74L441.87 327.71L441.96 327.85L442.05 327.91L442.14 327.46L442.23 327.8L442.32 327.35L442.41 327.68L442.51 327.98L442.6 328.03L442.69 328.01L442.78 327.91L442.87 327.86L442.96 327.48L443.05 328.04L443.14 327.61L443.24 328.12L443.33 327.95L443.42 327.45L443.51 327.88L443.6 327.78" stroke="#36d9c0" stroke-width="0.85" fill="none" stroke-linejoin="round"/>
<path d="M279.4 398.02L279.49 398.31L279.58 397.74L279.67 398.03L279.76 398.08L279.86 398.18L279.95 397.75L280.04 398.19L280.13 397.8L280.22 398.06L280.31 397.92L280.4 397.97L280.49 397.78L280.59 397.74L280.68 398.13L280.77 397.66L280.86 397.72L280.95 397.64L281.04 397.53L281.13 398.19L281.22 397.44L281.32 398.2L281.41 397.98L281.5 397.76L281.59 397.59L281.68 397.68L281.77 397.73L281.86 397.68L281.95 398.03L282.05 397.78L282.14 397.23L282.23 398.32L282.32 397.82L282.41 397.78L282.5 397.95L282.59 397.77L282.68 397.72L282.78 397.79L282.87 397.74L282.96 397.95L283.05 397.58L283.14 397.84L283.23 397.94L283.32 397.22L283.41 397.8L283.5 397.78L283.6 398.09L283.69 397.57L283.78 397.88L283.87 397.8L283.96 397.47L284.05 397.51L284.14 397.78L284.23 397.49L284.33 397.51L284.42 397.63L284.51 397.8L284.6 397.48L284.69 397.92L284.78 397.48L284.87 397.56L284.96 397.83L285.06 397.78L285.15 396.99L285.24 397.98L285.33 397.51L285.42 397.59L285.51 397.4L285.6 397.43L285.69 397.29L285.79 397.32L285.88 397.48L285.97 397.78L286.06 397.53L286.15 397.34L286.24 397.34L286.33 397.19L286.42 397.48L286.52 397.69L286.61 397.54L286.7 397.36L286.79 397.19L286.88 397.18L286.97 397.22L287.06 397.66L287.15 397.47L287.25 397.25L287.34 397.29L287.43 397.17L287.52 397.62L287.61 397.2L287.7 397.94L287.79 397.43L287.88 397.3L287.97 397.39L288.07 397.11L288.16 397.34L288.25 397.28L288.34 397.13L288.43 397.47L288.52 396.93L288.61 397.4L288.7 397.12L288.8 397.19L288.89 397.33L288.98 397.2L289.07 397.15L289.16 397.31L289.25 396.71L289.34 397.41L289.43 397.18L289.53 396.92L289.62 397.05L289.71 396.92L289.8 397.48L289.89 397.19L289.98 397.12L290.07 396.84L290.16 397.29L290.26 397.11L290.35 396.67L290.44 396.99L290.53 396.97L290.62 397.07L290.71 396.78L290.8 397.44L290.89 397.2L290.99 397.13L291.08 396.96L291.17 396.98L291.26 397.43L291.35 396.92L291.44 397.11L291.53 396.28L291.62 396.94L291.71 396.62L291.81 396.95L291.9 396.84L291.99 396.94L292.08 396.52L292.17 396.35L292.26 396.82L292.35 396.3L292.44 396.03L292.54 395.55L292.63 395.36L292.72 393.93L292.81 393.02L292.9 390.63L292.99 388.27L293.08 385.61L293.17 383.2L293.27 382.48L293.36 382.74L293.45 385.44L293.54 388.14L293.63 390.18L293.72 392.39L293.81 393.98L293.9 394.51L294 395.01L294.09 395.92L294.18 395.79L294.27 395.49L294.36 395.93L294.45 395.37L294.54 395.75L294.63 395.6L294.73 395.62L294.82 395.86L294.91 395.61L295 395.68L295.09 395.57L295.18 395.19L295.27 395.23L295.36 395.37L295.46 395.21L295.55 394.84L295.64 395.09L295.73 395.08L295.82 394.73L295.91 394.92L296 394.97L296.09 394.19L296.18 394.76L296.28 394.38L296.37 394.22L296.46 394.29L296.55 393.7L296.64 393.59L296.73 393.83L296.82 394.17L296.91 393.64L297.01 394.17L297.1 393.7L297.19 393.69L297.28 393.86L297.37 393.7L297.46 393.99L297.55 394.29L297.64 394.24L297.74 393.95L297.83 394.74L297.92 394.25L298.01 394.65L298.1 393.9L298.19 394.81L298.28 395.04L298.37 394.38L298.47 394.41L298.56 394.8L298.65 394.7L298.74 394.99L298.83 394.75L298.92 394.53L299.01 394.67L299.1 394.77L299.2 394.91L299.29 394.54L299.38 394.39L299.47 394.48L299.56 395.12L299.65 394.79L299.74 395.04L299.83 394.94L299.92 394.79L300.02 394.29L300.11 394.84L300.2 394.93L300.29 395.06L300.38 394.83L300.47 395.34L300.56 394.8L300.65 394.76L300.75 395.18L300.84 394.6L300.93 394.44L301.02 395.14L301.11 394.78L301.2 395.07L301.29 395.12L301.38 394.77L301.48 394.88L301.57 395.26L301.66 395.31L301.75 394.92L301.84 395.29L301.93 395.26L302.02 395.02L302.11 395.08L302.21 394.88L302.3 394.51L302.39 395.25L302.48 394.62L302.57 395.28L302.66 394.95L302.75 394.72L302.84 394.42L302.94 395.35L303.03 394.57L303.12 394.98L303.21 394.92L303.3 394.83L303.39 394.53L303.48 394.4L303.57 394.86L303.67 395.1L303.76 395.14L303.85 395.46L303.94 395.32L304.03 394.72L304.12 395.36L304.21 395.25L304.3 395.1L304.39 395.13L304.49 395.17L304.58 395.2L304.67 395.11L304.76 394.64L304.85 394.8L304.94 394.93L305.03 395.12L305.12 394.93L305.22 394.9L305.31 395.16L305.4 395.22L305.49 394.9L305.58 395.13L305.67 395.13L305.76 394.97L305.85 394.97L305.95 395.18L306.04 394.59L306.13 394.88L306.22 394.99L306.31 394.78L306.4 394.63L306.49 394.94L306.58 395.52L306.68 395.21L306.77 394.94L306.86 394.89L306.95 394.58L307.04 394.78L307.13 394.94L307.22 394.67L307.31 394.98L307.41 394.59L307.5 395.13L307.59 394.35L307.68 394.64L307.77 394.21L307.86 394.15L307.95 393.92L308.04 392.98L308.13 392.1L308.23 391.2L308.32 390.54L308.41 390.21L308.5 390.69L308.59 391.62L308.68 392.18L308.77 393.21L308.86 393.6L308.96 394.1L309.05 394.32L309.14 394.64L309.23 394.47L309.32 394.53L309.41 394.53L309.5 394.61L309.59 394.53L309.69 394.47L309.78 394.64L309.87 395.11L309.96 394.67L310.05 394.04L310.14 394.71L310.23 393.96L310.32 393.85L310.42 393.12L310.51 393.16L310.6 393.24L310.69 393.24L310.78 393.82L310.87 393.25L310.96 393.8L311.05 394.4L311.15 394.5L311.24 394.37L311.33 394.74L311.42 394.82L311.51 394.47L311.6 394.7L311.69 394.59L311.78 394.47L311.88 394.87L311.97 394.33L312.06 394.47L312.15 394.91L312.24 394.96L312.33 394.64L312.42 394.59L312.51 394.82L312.6 394.71L312.7 394.7L312.79 394.72L312.88 394.55L312.97 394.28L313.06 394.2L313.15 394.79L313.24 394.61L313.33 394.72L313.43 394.6L313.52 394.66L313.61 394.25L313.7 394.33L313.79 394.65L313.88 394.2L313.97 394.64L314.06 394.43L314.16 394.26L314.25 394.39L314.34 394.39L314.43 394.06L314.52 393.84L314.61 393.94L314.7 393.35L314.79 393.37L314.89 393.3L314.98 392.41L315.07 391.58L315.16 389.68L315.25 387.1L315.34 383.87L315.43 380.1L315.52 377.47L315.62 376.2L315.71 377.48L315.8 380.59L315.89 383.82L315.98 386.83L316.07 389.87L316.16 390.85L316.25 391.79L316.34 392.14L316.44 392.56L316.53 392.54L316.62 392.87L316.71 393.02L316.8 392.83L316.89 393.21L316.98 392.69L317.07 393.26L317.17 392.68L317.26 393.13L317.35 393.1L317.44 393.23L317.53 393.03L317.62 392.95L317.71 393.29L317.8 393.34L317.9 392.94L317.99 393.25L318.08 392.77L318.17 392.44L318.26 392.61L318.35 391.57L318.44 392.08L318.53 392.1L318.63 391.23L318.72 391.34L318.81 391.34L318.9 391.03L318.99 390.49L319.08 390.23L319.17 390.39L319.26 390.4L319.36 390.08L319.45 389.72L319.54 389.79L319.63 389.64L319.72 389.56L319.81 389.21L319.9 389.56L319.99 389.43L320.09 389.8L320.18 389.28L320.27 389.56L320.36 389.36L320.45 389.2L320.54 389.38L320.63 389.29L320.72 389.79L320.81 389.4L320.91 389.29L321 389.35L321.09 389.29L321.18 389.56L321.27 389.27L321.36 389.57L321.45 389.53L321.54 389.27L321.64 389.2L321.73 389.35L321.82 389.81L321.91 389.66L322 389.71L322.09 389.61L322.18 389.29L322.27 389.42L322.37 389.94L322.46 389.6L322.55 389.62L322.64 389.83L322.73 389.77L322.82 389.42L322.91 389.72L323 389.72L323.1 389.79L323.19 390.44L323.28 389.67L323.37 389.49L323.46 389.24L323.55 389.17L323.64 389.91L323.73 389.7L323.83 389.82L323.92 389.63L324.01 389.94L324.1 389.64L324.19 389.56L324.28 389.56L324.37 389.62L324.46 389.48L324.56 389.76L324.65 389.8L324.74 389.72L324.83 389.78L324.92 389.63L325.01 389.48L325.1 389.74L325.19 390.1L325.28 390.09L325.38 389.62L325.47 389.58L325.56 389.6L325.65 390.3L325.74 389.54L325.83 389.11L325.92 389.72L326.01 389.77L326.11 389.47L326.2 389.87L326.29 389.95L326.38 389.44L326.47 389.92L326.56 389.55L326.65 389.82L326.74 389.76L326.84 389.89L326.93 389.57L327.02 389.68L327.11 389.69L327.2 389.74L327.29 389.73L327.38 389.31L327.47 389.31L327.57 389.2L327.66 389.56L327.75 389.03L327.84 389.19L327.93 387.97L328.02 387.16L328.11 386.2L328.2 385.14L328.3 383.8L328.39 382.91L328.48 382.62L328.57 382.63L328.66 383.6L328.75 385.2L328.84 386.64L328.93 387.44L329.02 388.12L329.12 388.64L329.21 389.15L329.3 389.21L329.39 388.94L329.48 388.55L329.57 389.3L329.66 388.94L329.75 389.04L329.85 388.88L329.94 388.92L330.03 388.66L330.12 388.88L330.21 389.01L330.3 388.78L330.39 388.76L330.48 388.56L330.58 388.56L330.67 388.49L330.76 388.51L330.85 388.38L330.94 388.1L331.03 387.52L331.12 386.56L331.21 385.48L331.31 384.72L331.4 383.35L331.49 382.28L331.58 381.45L331.67 382.42L331.76 383.19L331.85 384.97L331.94 385.55L332.04 386.81L332.13 387.29L332.22 387.52L332.31 388.28L332.4 388.63L332.49 388.09L332.58 388.35L332.67 388.1L332.76 387.92L332.86 388.5L332.95 388.6L333.04 388.52L333.13 388.73L333.22 388.54L333.31 388.14L333.4 388.58L333.49 388.74L333.59 388.33L333.68 388.31L333.77 388.92L333.86 388.44L333.95 388.58L334.04 388.39L334.13 388.67L334.22 388.6L334.32 388.76L334.41 388.02L334.5 388.4L334.59 388.36L334.68 388.37L334.77 388.52L334.86 388.26L334.95 388.44L335.05 387.98L335.14 388.37L335.23 388.22L335.32 388.89L335.41 388.72L335.5 388.71L335.59 388.95L335.68 388.75L335.78 388.75L335.87 388.9L335.96 388.47L336.05 388.79L336.14 388.65L336.23 389.02L336.32 388.74L336.41 388.87L336.51 388.88L336.6 388.48L336.69 388.63L336.78 388.96L336.87 388.95L336.96 388.57L337.05 388.93L337.14 388.81L337.23 388.46L337.33 388.5L337.42 388.78L337.51 388.8L337.6 388.75L337.69 388.85L337.78 388.81L337.87 388.55L337.96 388.74L338.06 388.78L338.15 388.89L338.24 388.65L338.33 388.97L338.42 388.76L338.51 389.12L338.6 388.96L338.69 388.83L338.79 389.04L338.88 388.86L338.97 388.9L339.06 389.04L339.15 388.8L339.24 388.89L339.33 389.05L339.42 388.93L339.52 388.78L339.61 389.21L339.7 389.27L339.79 388.81L339.88 389.24L339.97 389.16L340.06 389.54L340.15 389.13L340.25 389.03L340.34 389.41L340.43 389.02L340.52 389.4L340.61 389.21L340.7 388.88L340.79 388.79L340.88 389.18L340.98 388.88L341.07 389.31L341.16 388.98L341.25 389.54L341.34 389.1L341.43 389.27L341.52 389.45L341.61 389.28L341.7 389.32L341.8 389.29L341.89 389.12L341.98 389.44L342.07 389.45L342.16 389.3L342.25 389.43L342.34 389.33L342.43 389.6L342.53 389.16L342.62 389.56L342.71 389.16L342.8 389.18L342.89 389.53L342.98 389.24L343.07 389.09L343.16 389.46L343.26 389.32L343.35 389.62L343.44 389.19L343.53 389.39L343.62 389.1L343.71 389.25L343.8 389.47L343.89 389.67L343.99 389.29L344.08 389.24L344.17 389.57L344.26 389.3L344.35 389.43L344.44 389.59L344.53 389.71L344.62 389.57L344.72 389.35L344.81 389.78L344.9 389.61L344.99 389.62L345.08 389.76L345.17 389.83L345.26 389.53L345.35 389.4L345.44 389.7L345.54 389.91L345.63 389.66L345.72 389.75L345.81 389.64L345.9 389.94L345.99 389.55L346.08 389.84L346.17 389.51L346.27 389.77L346.36 389.88L346.45 389.83L346.54 389.67L346.63 389.69L346.72 389.59L346.81 390.1L346.9 389.97L347 389.88L347.09 390.3L347.18 389.94L347.27 389.75L347.36 390.01L347.45 389.88L347.54 390.01L347.63 389.9L347.73 390.13L347.82 389.68L347.91 389.73L348 389.87L348.09 389.53L348.18 389.83L348.27 389.97L348.36 390.4L348.46 390.19L348.55 389.83L348.64 389.64L348.73 390.1L348.82 389.8L348.91 390.13L349 390.03L349.09 390.1L349.19 390.04L349.28 390.06L349.37 389.88L349.46 390.2L349.55 389.57L349.64 389.77L349.73 390.33L349.82 390.23L349.91 389.41L350.01 390.12L350.1 389.75L350.19 390.09L350.28 389.19L350.37 390.2L350.46 389.47L350.55 389.73L350.64 389.91L350.74 389.88L350.83 390.01L350.92 390.25L351.01 389.65L351.1 389.33L351.19 389.8L351.28 389.6L351.37 389.47L351.47 389.94L351.56 389.65L351.65 389.75L351.74 389.05L351.83 389.11L351.92 388.11L352.01 387.67L352.1 387.44L352.2 386.51L352.29 386.09L352.38 386.08L352.47 386.16L352.56 386.57L352.65 387.61L352.74 387.56L352.83 388.52L352.93 388.98L353.02 388.97L353.11 389.53L353.2 389.07L353.29 389.24L353.38 389.53L353.47 389.26L353.56 389.24L353.65 389.69L353.75 390.03L353.84 389.98L353.93 389.8L354.02 389.47L354.11 389.52L354.2 389.68L354.29 389.23L354.38 389.72L354.48 389.53L354.57 389.94L354.66 389.84L354.75 389.7L354.84 389.49L354.93 390.23L355.02 389.44L355.11 389.98L355.21 389.51L355.3 389.79L355.39 390.06L355.48 389.95L355.57 389.31L355.66 389.81L355.75 389.88L355.84 390.12L355.94 390.03L356.03 389.52L356.12 389.46L356.21 389.37L356.3 389.7L356.39 389.92L356.48 390.07L356.57 389.51L356.67 389.94L356.76 390.15L356.85 389.93L356.94 389.88L357.03 389.61L357.12 389.9L357.21 389.57L357.3 389.69L357.39 389.84L357.49 390.4L357.58 390.38L357.67 389.89L357.76 389.75L357.85 389.52L357.94 390.29L358.03 389.76L358.12 389.79L358.22 389.7L358.31 389.88L358.4 389.97L358.49 389.95L358.58 389.86L358.67 389.69L358.76 390.14L358.85 390.07L358.95 390.15L359.04 389.96L359.13 390.55L359.22 389.67L359.31 389.96L359.4 390.22L359.49 390.05L359.58 390.09L359.68 390.16L359.77 390.05L359.86 389.45L359.95 389.38L360.04 390.49L360.13 390L360.22 389.98L360.31 390.32L360.41 390.13L360.5 390.14L360.59 390.08L360.68 390.44L360.77 390.35L360.86 389.89L360.95 389.94L361.04 389.92L361.14 389.94L361.23 390.33L361.32 389.96L361.41 390.19L361.5 389.91L361.59 390.17L361.68 389.99L361.77 390.31L361.86 389.82L361.96 390.15L362.05 390.07L362.14 390.34L362.23 389.83L362.32 389.94L362.41 389.8L362.5 390.36L362.59 390.03L362.69 390.18L362.78 390.24L362.87 390.08L362.96 390.27L363.05 389.91L363.14 390.45L363.23 390.39L363.32 390.38L363.42 390.05L363.51 390.43L363.6 390.6L363.69 390.16L363.78 389.97L363.87 390.39L363.96 390.18L364.05 390.35L364.15 390.2L364.24 390.16L364.33 390.69L364.42 389.88L364.51 390.3L364.6 390.05L364.69 390.08L364.78 390.51L364.88 389.92L364.97 390.37L365.06 390.5L365.15 390.17L365.24 389.79L365.33 389.94L365.42 390.83L365.51 390.38L365.61 390.28L365.7 390.42L365.79 390.52L365.88 390.45L365.97 390.56L366.06 389.97L366.15 390.28L366.24 390.56L366.33 390.28L366.43 389.99L366.52 390.41L366.61 390.07L366.7 390.61L366.79 390.42L366.88 389.73L366.97 390.32L367.06 390.63L367.16 389.99L367.25 390.39L367.34 390.09L367.43 390.34L367.52 390.68L367.61 389.93L367.7 390.33L367.79 390.67L367.89 390.03L367.98 390.28L368.07 389.78L368.16 390.02L368.25 390.22L368.34 390.66L368.43 390.64L368.52 390.25L368.62 390.49L368.71 390L368.8 389.61L368.89 389.47L368.98 388.85L369.07 388.41L369.16 387.82L369.25 387.21L369.35 386.52L369.44 385.82L369.53 385.51L369.62 385.42L369.71 386.34L369.8 387.23L369.89 388.02L369.98 388.71L370.07 389.19L370.17 388.91L370.26 389.33L370.35 389.68L370.44 389.68L370.53 389.9L370.62 390.09L370.71 390.19L370.8 389.86L370.9 389.74L370.99 389.66L371.08 390.06L371.17 389.81L371.26 390.21L371.35 389.89L371.44 390.03L371.53 389.87L371.63 390.33L371.72 389.95L371.81 390L371.9 390.08L371.99 389.74L372.08 389.85L372.17 389.8L372.26 389.62L372.36 390.19L372.45 389.79L372.54 390.38L372.63 390.02L372.72 390.25L372.81 390.17L372.9 389.89L372.99 389.76L373.09 389.84L373.18 389.75L373.27 389.78L373.36 390L373.45 389.84L373.54 390.02L373.63 390.2L373.72 389.74L373.81 390.05L373.91 390.35L374 390.33L374.09 389.89L374.18 389.99L374.27 390.05L374.36 389.9L374.45 390.05L374.54 390.06L374.64 390.22L374.73 389.87L374.82 389.65L374.91 390.15L375 390.11L375.09 389.8L375.18 389.79L375.27 389.75L375.37 390.03L375.46 389.85L375.55 389.99L375.64 389.77L375.73 390.06L375.82 389.6L375.91 389.81L376 388.8L376.1 389.21L376.19 388.32L376.28 387.33L376.37 386.74L376.46 385.56L376.55 384.92L376.64 383.7L376.73 383.29L376.83 383.52L376.92 384.53L377.01 385.01L377.1 386.15L377.19 387L377.28 387.77L377.37 387.87L377.46 388.18L377.56 388.55L377.65 388.67L377.74 388.49L377.83 388.8L377.92 388.24L378.01 388.29L378.1 388.25L378.19 388.59L378.28 387.88L378.38 388.43L378.47 388.2L378.56 388.38L378.65 388.31L378.74 388.72L378.83 388.26L378.92 388.67L379.01 388.91L379.11 388.61L379.2 388.25L379.29 388.41L379.38 388.52L379.47 388.83L379.56 388.34L379.65 388.53L379.74 388.78L379.84 388.46L379.93 388.74L380.02 388.84L380.11 388.59L380.2 388.56L380.29 388.88L380.38 388.24L380.47 388.77L380.57 388.54L380.66 388.76L380.75 388.79L380.84 388.72L380.93 388.83L381.02 388.7L381.11 388.59L381.2 388.94L381.3 388.53L381.39 388.51L381.48 388.72L381.57 388.53L381.66 388.56L381.75 388.46L381.84 388.63L381.93 388.76L382.02 388.81L382.12 388.72L382.21 388.7L382.3 388.52L382.39 388.84L382.48 388.8L382.57 388.77L382.66 388.36L382.75 388.07L382.85 388.9L382.94 388.98L383.03 389.02L383.12 388.68L383.21 388.64L383.3 388.64L383.39 388.76L383.48 388.67L383.58 388.61L383.67 388.09L383.76 388.7L383.85 388.56L383.94 388.8L384.03 388.67L384.12 388.65L384.21 388.16L384.31 388.9L384.4 388.77L384.49 388.9L384.58 388.64L384.67 388.7L384.76 388.96L384.85 388.68L384.94 388.68L385.04 388.73L385.13 388.81L385.22 388.57L385.31 388.71L385.4 388.71L385.49 388.71L385.58 388.86L385.67 388.78L385.77 388.74L385.86 388.89L385.95 388.6L386.04 389.01L386.13 388.61L386.22 388.88L386.31 388.93L386.4 388.77L386.49 388.81L386.59 388.59L386.68 388.96L386.77 388.99L386.86 388.74L386.95 388.4L387.04 389.01L387.13 388.52L387.22 388.3L387.32 388.88L387.41 388.5L387.5 388.79L387.59 388.88L387.68 388.85L387.77 388.85L387.86 388.99L387.95 388.79L388.05 388.91L388.14 388.37L388.23 388.49L388.32 388.8L388.41 388.8L388.5 388.58L388.59 388.21L388.68 388.43L388.78 388.63L388.87 388.41L388.96 389.15L389.05 389.14L389.14 388.72L389.23 388.99L389.32 388.8L389.41 388.86L389.51 388.78L389.6 388.76L389.69 388.91L389.78 388.93L389.87 388.65L389.96 388.87L390.05 388.92L390.14 388.93L390.24 389.04L390.33 389.11L390.42 388.56L390.51 389.16L390.6 388.85L390.69 388.91L390.78 388.94L390.87 388.81L390.96 388.33L391.06 388.53L391.15 388.98L391.24 389.27L391.33 388.87L391.42 388.97L391.51 389.13L391.6 388.78L391.69 389.02L391.79 389.05L391.88 388.57L391.97 388.74L392.06 389.02L392.15 388.64L392.24 388.92L392.33 389.08L392.42 389.11L392.52 389.07L392.61 389.06L392.7 389.2L392.79 389.11L392.88 389.32L392.97 389.34L393.06 388.95L393.15 388.9L393.25 389.07L393.34 389.3L393.43 389.12L393.52 389.37L393.61 389.35L393.7 389.23L393.79 388.99L393.88 388.64L393.98 388.96L394.07 389.2L394.16 389.33L394.25 389L394.34 388.92L394.43 389.21L394.52 388.92L394.61 388.89L394.7 389.16L394.8 389.15L394.89 389.33L394.98 389.47L395.07 389.2L395.16 389.16L395.25 389.31L395.34 389.31L395.43 389.01L395.53 389.24L395.62 388.68L395.71 389.12L395.8 388.99L395.89 389.29L395.98 389.3L396.07 389.36L396.16 389.44L396.26 388.95L396.35 389.05L396.44 389.36L396.53 389.19L396.62 389.2L396.71 389.39L396.8 389.23L396.89 389.45L396.99 389.25L397.08 389.12L397.17 389.32L397.26 389.02L397.35 389.14L397.44 389.6L397.53 389.23L397.62 389.33L397.72 389.37L397.81 389.59L397.9 389.14L397.99 389.52L398.08 389.16L398.17 389.2L398.26 389.08L398.35 389.43L398.44 389.11L398.54 389.53L398.63 389.01L398.72 389.27L398.81 389.36L398.9 389.33L398.99 389.18L399.08 389.55L399.17 389.35L399.27 389.5L399.36 389.38L399.45 389.55L399.54 389.38L399.63 389.21L399.72 389.58L399.81 389.41L399.9 389.18L400 389.34L400.09 389.18L400.18 389.7L400.27 389.62L400.36 389.43L400.45 389.22L400.54 389.57L400.63 389.25L400.73 389.66L400.82 389.16L400.91 389.7L401 389.16L401.09 389.62L401.18 389.59L401.27 389.7L401.36 389.56L401.46 389.06L401.55 389.43L401.64 389.6L401.73 389.65L401.82 389.39L401.91 389.85L402 389.45L402.09 389.47L402.19 389.65L402.28 389.55L402.37 389.63L402.46 389.5L402.55 389.61L402.64 389.45L402.73 389.73L402.82 389.57L402.91 389.64L403.01 389.82L403.1 389.87L403.19 389.43L403.28 390.15L403.37 390.22L403.46 389.53L403.55 389.49L403.64 389.51L403.74 389.36L403.83 389.58L403.92 389.53L404.01 389.7L404.1 389.6L404.19 389.35L404.28 389.64L404.37 389.95L404.47 390.03L404.56 389.58L404.65 390.05L404.74 389.92L404.83 389.95L404.92 389.31L405.01 389.85L405.1 389.89L405.2 389.64L405.29 389.77L405.38 390.25L405.47 389.94L405.56 390.36L405.65 389.84L405.74 389.73L405.83 389.91L405.93 389.49L406.02 390.41L406.11 389.57L406.2 389.97L406.29 389.87L406.38 390.04L406.47 389.92L406.56 389.84L406.66 390.21L406.75 390.06L406.84 390.14L406.93 390.17L407.02 389.86L407.11 389.99L407.2 389.82L407.29 389.97L407.38 389.9L407.48 389.46L407.57 389.72L407.66 390.15L407.75 390.11L407.84 389.86L407.93 389.76L408.02 390.08L408.11 390.21L408.21 389.98L408.3 389.62L408.39 389.84L408.48 390.01L408.57 389.94L408.66 390.06L408.75 389.76L408.84 390.21L408.94 389.95L409.03 389.75L409.12 389.94L409.21 389.67L409.3 389.63L409.39 389.44L409.48 389.79L409.57 389.97L409.67 390L409.76 389.69L409.85 390.02L409.94 389.35L410.03 389.72L410.12 389.65L410.21 389.48L410.3 389.19L410.4 389.23L410.49 388.83L410.58 388.68L410.67 388.05L410.76 387.16L410.85 386.42L410.94 384.19L411.03 381.16L411.12 375.75L411.22 368.48L411.31 360.32L411.4 351.59L411.49 345.22L411.58 342.82L411.67 344.95L411.76 351.36L411.85 360.23L411.95 368.59L412.04 375.53L412.13 380.17L412.22 383.2L412.31 385.58L412.4 386.38L412.49 386.89L412.58 386.76L412.68 387.03L412.77 386.62L412.86 386.98L412.95 386.68L413.04 386.46L413.13 386.24L413.22 385.78L413.31 385.24L413.41 383.85L413.5 382.2L413.59 379.41L413.68 375.55L413.77 370L413.86 363.82L413.95 357.92L414.04 352.27L414.14 349.87L414.23 351.79L414.32 355.88L414.41 361.14L414.5 366.65L414.59 371.24L414.68 374.03L414.77 376.37L414.87 377.29L414.96 377.51L415.05 378.02L415.14 377.69L415.23 378.15L415.32 378.11L415.41 377.99L415.5 378.14L415.59 378.1L415.69 378.07L415.78 378.14L415.87 377.86L415.96 377.5L416.05 377.81L416.14 377.99L416.23 377.56L416.32 377.42L416.42 376.99L416.51 376.91L416.6 377.12L416.69 376.64L416.78 376.85L416.87 376.26L416.96 375.93L417.05 376.35L417.15 375.88L417.24 375.96L417.33 375.88L417.42 375.58L417.51 375.41L417.6 375.47L417.69 375.38L417.78 375.22L417.88 374.88L417.97 374.41L418.06 374.55L418.15 375.09L418.24 374.45L418.33 374.81L418.42 373.98L418.51 374.14L418.61 374.1L418.7 374.13L418.79 374.36L418.88 374.46L418.97 374.19L419.06 374.58L419.15 374.43L419.24 374.77L419.33 374.8L419.43 374.57L419.52 374.81L419.61 374.89L419.7 374.72L419.79 375.38L419.88 375.21L419.97 375.02L420.06 374.73L420.16 374.89L420.25 375L420.34 375.28L420.43 375.1L420.52 375.3L420.61 375.61L420.7 375.55L420.79 374.95L420.89 375.38L420.98 375.44L421.07 375.29L421.16 375.32L421.25 375.53L421.34 375.6L421.43 375.8L421.52 375.19L421.62 375.5L421.71 375.68L421.8 375.73L421.89 375.97L421.98 375.57L422.07 375.34L422.16 376.04L422.25 375.91L422.35 375.58L422.44 376.04L422.53 376.32L422.62 376.5L422.71 376L422.8 376.22L422.89 376.03L422.98 376.45L423.08 376.09L423.17 376.34L423.26 376.69L423.35 376.3L423.44 376.41L423.53 376.74L423.62 376.39L423.71 376.65L423.8 376.76L423.9 376.72L423.99 376.76L424.08 376.61L424.17 376.76L424.26 376.85L424.35 376.82L424.44 376.7L424.53 376.7L424.63 376.93L424.72 376.83L424.81 377.02L424.9 377.27L424.99 376.91L425.08 376.61L425.17 376.95L425.26 376.97L425.36 377.25L425.45 377.16L425.54 376.86L425.63 377.25L425.72 377.19L425.81 377.29L425.9 376.71L425.99 376.86L426.09 376.95L426.18 376.82L426.27 377.11L426.36 377.2L426.45 377.17L426.54 377.14L426.63 377.07L426.72 377.69L426.82 377.82L426.91 377.25L427 377.5L427.09 377.39L427.18 377.39L427.27 378.02L427.36 377.52L427.45 377.66L427.54 377.71L427.64 377.7L427.73 376.92L427.82 377.54L427.91 377.77L428 377.36L428.09 377.44L428.18 377.27L428.27 377.64L428.37 377.42L428.46 377.78L428.55 377.41L428.64 377.69L428.73 377.56L428.82 377.74L428.91 377.75L429 377.62L429.1 377.7L429.19 377.88L429.28 377.26L429.37 377.64L429.46 377.85L429.55 378.01L429.64 377.66L429.73 377.57L429.83 378.07L429.92 377.8L430.01 377.65L430.1 377.83L430.19 377.81L430.28 377.54L430.37 378.07L430.46 378.16L430.56 377.96L430.65 377.91L430.74 377.57L430.83 377.54L430.92 377.98L431.01 377.8L431.1 377.94L431.19 377.9L431.28 377.56L431.38 377.98L431.47 377.61L431.56 377.84L431.65 377.62L431.74 377.98L431.83 378.18L431.92 377.44L432.01 377.23L432.11 377.43L432.2 377.79L432.29 377.77L432.38 377.76L432.47 377.79L432.56 377.36L432.65 377.69L432.74 377.48L432.84 377.79L432.93 377.58L433.02 378.01L433.11 378.01L433.2 378.05L433.29 377.68L433.38 377.54L433.47 377.96L433.57 377.86L433.66 378.07L433.75 378.07L433.84 378.26L433.93 377.68L434.02 378.14L434.11 378.2L434.2 378.07L434.3 378.1L434.39 378.08L434.48 378.16L434.57 377.74L434.66 378.02L434.75 377.97L434.84 378.06L434.93 378.22L435.03 378.05L435.12 378.13L435.21 377.97L435.3 378.03L435.39 378.22L435.48 377.98L435.57 378.19L435.66 377.92L435.75 378.25L435.85 378.15L435.94 378.16L436.03 378.27L436.12 378.12L436.21 378.22L436.3 378.2L436.39 377.76L436.48 378.03L436.58 378.33L436.67 378.06L436.76 378.27L436.85 378.41L436.94 378.33L437.03 377.93L437.12 378.5L437.21 378.33L437.31 378.35L437.4 378.28L437.49 377.97L437.58 378.19L437.67 377.94L437.76 378.29L437.85 377.96L437.94 378.23L438.04 378.03L438.13 378.24L438.22 377.93L438.31 377.82L438.4 378.33L438.49 378.3L438.58 378.06L438.67 378.14L438.77 378.49L438.86 378.29L438.95 378.1L439.04 377.85L439.13 378.35L439.22 378.42L439.31 378.15L439.4 378.28L439.5 378.36L439.59 378.31L439.68 378.41L439.77 378.14L439.86 378.66L439.95 378.31L440.04 378.18L440.13 378.24L440.22 378.83L440.32 378.37L440.41 378.55L440.5 377.96L440.59 378L440.68 378.24L440.77 378.38L440.86 378.15L440.95 378.17L441.05 378.7L441.14 378.01L441.23 378.32L441.32 378.64L441.41 378.15L441.5 378.66L441.59 378.29L441.68 378.09L441.78 378.07L441.87 378.28L441.96 378.53L442.05 378.18L442.14 378.19L442.23 378.05L442.32 378.66L442.41 378.39L442.51 378.37L442.6 378.48L442.69 378.49L442.78 378.41L442.87 378.65L442.96 378.45L443.05 378.34L443.14 378.78L443.24 378.41L443.33 378.53L443.42 378.37L443.51 378.15L443.6 378.54" stroke="#3f6ff2" stroke-width="0.85" fill="none" stroke-linejoin="round"/>
<text x="292.3" y="378" font-size="9.2" fill="#111" text-anchor="middle" font-weight="normal" >Cs</text>
<text x="306.9" y="385.2" font-size="9.2" fill="#111" text-anchor="middle" font-weight="normal" >Cs</text>
<text x="315.5" y="372.9" font-size="9.2" fill="#111" text-anchor="middle" font-weight="normal" >Cl</text>
<text x="327.2" y="378.6" font-size="9.2" fill="#111" text-anchor="middle" font-weight="normal" >Cl</text>
<text x="352.5" y="381.4" font-size="9.2" fill="#111" text-anchor="middle" font-weight="normal" >Sc</text>
<text x="370.5" y="381.4" font-size="9.2" fill="#111" text-anchor="middle" font-weight="normal" >Na</text>
<text x="401.9" y="351.8" font-size="9.2" fill="#111" text-anchor="middle" font-weight="normal" >Cs</text>
<text x="422.9" y="357" font-size="9.2" fill="#111" text-anchor="middle" font-weight="normal" >Cs</text>
<text x="384.5" y="328" font-size="9.2" fill="#111" text-anchor="start" font-weight="normal" >Sb</text>
<circle cx="376.9" cy="332.4" r="6.2" fill="none" stroke="#222" stroke-width="0.8" stroke-dasharray="2.6 1.8"/>
<path d="M370.3 330.6Q354.5 328.5 347.4 313.4" stroke="#222" stroke-width="0.7" fill="none"/>
<path d="M346.2 310.4l3.1 2.6l-2.9 1.3z" fill="#222"/>
<text x="398" y="252.8" font-size="9.05" fill="#3ddcc4" text-anchor="start" font-weight="normal" >0.75%Sb<tspan font-size="6.2" dy="-3.4">3+</tspan></text>
<text x="398.8" y="265.7" font-size="9.4" fill="#4a7aff" text-anchor="start" font-weight="normal" >Host</text>
<path d="M282.9 299.8H389.5" stroke="#a0a0a0" stroke-width="1.1"/>
<path d="M313.3 299.8v2.6M371.5 299.8v2.6M342.4 299.8v1.6M284.2 299.8v1.6" stroke="#888" stroke-width="0.7"/>
<text x="313.3" y="312" font-size="9.4" fill="#111" text-anchor="middle" font-weight="normal" >530</text>
<text x="371.5" y="312" font-size="9.4" fill="#111" text-anchor="middle" font-weight="normal" >540</text>
<path d="M302.9 293.74L303.4 293.72L303.9 293.7L304.4 293.68L304.9 293.65L305.4 293.62L305.9 293.59L306.4 293.55L306.9 293.5L307.4 293.45L307.9 293.38L308.4 293.28L308.9 293.16L309.4 292.99L309.9 292.76L310.4 292.46L310.9 292.05L311.4 291.51L311.9 290.83L312.4 289.98L312.9 288.96L313.4 287.77L313.9 286.43L314.4 284.98L314.9 283.51L315.4 282.1L315.9 280.88L316.4 279.98L316.9 279.54L317.4 279.61L317.9 280.19L318.4 281.18L318.9 282.47L319.4 283.9L319.9 285.38L320.4 286.8L320.9 288.1L321.4 289.25L321.9 290.23L322.4 291.03L322.9 291.67L323.4 292.17L323.9 292.55L324.4 292.83L324.9 293.04L325.4 293.19L325.9 293.31L326.4 293.4L326.9 293.46L327.4 293.52L327.9 293.56L328.4 293.6L328.9 293.63L329.4 293.66L329.9 293.68L330.4 293.71Z" fill="url(#gGreen)" stroke="#222" stroke-width="0.5"/>
<path d="M356.9 293.84L357.4 293.83L357.9 293.81L358.4 293.8L358.9 293.78L359.4 293.77L359.9 293.75L360.4 293.72L360.9 293.7L361.4 293.67L361.9 293.63L362.4 293.58L362.9 293.51L363.4 293.43L363.9 293.31L364.4 293.15L364.9 292.94L365.4 292.66L365.9 292.29L366.4 291.82L366.9 291.24L367.4 290.54L367.9 289.73L368.4 288.83L368.9 287.87L369.4 286.9L369.9 285.98L370.4 285.2L370.9 284.65L371.4 284.41L371.9 284.51L372.4 284.95L372.9 285.64L373.4 286.52L373.9 287.48L374.4 288.45L374.9 289.38L375.4 290.23L375.9 290.97L376.4 291.6L376.9 292.11L377.4 292.52L377.9 292.83L378.4 293.07L378.9 293.25L379.4 293.38L379.9 293.48L380.4 293.55L380.9 293.61L381.4 293.65L381.9 293.69L382.4 293.71L382.9 293.74L383.4 293.76L383.9 293.78L384.4 293.79L384.9 293.81L385.4 293.82L385.9 293.83L386.4 293.84Z" fill="url(#gYel)" stroke="#222" stroke-width="0.5"/>
<path d="M300.4 293.42L300.9 293.4L301.4 293.37L301.9 293.34L302.4 293.32L302.9 293.29L303.4 293.25L303.9 293.22L304.4 293.18L304.9 293.14L305.4 293.09L305.9 293.04L306.4 292.99L306.9 292.93L307.4 292.86L307.9 292.79L308.4 292.7L308.9 292.59L309.4 292.48L309.9 292.33L310.4 292.17L310.9 291.97L311.4 291.73L311.9 291.44L312.4 291.1L312.9 290.7L313.4 290.22L313.9 289.65L314.4 288.99L314.9 288.21L315.4 287.32L315.9 286.31L316.4 285.16L316.9 283.88L317.4 282.46L317.9 280.92L318.4 279.26L318.9 277.49L319.4 275.64L319.9 273.74L320.4 271.82L320.9 269.92L321.4 268.1L321.9 266.41L322.4 264.91L322.9 263.67L323.4 262.74L323.9 262.17L324.4 262L324.9 262.24L325.4 262.87L325.9 263.85L326.4 265.15L326.9 266.68L327.4 268.4L327.9 270.24L328.4 272.14L328.9 274.06L329.4 275.96L329.9 277.79L330.4 279.54L330.9 281.19L331.4 282.71L331.9 284.1L332.4 285.36L332.9 286.49L333.4 287.48L333.9 288.35L334.4 289.1L334.9 289.75L335.4 290.3L335.9 290.77L336.4 291.17L336.9 291.5L337.4 291.77L337.9 292L338.4 292.2L338.9 292.36L339.4 292.5L339.9 292.61L340.4 292.71L340.9 292.8L341.4 292.87L341.9 292.94L342.4 293L342.9 293.05L343.4 293.1L343.9 293.15L344.4 293.19L344.9 293.22L345.4 293.26L345.9 293.29L346.4 293.32L346.9 293.35L347.4 293.38L347.9 293.4" fill="none" stroke="#d8a078" stroke-width="0.5" stroke-dasharray="1.4 1"/>
<path d="M328.9 293.85L329.4 293.84L329.9 293.82L330.4 293.81L330.9 293.79L331.4 293.77L331.9 293.75L332.4 293.71L332.9 293.67L333.4 293.62L333.9 293.55L334.4 293.46L334.9 293.34L335.4 293.18L335.9 292.99L336.4 292.75L336.9 292.46L337.4 292.11L337.9 291.7L338.4 291.25L338.9 290.75L339.4 290.22L339.9 289.68L340.4 289.16L340.9 288.7L341.4 288.33L341.9 288.08L342.4 288L342.9 288.08L343.4 288.33L343.9 288.7L344.4 289.16L344.9 289.68L345.4 290.22L345.9 290.75L346.4 291.25L346.9 291.7L347.4 292.11L347.9 292.46L348.4 292.75L348.9 292.99L349.4 293.18L349.9 293.34L350.4 293.46L350.9 293.55L351.4 293.62L351.9 293.67L352.4 293.71L352.9 293.75L353.4 293.77L353.9 293.79L354.4 293.81L354.9 293.82L355.4 293.84L355.9 293.85L356.4 293.86" fill="none" stroke="#d8a078" stroke-width="0.5" stroke-dasharray="1.4 1"/>
<path d="M285 294H388" stroke="#d8a078" stroke-width="0.4" stroke-dasharray="1.4 1"/>
<g fill="none" stroke="#8c8c8c" stroke-width="0.55"><circle cx="282.9" cy="293.86" r="1.05"/><circle cx="284.4" cy="293.11" r="1.05"/><circle cx="285.9" cy="295.71" r="1.05"/><circle cx="287.4" cy="293.13" r="1.05"/><circle cx="288.9" cy="293.45" r="1.05"/><circle cx="290.4" cy="294.81" r="1.05"/><circle cx="291.9" cy="292.41" r="1.05"/><circle cx="293.4" cy="292.67" r="1.05"/><circle cx="294.9" cy="293.36" r="1.05"/><circle cx="296.4" cy="292.81" r="1.05"/><circle cx="297.9" cy="291.92" r="1.05"/><circle cx="299.4" cy="292.77" r="1.05"/><circle cx="300.9" cy="292.53" r="1.05"/><circle cx="302.4" cy="293.32" r="1.05"/><circle cx="303.9" cy="291.01" r="1.05"/><circle cx="305.4" cy="291.72" r="1.05"/><circle cx="306.9" cy="293.2" r="1.05"/><circle cx="308.4" cy="293.41" r="1.05"/><circle cx="309.9" cy="289.32" r="1.05"/><circle cx="311.4" cy="289.51" r="1.05"/><circle cx="312.9" cy="284.38" r="1.05"/><circle cx="314.4" cy="278.81" r="1.05"/><circle cx="315.9" cy="272.01" r="1.05"/><circle cx="317.4" cy="267.31" r="1.05"/><circle cx="318.9" cy="266.54" r="1.05"/><circle cx="320.4" cy="264.92" r="1.05"/><circle cx="321.9" cy="262.31" r="1.05"/><circle cx="323.4" cy="260.17" r="1.05"/><circle cx="324.9" cy="260.87" r="1.05"/><circle cx="326.4" cy="264.01" r="1.05"/><circle cx="327.9" cy="270.1" r="1.05"/><circle cx="329.4" cy="274.53" r="1.05"/><circle cx="330.9" cy="280.38" r="1.05"/><circle cx="332.4" cy="284.43" r="1.05"/><circle cx="333.9" cy="287.33" r="1.05"/><circle cx="335.4" cy="289.24" r="1.05"/><circle cx="336.9" cy="289.67" r="1.05"/><circle cx="338.4" cy="290.26" r="1.05"/><circle cx="339.9" cy="287.77" r="1.05"/><circle cx="341.4" cy="288.25" r="1.05"/><circle cx="342.9" cy="286.42" r="1.05"/><circle cx="344.4" cy="287.47" r="1.05"/><circle cx="345.9" cy="289.71" r="1.05"/><circle cx="347.4" cy="291.4" r="1.05"/><circle cx="348.9" cy="292.27" r="1.05"/><circle cx="350.4" cy="293.76" r="1.05"/><circle cx="351.9" cy="293.87" r="1.05"/><circle cx="353.4" cy="293.39" r="1.05"/><circle cx="354.9" cy="292.67" r="1.05"/><circle cx="356.4" cy="292.94" r="1.05"/><circle cx="357.9" cy="294.4" r="1.05"/><circle cx="359.4" cy="293.27" r="1.05"/><circle cx="360.9" cy="291.78" r="1.05"/><circle cx="362.4" cy="292.29" r="1.05"/><circle cx="363.9" cy="292.15" r="1.05"/><circle cx="365.4" cy="293.17" r="1.05"/><circle cx="366.9" cy="290.57" r="1.05"/><circle cx="368.4" cy="290.44" r="1.05"/><circle cx="369.9" cy="286.08" r="1.05"/><circle cx="371.4" cy="284.02" r="1.05"/><circle cx="372.9" cy="284.73" r="1.05"/><circle cx="374.4" cy="288.89" r="1.05"/><circle cx="375.9" cy="290.27" r="1.05"/><circle cx="377.4" cy="291.27" r="1.05"/><circle cx="378.9" cy="293.34" r="1.05"/><circle cx="380.4" cy="293.12" r="1.05"/><circle cx="381.9" cy="294.38" r="1.05"/><circle cx="383.4" cy="293.26" r="1.05"/><circle cx="384.9" cy="290.67" r="1.05"/><circle cx="386.4" cy="294.18" r="1.05"/><circle cx="387.9" cy="291.67" r="1.05"/><circle cx="389.4" cy="294.95" r="1.05"/></g>
<path d="M282.9 293.74L283.4 293.73L283.9 293.73L284.4 293.72L284.9 293.71L285.4 293.7L285.9 293.7L286.4 293.69L286.9 293.68L287.4 293.67L287.9 293.66L288.4 293.65L288.9 293.64L289.4 293.63L289.9 293.62L290.4 293.61L290.9 293.6L291.4 293.59L291.9 293.57L292.4 293.56L292.9 293.55L293.4 293.53L293.9 293.51L294.4 293.5L294.9 293.48L295.4 293.46L295.9 293.44L296.4 293.42L296.9 293.4L297.4 293.38L297.9 293.35L298.4 293.33L298.9 293.3L299.4 293.27L299.9 293.24L300.4 293.2L300.9 293.17L301.4 293.13L301.9 293.09L302.4 293.05L302.9 293L303.4 292.95L303.9 292.89L304.4 292.83L304.9 292.76L305.4 292.69L305.9 292.6L306.4 292.51L306.9 292.4L307.4 292.28L307.9 292.13L308.4 291.94L308.9 291.72L309.4 291.43L309.9 291.06L310.4 290.58L310.9 289.98L311.4 289.2L311.9 288.23L312.4 287.04L312.9 285.61L313.4 283.94L313.9 282.03L314.4 279.92L314.9 277.67L315.4 275.37L315.9 273.14L316.4 271.09L316.9 269.36L317.4 268.01L317.9 267.04L318.4 266.37L318.9 265.89L319.4 265.48L319.9 265.05L320.4 264.54L320.9 263.95L321.4 263.27L321.9 262.55L322.4 261.85L322.9 261.25L323.4 260.81L323.9 260.62L324.4 260.73L324.9 261.17L325.4 261.95L325.9 263.04L326.4 264.42L326.9 266.01L327.4 267.78L327.9 269.65L328.4 271.58L328.9 273.52L329.4 275.43L329.9 277.28L330.4 279.04L330.9 280.68L331.4 282.2L331.9 283.59L332.4 284.83L332.9 285.92L333.4 286.87L333.9 287.68L334.4 288.36L334.9 288.89L335.4 289.3L335.9 289.58L336.4 289.74L336.9 289.78L337.4 289.72L337.9 289.55L338.4 289.29L338.9 288.96L339.4 288.57L339.9 288.15L340.4 287.74L340.9 287.36L341.4 287.07L341.9 286.9L342.4 286.87L342.9 287.01L343.4 287.3L343.9 287.72L344.4 288.23L344.9 288.78L345.4 289.35L345.9 289.92L346.4 290.45L346.9 290.93L347.4 291.36L347.9 291.73L348.4 292.05L348.9 292.31L349.4 292.52L349.9 292.7L350.4 292.83L350.9 292.94L351.4 293.02L351.9 293.09L352.4 293.14L352.9 293.19L353.4 293.22L353.9 293.25L354.4 293.27L354.9 293.29L355.4 293.31L355.9 293.33L356.4 293.34L356.9 293.35L357.4 293.36L357.9 293.36L358.4 293.36L358.9 293.36L359.4 293.36L359.9 293.35L360.4 293.34L360.9 293.33L361.4 293.31L361.9 293.28L362.4 293.24L362.9 293.19L363.4 293.11L363.9 293L364.4 292.85L364.9 292.65L365.4 292.37L365.9 292.01L366.4 291.55L366.9 290.97L367.4 290.28L367.9 289.48L368.4 288.59L368.9 287.63L369.4 286.67L369.9 285.75L370.4 284.98L370.9 284.43L371.4 284.2L371.9 284.31L372.4 284.75L372.9 285.45L373.4 286.33L373.9 287.29L374.4 288.27L374.9 289.2L375.4 290.05L375.9 290.8L376.4 291.43L376.9 291.95L377.4 292.36L377.9 292.67L378.4 292.92L378.9 293.1L379.4 293.23L379.9 293.33L380.4 293.41L380.9 293.47L381.4 293.51L381.9 293.55L382.4 293.58L382.9 293.61L383.4 293.63L383.9 293.65L384.4 293.67L384.9 293.68L385.4 293.7L385.9 293.71L386.4 293.73L386.9 293.74L387.4 293.75L387.9 293.76L388.4 293.77L388.9 293.78L389.4 293.78" fill="none" stroke="#222" stroke-width="0.6"/>
<text x="326" y="256" font-size="9.6" fill="#a87848" text-anchor="middle" font-weight="normal" >O 1s</text>
<text x="291.3" y="277.8" font-size="9.4" fill="#111" text-anchor="start" font-weight="normal" >3d<tspan font-size="6.3" dy="2">5/2</tspan></text>
<text x="363" y="279" font-size="9.4" fill="#111" text-anchor="start" font-weight="normal" >3d<tspan font-size="6.3" dy="2">3/2</tspan></text>
</g>
<g id="panelH">
<rect x="486.5" y="239.1" width="190.1" height="164.5" fill="#fff" stroke="#808080" stroke-width="0.8"/>
<path d="M486.5 403.6v3.2M549.9 403.6v3.2M613.3 403.6v3.2M676.7 403.6v3.2M518.2 403.6v1.8M581.6 403.6v1.8M645 403.6v1.8" stroke="#808080" stroke-width="0.8" fill="none"/>
<text x="486.5" y="420.7" font-size="10" fill="#111" text-anchor="middle" font-weight="normal" >80</text>
<text x="549.9" y="420.7" font-size="10" fill="#111" text-anchor="middle" font-weight="normal" >160</text>
<text x="613.3" y="420.7" font-size="10" fill="#111" text-anchor="middle" font-weight="normal" >240</text>
<text x="676.7" y="420.7" font-size="10" fill="#111" text-anchor="middle" font-weight="normal" >320</text>
<text x="581.1" y="437.8" font-size="10.6" fill="#111" text-anchor="middle" font-weight="normal" >Raman shift (cm<tspan font-size="7" dy="-3.6">−1</tspan><tspan dy="3.6">)</tspan></text>
<text x="0" y="0" font-size="10.2" fill="#111" text-anchor="middle" font-weight="normal" transform="translate(474.8 321.3) rotate(-90)">Intensity</text>
<path d="M486.5 312.98L486.9 312.97L487.29 312.96L487.69 312.95L488.08 312.94L488.48 312.92L488.88 312.91L489.27 312.9L489.67 312.88L490.07 312.87L490.46 312.85L490.86 312.84L491.25 312.82L491.65 312.8L492.05 312.78L492.44 312.76L492.84 312.74L493.24 312.72L493.63 312.69L494.03 312.66L494.43 312.63L494.82 312.6L495.22 312.57L495.61 312.54L496.01 312.5L496.41 312.46L496.8 312.41L497.2 312.36L497.6 312.31L497.99 312.26L498.39 312.2L498.78 312.13L499.18 312.06L499.58 311.99L499.97 311.91L500.37 311.83L500.76 311.73L501.16 311.64L501.56 311.53L501.95 311.42L502.35 311.31L502.75 311.18L503.14 311.05L503.54 310.91L503.94 310.77L504.33 310.61L504.73 310.45L505.12 310.28L505.52 310.1L505.92 309.92L506.31 309.73L506.71 309.53L507.11 309.33L507.5 309.12L507.9 308.9L508.29 308.68L508.69 308.46L509.09 308.23L509.48 308L509.88 307.78L510.28 307.55L510.67 307.33L511.07 307.11L511.46 306.9L511.86 306.69L512.26 306.5L512.65 306.32L513.05 306.16L513.45 306.01L513.84 305.89L514.24 305.78L514.63 305.7L515.03 305.65L515.43 305.62L515.82 305.61L516.22 305.63L516.62 305.68L517.01 305.75L517.41 305.84L517.8 305.95L518.2 306.08L518.6 306.23L518.99 306.39L519.39 306.56L519.78 306.74L520.18 306.92L520.58 307.11L520.97 307.31L521.37 307.5L521.77 307.69L522.16 307.88L522.56 308.07L522.96 308.25L523.35 308.42L523.75 308.59L524.14 308.75L524.54 308.9L524.94 309.03L525.33 309.16L525.73 309.28L526.12 309.38L526.52 309.47L526.92 309.55L527.31 309.61L527.71 309.66L528.11 309.69L528.5 309.7L528.9 309.69L529.29 309.65L529.69 309.59L530.09 309.49L530.48 309.35L530.88 309.17L531.28 308.92L531.67 308.59L532.07 308.18L532.47 307.66L532.86 307.02L533.26 306.22L533.65 305.25L534.05 304.09L534.45 302.72L534.84 301.12L535.24 299.29L535.63 297.24L536.03 294.97L536.43 292.53L536.82 289.97L537.22 287.36L537.62 284.82L538.01 282.49L538.41 280.53L538.81 279.14L539.2 278.45L539.6 278.55L539.99 279.42L540.39 280.97L540.79 283.05L541.18 285.47L541.58 288.08L541.98 290.72L542.37 293.31L542.77 295.76L543.16 298.02L543.56 300.08L543.96 301.91L544.35 303.51L544.75 304.89L545.14 306.07L545.54 307.06L545.94 307.89L546.33 308.58L546.73 309.14L547.13 309.61L547.52 310L547.92 310.32L548.32 310.59L548.71 310.82L549.11 311.01L549.5 311.18L549.9 311.32L550.3 311.45L550.69 311.57L551.09 311.67L551.49 311.77L551.88 311.85L552.28 311.93L552.67 312.01L553.07 312.07L553.47 312.13L553.86 312.19L554.26 312.24L554.65 312.29L555.05 312.34L555.45 312.38L555.84 312.42L556.24 312.46L556.64 312.5L557.03 312.53L557.43 312.56L557.83 312.59L558.22 312.62L558.62 312.64L559.01 312.67L559.41 312.69L559.81 312.71L560.2 312.74L560.6 312.76L561 312.77L561.39 312.79L561.79 312.81L562.18 312.83L562.58 312.84L562.98 312.86L563.37 312.87L563.77 312.88L564.16 312.9L564.56 312.91L564.96 312.92L565.35 312.93L565.75 312.94L566.15 312.95L566.54 312.96L566.94 312.97L567.34 312.98L567.73 312.99L568.13 313L568.52 313L568.92 313.01L569.32 313.02L569.71 313.02L570.11 313.03L570.5 313.04L570.9 313.04L571.3 313.05L571.69 313.05L572.09 313.06L572.49 313.06L572.88 313.07L573.28 313.07L573.67 313.07L574.07 313.08L574.47 313.08L574.86 313.08L575.26 313.09L575.66 313.09L576.05 313.09L576.45 313.09L576.85 313.09L577.24 313.09L577.64 313.09L578.03 313.09L578.43 313.09L578.83 313.09L579.22 313.09L579.62 313.09L580.01 313.09L580.41 313.08L580.81 313.08L581.2 313.07L581.6 313.06L582 313.06L582.39 313.04L582.79 313.03L583.19 313.01L583.58 312.99L583.98 312.96L584.37 312.93L584.77 312.88L585.17 312.82L585.56 312.74L585.96 312.64L586.36 312.52L586.75 312.38L587.15 312.21L587.54 312.01L587.94 311.8L588.34 311.56L588.73 311.32L589.13 311.09L589.53 310.88L589.92 310.73L590.32 310.65L590.71 310.66L591.11 310.76L591.51 310.93L591.9 311.14L592.3 311.38L592.7 311.63L593.09 311.86L593.49 312.08L593.88 312.27L594.28 312.44L594.68 312.58L595.07 312.7L595.47 312.8L595.87 312.88L596.26 312.94L596.66 312.99L597.05 313.02L597.45 313.05L597.85 313.08L598.24 313.1L598.64 313.12L599.04 313.13L599.43 313.14L599.83 313.15L600.22 313.16L600.62 313.17L601.02 313.18L601.41 313.19L601.81 313.19L602.21 313.2L602.6 313.2L603 313.21L603.39 313.21L603.79 313.22L604.19 313.22L604.58 313.22L604.98 313.23L605.38 313.23L605.77 313.23L606.17 313.24L606.56 313.24L606.96 313.24L607.36 313.24L607.75 313.24L608.15 313.25L608.55 313.25L608.94 313.25L609.34 313.25L609.73 313.25L610.13 313.25L610.53 313.25L610.92 313.26L611.32 313.26L611.72 313.26L612.11 313.26L612.51 313.26L612.9 313.26L613.3 313.26L613.7 313.26L614.09 313.26L614.49 313.26L614.88 313.26L615.28 313.26L615.68 313.26L616.07 313.26L616.47 313.26L616.87 313.26L617.26 313.26L617.66 313.26L618.06 313.26L618.45 313.26L618.85 313.26L619.24 313.26L619.64 313.26L620.04 313.26L620.43 313.26L620.83 313.26L621.23 313.26L621.62 313.26L622.02 313.26L622.41 313.25L622.81 313.25L623.21 313.25L623.6 313.25L624 313.25L624.39 313.25L624.79 313.25L625.19 313.25L625.58 313.24L625.98 313.24L626.38 313.24L626.77 313.24L627.17 313.24L627.57 313.23L627.96 313.23L628.36 313.23L628.75 313.23L629.15 313.22L629.55 313.22L629.94 313.22L630.34 313.21L630.74 313.21L631.13 313.21L631.53 313.2L631.92 313.2L632.32 313.19L632.72 313.19L633.11 313.18L633.51 313.18L633.91 313.17L634.3 313.17L634.7 313.16L635.09 313.15L635.49 313.15L635.89 313.14L636.28 313.13L636.68 313.12L637.08 313.11L637.47 313.1L637.87 313.09L638.26 313.08L638.66 313.07L639.06 313.06L639.45 313.05L639.85 313.03L640.25 313.01L640.64 313L641.04 312.98L641.43 312.96L641.83 312.94L642.23 312.92L642.62 312.89L643.02 312.86L643.41 312.83L643.81 312.8L644.21 312.76L644.6 312.71L645 312.67L645.4 312.61L645.79 312.54L646.19 312.46L646.59 312.37L646.98 312.26L647.38 312.13L647.77 311.98L648.17 311.79L648.57 311.57L648.96 311.31L649.36 311L649.76 310.65L650.15 310.24L650.55 309.77L650.94 309.25L651.34 308.67L651.74 308.03L652.13 307.34L652.53 306.62L652.93 305.88L653.32 305.14L653.72 304.42L654.11 303.77L654.51 303.22L654.91 302.82L655.3 302.6L655.7 302.58L656.1 302.76L656.49 303.13L656.89 303.65L657.28 304.29L657.68 304.99L658.08 305.73L658.47 306.48L658.87 307.21L659.27 307.9L659.66 308.55L660.06 309.14L660.45 309.68L660.85 310.16L661.25 310.58L661.64 310.95L662.04 311.26L662.44 311.53L662.83 311.76L663.23 311.95L663.62 312.11L664.02 312.25L664.42 312.36L664.81 312.46L665.21 312.54L665.61 312.61L666 312.67L666.4 312.72L666.79 312.76L667.19 312.8L667.59 312.84L667.98 312.87L668.38 312.9L668.78 312.93L669.17 312.95L669.57 312.97L669.96 312.99L670.36 313.01L670.76 313.03L671.15 313.05L671.55 313.06L671.95 313.08L672.34 313.09L672.74 313.1L673.13 313.11L673.53 313.12L673.93 313.13L674.32 313.14L674.72 313.15L675.12 313.16L675.51 313.17L675.91 313.18L676.3 313.19L676.7 313.19" stroke="#4fd98f" stroke-width="0.95" fill="none" stroke-linejoin="round"/>
<path d="M486.5 356.01L486.9 356.01L487.29 356L487.69 356L488.08 355.99L488.48 355.99L488.88 355.98L489.27 355.98L489.67 355.97L490.07 355.97L490.46 355.96L490.86 355.96L491.25 355.95L491.65 355.94L492.05 355.93L492.44 355.93L492.84 355.92L493.24 355.91L493.63 355.9L494.03 355.89L494.43 355.88L494.82 355.87L495.22 355.86L495.61 355.84L496.01 355.83L496.41 355.82L496.8 355.8L497.2 355.78L497.6 355.76L497.99 355.75L498.39 355.72L498.78 355.7L499.18 355.68L499.58 355.65L499.97 355.62L500.37 355.6L500.76 355.56L501.16 355.53L501.56 355.49L501.95 355.46L502.35 355.42L502.75 355.37L503.14 355.33L503.54 355.28L503.94 355.23L504.33 355.18L504.73 355.12L505.12 355.07L505.52 355.01L505.92 354.94L506.31 354.88L506.71 354.81L507.11 354.74L507.5 354.67L507.9 354.6L508.29 354.52L508.69 354.45L509.09 354.37L509.48 354.29L509.88 354.21L510.28 354.14L510.67 354.06L511.07 353.98L511.46 353.91L511.86 353.84L512.26 353.77L512.65 353.71L513.05 353.65L513.45 353.6L513.84 353.55L514.24 353.51L514.63 353.48L515.03 353.45L515.43 353.43L515.82 353.42L516.22 353.42L516.62 353.43L517.01 353.44L517.41 353.46L517.8 353.49L518.2 353.52L518.6 353.55L518.99 353.59L519.39 353.64L519.78 353.68L520.18 353.73L520.58 353.77L520.97 353.82L521.37 353.86L521.77 353.91L522.16 353.95L522.56 353.99L522.96 354.02L523.35 354.06L523.75 354.09L524.14 354.11L524.54 354.13L524.94 354.14L525.33 354.15L525.73 354.15L526.12 354.14L526.52 354.13L526.92 354.1L527.31 354.07L527.71 354.03L528.11 353.97L528.5 353.9L528.9 353.82L529.29 353.71L529.69 353.58L530.09 353.43L530.48 353.24L530.88 353L531.28 352.71L531.67 352.36L532.07 351.92L532.47 351.38L532.86 350.72L533.26 349.92L533.65 348.95L534.05 347.8L534.45 346.45L534.84 344.89L535.24 343.11L535.63 341.11L536.03 338.91L536.43 336.54L536.82 334.06L537.22 331.53L537.62 329.07L538.01 326.81L538.41 324.92L538.81 323.57L539.2 322.89L539.6 322.97L539.99 323.8L540.39 325.29L540.79 327.28L541.18 329.6L541.58 332.1L541.98 334.64L542.37 337.12L542.77 339.47L543.16 341.64L543.56 343.61L543.96 345.37L544.35 346.9L544.75 348.23L545.14 349.35L545.54 350.3L545.94 351.1L546.33 351.75L546.73 352.29L547.13 352.74L547.52 353.11L547.92 353.41L548.32 353.67L548.71 353.88L549.11 354.06L549.5 354.22L549.9 354.36L550.3 354.48L550.69 354.59L551.09 354.69L551.49 354.78L551.88 354.85L552.28 354.93L552.67 354.99L553.07 355.06L553.47 355.11L553.86 355.17L554.26 355.21L554.65 355.26L555.05 355.3L555.45 355.34L555.84 355.38L556.24 355.41L556.64 355.44L557.03 355.47L557.43 355.5L557.83 355.53L558.22 355.55L558.62 355.58L559.01 355.6L559.41 355.62L559.81 355.64L560.2 355.66L560.6 355.68L561 355.69L561.39 355.71L561.79 355.72L562.18 355.74L562.58 355.75L562.98 355.76L563.37 355.78L563.77 355.79L564.16 355.8L564.56 355.81L564.96 355.82L565.35 355.83L565.75 355.84L566.15 355.85L566.54 355.85L566.94 355.86L567.34 355.87L567.73 355.88L568.13 355.88L568.52 355.89L568.92 355.9L569.32 355.9L569.71 355.91L570.11 355.91L570.5 355.92L570.9 355.92L571.3 355.93L571.69 355.93L572.09 355.93L572.49 355.94L572.88 355.94L573.28 355.95L573.67 355.95L574.07 355.95L574.47 355.95L574.86 355.96L575.26 355.96L575.66 355.96L576.05 355.96L576.45 355.96L576.85 355.96L577.24 355.96L577.64 355.96L578.03 355.96L578.43 355.96L578.83 355.96L579.22 355.96L579.62 355.95L580.01 355.95L580.41 355.95L580.81 355.94L581.2 355.94L581.6 355.93L582 355.92L582.39 355.91L582.79 355.9L583.19 355.88L583.58 355.86L583.98 355.83L584.37 355.8L584.77 355.75L585.17 355.7L585.56 355.63L585.96 355.54L586.36 355.43L586.75 355.29L587.15 355.14L587.54 354.95L587.94 354.75L588.34 354.54L588.73 354.31L589.13 354.1L589.53 353.91L589.92 353.76L590.32 353.69L590.71 353.7L591.11 353.79L591.51 353.95L591.9 354.15L592.3 354.37L592.7 354.59L593.09 354.81L593.49 355.01L593.88 355.19L594.28 355.35L594.68 355.48L595.07 355.59L595.47 355.67L595.87 355.74L596.26 355.8L596.66 355.85L597.05 355.88L597.45 355.91L597.85 355.93L598.24 355.95L598.64 355.97L599.04 355.98L599.43 355.99L599.83 356L600.22 356.01L600.62 356.02L601.02 356.02L601.41 356.03L601.81 356.04L602.21 356.04L602.6 356.05L603 356.05L603.39 356.05L603.79 356.06L604.19 356.06L604.58 356.06L604.98 356.07L605.38 356.07L605.77 356.07L606.17 356.07L606.56 356.08L606.96 356.08L607.36 356.08L607.75 356.08L608.15 356.08L608.55 356.08L608.94 356.09L609.34 356.09L609.73 356.09L610.13 356.09L610.53 356.09L610.92 356.09L611.32 356.09L611.72 356.09L612.11 356.09L612.51 356.09L612.9 356.09L613.3 356.1L613.7 356.1L614.09 356.1L614.49 356.1L614.88 356.1L615.28 356.1L615.68 356.1L616.07 356.1L616.47 356.1L616.87 356.1L617.26 356.1L617.66 356.1L618.06 356.1L618.45 356.1L618.85 356.1L619.24 356.1L619.64 356.1L620.04 356.1L620.43 356.1L620.83 356.09L621.23 356.09L621.62 356.09L622.02 356.09L622.41 356.09L622.81 356.09L623.21 356.09L623.6 356.09L624 356.09L624.39 356.09L624.79 356.09L625.19 356.08L625.58 356.08L625.98 356.08L626.38 356.08L626.77 356.08L627.17 356.08L627.57 356.08L627.96 356.07L628.36 356.07L628.75 356.07L629.15 356.07L629.55 356.06L629.94 356.06L630.34 356.06L630.74 356.06L631.13 356.05L631.53 356.05L631.92 356.05L632.32 356.04L632.72 356.04L633.11 356.04L633.51 356.03L633.91 356.03L634.3 356.02L634.7 356.02L635.09 356.01L635.49 356.01L635.89 356L636.28 356L636.68 355.99L637.08 355.98L637.47 355.97L637.87 355.97L638.26 355.96L638.66 355.95L639.06 355.94L639.45 355.93L639.85 355.92L640.25 355.9L640.64 355.89L641.04 355.88L641.43 355.86L641.83 355.85L642.23 355.83L642.62 355.81L643.02 355.79L643.41 355.76L643.81 355.73L644.21 355.71L644.6 355.67L645 355.63L645.4 355.59L645.79 355.54L646.19 355.48L646.59 355.4L646.98 355.32L647.38 355.22L647.77 355.1L648.17 354.95L648.57 354.78L648.96 354.58L649.36 354.34L649.76 354.06L650.15 353.75L650.55 353.38L650.94 352.98L651.34 352.52L651.74 352.03L652.13 351.49L652.53 350.93L652.93 350.35L653.32 349.78L653.72 349.22L654.11 348.71L654.51 348.29L654.91 347.98L655.3 347.81L655.7 347.79L656.1 347.93L656.49 348.22L656.89 348.62L657.28 349.12L657.68 349.66L658.08 350.24L658.47 350.82L658.87 351.39L659.27 351.93L659.66 352.43L660.06 352.89L660.45 353.31L660.85 353.68L661.25 354.01L661.64 354.29L662.04 354.54L662.44 354.75L662.83 354.93L663.23 355.08L663.62 355.2L664.02 355.31L664.42 355.4L664.81 355.47L665.21 355.53L665.61 355.59L666 355.63L666.4 355.67L666.79 355.71L667.19 355.74L667.59 355.77L667.98 355.79L668.38 355.81L668.78 355.83L669.17 355.85L669.57 355.87L669.96 355.89L670.36 355.9L670.76 355.92L671.15 355.93L671.55 355.94L671.95 355.95L672.34 355.96L672.74 355.97L673.13 355.98L673.53 355.99L673.93 356L674.32 356L674.72 356.01L675.12 356.02L675.51 356.02L675.91 356.03L676.3 356.04L676.7 356.04" stroke="#36dcc2" stroke-width="0.95" fill="none" stroke-linejoin="round"/>
<path d="M486.5 399.42L486.9 399.42L487.29 399.42L487.69 399.42L488.08 399.42L488.48 399.41L488.88 399.41L489.27 399.41L489.67 399.41L490.07 399.41L490.46 399.41L490.86 399.41L491.25 399.4L491.65 399.4L492.05 399.4L492.44 399.4L492.84 399.4L493.24 399.4L493.63 399.39L494.03 399.39L494.43 399.39L494.82 399.39L495.22 399.39L495.61 399.39L496.01 399.38L496.41 399.38L496.8 399.38L497.2 399.38L497.6 399.37L497.99 399.37L498.39 399.37L498.78 399.37L499.18 399.36L499.58 399.36L499.97 399.36L500.37 399.36L500.76 399.35L501.16 399.35L501.56 399.35L501.95 399.34L502.35 399.34L502.75 399.34L503.14 399.33L503.54 399.33L503.94 399.33L504.33 399.32L504.73 399.32L505.12 399.32L505.52 399.31L505.92 399.31L506.31 399.3L506.71 399.3L507.11 399.29L507.5 399.29L507.9 399.28L508.29 399.28L508.69 399.27L509.09 399.27L509.48 399.26L509.88 399.25L510.28 399.25L510.67 399.24L511.07 399.23L511.46 399.23L511.86 399.22L512.26 399.21L512.65 399.2L513.05 399.19L513.45 399.18L513.84 399.17L514.24 399.16L514.63 399.15L515.03 399.14L515.43 399.13L515.82 399.12L516.22 399.1L516.62 399.09L517.01 399.08L517.41 399.06L517.8 399.05L518.2 399.03L518.6 399.01L518.99 398.99L519.39 398.97L519.78 398.95L520.18 398.93L520.58 398.91L520.97 398.88L521.37 398.86L521.77 398.83L522.16 398.8L522.56 398.77L522.96 398.73L523.35 398.7L523.75 398.66L524.14 398.62L524.54 398.57L524.94 398.52L525.33 398.47L525.73 398.41L526.12 398.35L526.52 398.28L526.92 398.21L527.31 398.13L527.71 398.04L528.11 397.94L528.5 397.83L528.9 397.71L529.29 397.57L529.69 397.41L530.09 397.22L530.48 397L530.88 396.73L531.28 396.42L531.67 396.03L532.07 395.57L532.47 395.01L532.86 394.32L533.26 393.5L533.65 392.51L534.05 391.34L534.45 389.97L534.84 388.38L535.24 386.58L535.63 384.56L536.03 382.33L536.43 379.94L536.82 377.43L537.22 374.88L537.62 372.4L538.01 370.12L538.41 368.21L538.81 366.84L539.2 366.15L539.6 366.23L539.99 367.06L540.39 368.55L540.79 370.55L541.18 372.88L541.58 375.39L541.98 377.94L542.37 380.43L542.77 382.79L543.16 384.98L543.56 386.95L543.96 388.72L544.35 390.26L544.75 391.59L545.14 392.72L545.54 393.67L545.94 394.47L546.33 395.12L546.73 395.67L547.13 396.11L547.52 396.48L547.92 396.79L548.32 397.04L548.71 397.25L549.11 397.44L549.5 397.59L549.9 397.73L550.3 397.85L550.69 397.96L551.09 398.05L551.49 398.14L551.88 398.22L552.28 398.29L552.67 398.36L553.07 398.42L553.47 398.47L553.86 398.52L554.26 398.57L554.65 398.62L555.05 398.66L555.45 398.7L555.84 398.73L556.24 398.77L556.64 398.8L557.03 398.83L557.43 398.85L557.83 398.88L558.22 398.9L558.62 398.93L559.01 398.95L559.41 398.97L559.81 398.99L560.2 399L560.6 399.02L561 399.04L561.39 399.05L561.79 399.07L562.18 399.08L562.58 399.09L562.98 399.1L563.37 399.12L563.77 399.13L564.16 399.14L564.56 399.15L564.96 399.16L565.35 399.17L565.75 399.17L566.15 399.18L566.54 399.19L566.94 399.2L567.34 399.2L567.73 399.21L568.13 399.22L568.52 399.22L568.92 399.23L569.32 399.23L569.71 399.24L570.11 399.24L570.5 399.25L570.9 399.25L571.3 399.26L571.69 399.26L572.09 399.26L572.49 399.27L572.88 399.27L573.28 399.27L573.67 399.28L574.07 399.28L574.47 399.28L574.86 399.28L575.26 399.28L575.66 399.28L576.05 399.29L576.45 399.29L576.85 399.29L577.24 399.29L577.64 399.29L578.03 399.29L578.43 399.28L578.83 399.28L579.22 399.28L579.62 399.28L580.01 399.27L580.41 399.27L580.81 399.26L581.2 399.26L581.6 399.25L582 399.24L582.39 399.23L582.79 399.22L583.19 399.2L583.58 399.18L583.98 399.15L584.37 399.12L584.77 399.07L585.17 399.02L585.56 398.95L585.96 398.86L586.36 398.74L586.75 398.61L587.15 398.45L587.54 398.27L587.94 398.07L588.34 397.85L588.73 397.63L589.13 397.41L589.53 397.22L589.92 397.08L590.32 397.01L590.71 397.02L591.11 397.11L591.51 397.26L591.9 397.46L592.3 397.69L592.7 397.91L593.09 398.13L593.49 398.33L593.88 398.51L594.28 398.66L594.68 398.79L595.07 398.9L595.47 398.99L595.87 399.06L596.26 399.12L596.66 399.16L597.05 399.2L597.45 399.22L597.85 399.25L598.24 399.26L598.64 399.28L599.04 399.29L599.43 399.3L599.83 399.31L600.22 399.32L600.62 399.33L601.02 399.34L601.41 399.34L601.81 399.35L602.21 399.35L602.6 399.36L603 399.36L603.39 399.37L603.79 399.37L604.19 399.37L604.58 399.38L604.98 399.38L605.38 399.38L605.77 399.38L606.17 399.39L606.56 399.39L606.96 399.39L607.36 399.39L607.75 399.39L608.15 399.39L608.55 399.4L608.94 399.4L609.34 399.4L609.73 399.4L610.13 399.4L610.53 399.4L610.92 399.4L611.32 399.4L611.72 399.4L612.11 399.4L612.51 399.4L612.9 399.41L613.3 399.41L613.7 399.41L614.09 399.41L614.49 399.41L614.88 399.41L615.28 399.41L615.68 399.41L616.07 399.41L616.47 399.41L616.87 399.41L617.26 399.41L617.66 399.41L618.06 399.41L618.45 399.41L618.85 399.41L619.24 399.41L619.64 399.4L620.04 399.4L620.43 399.4L620.83 399.4L621.23 399.4L621.62 399.4L622.02 399.4L622.41 399.4L622.81 399.4L623.21 399.4L623.6 399.4L624 399.4L624.39 399.4L624.79 399.39L625.19 399.39L625.58 399.39L625.98 399.39L626.38 399.39L626.77 399.39L627.17 399.38L627.57 399.38L627.96 399.38L628.36 399.38L628.75 399.38L629.15 399.37L629.55 399.37L629.94 399.37L630.34 399.37L630.74 399.36L631.13 399.36L631.53 399.36L631.92 399.35L632.32 399.35L632.72 399.35L633.11 399.34L633.51 399.34L633.91 399.34L634.3 399.33L634.7 399.33L635.09 399.32L635.49 399.31L635.89 399.31L636.28 399.3L636.68 399.3L637.08 399.29L637.47 399.28L637.87 399.27L638.26 399.26L638.66 399.26L639.06 399.25L639.45 399.23L639.85 399.22L640.25 399.21L640.64 399.2L641.04 399.18L641.43 399.17L641.83 399.15L642.23 399.13L642.62 399.11L643.02 399.09L643.41 399.07L643.81 399.04L644.21 399.01L644.6 398.98L645 398.94L645.4 398.89L645.79 398.84L646.19 398.78L646.59 398.71L646.98 398.62L647.38 398.52L647.77 398.4L648.17 398.26L648.57 398.09L648.96 397.88L649.36 397.65L649.76 397.37L650.15 397.05L650.55 396.69L650.94 396.28L651.34 395.83L651.74 395.33L652.13 394.8L652.53 394.24L652.93 393.66L653.32 393.08L653.72 392.53L654.11 392.02L654.51 391.59L654.91 391.28L655.3 391.11L655.7 391.09L656.1 391.24L656.49 391.52L656.89 391.93L657.28 392.42L657.68 392.97L658.08 393.55L658.47 394.13L658.87 394.69L659.27 395.23L659.66 395.73L660.06 396.2L660.45 396.61L660.85 396.99L661.25 397.31L661.64 397.6L662.04 397.84L662.44 398.05L662.83 398.23L663.23 398.38L663.62 398.51L664.02 398.61L664.42 398.7L664.81 398.77L665.21 398.84L665.61 398.89L666 398.94L666.4 398.98L666.79 399.01L667.19 399.04L667.59 399.07L667.98 399.1L668.38 399.12L668.78 399.14L669.17 399.16L669.57 399.18L669.96 399.19L670.36 399.21L670.76 399.22L671.15 399.23L671.55 399.24L671.95 399.26L672.34 399.27L672.74 399.28L673.13 399.28L673.53 399.29L673.93 399.3L674.32 399.31L674.72 399.32L675.12 399.32L675.51 399.33L675.91 399.33L676.3 399.34L676.7 399.35" stroke="#4373f2" stroke-width="0.95" fill="none" stroke-linejoin="round"/>
<g stroke="#111" stroke-width="0.8" stroke-dasharray="3.6 2.4" fill="none"><path d="M515.5 299.4V403.6"/><path d="M539.4 268V403.6"/><path d="M590.5 305.5V403.6"/><path d="M655.5 299V403.6"/></g>
<text x="500.9" y="253.7" font-size="9.4" fill="#3fd690" text-anchor="start" font-weight="normal" >[SbCl<tspan font-size="5.8" dy="2.2">6</tspan><tspan dy="-2.2">]</tspan><tspan font-size="5.8" dy="-3.2">3-</tspan></text>
<text x="592.8" y="253.7" font-size="9.4" fill="#3a22e8" text-anchor="start" font-weight="normal" >[ScCl<tspan font-size="5.8" dy="2.2">6</tspan><tspan dy="-2.2">]</tspan><tspan font-size="5.8" dy="-3.2">3-</tspan></text>
<text x="497.5" y="296.8" font-size="9.8" fill="#3fd690" text-anchor="start" font-weight="normal" >T<tspan font-size="5.8" dy="2.2">2g</tspan></text>
<text x="544.5" y="274" font-size="9.8" fill="#3a22e8" text-anchor="start" font-weight="normal" >T<tspan font-size="5.8" dy="2.2">2g</tspan></text>
<text x="586.9" y="299.1" font-size="9.8" fill="#3a22e8" text-anchor="start" font-weight="normal" >E<tspan font-size="5.8" dy="2.2">g</tspan></text>
<text x="652.2" y="294.5" font-size="9.8" fill="#3a22e8" text-anchor="start" font-weight="normal" >A<tspan font-size="5.8" dy="2.2">1g</tspan></text>
<text x="603.3" y="306.4" font-size="9" fill="#111" text-anchor="start" font-weight="normal" >1.25%Sb<tspan font-size="6.3" dy="-3.4">3+</tspan></text>
<text x="602.5" y="349.3" font-size="9" fill="#111" text-anchor="start" font-weight="normal" >0.75%Sb<tspan font-size="6.3" dy="-3.4">3+</tspan></text>
<text x="627.5" y="395.5" font-size="9" fill="#111" text-anchor="start" font-weight="normal" >Host</text>
<polygon points="515.3,259.5 530.4,275.7 516,290.6 500.6,274.8" fill="#a8dcae" fill-opacity="0.85"/>
<polygon points="515.3,259.5 510.3,278.1 516,290.6 520.7,272.5" fill="#fff" fill-opacity="0.5"/>
<polygon points="500.6,274.8 510.3,278.1 530.4,275.7 520.7,272.5" fill="#fff" fill-opacity="0.28"/>
<circle cx="515.5" cy="275.3" r="2.9" fill="url(#gSb)" stroke="#62c684" stroke-width="0.5"/>
<circle cx="520.7" cy="272.5" r="1.15" fill="url(#gCl)" stroke="#7a6a3a" stroke-width="0.45"/>
<circle cx="515.3" cy="259.5" r="1.15" fill="url(#gCl)" stroke="#7a6a3a" stroke-width="0.45"/>
<circle cx="516" cy="290.6" r="1.15" fill="url(#gCl)" stroke="#7a6a3a" stroke-width="0.45"/>
<circle cx="500.6" cy="274.8" r="1.15" fill="url(#gCl)" stroke="#7a6a3a" stroke-width="0.45"/>
<circle cx="530.4" cy="275.7" r="1.15" fill="url(#gCl)" stroke="#7a6a3a" stroke-width="0.45"/>
<circle cx="510.3" cy="278.1" r="1.15" fill="url(#gCl)" stroke="#7a6a3a" stroke-width="0.45"/>
<polygon points="606.7,258.1 621.8,274.3 607.4,289.2 592,273.4" fill="#9db6e6" fill-opacity="0.85"/>
<polygon points="606.7,258.1 601.7,276.7 607.4,289.2 612.1,271.1" fill="#fff" fill-opacity="0.5"/>
<polygon points="592,273.4 601.7,276.7 621.8,274.3 612.1,271.1" fill="#fff" fill-opacity="0.28"/>
<circle cx="606.9" cy="273.9" r="2.9" fill="url(#gSc)" stroke="#6d8fd6" stroke-width="0.5"/>
<circle cx="612.1" cy="271.1" r="1.15" fill="url(#gCl)" stroke="#7a6a3a" stroke-width="0.45"/>
<circle cx="606.7" cy="258.1" r="1.15" fill="url(#gCl)" stroke="#7a6a3a" stroke-width="0.45"/>
<circle cx="607.4" cy="289.2" r="1.15" fill="url(#gCl)" stroke="#7a6a3a" stroke-width="0.45"/>
<circle cx="592" cy="273.4" r="1.15" fill="url(#gCl)" stroke="#7a6a3a" stroke-width="0.45"/>
<circle cx="621.8" cy="274.3" r="1.15" fill="url(#gCl)" stroke="#7a6a3a" stroke-width="0.45"/>
<circle cx="601.7" cy="276.7" r="1.15" fill="url(#gCl)" stroke="#7a6a3a" stroke-width="0.45"/>
</g>
</svg>
</body></html>
